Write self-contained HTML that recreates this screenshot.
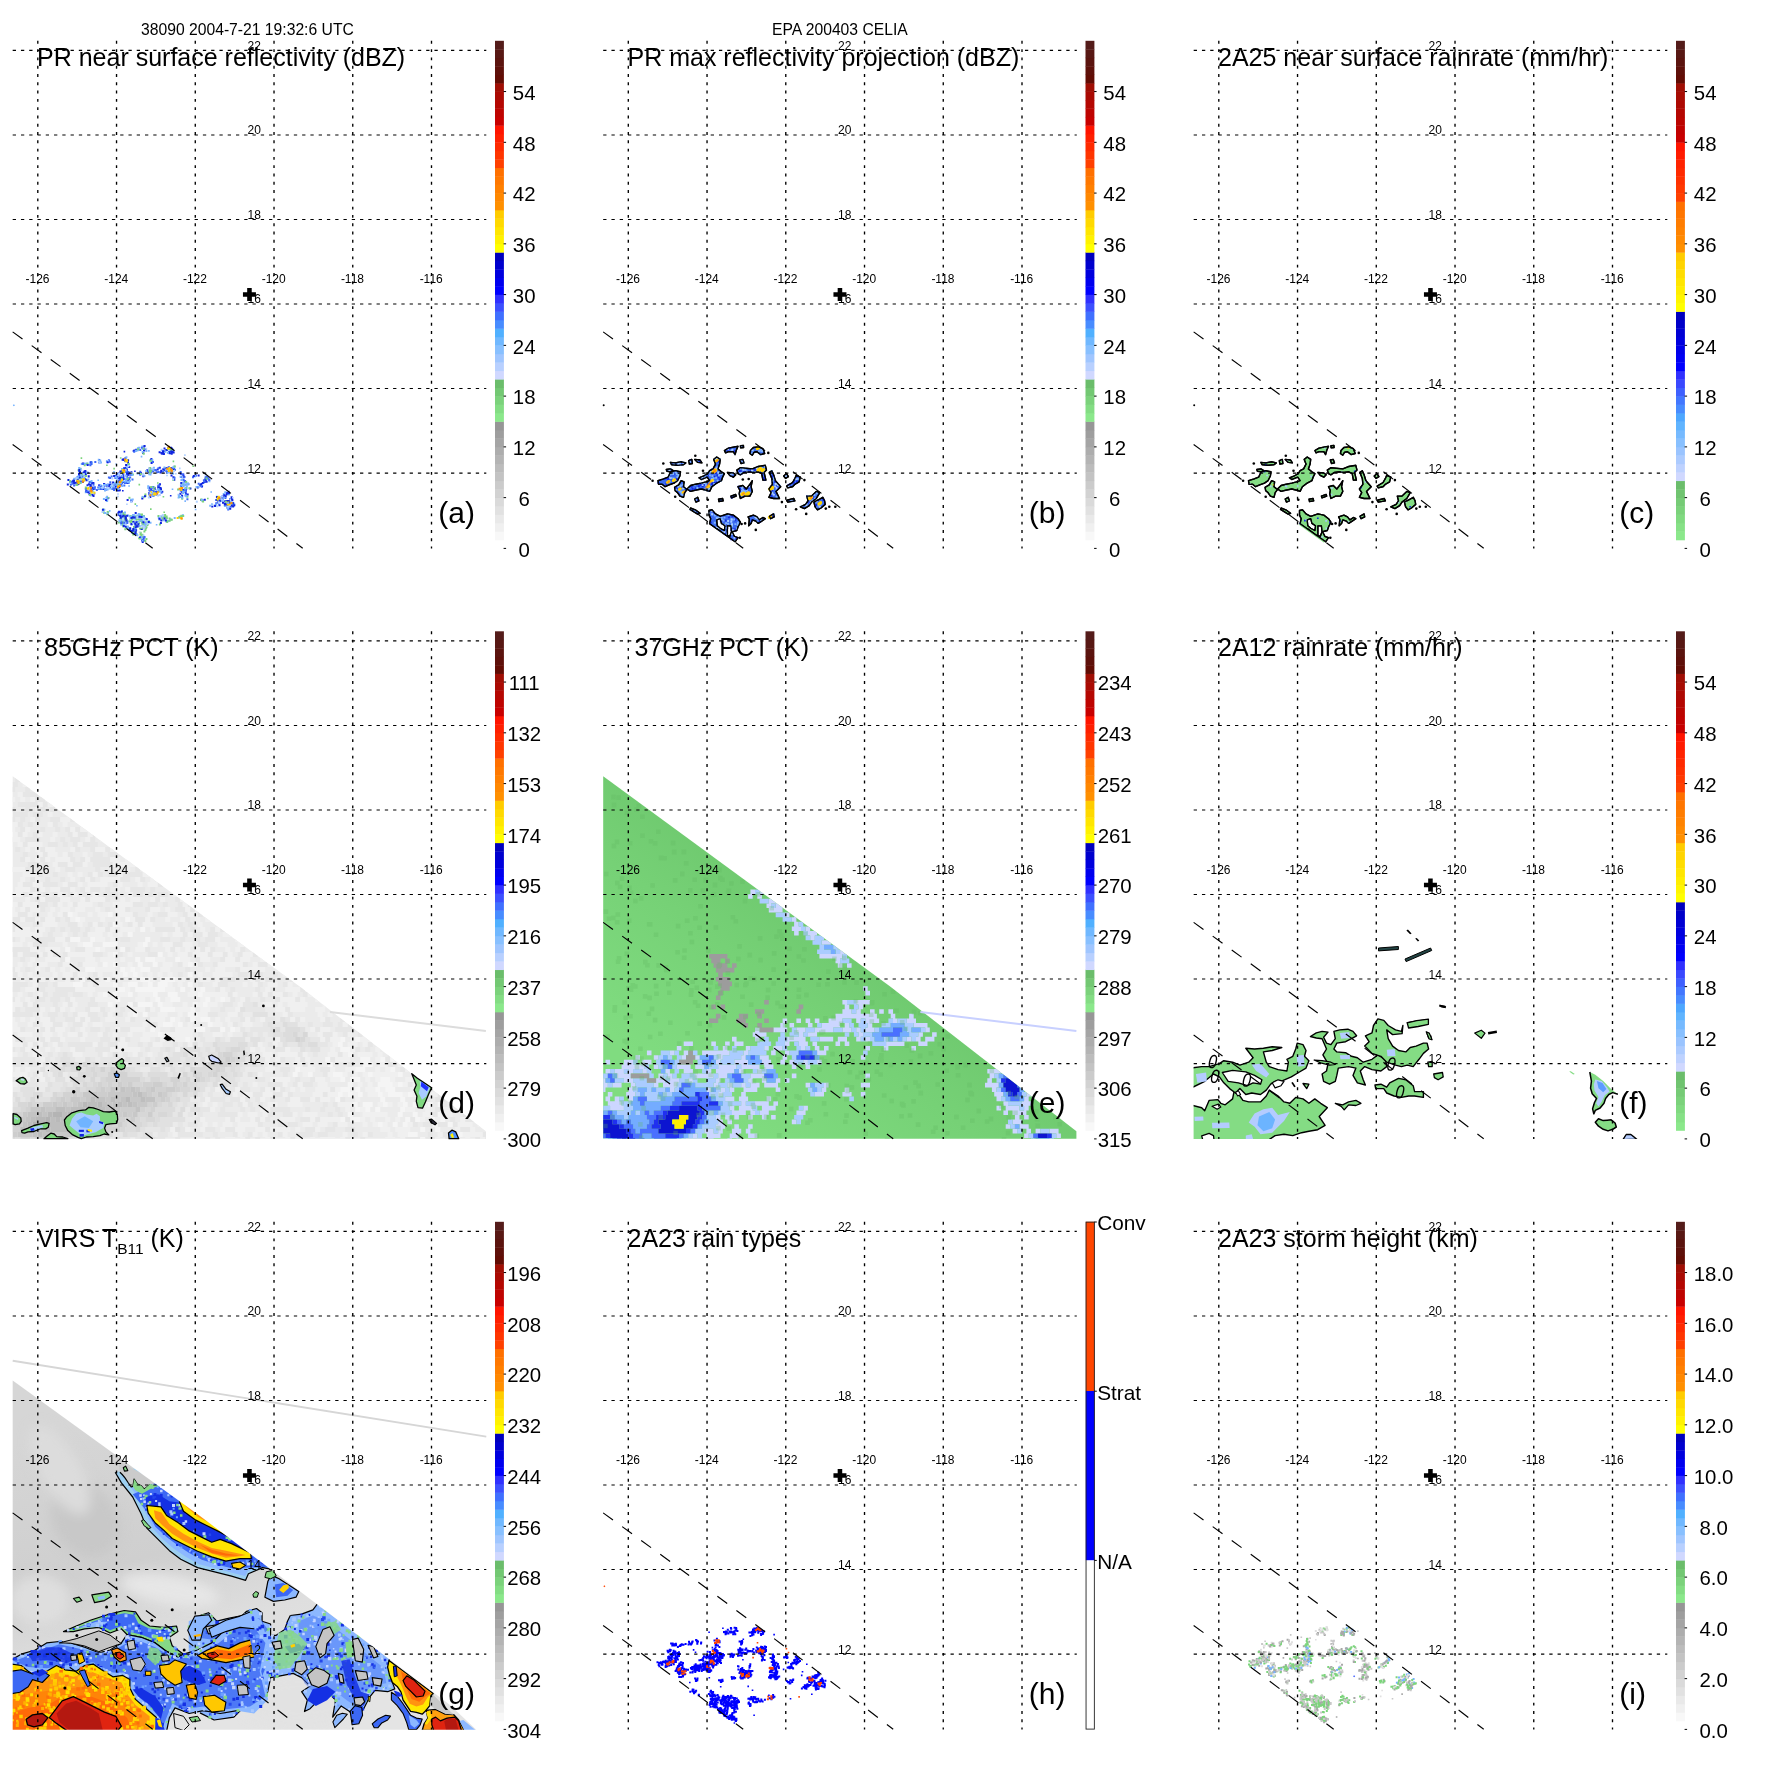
<!DOCTYPE html>
<html><head><meta charset="utf-8"><title>TRMM overpass 38090 - EPA 200403 CELIA</title>
<style>
html,body{margin:0;padding:0;background:#fff;}
svg{display:block;}
text{font-family:"Liberation Sans",Arial,Helvetica,sans-serif;fill:#000;}
.gl{font-size:12px;}
.cb{font-size:20.4px;}
.tt{font-size:25px;}
.pl{font-size:30px;}
.hd{font-size:15.7px;}
</style></head>
<body>
<svg width="1771" height="1771" viewBox="0 0 1771 1771">
<rect width="1771" height="1771" fill="#fff"/>
<defs><filter id="bl6" x="-50%" y="-50%" width="200%" height="200%"><feGaussianBlur stdDeviation="6"/></filter><filter id="bl3" x="-50%" y="-50%" width="200%" height="200%"><feGaussianBlur stdDeviation="3"/></filter><filter id="bl12" x="-50%" y="-50%" width="200%" height="200%"><feGaussianBlur stdDeviation="12"/></filter><clipPath id="clipd"><path d="M12.7 776.2L300 986.8L485.9 1131.3V1138.7H12.7Z"/></clipPath><clipPath id="clipe"><path d="M603.2 776.2L890.5 986.8L1076.4 1131.3V1138.7H603.2Z"/></clipPath></defs><defs><filter id="noop" filterUnits="userSpaceOnUse" x="0" y="0" width="1771" height="1771"><feOffset dx="0" dy="0"/></filter></defs><g filter="url(#noop)"><text x="141" y="34.6" class="hd">38090 2004-7-21 19:32:6 UTC</text>
<text x="772" y="34.6" class="hd">EPA 200403 CELIA</text>
<path d="M147.5 524.9h.01M135.3 529.0h.01M123.3 517.4h.01M140.1 519.4h.01M144.6 518.8h.01M144.4 531.5h.01M125.2 515.5h.01M136.4 519.7h.01M126.5 528.0h.01M124.2 520.7h.01M133.2 534.4h.01M138.3 522.3h.01M123.2 523.5h.01M137.1 518.5h.01M139.9 515.4h.01M132.5 532.1h.01M122.9 525.3h.01M143.4 540.4h.01M141.5 536.5h.01M144.3 520.9h.01M124.6 519.6h.01M145.3 541.0h.01M136.5 524.1h.01M125.0 516.6h.01M133.8 517.9h.01M145.3 522.4h.01M142.7 525.1h.01M130.4 516.1h.01M142.4 534.8h.01M141.5 516.9h.01M133.3 515.5h.01M148.2 523.5h.01M136.6 518.4h.01M131.7 516.4h.01M120.2 518.8h.01M135.5 529.9h.01M124.6 524.1h.01M129.3 528.4h.01M133.2 532.4h.01M121.6 520.0h.01M123.5 520.9h.01M139.0 514.8h.01M135.7 532.3h.01M136.4 516.4h.01M135.9 519.0h.01M140.1 528.4h.01M120.8 520.1h.01M143.9 515.9h.01M135.8 533.7h.01M123.3 513.3h.01M124.7 514.6h.01M143.9 521.9h.01M146.5 527.3h.01M141.4 520.0h.01M141.9 522.7h.01M123.4 526.6h.01M135.9 523.2h.01M127.0 527.9h.01M125.7 519.0h.01M139.2 538.3h.01M143.8 522.7h.01M139.3 514.8h.01M146.9 523.4h.01M126.7 519.8h.01M134.0 527.0h.01M121.8 518.3h.01M136.6 516.9h.01M134.3 515.9h.01M123.0 514.6h.01M137.0 526.5h.01M130.7 522.6h.01M135.0 533.3h.01M122.4 522.2h.01M125.8 517.3h.01M120.1 521.6h.01M140.5 538.4h.01M124.5 521.0h.01M124.8 516.2h.01M139.7 520.2h.01M140.1 538.4h.01M132.1 521.5h.01M121.0 522.4h.01M129.7 521.2h.01M132.6 519.1h.01M145.9 528.3h.01M119.7 513.7h.01M125.0 516.5h.01M130.7 519.0h.01M123.2 525.2h.01M122.7 524.2h.01M143.1 536.9h.01M122.8 521.2h.01M130.9 520.5h.01M131.4 530.7h.01M121.1 520.3h.01M137.5 518.5h.01M134.4 522.8h.01M140.1 514.6h.01M134.9 530.6h.01M131.2 521.2h.01M125.9 522.1h.01M145.4 530.1h.01M132.5 530.8h.01M124.4 525.4h.01M143.7 528.1h.01M141.7 515.9h.01M138.5 519.2h.01M141.2 521.1h.01M139.1 523.2h.01M125.3 529.2h.01M136.3 523.9h.01M138.0 524.7h.01M140.5 534.6h.01M146.4 538.9h.01M134.4 527.6h.01M125.2 522.4h.01M140.7 532.7h.01M118.9 522.5h.01M131.4 518.8h.01M134.8 526.7h.01M148.9 521.2h.01M133.6 532.9h.01M140.9 528.9h.01M143.6 523.6h.01M144.8 524.7h.01M133.7 532.5h.01M142.0 514.4h.01M123.8 521.0h.01M129.7 529.6h.01" stroke="#7cd47c" stroke-width="2.0" stroke-linecap="square" fill="none"/><path d="M145.3 526.4h.01M133.1 515.0h.01M121.0 512.1h.01M136.6 534.0h.01M146.5 524.0h.01M134.1 517.2h.01M139.0 517.2h.01M143.7 516.3h.01M121.2 524.5h.01M121.2 516.4h.01M135.4 522.8h.01M146.3 524.3h.01M134.4 515.2h.01M121.9 511.0h.01M134.9 522.4h.01M140.9 537.1h.01M145.0 523.7h.01M139.8 520.8h.01M142.3 525.5h.01M132.3 530.6h.01M137.6 521.7h.01M130.8 516.7h.01M134.8 528.3h.01M134.7 534.0h.01M139.7 526.1h.01M144.7 537.6h.01M121.2 515.1h.01M142.4 520.5h.01M147.3 521.8h.01M135.9 529.6h.01M121.6 517.5h.01M135.0 519.1h.01M132.2 532.9h.01M137.2 515.5h.01M145.3 518.4h.01M120.6 516.6h.01M123.9 524.5h.01M131.5 524.7h.01M133.2 523.0h.01M142.2 520.7h.01M140.0 515.4h.01M143.7 522.6h.01M135.5 526.4h.01M143.3 516.7h.01M128.4 529.1h.01M147.4 522.6h.01M129.7 516.6h.01M138.7 514.0h.01M128.2 515.6h.01M137.4 535.2h.01M134.9 522.4h.01M146.8 520.3h.01M144.6 537.0h.01M144.0 521.7h.01M121.1 520.5h.01M125.0 512.6h.01M121.4 520.8h.01M141.6 517.7h.01M121.9 516.4h.01M136.9 522.4h.01M120.9 522.0h.01M150.5 522.8h.01M124.2 521.4h.01M121.5 515.4h.01M121.5 513.9h.01M121.6 514.7h.01M139.8 517.8h.01" stroke="#78b4ff" stroke-width="2.0" stroke-linecap="square" fill="none"/><path d="M134.0 519.9h.01M137.5 522.9h.01M125.4 524.6h.01M144.5 527.4h.01M144.7 518.6h.01M144.0 528.4h.01M148.0 523.3h.01M119.4 520.0h.01M125.1 526.4h.01M147.4 523.8h.01M143.5 535.4h.01M133.5 523.4h.01M143.3 526.2h.01M141.8 538.8h.01M142.9 527.0h.01M137.4 518.0h.01M123.0 518.4h.01M148.7 522.5h.01M130.8 523.9h.01M125.4 524.5h.01M125.3 522.6h.01M129.7 530.7h.01M142.6 526.2h.01M126.0 524.0h.01M136.9 523.5h.01M123.1 519.8h.01M147.3 520.7h.01M130.1 519.2h.01M144.2 521.1h.01" stroke="#b0d0ff" stroke-width="2.0" stroke-linecap="square" fill="none"/><path d="M143.4 522.3h.01M121.4 522.7h.01M136.5 522.2h.01M135.7 513.1h.01M143.0 539.5h.01M137.7 526.4h.01M132.9 530.7h.01M135.5 533.4h.01M135.6 524.8h.01M143.5 538.2h.01M122.4 516.5h.01M136.9 526.2h.01M141.5 517.0h.01M141.8 529.1h.01M134.6 533.9h.01M123.6 515.8h.01M125.8 526.7h.01M127.1 515.8h.01M135.5 532.0h.01M135.7 527.2h.01M125.7 518.3h.01M132.8 517.4h.01M133.1 517.2h.01M135.8 530.6h.01M131.4 531.0h.01M121.7 511.7h.01M136.1 530.3h.01M148.8 522.1h.01M129.6 529.7h.01M146.7 519.1h.01M138.4 524.3h.01M134.7 517.6h.01M139.4 516.7h.01M133.4 522.0h.01M135.2 523.7h.01M131.5 517.9h.01" stroke="#1024e0" stroke-width="2.0" stroke-linecap="square" fill="none"/><path d="M162.8 515.5h.01M168.6 521.0h.01M166.7 518.2h.01M163.8 520.3h.01M166.5 521.7h.01M163.7 517.1h.01M160.3 517.2h.01M170.7 519.4h.01M174.7 517.9h.01M160.8 516.5h.01M159.5 519.4h.01M158.7 517.5h.01" stroke="#78b4ff" stroke-width="2.0" stroke-linecap="square" fill="none"/><path d="M166.6 516.6h.01M169.7 520.8h.01M161.0 517.9h.01M161.8 517.8h.01M162.5 519.0h.01M167.2 522.1h.01M159.9 524.4h.01M162.2 519.5h.01M167.3 521.2h.01M162.5 519.2h.01M165.0 517.2h.01M165.1 515.0h.01M158.5 516.0h.01M171.8 519.7h.01M166.7 518.3h.01M169.6 518.6h.01M164.4 516.6h.01" stroke="#7cd47c" stroke-width="2.0" stroke-linecap="square" fill="none"/><path d="M161.3 519.9h.01M163.1 515.4h.01M160.0 516.7h.01M160.5 518.2h.01" stroke="#b0d0ff" stroke-width="2.0" stroke-linecap="square" fill="none"/><path d="M161.3 520.5h.01M165.9 520.5h.01M159.5 518.8h.01M160.9 522.9h.01M164.5 518.6h.01" stroke="#1024e0" stroke-width="2.0" stroke-linecap="square" fill="none"/><path d="M179.9 516.8h.01M179.0 517.3h.01M183.0 515.2h.01" stroke="#78b4ff" stroke-width="2.0" stroke-linecap="square" fill="none"/><path d="M181.4 515.8h.01M181.1 517.1h.01M183.2 515.9h.01M179.1 517.6h.01M180.5 516.6h.01" stroke="#7cd47c" stroke-width="2.0" stroke-linecap="square" fill="none"/><path d="M143.4 497.2h.01M145.5 495.9h.01M145.4 494.5h.01" stroke="#7cd47c" stroke-width="2.0" stroke-linecap="square" fill="none"/><path d="M145.0 496.3h.01M142.3 498.5h.01" stroke="#1024e0" stroke-width="2.0" stroke-linecap="square" fill="none"/><path d="M142.5 496.9h.01" stroke="#78b4ff" stroke-width="2.0" stroke-linecap="square" fill="none"/><path d="M201.1 500.0h.01M202.6 500.6h.01M204.8 499.8h.01" stroke="#1024e0" stroke-width="2.0" stroke-linecap="square" fill="none"/><path d="M202.8 501.2h.01M203.1 501.5h.01M201.2 499.9h.01M201.5 499.8h.01M201.2 499.6h.01" stroke="#7cd47c" stroke-width="2.0" stroke-linecap="square" fill="none"/><path d="M196.8 501.7h.01" stroke="#b0d0ff" stroke-width="2.0" stroke-linecap="square" fill="none"/><path d="M202.0 499.8h.01" stroke="#78b4ff" stroke-width="2.0" stroke-linecap="square" fill="none"/><path d="M103.5 510.6h.01M107.7 511.9h.01M108.1 512.5h.01M104.0 512.8h.01M103.4 509.4h.01M107.2 514.3h.01" stroke="#7cd47c" stroke-width="2.0" stroke-linecap="square" fill="none"/><path d="M105.0 513.0h.01M103.1 510.3h.01M104.3 509.8h.01M107.5 513.4h.01" stroke="#78b4ff" stroke-width="2.0" stroke-linecap="square" fill="none"/><path d="M102.5 512.0h.01" stroke="#b0d0ff" stroke-width="2.0" stroke-linecap="square" fill="none"/><path d="M102.9 509.7h.01" stroke="#1024e0" stroke-width="2.0" stroke-linecap="square" fill="none"/><path d="M91.9 463.8h.01M89.8 462.8h.01" stroke="#b0d0ff" stroke-width="2.0" stroke-linecap="square" fill="none"/><path d="M86.0 463.8h.01M89.3 464.6h.01M84.3 463.4h.01M81.8 464.0h.01M87.1 463.6h.01M90.6 461.9h.01M91.5 462.1h.01" stroke="#78b4ff" stroke-width="2.0" stroke-linecap="square" fill="none"/><path d="M87.3 463.8h.01M84.7 465.2h.01" stroke="#7cd47c" stroke-width="2.0" stroke-linecap="square" fill="none"/><path d="M90.9 462.6h.01M87.6 465.1h.01M82.8 463.6h.01" stroke="#1024e0" stroke-width="2.0" stroke-linecap="square" fill="none"/><path d="M95.3 462.0h.01M91.4 463.9h.01M83.1 463.9h.01M91.4 462.7h.01M90.4 465.2h.01" stroke="#3c68f8" stroke-width="2.0" stroke-linecap="square" fill="none"/><path d="M99.4 462.5h.01M99.1 460.0h.01" stroke="#1024e0" stroke-width="2.0" stroke-linecap="square" fill="none"/><path d="M100.2 460.6h.01M101.0 462.5h.01" stroke="#78b4ff" stroke-width="2.0" stroke-linecap="square" fill="none"/><path d="M99.0 461.8h.01" stroke="#3c68f8" stroke-width="2.0" stroke-linecap="square" fill="none"/><path d="M98.9 461.3h.01M99.5 462.7h.01" stroke="#b0d0ff" stroke-width="2.0" stroke-linecap="square" fill="none"/><path d="M106.9 461.3h.01M107.7 462.1h.01M107.2 461.0h.01" stroke="#78b4ff" stroke-width="2.0" stroke-linecap="square" fill="none"/><path d="M109.2 461.4h.01M109.7 461.7h.01M108.9 460.3h.01" stroke="#3c68f8" stroke-width="2.0" stroke-linecap="square" fill="none"/><path d="M107.9 461.3h.01" stroke="#b0d0ff" stroke-width="2.0" stroke-linecap="square" fill="none"/><path d="M107.6 462.3h.01" stroke="#1024e0" stroke-width="2.0" stroke-linecap="square" fill="none"/><path d="M145.4 449.3h.01M144.1 446.4h.01M134.4 450.5h.01M144.6 445.9h.01M143.2 453.1h.01M133.7 451.1h.01M144.0 450.4h.01M136.2 449.8h.01" stroke="#1024e0" stroke-width="2.0" stroke-linecap="square" fill="none"/><path d="M143.3 449.1h.01M146.2 448.7h.01M137.9 448.6h.01" stroke="#b0d0ff" stroke-width="2.0" stroke-linecap="square" fill="none"/><path d="M139.1 447.7h.01M142.7 452.1h.01M136.3 451.1h.01M135.9 450.8h.01M138.4 449.5h.01M146.4 450.9h.01M142.3 446.4h.01M138.0 448.3h.01M137.8 450.2h.01" stroke="#78b4ff" stroke-width="2.0" stroke-linecap="square" fill="none"/><path d="M134.2 451.8h.01M143.6 449.0h.01M141.8 447.8h.01M140.3 450.0h.01M143.9 448.7h.01" stroke="#3c68f8" stroke-width="2.0" stroke-linecap="square" fill="none"/><path d="M138.1 449.3h.01M143.7 453.8h.01M143.6 448.8h.01" stroke="#7cd47c" stroke-width="2.0" stroke-linecap="square" fill="none"/><path d="M140.9 473.0h.01M143.3 476.3h.01" stroke="#1024e0" stroke-width="2.0" stroke-linecap="square" fill="none"/><path d="M137.6 473.4h.01M144.4 475.9h.01M143.2 474.3h.01M140.0 474.0h.01" stroke="#78b4ff" stroke-width="2.0" stroke-linecap="square" fill="none"/><path d="M140.3 471.8h.01M140.2 474.8h.01" stroke="#3c68f8" stroke-width="2.0" stroke-linecap="square" fill="none"/><path d="M142.8 474.5h.01M143.3 473.8h.01M137.9 473.4h.01" stroke="#b0d0ff" stroke-width="2.0" stroke-linecap="square" fill="none"/><path d="M140.8 474.0h.01" stroke="#7cd47c" stroke-width="2.0" stroke-linecap="square" fill="none"/><path d="M150.4 460.9h.01" stroke="#b0d0ff" stroke-width="2.0" stroke-linecap="square" fill="none"/><path d="M150.4 460.2h.01M151.5 461.0h.01" stroke="#7cd47c" stroke-width="2.0" stroke-linecap="square" fill="none"/><path d="M151.4 459.0h.01M151.6 463.1h.01" stroke="#1024e0" stroke-width="2.0" stroke-linecap="square" fill="none"/><path d="M153.0 462.0h.01" stroke="#3c68f8" stroke-width="2.0" stroke-linecap="square" fill="none"/><path d="M152.3 459.9h.01" stroke="#78b4ff" stroke-width="2.0" stroke-linecap="square" fill="none"/><path d="M180.9 485.2h.01M180.7 496.9h.01M183.7 483.1h.01M178.4 494.7h.01M182.9 477.9h.01M181.9 479.5h.01M181.9 474.4h.01M183.3 483.2h.01M182.5 484.3h.01M187.1 487.0h.01M187.0 488.7h.01M183.3 479.2h.01M180.2 490.3h.01" stroke="#b0d0ff" stroke-width="2.0" stroke-linecap="square" fill="none"/><path d="M183.9 490.0h.01M181.3 483.0h.01M185.5 492.3h.01M184.3 476.9h.01M183.6 476.2h.01M182.1 495.7h.01M181.8 489.8h.01M190.4 488.5h.01M180.9 490.4h.01M185.0 481.3h.01M180.8 473.8h.01M182.0 497.2h.01M187.7 494.6h.01M183.3 474.6h.01M182.2 492.0h.01M185.9 490.3h.01M186.2 494.4h.01M183.6 485.3h.01M186.0 493.7h.01M180.4 493.8h.01" stroke="#1024e0" stroke-width="2.0" stroke-linecap="square" fill="none"/><path d="M188.5 484.2h.01M183.6 480.5h.01M186.1 494.5h.01M182.8 474.5h.01M181.0 487.4h.01M185.2 489.3h.01M181.4 485.4h.01M182.8 483.4h.01M183.6 480.1h.01M184.1 477.3h.01M185.6 488.7h.01M181.7 489.9h.01M185.5 484.7h.01M185.8 490.7h.01M187.4 499.2h.01M180.6 472.0h.01M181.0 477.0h.01M185.3 481.6h.01" stroke="#3c68f8" stroke-width="2.0" stroke-linecap="square" fill="none"/><path d="M186.1 488.0h.01M182.2 498.8h.01M187.9 483.8h.01M183.1 484.1h.01M179.4 497.1h.01M178.1 489.6h.01M189.4 488.3h.01M186.2 482.1h.01M187.4 496.8h.01" stroke="#7cd47c" stroke-width="2.0" stroke-linecap="square" fill="none"/><path d="M183.3 486.2h.01M186.3 496.3h.01M184.4 491.5h.01M183.8 485.5h.01M183.0 493.0h.01M183.5 483.1h.01M182.7 491.6h.01M181.5 479.9h.01M184.6 485.0h.01M186.4 483.7h.01M186.6 486.2h.01M179.1 495.6h.01M187.4 484.5h.01M182.0 484.9h.01M185.3 495.4h.01M180.6 476.8h.01M182.3 497.8h.01M184.9 488.6h.01M181.3 497.0h.01M178.6 497.6h.01M187.9 483.4h.01" stroke="#78b4ff" stroke-width="2.0" stroke-linecap="square" fill="none"/><path d="M80.5 468.8h.01M78.6 470.3h.01" stroke="#7cd47c" stroke-width="2.0" stroke-linecap="square" fill="none"/><path d="M79.2 468.0h.01M80.7 469.3h.01" stroke="#78b4ff" stroke-width="2.0" stroke-linecap="square" fill="none"/><path d="M79.7 471.1h.01M79.0 471.2h.01" stroke="#3c68f8" stroke-width="2.0" stroke-linecap="square" fill="none"/><path d="M81.2 470.4h.01" stroke="#b0d0ff" stroke-width="2.0" stroke-linecap="square" fill="none"/><path d="M79.3 470.0h.01" stroke="#1024e0" stroke-width="2.0" stroke-linecap="square" fill="none"/><path d="M103.9 498.9h.01M107.1 496.7h.01M107.1 501.0h.01M106.4 497.7h.01M107.5 499.3h.01" stroke="#78b4ff" stroke-width="2.0" stroke-linecap="square" fill="none"/><path d="M108.4 498.0h.01" stroke="#3c68f8" stroke-width="2.0" stroke-linecap="square" fill="none"/><path d="M106.0 500.1h.01" stroke="#1024e0" stroke-width="2.0" stroke-linecap="square" fill="none"/><path d="M131.5 501.2h.01M131.2 500.5h.01M127.6 500.1h.01" stroke="#1024e0" stroke-width="2.0" stroke-linecap="square" fill="none"/><path d="M129.4 497.8h.01" stroke="#7cd47c" stroke-width="2.0" stroke-linecap="square" fill="none"/><path d="M131.2 501.9h.01" stroke="#b0d0ff" stroke-width="2.0" stroke-linecap="square" fill="none"/><path d="M132.7 499.4h.01M131.3 499.8h.01" stroke="#78b4ff" stroke-width="2.0" stroke-linecap="square" fill="none"/><path d="M77.5 484.6h.01M85.0 478.9h.01M70.8 484.8h.01M81.1 474.5h.01M81.1 479.7h.01M77.4 484.2h.01M82.3 480.2h.01M81.2 481.2h.01M76.5 484.7h.01M77.6 476.9h.01M79.2 476.5h.01M84.8 474.3h.01M79.1 474.4h.01M72.0 481.8h.01M83.7 474.1h.01M77.0 482.3h.01M73.4 482.5h.01M81.2 478.2h.01M72.4 483.7h.01M79.1 483.4h.01M74.1 485.4h.01M70.3 481.5h.01" stroke="#3c68f8" stroke-width="2.0" stroke-linecap="square" fill="none"/><path d="M86.7 480.3h.01M79.7 474.9h.01M87.7 472.8h.01M73.3 481.0h.01M88.7 476.4h.01M85.6 472.4h.01M73.9 481.5h.01M80.1 481.6h.01M74.1 479.7h.01M84.6 471.5h.01M82.0 478.9h.01M78.2 477.3h.01M83.6 474.6h.01M77.5 480.1h.01M81.1 475.9h.01M81.6 477.6h.01M85.4 471.0h.01M82.3 474.4h.01M85.8 474.1h.01M68.4 479.9h.01M80.4 482.6h.01M84.2 472.3h.01M84.4 472.2h.01M82.9 481.9h.01M85.6 479.6h.01M73.2 480.7h.01M77.1 481.9h.01M79.7 477.8h.01M78.1 484.1h.01M84.7 479.0h.01M81.0 480.7h.01M80.0 472.1h.01M83.4 472.7h.01M88.7 476.2h.01M73.7 481.2h.01M77.8 478.7h.01M84.2 479.0h.01M83.6 473.8h.01M74.2 483.3h.01M67.8 484.6h.01M80.0 482.3h.01M82.4 476.6h.01M79.0 474.1h.01M75.3 482.7h.01" stroke="#1024e0" stroke-width="2.0" stroke-linecap="square" fill="none"/><path d="M80.7 475.6h.01M84.3 480.4h.01M83.4 474.5h.01M81.2 475.0h.01M84.6 477.6h.01M74.3 478.8h.01M82.4 478.5h.01M77.9 478.1h.01M86.8 472.8h.01M83.3 474.9h.01M70.0 482.4h.01M88.3 479.5h.01M81.6 476.8h.01M76.1 478.5h.01M80.9 482.4h.01M78.2 476.5h.01" stroke="#78b4ff" stroke-width="2.0" stroke-linecap="square" fill="none"/><path d="M83.6 474.3h.01M77.7 481.7h.01M70.0 481.3h.01M80.2 482.9h.01M78.9 482.8h.01M80.6 479.2h.01M76.8 485.0h.01M85.9 476.1h.01M82.8 474.2h.01" stroke="#7cd47c" stroke-width="2.0" stroke-linecap="square" fill="none"/><path d="M83.8 474.2h.01M81.1 479.8h.01M76.4 478.3h.01" stroke="#b0d0ff" stroke-width="2.0" stroke-linecap="square" fill="none"/><path d="M90.8 482.2h.01M93.4 492.2h.01M90.8 491.0h.01M92.7 492.4h.01M91.7 482.5h.01M92.7 491.2h.01M92.8 488.8h.01M85.7 489.0h.01M91.5 481.1h.01M91.4 482.3h.01M90.6 484.4h.01M90.0 494.6h.01M85.8 492.2h.01M90.3 485.1h.01" stroke="#78b4ff" stroke-width="2.0" stroke-linecap="square" fill="none"/><path d="M86.3 488.4h.01M90.5 492.7h.01M89.5 494.2h.01M93.4 483.0h.01M92.2 494.9h.01M91.7 487.5h.01M94.2 493.6h.01M90.6 485.0h.01M86.9 491.4h.01M88.9 484.3h.01M93.7 489.1h.01M91.2 489.3h.01M91.2 490.1h.01M93.0 487.7h.01M90.4 486.9h.01M86.3 490.9h.01M93.5 496.0h.01M92.2 483.3h.01M87.5 485.2h.01M88.1 492.2h.01M90.8 486.2h.01" stroke="#1024e0" stroke-width="2.0" stroke-linecap="square" fill="none"/><path d="M93.5 484.7h.01M94.7 489.0h.01M90.6 489.9h.01M94.9 487.2h.01M89.6 481.9h.01M93.8 487.7h.01M90.0 490.7h.01M88.2 491.0h.01M86.4 491.4h.01M92.0 490.9h.01" stroke="#3c68f8" stroke-width="2.0" stroke-linecap="square" fill="none"/><path d="M92.2 493.0h.01M89.0 489.7h.01M88.0 489.2h.01M93.7 492.7h.01M91.6 491.8h.01M90.7 495.7h.01M91.2 492.8h.01M89.3 488.5h.01M93.3 492.9h.01" stroke="#b0d0ff" stroke-width="2.0" stroke-linecap="square" fill="none"/><path d="M85.8 487.4h.01M89.9 495.0h.01" stroke="#7cd47c" stroke-width="2.0" stroke-linecap="square" fill="none"/><path d="M113.9 484.5h.01M122.6 459.7h.01M123.4 468.9h.01M123.5 459.3h.01M103.7 486.6h.01M116.3 486.6h.01M128.1 460.2h.01M128.2 465.6h.01M115.8 475.9h.01M128.0 462.6h.01M110.4 484.4h.01M108.9 486.1h.01M123.8 460.1h.01M125.8 467.7h.01M125.0 460.8h.01M124.1 468.3h.01M119.4 486.5h.01M120.1 477.7h.01M122.0 477.5h.01M131.4 472.3h.01M118.5 481.3h.01M127.2 478.4h.01M120.3 479.4h.01M116.9 488.3h.01M128.6 472.9h.01M104.0 483.9h.01M126.7 479.6h.01M121.3 478.8h.01M121.2 483.3h.01M127.7 474.0h.01M120.8 477.4h.01M118.7 475.0h.01M127.1 477.5h.01M122.3 480.0h.01M129.1 479.7h.01M101.3 488.7h.01M103.6 489.0h.01M128.7 474.7h.01M113.1 482.6h.01M118.4 478.4h.01M125.1 468.4h.01M119.1 487.3h.01M115.5 486.5h.01M128.4 482.9h.01M122.7 479.5h.01M127.4 475.2h.01M121.0 482.4h.01M126.8 470.4h.01M100.7 488.7h.01M121.2 472.5h.01M128.7 478.4h.01M121.7 471.3h.01M126.9 469.6h.01M123.4 482.0h.01M123.2 474.2h.01M122.1 475.9h.01M123.8 481.9h.01M100.8 486.1h.01M109.5 484.8h.01M123.0 469.7h.01M120.4 471.5h.01M126.5 482.7h.01M113.7 484.0h.01M127.5 479.8h.01M126.9 472.6h.01M106.0 489.5h.01M123.7 479.0h.01M99.2 485.3h.01M129.2 467.0h.01M114.1 475.9h.01M119.8 485.6h.01M118.7 490.4h.01M106.2 489.4h.01M126.9 474.5h.01M120.4 481.2h.01M110.6 484.6h.01M122.3 482.2h.01M117.8 490.4h.01M107.8 484.7h.01M99.0 488.2h.01M123.3 475.6h.01M126.1 465.0h.01M131.5 473.5h.01M106.6 485.9h.01M113.4 487.8h.01M121.4 478.8h.01M119.8 490.3h.01M115.8 486.8h.01M123.4 477.2h.01M120.9 477.6h.01M118.7 473.6h.01M124.5 471.7h.01M104.5 484.6h.01M117.0 473.9h.01M116.1 483.5h.01M110.0 487.3h.01M121.2 485.1h.01M99.0 488.9h.01" stroke="#1024e0" stroke-width="2.0" stroke-linecap="square" fill="none"/><path d="M128.4 478.6h.01M123.2 469.7h.01M121.2 482.6h.01M121.8 478.9h.01M118.0 485.1h.01M132.9 474.4h.01M128.8 463.9h.01" stroke="#7cd47c" stroke-width="2.0" stroke-linecap="square" fill="none"/><path d="M128.5 472.0h.01M125.2 470.3h.01M96.9 489.9h.01M111.6 476.6h.01M117.4 476.9h.01M126.3 479.3h.01M122.9 472.6h.01M110.3 482.3h.01M110.1 478.0h.01M98.3 487.6h.01M119.3 475.5h.01M126.1 482.6h.01M116.1 477.4h.01M125.6 457.9h.01M120.3 480.0h.01M117.9 489.0h.01M116.8 476.8h.01M99.6 487.6h.01M112.3 489.0h.01M130.2 477.5h.01M124.3 485.6h.01M102.0 488.8h.01M101.6 489.1h.01M132.5 479.4h.01M114.8 488.5h.01M125.4 461.3h.01M116.1 475.8h.01M115.4 477.9h.01M123.1 469.7h.01M125.3 458.5h.01M117.2 489.3h.01M122.4 476.5h.01M105.9 485.0h.01M114.1 489.9h.01M131.2 475.0h.01M116.1 484.4h.01M124.9 482.9h.01M125.7 471.8h.01M126.6 475.8h.01M115.2 488.5h.01M130.5 472.9h.01M122.0 483.2h.01M118.7 482.4h.01M117.7 473.9h.01M119.1 474.2h.01M108.9 477.4h.01" stroke="#3c68f8" stroke-width="2.0" stroke-linecap="square" fill="none"/><path d="M105.0 490.6h.01M125.5 470.4h.01M99.6 487.7h.01M125.3 481.4h.01M126.9 467.3h.01M102.9 486.4h.01M129.0 482.4h.01M117.1 482.5h.01M122.2 485.9h.01M111.8 485.5h.01M132.3 475.0h.01M118.9 474.1h.01M118.5 489.0h.01M113.2 486.8h.01M116.6 478.3h.01M103.6 487.7h.01M114.0 486.6h.01M122.1 475.7h.01M116.6 483.8h.01M107.6 489.6h.01M123.1 481.2h.01M122.1 469.1h.01M115.3 482.8h.01M111.3 488.4h.01M120.8 483.5h.01M115.9 477.1h.01M113.8 484.0h.01M126.3 470.6h.01M126.6 477.9h.01M109.8 488.6h.01M121.2 472.9h.01M120.1 482.4h.01M121.9 480.0h.01M107.6 484.7h.01M100.6 485.3h.01M112.4 485.0h.01M127.9 481.9h.01M106.1 489.2h.01M105.2 484.9h.01M111.0 485.9h.01M126.4 457.3h.01M130.0 480.7h.01M126.2 475.8h.01M99.0 488.7h.01M104.0 485.1h.01M126.2 480.3h.01M117.0 487.5h.01M106.4 489.5h.01" stroke="#78b4ff" stroke-width="2.0" stroke-linecap="square" fill="none"/><path d="M117.1 480.1h.01M124.0 473.3h.01M119.4 473.8h.01M112.1 485.5h.01M118.6 474.9h.01M131.1 473.0h.01M106.8 487.6h.01M128.3 466.0h.01M108.6 487.8h.01M112.3 478.5h.01M103.2 486.4h.01M102.3 487.7h.01" stroke="#b0d0ff" stroke-width="2.0" stroke-linecap="square" fill="none"/><path d="M170.4 448.2h.01M173.2 449.8h.01M163.2 451.0h.01M170.0 449.8h.01M168.2 453.0h.01M161.6 449.7h.01" stroke="#b0d0ff" stroke-width="2.0" stroke-linecap="square" fill="none"/><path d="M171.4 448.2h.01M162.8 450.9h.01M173.1 451.4h.01M172.3 449.2h.01M163.1 450.9h.01M169.1 451.9h.01M167.1 450.1h.01" stroke="#3c68f8" stroke-width="2.0" stroke-linecap="square" fill="none"/><path d="M163.0 451.8h.01M171.1 451.0h.01M168.4 447.7h.01M171.9 451.9h.01M162.9 452.9h.01M170.3 453.3h.01M169.7 453.3h.01M161.5 453.3h.01M171.5 448.4h.01M170.6 448.5h.01M166.4 450.0h.01M164.1 451.6h.01M171.0 447.8h.01M163.9 454.1h.01M171.7 453.7h.01M169.4 452.4h.01M173.6 452.4h.01M159.6 452.2h.01M164.5 448.6h.01M162.2 453.7h.01M162.2 453.0h.01" stroke="#1024e0" stroke-width="2.0" stroke-linecap="square" fill="none"/><path d="M169.5 449.4h.01M165.4 451.8h.01M167.9 452.8h.01" stroke="#78b4ff" stroke-width="2.0" stroke-linecap="square" fill="none"/><path d="M169.7 448.8h.01M168.4 448.8h.01" stroke="#7cd47c" stroke-width="2.0" stroke-linecap="square" fill="none"/><path d="M161.2 470.8h.01M171.5 475.5h.01M172.8 468.8h.01M171.8 470.8h.01M161.2 471.1h.01M163.3 469.3h.01M170.6 468.1h.01M170.0 468.6h.01M150.9 470.8h.01M160.5 472.5h.01M149.7 468.5h.01M173.8 469.0h.01M150.9 469.4h.01M164.5 470.2h.01M168.8 467.5h.01M172.5 469.5h.01M146.9 471.0h.01M166.9 472.7h.01M152.8 471.1h.01M166.7 468.1h.01M150.6 471.8h.01M157.7 469.6h.01M147.3 470.3h.01M168.1 472.0h.01M159.8 467.7h.01M171.0 468.5h.01M170.0 468.1h.01M155.3 470.2h.01M173.5 477.2h.01M172.2 469.8h.01M149.6 471.7h.01M165.2 468.6h.01M174.3 479.7h.01M161.2 471.6h.01" stroke="#1024e0" stroke-width="2.0" stroke-linecap="square" fill="none"/><path d="M163.0 471.6h.01M153.8 470.0h.01M175.0 469.7h.01M158.4 468.3h.01M168.7 467.6h.01M173.3 468.1h.01M170.2 470.8h.01M156.0 470.2h.01M169.5 468.6h.01M170.4 469.6h.01M173.5 479.0h.01M158.6 471.9h.01M168.3 471.8h.01M157.2 472.2h.01M151.3 472.6h.01M169.7 468.7h.01M174.5 477.7h.01M148.8 472.2h.01M153.1 471.3h.01M166.3 471.1h.01" stroke="#3c68f8" stroke-width="2.0" stroke-linecap="square" fill="none"/><path d="M167.7 468.4h.01M149.4 468.9h.01M169.9 470.5h.01M172.7 471.2h.01M169.2 469.2h.01M150.5 474.6h.01M173.2 467.2h.01M164.4 467.5h.01M174.3 466.4h.01M146.2 470.9h.01M171.4 470.0h.01M149.3 474.3h.01M173.1 473.8h.01M165.7 469.7h.01M151.2 471.6h.01M167.4 473.1h.01M151.4 469.2h.01M153.9 467.7h.01M153.4 470.0h.01" stroke="#78b4ff" stroke-width="2.0" stroke-linecap="square" fill="none"/><path d="M174.8 466.4h.01M150.9 470.9h.01M173.1 479.7h.01M149.5 470.5h.01M150.0 472.5h.01M149.8 468.4h.01" stroke="#7cd47c" stroke-width="2.0" stroke-linecap="square" fill="none"/><path d="M152.2 468.4h.01M149.2 468.4h.01M169.4 472.4h.01M173.0 479.2h.01M174.0 471.1h.01" stroke="#b0d0ff" stroke-width="2.0" stroke-linecap="square" fill="none"/><path d="M150.5 494.7h.01M149.4 488.0h.01M158.5 491.4h.01M153.8 492.9h.01M158.6 488.7h.01M158.9 487.2h.01M162.3 491.8h.01M149.3 492.9h.01M154.6 487.9h.01M158.2 487.3h.01M161.0 489.3h.01M149.3 487.4h.01M156.5 494.6h.01M158.3 488.6h.01M159.3 489.9h.01M157.5 490.8h.01M154.7 489.0h.01M159.5 488.9h.01M151.7 487.8h.01M160.6 488.0h.01M160.0 484.2h.01M160.4 488.9h.01M150.3 496.9h.01M155.8 491.8h.01M157.1 491.3h.01M149.3 494.3h.01M156.3 492.7h.01M158.5 485.8h.01M151.1 489.8h.01" stroke="#1024e0" stroke-width="2.0" stroke-linecap="square" fill="none"/><path d="M159.4 485.4h.01M151.7 490.6h.01M154.1 494.7h.01M153.2 486.9h.01M149.3 490.3h.01M150.3 491.4h.01M153.3 490.9h.01M155.8 493.7h.01M159.1 489.6h.01M153.6 491.2h.01M155.7 492.3h.01M152.6 487.4h.01M152.6 494.5h.01M158.7 485.4h.01M161.5 492.7h.01M153.3 496.1h.01M151.4 490.5h.01M157.0 493.8h.01" stroke="#3c68f8" stroke-width="2.0" stroke-linecap="square" fill="none"/><path d="M155.7 494.3h.01M158.1 495.5h.01M151.8 492.0h.01M148.9 497.6h.01M157.2 490.1h.01M159.8 495.1h.01" stroke="#b0d0ff" stroke-width="2.0" stroke-linecap="square" fill="none"/><path d="M153.7 495.5h.01M148.2 486.3h.01M151.9 495.2h.01M148.3 487.9h.01M149.6 494.8h.01M160.7 490.9h.01M158.3 489.1h.01M153.6 493.0h.01M159.3 490.6h.01M151.9 487.5h.01" stroke="#78b4ff" stroke-width="2.0" stroke-linecap="square" fill="none"/><path d="M154.3 487.6h.01M151.2 487.1h.01" stroke="#7cd47c" stroke-width="2.0" stroke-linecap="square" fill="none"/><path d="M205.5 474.5h.01M207.7 478.3h.01M204.0 482.9h.01M205.2 476.9h.01M202.3 485.8h.01" stroke="#b0d0ff" stroke-width="2.0" stroke-linecap="square" fill="none"/><path d="M197.7 487.5h.01M206.6 481.7h.01M204.5 481.9h.01M202.8 482.9h.01M200.2 484.9h.01M205.1 479.5h.01M197.6 487.3h.01M205.8 479.9h.01M202.0 486.4h.01M206.7 476.7h.01M201.3 483.9h.01M209.2 479.6h.01M206.5 478.0h.01" stroke="#1024e0" stroke-width="2.0" stroke-linecap="square" fill="none"/><path d="M196.5 486.9h.01M207.9 478.1h.01M198.8 486.7h.01M209.4 481.2h.01M207.8 478.9h.01" stroke="#78b4ff" stroke-width="2.0" stroke-linecap="square" fill="none"/><path d="M205.7 478.2h.01M204.4 481.6h.01M207.8 478.1h.01M201.1 486.2h.01M209.2 480.0h.01M206.6 477.1h.01M203.9 480.3h.01M198.7 483.7h.01" stroke="#3c68f8" stroke-width="2.0" stroke-linecap="square" fill="none"/><path d="M206.6 478.5h.01" stroke="#7cd47c" stroke-width="2.0" stroke-linecap="square" fill="none"/><path d="M223.8 496.8h.01M227.0 493.2h.01M222.8 498.7h.01M227.1 494.0h.01M220.7 500.1h.01M216.1 500.0h.01M218.8 500.8h.01M225.4 498.0h.01M216.2 503.2h.01M217.9 501.6h.01" stroke="#3c68f8" stroke-width="2.0" stroke-linecap="square" fill="none"/><path d="M210.2 505.8h.01M216.1 504.5h.01M225.3 492.2h.01M220.2 497.7h.01M216.8 496.8h.01M225.1 496.9h.01M220.7 498.8h.01M218.2 500.8h.01M222.7 500.7h.01M223.7 497.7h.01M223.8 494.8h.01M227.7 494.3h.01M220.8 500.8h.01M228.7 494.5h.01M219.1 504.4h.01M223.7 493.9h.01" stroke="#78b4ff" stroke-width="2.0" stroke-linecap="square" fill="none"/><path d="M227.3 492.7h.01M214.9 505.7h.01M217.1 499.7h.01M228.7 491.7h.01M220.1 500.8h.01M222.5 496.5h.01M219.5 505.2h.01M221.5 497.5h.01M225.7 496.2h.01M218.1 502.6h.01M217.0 497.1h.01M215.2 506.0h.01M218.6 498.2h.01M212.3 506.5h.01M217.5 499.9h.01M229.0 493.3h.01M224.3 495.2h.01M226.6 494.3h.01" stroke="#1024e0" stroke-width="2.0" stroke-linecap="square" fill="none"/><path d="M222.3 496.6h.01M217.3 506.3h.01M221.8 499.6h.01M212.3 504.8h.01M218.6 502.2h.01M220.4 497.2h.01M219.6 503.0h.01" stroke="#b0d0ff" stroke-width="2.0" stroke-linecap="square" fill="none"/><path d="M233.2 502.9h.01M230.8 506.7h.01M230.8 502.7h.01M227.5 506.1h.01M227.4 507.7h.01M230.4 506.7h.01M228.2 509.5h.01M230.2 498.9h.01" stroke="#3c68f8" stroke-width="2.0" stroke-linecap="square" fill="none"/><path d="M229.8 508.1h.01M227.0 501.3h.01M228.5 507.9h.01M230.4 501.4h.01M225.3 501.5h.01M228.4 503.6h.01M227.9 508.6h.01M233.3 503.8h.01M224.9 506.0h.01M234.2 504.1h.01M233.7 506.0h.01" stroke="#78b4ff" stroke-width="2.0" stroke-linecap="square" fill="none"/><path d="M228.0 506.5h.01M227.2 501.2h.01M230.7 499.5h.01M227.5 501.2h.01" stroke="#b0d0ff" stroke-width="2.0" stroke-linecap="square" fill="none"/><path d="M234.3 505.3h.01M225.0 503.7h.01M229.6 503.2h.01M232.1 499.3h.01M233.1 506.6h.01M226.8 504.4h.01M231.8 505.4h.01M232.9 503.3h.01M223.0 502.7h.01M224.8 504.4h.01M228.7 503.1h.01M226.9 501.0h.01M225.3 501.2h.01M232.4 503.2h.01M232.4 500.2h.01M231.6 497.2h.01M230.2 508.7h.01M228.8 501.1h.01M227.4 504.3h.01" stroke="#1024e0" stroke-width="2.0" stroke-linecap="square" fill="none"/><path d="M226.0 501.7h.01M231.5 503.2h.01" stroke="#7cd47c" stroke-width="2.0" stroke-linecap="square" fill="none"/><path d="M195.5 476.1h.01M195.9 475.2h.01M193.0 477.2h.01" stroke="#3c68f8" stroke-width="2.0" stroke-linecap="square" fill="none"/><path d="M194.9 475.7h.01" stroke="#b0d0ff" stroke-width="2.0" stroke-linecap="square" fill="none"/><path d="M194.9 476.4h.01" stroke="#78b4ff" stroke-width="2.0" stroke-linecap="square" fill="none"/><path d="M198.6 475.4h.01M193.8 475.9h.01" stroke="#1024e0" stroke-width="2.0" stroke-linecap="square" fill="none"/><path d="M122.4 472.5h.01M122.8 470.1h.01M119.8 482.4h.01M119.5 486.1h.01M78.7 481.5h.01M77.4 480.8h.01M82.6 479.5h.01M88.4 487.9h.01M91.6 492.8h.01M94.4 492.8h.01M169.6 468.1h.01M171.4 470.2h.01M153.9 494.2h.01M150.9 492.2h.01M155.0 493.6h.01M181.0 488.1h.01M217.7 499.4h.01M218.8 496.8h.01M228.2 502.6h.01M169.5 448.1h.01M125.5 460.8h.01M126.9 460.3h.01M181.2 518.0h.01" stroke="#ffe000" stroke-width="2.0" stroke-linecap="square" fill="none"/><path d="M124.1 472.0h.01M122.0 480.0h.01M120.7 481.4h.01M118.0 486.5h.01M78.4 483.3h.01M84.0 479.3h.01M84.2 480.5h.01M87.8 488.7h.01M91.6 491.8h.01M168.8 470.9h.01M168.6 469.2h.01M171.7 470.3h.01M153.7 493.6h.01M158.1 492.3h.01M155.3 494.5h.01M181.2 490.1h.01M217.9 497.7h.01M229.5 504.4h.01M227.7 504.6h.01M168.1 448.6h.01M126.8 461.4h.01M181.6 518.5h.01M177.6 518.0h.01" stroke="#ffd000" stroke-width="2.0" stroke-linecap="square" fill="none"/><path d="M124.3 470.3h.01M119.8 481.9h.01M120.0 485.7h.01M118.1 487.3h.01M77.6 481.8h.01M82.9 481.7h.01M91.0 487.7h.01M90.6 490.2h.01M91.3 491.1h.01M167.2 468.7h.01M171.0 469.3h.01M171.7 470.9h.01M150.4 495.2h.01M157.1 493.5h.01M182.2 488.1h.01M179.6 488.8h.01M219.3 498.1h.01M231.4 503.0h.01M169.0 446.8h.01M168.8 447.1h.01M125.0 459.5h.01M181.6 518.6h.01" stroke="#ff9010" stroke-width="2.0" stroke-linecap="square" fill="none"/><path d="M127.5 521.4h.01M121.2 522.6h.01M143.5 539.9h.01M127.3 522.9h.01M124.3 522.8h.01M144.3 536.9h.01M135.3 530.3h.01" stroke="#3c68f8" stroke-width="2.0" stroke-linecap="square" fill="none"/><path d="M119.1 511.8h.01M119.6 514.6h.01M123.8 526.0h.01M120.2 515.7h.01M142.7 541.9h.01M125.8 518.4h.01M127.4 527.1h.01M118.4 512.8h.01M125.5 516.5h.01M131.5 524.0h.01M133.3 529.0h.01M130.2 528.2h.01M119.6 512.5h.01M142.2 540.4h.01M126.3 520.5h.01M120.8 517.7h.01M129.6 529.9h.01M118.7 514.8h.01" stroke="#1024e0" stroke-width="2.0" stroke-linecap="square" fill="none"/><path d="M142.3 538.3h.01M119.6 521.2h.01M127.7 526.5h.01M127.8 528.4h.01M119.6 514.0h.01" stroke="#78b4ff" stroke-width="2.0" stroke-linecap="square" fill="none"/><path d="M228.0 502.7h.01M142.6 540.6h.01M117.3 478.7h.01M109.7 510.9h.01M172.5 489.2h.01M211.2 492.0h.01M156.6 524.8h.01M152.6 493.2h.01M195.6 509.5h.01M148.9 450.9h.01M185.2 501.1h.01M116.6 484.7h.01M141.5 456.6h.01M211.9 504.0h.01M114.0 471.9h.01M98.6 459.5h.01M98.2 480.3h.01M136.9 505.7h.01M98.6 460.1h.01M129.1 486.0h.01M228.3 503.1h.01" stroke="#78b4ff" stroke-width="1.6" stroke-linecap="square" fill="none"/><path d="M134.9 471.3h.01M122.8 490.7h.01M139.9 537.2h.01M170.7 495.8h.01M124.4 451.6h.01" stroke="#1024e0" stroke-width="1.6" stroke-linecap="square" fill="none"/><path d="M114.1 468.6h.01M142.0 528.3h.01M135.3 504.1h.01M154.2 489.6h.01M81.4 458.1h.01M150.3 467.9h.01M127.6 479.1h.01M173.4 461.4h.01M193.2 466.3h.01M157.8 483.0h.01M150.8 509.1h.01M163.4 496.7h.01M108.3 497.8h.01M106.9 465.3h.01M120.7 458.0h.01M164.2 512.3h.01M86.1 487.8h.01M207.8 498.5h.01M171.0 449.7h.01M139.3 484.6h.01" stroke="#7cd47c" stroke-width="1.6" stroke-linecap="square" fill="none"/><path d="M232.8 497.7h.01M137.3 516.8h.01M175.8 473.7h.01M133.1 523.3h.01M167.0 475.5h.01M184.9 455.1h.01M118.0 496.5h.01M179.8 468.4h.01M150.2 492.9h.01M126.9 504.3h.01M139.6 532.2h.01M125.7 469.5h.01M118.0 494.0h.01M115.9 464.0h.01" stroke="#b0d0ff" stroke-width="1.6" stroke-linecap="square" fill="none"/><path d="M13.9 404.2l1 1l-1 1l-1 -1z" fill="#60a8ff"/><g transform="translate(0.00,0.00)">
<g stroke="#000" stroke-width="1.05" fill="none" stroke-dasharray="3.3 4.97"><line x1="12.68" y1="50.35" x2="486.3" y2="50.35"/><line x1="12.68" y1="134.90" x2="486.3" y2="134.90"/><line x1="12.68" y1="219.45" x2="486.3" y2="219.45"/><line x1="12.68" y1="304.00" x2="486.3" y2="304.00"/><line x1="12.68" y1="388.55" x2="486.3" y2="388.55"/><line x1="12.68" y1="473.10" x2="486.3" y2="473.10"/></g><g stroke="#000" stroke-width="1.35" fill="none" stroke-dasharray="2.9 5.39"><line x1="37.80" y1="40.87" x2="37.80" y2="548.4"/><line x1="116.54" y1="40.87" x2="116.54" y2="548.4"/><line x1="195.28" y1="40.87" x2="195.28" y2="548.4"/><line x1="274.02" y1="40.87" x2="274.02" y2="548.4"/><line x1="352.76" y1="40.87" x2="352.76" y2="548.4"/><line x1="431.50" y1="40.87" x2="431.50" y2="548.4"/></g><text x="37.50" y="283" class="gl" text-anchor="middle">-126</text><text x="116.24" y="283" class="gl" text-anchor="middle">-124</text><text x="194.98" y="283" class="gl" text-anchor="middle">-122</text><text x="273.72" y="283" class="gl" text-anchor="middle">-120</text><text x="352.46" y="283" class="gl" text-anchor="middle">-118</text><text x="431.20" y="283" class="gl" text-anchor="middle">-116</text><text x="254.2" y="49.80" class="gl" text-anchor="middle">22</text><text x="254.2" y="134.35" class="gl" text-anchor="middle">20</text><text x="254.2" y="218.90" class="gl" text-anchor="middle">18</text><text x="254.2" y="303.45" class="gl" text-anchor="middle">16</text><text x="254.2" y="388.00" class="gl" text-anchor="middle">14</text><text x="254.2" y="472.55" class="gl" text-anchor="middle">12</text><g stroke="#000" stroke-width="1.15" fill="none" stroke-dasharray="12.2 11.4"><path d="M12.65 331.9Q157.7 436.3 302.7 548.3"/><path d="M12.65 444.5Q82.7 495.3 152.7 548.3"/></g><path d="M242.95 294.5H255.95M249.45 288.05V300.95" stroke="#000" stroke-width="4.55" fill="none"/><text x="37" y="65.6" class="tt">PR near surface reflectivity (dBZ)</text><text x="438.3" y="522.8" class="pl">(a)</text><rect x="495.0" y="531.48" width="8.9" height="8.81" fill="#f8f8f8"/><rect x="495.0" y="523.02" width="8.9" height="8.81" fill="#f0f0f0"/><rect x="495.0" y="514.56" width="8.9" height="8.81" fill="#e9e9e9"/><rect x="495.0" y="506.10" width="8.9" height="8.81" fill="#e1e1e1"/><rect x="495.0" y="497.64" width="8.9" height="8.81" fill="#dadada"/><rect x="495.0" y="489.18" width="8.9" height="8.81" fill="#d2d2d2"/><rect x="495.0" y="480.72" width="8.9" height="8.81" fill="#cbcbcb"/><rect x="495.0" y="472.26" width="8.9" height="8.81" fill="#c3c3c3"/><rect x="495.0" y="463.80" width="8.9" height="8.81" fill="#bcbcbc"/><rect x="495.0" y="455.34" width="8.9" height="8.81" fill="#b4b4b4"/><rect x="495.0" y="446.88" width="8.9" height="8.81" fill="#adadad"/><rect x="495.0" y="438.42" width="8.9" height="8.81" fill="#a5a5a5"/><rect x="495.0" y="429.96" width="8.9" height="8.81" fill="#9e9e9e"/><rect x="495.0" y="421.50" width="8.9" height="8.81" fill="#969696"/><rect x="495.0" y="413.04" width="8.9" height="8.81" fill="#8be88b"/><rect x="495.0" y="404.58" width="8.9" height="8.81" fill="#83dd83"/><rect x="495.0" y="396.12" width="8.9" height="8.81" fill="#7bd27b"/><rect x="495.0" y="387.66" width="8.9" height="8.81" fill="#73c873"/><rect x="495.0" y="379.20" width="8.9" height="8.81" fill="#6bbd6b"/><rect x="495.0" y="370.74" width="8.9" height="8.81" fill="#d0d8ff"/><rect x="495.0" y="362.28" width="8.9" height="8.81" fill="#b8d0ff"/><rect x="495.0" y="353.82" width="8.9" height="8.81" fill="#a0c6ff"/><rect x="495.0" y="345.36" width="8.9" height="8.81" fill="#88c0ff"/><rect x="495.0" y="336.90" width="8.9" height="8.81" fill="#70b8ff"/><rect x="495.0" y="328.44" width="8.9" height="8.81" fill="#50b0ff"/><rect x="495.0" y="319.98" width="8.9" height="8.81" fill="#488cff"/><rect x="495.0" y="311.52" width="8.9" height="8.81" fill="#4070ff"/><rect x="495.0" y="303.06" width="8.9" height="8.81" fill="#3c50ff"/><rect x="495.0" y="294.60" width="8.9" height="8.81" fill="#3030ff"/><rect x="495.0" y="286.14" width="8.9" height="8.81" fill="#0000ff"/><rect x="495.0" y="277.68" width="8.9" height="8.81" fill="#0000ef"/><rect x="495.0" y="269.22" width="8.9" height="8.81" fill="#0000de"/><rect x="495.0" y="260.76" width="8.9" height="8.81" fill="#0000ce"/><rect x="495.0" y="252.30" width="8.9" height="8.81" fill="#0000be"/><rect x="495.0" y="243.84" width="8.9" height="8.81" fill="#ffff00"/><rect x="495.0" y="235.38" width="8.9" height="8.81" fill="#fff200"/><rect x="495.0" y="226.92" width="8.9" height="8.81" fill="#ffe600"/><rect x="495.0" y="218.46" width="8.9" height="8.81" fill="#ffd900"/><rect x="495.0" y="210.00" width="8.9" height="8.81" fill="#ffcc00"/><rect x="495.0" y="201.54" width="8.9" height="8.81" fill="#ff9000"/><rect x="495.0" y="193.08" width="8.9" height="8.81" fill="#ff8800"/><rect x="495.0" y="184.62" width="8.9" height="8.81" fill="#ff8000"/><rect x="495.0" y="176.16" width="8.9" height="8.81" fill="#ff7800"/><rect x="495.0" y="167.70" width="8.9" height="8.81" fill="#ff7000"/><rect x="495.0" y="159.24" width="8.9" height="8.81" fill="#ff4000"/><rect x="495.0" y="150.78" width="8.9" height="8.81" fill="#ff3500"/><rect x="495.0" y="142.32" width="8.9" height="8.81" fill="#ff2a00"/><rect x="495.0" y="133.86" width="8.9" height="8.81" fill="#ff1f00"/><rect x="495.0" y="125.40" width="8.9" height="8.81" fill="#ff1400"/><rect x="495.0" y="116.94" width="8.9" height="8.81" fill="#c80000"/><rect x="495.0" y="108.48" width="8.9" height="8.81" fill="#be0401"/><rect x="495.0" y="100.02" width="8.9" height="8.81" fill="#b40702"/><rect x="495.0" y="91.56" width="8.9" height="8.81" fill="#aa0a03"/><rect x="495.0" y="83.10" width="8.9" height="8.81" fill="#a00e04"/><rect x="495.0" y="74.64" width="8.9" height="8.81" fill="#620c04"/><rect x="495.0" y="66.18" width="8.9" height="8.81" fill="#5e100a"/><rect x="495.0" y="57.72" width="8.9" height="8.81" fill="#5b140f"/><rect x="495.0" y="49.26" width="8.9" height="8.81" fill="#581814"/><rect x="495.0" y="40.80" width="8.9" height="8.81" fill="#541c1a"/><line x1="503.59999999999997" y1="91.56" x2="506.09999999999997" y2="91.56" stroke="#000" stroke-width="1"/><text x="524.2" y="99.86" class="cb" text-anchor="middle">54</text><line x1="503.59999999999997" y1="142.32" x2="506.09999999999997" y2="142.32" stroke="#000" stroke-width="1"/><text x="524.2" y="150.62" class="cb" text-anchor="middle">48</text><line x1="503.59999999999997" y1="193.08" x2="506.09999999999997" y2="193.08" stroke="#000" stroke-width="1"/><text x="524.2" y="201.38" class="cb" text-anchor="middle">42</text><line x1="503.59999999999997" y1="243.84" x2="506.09999999999997" y2="243.84" stroke="#000" stroke-width="1"/><text x="524.2" y="252.14" class="cb" text-anchor="middle">36</text><line x1="503.59999999999997" y1="294.60" x2="506.09999999999997" y2="294.60" stroke="#000" stroke-width="1"/><text x="524.2" y="302.90" class="cb" text-anchor="middle">30</text><line x1="503.59999999999997" y1="345.36" x2="506.09999999999997" y2="345.36" stroke="#000" stroke-width="1"/><text x="524.2" y="353.66" class="cb" text-anchor="middle">24</text><line x1="503.59999999999997" y1="396.12" x2="506.09999999999997" y2="396.12" stroke="#000" stroke-width="1"/><text x="524.2" y="404.42" class="cb" text-anchor="middle">18</text><line x1="503.59999999999997" y1="446.88" x2="506.09999999999997" y2="446.88" stroke="#000" stroke-width="1"/><text x="524.2" y="455.18" class="cb" text-anchor="middle">12</text><line x1="503.59999999999997" y1="497.64" x2="506.09999999999997" y2="497.64" stroke="#000" stroke-width="1"/><text x="524.2" y="505.94" class="cb" text-anchor="middle">6</text><line x1="503.59999999999997" y1="548.40" x2="506.09999999999997" y2="548.40" stroke="#000" stroke-width="1"/><text x="524.2" y="556.70" class="cb" text-anchor="middle">0</text></g>
<path d="M658.0 480.7L663.3 479.0L668.1 477.2L670.4 472.4L675.2 470.7L680.5 471.8L679.9 476.0L677.5 480.7L674.0 483.1L669.2 484.9L665.1 486.7L662.1 484.3L658.6 484.3Z" fill="#3c6cf0" stroke="#000" stroke-width="1.4" stroke-linejoin="round"/><path d="M666.3 469.5L670.4 468.9L673.4 470.7L670.4 471.8L666.9 471.2Z" fill="#3c6cf0" stroke="#000" stroke-width="1.4" stroke-linejoin="round"/><path d="M674.6 487.3L678.7 484.9L681.1 480.7L684.1 481.9L683.5 486.7L687.0 489.6L684.7 492.6L683.5 497.3L679.9 496.1L677.5 492.6L675.2 490.8Z" fill="#3c6cf0" stroke="#000" stroke-width="1.4" stroke-linejoin="round"/><path d="M687.0 489.0L690.6 485.5L695.3 484.3L701.3 483.1L706.0 481.9L709.6 480.7L707.2 477.2L701.3 479.5L698.9 477.8L703.6 476.0L707.8 473.6L709.6 470.7L713.1 468.9L715.5 464.1L713.7 459.4L716.7 457.0L720.2 459.4L719.6 464.1L717.9 468.9L721.4 471.8L724.4 473.6L722.6 477.2L721.4 480.7L716.7 483.1L711.9 486.7L709.6 491.4L706.0 490.2L701.3 489.0L695.3 490.2L690.6 491.4Z" fill="#3c6cf0" stroke="#000" stroke-width="1.4" stroke-linejoin="round"/><path d="M670.4 462.4L675.2 462.9L681.1 461.8L685.8 462.9L683.5 464.7L677.5 465.3L671.6 464.7Z" fill="#3c6cf0" stroke="#000" stroke-width="1.4" stroke-linejoin="round"/><path d="M688.8 460.6L691.8 459.4L692.4 463.5L689.4 464.1Z" fill="#3c6cf0" stroke="#000" stroke-width="1.4" stroke-linejoin="round"/><path d="M694.7 459.4L700.1 460.0L701.9 462.9L697.7 462.4Z" fill="#3c6cf0" stroke="#000" stroke-width="1.4" stroke-linejoin="round"/><path d="M724.4 450.5L728.5 448.1L734.5 446.9L738.0 446.3L736.2 450.5L735.1 454.6L733.3 451.7L728.5 451.7L725.6 452.9Z" fill="#3c6cf0" stroke="#000" stroke-width="1.4" stroke-linejoin="round"/><path d="M740.4 445.8L743.4 445.4L743.6 447.5L740.6 447.8Z" fill="#3c6cf0" stroke="#000" stroke-width="1.4" stroke-linejoin="round"/><path d="M750.5 450.5L753.4 447.5L758.2 446.9L762.9 448.7L764.7 453.5L760.6 454.6L757.0 451.7L754.0 452.3L752.3 455.2L749.9 453.5Z" fill="#3c6cf0" stroke="#000" stroke-width="1.4" stroke-linejoin="round"/><path d="M736.8 470.1L740.4 467.7L746.3 468.3L752.3 468.9L758.2 466.5L765.3 465.3L766.5 470.1L764.1 472.4L765.9 480.1L762.9 480.1L761.7 473.6L758.2 471.8L753.4 472.4L748.7 471.8L744.0 472.4L740.4 474.8L738.0 473.6Z" fill="#3c6cf0" stroke="#000" stroke-width="1.4" stroke-linejoin="round"/><path d="M727.4 472.4L733.3 473.0L735.7 474.8L733.3 477.2L729.7 475.4Z" fill="#3c6cf0" stroke="#000" stroke-width="1.4" stroke-linejoin="round"/><path d="M739.8 460.0L742.8 459.4L744.0 462.9L741.0 463.5Z" fill="#3c6cf0" stroke="#000" stroke-width="1.4" stroke-linejoin="round"/><path d="M738.0 486.7L742.8 485.5L746.3 489.0L749.9 484.3L752.3 480.7L751.1 486.7L752.3 491.4L749.9 496.1L745.1 496.1L740.4 498.5L739.2 493.8L739.8 490.2Z" fill="#3c6cf0" stroke="#000" stroke-width="1.4" stroke-linejoin="round"/><path d="M769.4 472.4L771.8 470.7L773.6 474.8L775.4 480.7L780.7 486.7L776.0 491.4L779.5 498.5L773.6 498.5L768.9 497.3L771.2 492.6L768.9 489.0L772.4 484.3L771.8 478.4Z" fill="#3c6cf0" stroke="#000" stroke-width="1.4" stroke-linejoin="round"/><path d="M783.7 476.0L786.6 473.6L788.4 476.6L785.5 478.4Z" fill="#3c6cf0" stroke="#000" stroke-width="1.4" stroke-linejoin="round"/><path d="M786.6 486.1L792.6 482.5L794.9 478.4L796.1 475.4L800.3 477.2L799.1 481.9L794.9 484.3L792.6 486.7L787.8 487.8Z" fill="#3c6cf0" stroke="#000" stroke-width="1.4" stroke-linejoin="round"/><path d="M800.3 506.8L805.6 504.4L808.0 500.9L806.8 496.1L811.5 496.1L816.3 491.4L819.8 492.6L816.3 498.5L811.5 502.1L809.2 505.6L804.4 508.6Z" fill="#3c6cf0" stroke="#000" stroke-width="1.4" stroke-linejoin="round"/><path d="M813.9 502.1L818.7 499.7L822.8 497.3L824.6 500.9L825.2 504.4L821.0 508.0L817.5 509.8L815.1 506.8Z" fill="#3c6cf0" stroke="#000" stroke-width="1.4" stroke-linejoin="round"/><path d="M709.0 510.4L711.9 509.8L715.5 513.9L720.2 516.3L727.4 513.9L733.3 515.1L738.0 518.7L740.4 522.2L738.0 527.0L736.8 530.5L732.1 531.7L734.5 536.5L738.0 537.7L735.1 541.8L709.6 523.7L710.7 518.7L709.0 515.1Z" fill="#3c6cf0" stroke="#000" stroke-width="1.4" stroke-linejoin="round"/><path d="M748.1 516.9L753.4 515.1L757.0 516.9L759.4 519.9L762.9 517.5L765.3 518.7L761.7 521.1L758.2 523.4L755.8 521.1L752.3 519.9L751.1 523.4L748.7 525.8L749.3 519.3Z" fill="#3c6cf0" stroke="#000" stroke-width="1.4" stroke-linejoin="round"/><path d="M769.4 516.3L773.6 513.9L774.2 516.9L770.6 518.7Z" fill="#3c6cf0" stroke="#000" stroke-width="1.4" stroke-linejoin="round"/><path d="M694.7 499.1L697.7 497.3L698.9 500.9L695.9 502.1Z" fill="#3c6cf0" stroke="#000" stroke-width="1.4" stroke-linejoin="round"/><path d="M718.5 499.1L722.6 498.5L723.2 500.9L719.0 501.5Z" fill="#3c6cf0" stroke="#000" stroke-width="1.4" stroke-linejoin="round"/><path d="M730.9 496.1L735.7 494.4L736.2 496.1L731.5 497.9Z" fill="#3c6cf0" stroke="#000" stroke-width="1.4" stroke-linejoin="round"/><path d="M786.6 500.3L793.8 498.5L794.9 500.9L787.8 502.1Z" fill="#3c6cf0" stroke="#000" stroke-width="1.4" stroke-linejoin="round"/><path d="M690.6 508.0L695.3 509.8L700.1 513.3L697.7 514.2L693.6 511.6L690.0 509.4Z" fill="#3c6cf0" stroke="#000" stroke-width="1.4" stroke-linejoin="round"/><path d="M716.7 519.9L720.2 518.7L721.4 523.4L725.0 525.8L724.4 530.5L720.2 528.2L717.3 525.8Z" fill="#fff" stroke="#000" stroke-width="1.3" stroke-linejoin="round"/><path d="M727.4 525.8L730.9 525.8L731.5 531.7L729.7 536.5L727.4 535.3Z" fill="#fff" stroke="#000" stroke-width="1.3" stroke-linejoin="round"/><circle cx="796.1" cy="509.2" r="1.3" fill="#000"/><circle cx="806.2" cy="513.9" r="1.3" fill="#000"/><circle cx="825.8" cy="508.6" r="1.3" fill="#000"/><circle cx="829.3" cy="506.8" r="1.3" fill="#000"/><circle cx="835.3" cy="506.8" r="1.3" fill="#000"/><circle cx="741.6" cy="524.0" r="1.3" fill="#000"/><circle cx="745.1" cy="523.4" r="1.3" fill="#000"/><circle cx="739.8" cy="537.7" r="1.3" fill="#000"/><circle cx="663.3" cy="463.5" r="1.3" fill="#000"/><circle cx="695.3" cy="455.8" r="1.3" fill="#000"/><circle cx="652.6" cy="480.7" r="1.3" fill="#000"/><circle cx="675.2" cy="496.7" r="1.3" fill="#000"/><circle cx="707.8" cy="499.7" r="1.3" fill="#000"/><circle cx="768.3" cy="452.9" r="1.3" fill="#000"/><circle cx="755.8" cy="529.9" r="1.3" fill="#000"/><circle cx="804.4" cy="480.1" r="1.3" fill="#000"/><circle cx="781.9" cy="502.1" r="1.3" fill="#000"/><circle cx="703.0" cy="470.7" r="1.3" fill="#000"/><circle cx="742.8" cy="479.5" r="1.3" fill="#000"/><circle cx="748.7" cy="479.0" r="1.3" fill="#000"/><path d="M718.4 461.4h.01M812.5 498.0h.01M675.8 487.3h.01M706.6 484.3h.01M704.6 484.9h.01M797.0 481.4h.01M819.8 504.1h.01M774.1 487.1h.01M762.0 449.6h.01M680.4 487.0h.01M717.2 468.1h.01M666.4 483.7h.01M700.7 484.7h.01M754.5 469.1h.01M793.8 482.3h.01M718.6 477.2h.01M771.6 495.7h.01M658.5 483.0h.01M773.4 515.7h.01M690.3 460.5h.01M771.8 517.0h.01M772.9 494.4h.01M686.3 489.5h.01M698.3 500.2h.01M760.1 521.8h.01M733.9 451.2h.01M763.1 469.1h.01M672.7 479.4h.01M748.7 487.6h.01M755.0 469.7h.01M747.5 491.5h.01M669.0 478.2h.01M777.3 488.1h.01M672.7 478.4h.01M772.0 489.9h.01M731.4 530.1h.01M732.5 516.2h.01M694.9 489.4h.01M810.4 499.1h.01M711.9 483.3h.01M741.4 473.8h.01M724.9 533.1h.01M717.2 469.5h.01M823.1 498.8h.01M745.0 489.1h.01M698.8 486.2h.01M714.4 467.9h.01M664.5 478.9h.01M764.8 480.0h.01M772.9 477.1h.01M714.7 483.0h.01M715.8 468.8h.01M809.3 502.6h.01M775.2 481.7h.01M701.8 478.5h.01M771.6 495.8h.01M677.1 487.7h.01M729.7 448.4h.01M751.3 470.2h.01M702.7 486.2h.01M759.7 472.2h.01M742.9 460.9h.01M740.1 488.9h.01M792.3 501.1h.01M720.8 520.7h.01M722.4 516.2h.01M812.6 496.2h.01M740.0 471.1h.01M702.5 484.6h.01M690.7 460.0h.01M725.5 524.9h.01M777.1 485.6h.01M669.5 478.3h.01M735.2 520.2h.01M808.9 498.0h.01M749.4 494.3h.01M788.3 485.1h.01M776.6 488.1h.01M715.2 468.6h.01M690.2 490.4h.01M700.9 489.1h.01M731.6 497.2h.01M774.4 494.2h.01M762.1 474.1h.01M678.2 465.0h.01M680.7 464.8h.01M680.2 464.1h.01M715.9 473.0h.01M745.1 471.6h.01M681.0 491.8h.01M729.4 514.6h.01M728.9 517.3h.01M738.6 486.6h.01M675.7 471.5h.01M741.1 491.9h.01M763.9 478.3h.01M759.5 520.3h.01M757.9 449.4h.01M771.2 486.7h.01M735.7 537.9h.01M757.5 470.4h.01M795.8 478.5h.01M684.5 491.6h.01M710.7 522.5h.01M730.8 475.7h.01M816.2 505.0h.01M717.2 482.0h.01M748.3 494.6h.01M733.5 529.5h.01M713.4 512.7h.01M789.7 484.4h.01M740.9 471.4h.01M712.1 469.4h.01M667.7 479.0h.01M717.4 475.3h.01M677.2 479.9h.01M735.1 530.3h.01M777.4 484.2h.01M696.2 488.2h.01M823.5 499.9h.01M773.0 476.1h.01M748.7 471.6h.01M714.6 476.8h.01M709.0 490.7h.01M691.7 486.8h.01M701.2 489.0h.01M727.8 450.5h.01M752.0 520.4h.01M736.2 518.3h.01M731.4 539.2h.01M673.6 474.2h.01M793.6 482.8h.01M743.4 494.2h.01M679.6 463.8h.01M736.3 538.1h.01M719.6 479.4h.01M772.0 516.8h.01M726.4 533.7h.01M732.9 449.8h.01M725.5 520.5h.01M773.2 514.6h.01M732.1 497.6h.01M737.5 523.4h.01M733.0 473.2h.01M709.2 475.8h.01M700.0 461.1h.01M676.6 479.1h.01M752.1 470.9h.01M807.4 496.2h.01M770.9 490.8h.01M727.3 527.9h.01M744.3 472.0h.01M692.6 489.0h.01M735.4 529.4h.01M680.2 492.6h.01M761.6 449.0h.01M671.8 463.4h.01M712.1 483.9h.01M681.9 487.7h.01M680.0 464.2h.01" stroke="#1428e0" stroke-width="1.95" stroke-linecap="square" fill="none"/><path d="M818.5 505.8h.01M816.1 508.0h.01M735.4 524.1h.01M773.6 514.8h.01M684.7 487.9h.01M694.6 511.5h.01M760.6 454.5h.01M728.1 523.8h.01M719.8 459.1h.01M740.2 473.0h.01M732.1 473.7h.01M681.8 491.5h.01M718.9 475.5h.01M748.2 492.3h.01M731.9 524.1h.01M760.3 467.7h.01M710.2 482.3h.01M779.7 485.6h.01M708.5 472.5h.01M721.9 473.4h.01M723.6 520.4h.01M720.7 480.9h.01M680.3 491.8h.01M681.2 492.8h.01M732.1 533.9h.01M741.6 472.8h.01M680.4 464.9h.01M680.2 485.9h.01M755.2 517.1h.01M730.7 474.9h.01M675.8 489.6h.01M729.7 474.3h.01M734.2 519.4h.01M712.7 469.5h.01M737.8 522.8h.01M743.8 490.7h.01M726.8 535.2h.01M671.2 463.4h.01M680.3 488.4h.01M760.4 449.7h.01M772.4 480.9h.01M761.7 451.3h.01M682.5 492.3h.01M731.4 519.2h.01M673.9 464.3h.01M742.1 492.4h.01M806.6 504.2h.01M720.1 518.7h.01M756.7 521.6h.01M696.5 498.3h.01M810.1 503.6h.01M716.7 517.8h.01M771.8 471.0h.01M745.4 470.0h.01M719.5 530.6h.01M815.1 498.6h.01M690.3 461.5h.01M723.5 533.3h.01M732.0 526.0h.01M707.8 490.8h.01M705.2 475.2h.01M714.8 515.4h.01M678.1 486.8h.01M755.1 472.0h.01M679.1 489.8h.01M773.9 477.5h.01M715.1 468.6h.01M761.1 519.9h.01M679.7 473.2h.01M740.8 468.5h.01M745.3 468.5h.01M669.7 474.2h.01M710.8 472.2h.01M752.9 450.4h.01M724.4 517.6h.01M722.0 519.6h.01M711.9 479.0h.01M671.2 472.2h.01M721.9 517.4h.01M742.0 488.2h.01M681.8 494.3h.01M670.7 474.0h.01M732.0 530.1h.01M745.4 491.1h.01M676.8 480.9h.01M671.6 477.9h.01M764.2 469.7h.01M731.2 527.4h.01M706.1 483.4h.01M713.7 478.1h.01M722.1 523.9h.01M694.4 485.0h.01M716.8 467.5h.01M705.8 485.3h.01M797.8 478.7h.01M814.4 494.9h.01M673.4 471.6h.01M712.4 514.3h.01M714.8 522.7h.01M774.1 479.3h.01M678.5 475.3h.01M816.7 493.3h.01M709.9 475.5h.01M712.4 475.9h.01M726.0 527.8h.01M742.6 461.5h.01M719.6 474.4h.01M728.5 515.3h.01M807.5 497.4h.01M739.7 494.4h.01M758.7 451.2h.01M705.2 489.8h.01M701.4 479.3h.01M718.9 517.1h.01M734.8 541.1h.01M678.3 474.9h.01M761.9 468.0h.01M717.7 480.8h.01M743.3 493.2h.01M772.1 493.3h.01M742.0 491.0h.01M791.3 499.9h.01M717.4 519.1h.01M721.1 474.0h.01M714.2 484.0h.01M759.5 447.8h.01M690.7 509.7h.01M747.1 490.6h.01M778.0 484.4h.01M742.9 489.9h.01M746.0 494.4h.01M737.0 528.5h.01M701.5 483.1h.01M696.8 460.8h.01M749.9 493.4h.01M716.1 477.8h.01M731.6 450.2h.01M670.8 469.1h.01M760.1 450.5h.01M675.9 472.3h.01M683.9 463.8h.01M820.6 504.3h.01M758.4 519.6h.01M743.0 468.7h.01M677.5 477.0h.01M680.5 489.2h.01M734.9 453.7h.01M726.1 523.2h.01M776.6 496.8h.01M697.3 487.9h.01M679.3 462.7h.01M745.3 493.7h.01M680.0 463.2h.01M751.1 492.8h.01M707.5 489.5h.01M731.4 519.5h.01M743.1 469.3h.01M773.3 494.4h.01M762.7 450.9h.01M677.0 474.0h.01M737.8 524.8h.01M673.1 474.0h.01M669.6 481.6h.01M751.8 453.5h.01M681.3 485.4h.01M752.4 470.9h.01M808.9 496.5h.01M727.2 533.4h.01" stroke="#80b4ff" stroke-width="1.95" stroke-linecap="square" fill="none"/><path d="M796.5 479.1h.01M756.7 468.3h.01M757.6 470.4h.01M747.0 471.8h.01M757.3 468.4h.01M709.4 488.7h.01M776.6 488.4h.01M731.8 519.4h.01M716.8 469.3h.01M712.2 511.2h.01M775.6 483.9h.01M772.3 493.2h.01M788.5 486.1h.01M721.7 531.9h.01M683.4 495.4h.01M715.2 459.3h.01M760.3 466.8h.01M728.1 521.0h.01M777.8 485.0h.01M705.1 477.6h.01M772.7 489.1h.01M773.9 494.6h.01M678.4 463.9h.01M712.1 514.2h.01M751.9 450.1h.01M688.3 488.3h.01M702.6 485.1h.01M757.8 517.9h.01M731.3 521.7h.01M702.3 477.2h.01M716.4 457.8h.01M749.2 486.6h.01M670.2 478.1h.01M776.2 483.6h.01M795.0 478.6h.01M801.7 506.2h.01M812.6 500.4h.01M740.1 493.5h.01M764.9 466.5h.01M743.6 462.4h.01M713.2 480.9h.01M668.7 476.6h.01M740.8 446.5h.01M763.2 449.9h.01M736.9 529.1h.01M792.1 501.3h.01M743.4 469.7h.01M717.5 518.8h.01M740.7 460.3h.01M734.5 537.7h.01M775.1 486.5h.01M762.2 449.0h.01M732.6 449.8h.01M683.1 488.5h.01M715.6 468.6h.01M785.9 476.1h.01M733.4 530.1h.01M673.5 478.5h.01M816.6 501.4h.01M756.5 518.2h.01M669.3 470.5h.01M808.0 496.3h.01M709.2 513.0h.01M763.6 472.5h.01M810.9 502.2h.01M716.7 527.7h.01M718.3 472.4h.01M711.1 472.2h.01M732.6 473.3h.01M675.3 481.4h.01M756.5 517.7h.01M742.9 486.6h.01M755.9 517.2h.01M819.9 506.7h.01M731.8 534.0h.01M724.4 531.9h.01M806.4 505.4h.01M761.6 469.8h.01M732.0 524.5h.01M724.8 525.3h.01M715.9 469.6h.01M683.4 462.4h.01M776.6 487.8h.01M683.5 484.6h.01M752.0 470.1h.01M746.3 493.3h.01M718.7 528.2h.01M717.2 458.8h.01M704.1 483.0h.01M728.1 449.3h.01M695.5 500.1h.01M715.3 470.4h.01" stroke="#a8ccff" stroke-width="1.95" stroke-linecap="square" fill="none"/><ellipse cx="714.3" cy="471.2" rx="3.2" ry="2.0" fill="#ffd400" transform="rotate(-35 714.3 471.2)"/><ellipse cx="714.8" cy="471.2" rx="1.7" ry="1.1" fill="#ff8c10" transform="rotate(-35 714.8 471.2)"/><ellipse cx="711.9" cy="480.7" rx="2.3" ry="1.4" fill="#ffd400" transform="rotate(-35 711.9 480.7)"/><ellipse cx="708.4" cy="486.7" rx="2.3" ry="1.4" fill="#ffd400" transform="rotate(-35 708.4 486.7)"/><ellipse cx="668.1" cy="481.9" rx="2.4" ry="1.5" fill="#ffd400" transform="rotate(-35 668.1 481.9)"/><ellipse cx="668.6" cy="481.9" rx="1.3" ry="0.8" fill="#ff8c10" transform="rotate(-35 668.6 481.9)"/><ellipse cx="674.0" cy="480.1" rx="2.4" ry="1.5" fill="#ffd400" transform="rotate(-35 674.0 480.1)"/><ellipse cx="679.9" cy="489.0" rx="2.2" ry="1.4" fill="#ffd400" transform="rotate(-35 679.9 489.0)"/><ellipse cx="683.5" cy="492.0" rx="2.2" ry="1.3" fill="#ffd400" transform="rotate(-35 683.5 492.0)"/><ellipse cx="684.0" cy="492.0" rx="1.2" ry="0.7" fill="#ff8c10" transform="rotate(-35 684.0 492.0)"/><ellipse cx="759.4" cy="469.5" rx="3.2" ry="2.0" fill="#ffd400" transform="rotate(-35 759.4 469.5)"/><ellipse cx="762.9" cy="470.1" rx="2.6" ry="1.6" fill="#ffd400" transform="rotate(-35 762.9 470.1)"/><ellipse cx="742.8" cy="493.8" rx="2.9" ry="1.8" fill="#ffd400" transform="rotate(-35 742.8 493.8)"/><ellipse cx="743.3" cy="493.8" rx="1.6" ry="1.0" fill="#ff8c10" transform="rotate(-35 743.3 493.8)"/><ellipse cx="747.5" cy="493.8" rx="3.2" ry="2.0" fill="#ffd400" transform="rotate(-35 747.5 493.8)"/><ellipse cx="771.2" cy="488.4" rx="3.3" ry="2.0" fill="#ffd400" transform="rotate(-35 771.2 488.4)"/><ellipse cx="810.4" cy="497.9" rx="3.0" ry="1.9" fill="#ffd400" transform="rotate(-35 810.4 497.9)"/><ellipse cx="810.9" cy="497.9" rx="1.6" ry="1.1" fill="#ff8c10" transform="rotate(-35 810.9 497.9)"/><ellipse cx="819.8" cy="503.3" rx="2.7" ry="1.7" fill="#ffd400" transform="rotate(-35 819.8 503.3)"/><ellipse cx="758.2" cy="448.1" rx="2.7" ry="1.7" fill="#ffd400" transform="rotate(-35 758.2 448.1)"/><ellipse cx="716.7" cy="460.6" rx="2.3" ry="1.4" fill="#ffd400" transform="rotate(-35 716.7 460.6)"/><ellipse cx="717.2" cy="460.6" rx="1.3" ry="0.8" fill="#ff8c10" transform="rotate(-35 717.2 460.6)"/><ellipse cx="770.0" cy="516.9" rx="2.5" ry="1.6" fill="#ffd400" transform="rotate(-35 770.0 516.9)"/><path d="M711.9 480.7L709.6 484.3L706.6 487.8L704.2 489.6L706.0 486.7L709.6 481.9Z" fill="#ff9010"/><path d="M713.7 468.9L715.5 467.7L714.3 472.4L712.5 473.6Z" fill="#ff9010"/><path d="M658.0 480.7L663.3 479.0L668.1 477.2L670.4 472.4L675.2 470.7L680.5 471.8L679.9 476.0L677.5 480.7L674.0 483.1L669.2 484.9L665.1 486.7L662.1 484.3L658.6 484.3Z" fill="none" stroke="#000" stroke-width="1.3" stroke-linejoin="round"/><path d="M666.3 469.5L670.4 468.9L673.4 470.7L670.4 471.8L666.9 471.2Z" fill="none" stroke="#000" stroke-width="1.3" stroke-linejoin="round"/><path d="M674.6 487.3L678.7 484.9L681.1 480.7L684.1 481.9L683.5 486.7L687.0 489.6L684.7 492.6L683.5 497.3L679.9 496.1L677.5 492.6L675.2 490.8Z" fill="none" stroke="#000" stroke-width="1.3" stroke-linejoin="round"/><path d="M687.0 489.0L690.6 485.5L695.3 484.3L701.3 483.1L706.0 481.9L709.6 480.7L707.2 477.2L701.3 479.5L698.9 477.8L703.6 476.0L707.8 473.6L709.6 470.7L713.1 468.9L715.5 464.1L713.7 459.4L716.7 457.0L720.2 459.4L719.6 464.1L717.9 468.9L721.4 471.8L724.4 473.6L722.6 477.2L721.4 480.7L716.7 483.1L711.9 486.7L709.6 491.4L706.0 490.2L701.3 489.0L695.3 490.2L690.6 491.4Z" fill="none" stroke="#000" stroke-width="1.3" stroke-linejoin="round"/><path d="M670.4 462.4L675.2 462.9L681.1 461.8L685.8 462.9L683.5 464.7L677.5 465.3L671.6 464.7Z" fill="none" stroke="#000" stroke-width="1.3" stroke-linejoin="round"/><path d="M688.8 460.6L691.8 459.4L692.4 463.5L689.4 464.1Z" fill="none" stroke="#000" stroke-width="1.3" stroke-linejoin="round"/><path d="M694.7 459.4L700.1 460.0L701.9 462.9L697.7 462.4Z" fill="none" stroke="#000" stroke-width="1.3" stroke-linejoin="round"/><path d="M724.4 450.5L728.5 448.1L734.5 446.9L738.0 446.3L736.2 450.5L735.1 454.6L733.3 451.7L728.5 451.7L725.6 452.9Z" fill="none" stroke="#000" stroke-width="1.3" stroke-linejoin="round"/><path d="M740.4 445.8L743.4 445.4L743.6 447.5L740.6 447.8Z" fill="none" stroke="#000" stroke-width="1.3" stroke-linejoin="round"/><path d="M750.5 450.5L753.4 447.5L758.2 446.9L762.9 448.7L764.7 453.5L760.6 454.6L757.0 451.7L754.0 452.3L752.3 455.2L749.9 453.5Z" fill="none" stroke="#000" stroke-width="1.3" stroke-linejoin="round"/><path d="M736.8 470.1L740.4 467.7L746.3 468.3L752.3 468.9L758.2 466.5L765.3 465.3L766.5 470.1L764.1 472.4L765.9 480.1L762.9 480.1L761.7 473.6L758.2 471.8L753.4 472.4L748.7 471.8L744.0 472.4L740.4 474.8L738.0 473.6Z" fill="none" stroke="#000" stroke-width="1.3" stroke-linejoin="round"/><path d="M727.4 472.4L733.3 473.0L735.7 474.8L733.3 477.2L729.7 475.4Z" fill="none" stroke="#000" stroke-width="1.3" stroke-linejoin="round"/><path d="M739.8 460.0L742.8 459.4L744.0 462.9L741.0 463.5Z" fill="none" stroke="#000" stroke-width="1.3" stroke-linejoin="round"/><path d="M738.0 486.7L742.8 485.5L746.3 489.0L749.9 484.3L752.3 480.7L751.1 486.7L752.3 491.4L749.9 496.1L745.1 496.1L740.4 498.5L739.2 493.8L739.8 490.2Z" fill="none" stroke="#000" stroke-width="1.3" stroke-linejoin="round"/><path d="M769.4 472.4L771.8 470.7L773.6 474.8L775.4 480.7L780.7 486.7L776.0 491.4L779.5 498.5L773.6 498.5L768.9 497.3L771.2 492.6L768.9 489.0L772.4 484.3L771.8 478.4Z" fill="none" stroke="#000" stroke-width="1.3" stroke-linejoin="round"/><path d="M783.7 476.0L786.6 473.6L788.4 476.6L785.5 478.4Z" fill="none" stroke="#000" stroke-width="1.3" stroke-linejoin="round"/><path d="M786.6 486.1L792.6 482.5L794.9 478.4L796.1 475.4L800.3 477.2L799.1 481.9L794.9 484.3L792.6 486.7L787.8 487.8Z" fill="none" stroke="#000" stroke-width="1.3" stroke-linejoin="round"/><path d="M800.3 506.8L805.6 504.4L808.0 500.9L806.8 496.1L811.5 496.1L816.3 491.4L819.8 492.6L816.3 498.5L811.5 502.1L809.2 505.6L804.4 508.6Z" fill="none" stroke="#000" stroke-width="1.3" stroke-linejoin="round"/><path d="M813.9 502.1L818.7 499.7L822.8 497.3L824.6 500.9L825.2 504.4L821.0 508.0L817.5 509.8L815.1 506.8Z" fill="none" stroke="#000" stroke-width="1.3" stroke-linejoin="round"/><path d="M709.0 510.4L711.9 509.8L715.5 513.9L720.2 516.3L727.4 513.9L733.3 515.1L738.0 518.7L740.4 522.2L738.0 527.0L736.8 530.5L732.1 531.7L734.5 536.5L738.0 537.7L735.1 541.8L709.6 523.7L710.7 518.7L709.0 515.1Z" fill="none" stroke="#000" stroke-width="1.3" stroke-linejoin="round"/><path d="M716.7 519.9L720.2 518.7L721.4 523.4L725.0 525.8L724.4 530.5L720.2 528.2L717.3 525.8Z" fill="none" stroke="#000" stroke-width="1.3" stroke-linejoin="round"/><path d="M727.4 525.8L730.9 525.8L731.5 531.7L729.7 536.5L727.4 535.3Z" fill="none" stroke="#000" stroke-width="1.3" stroke-linejoin="round"/><path d="M748.1 516.9L753.4 515.1L757.0 516.9L759.4 519.9L762.9 517.5L765.3 518.7L761.7 521.1L758.2 523.4L755.8 521.1L752.3 519.9L751.1 523.4L748.7 525.8L749.3 519.3Z" fill="none" stroke="#000" stroke-width="1.3" stroke-linejoin="round"/><path d="M769.4 516.3L773.6 513.9L774.2 516.9L770.6 518.7Z" fill="none" stroke="#000" stroke-width="1.3" stroke-linejoin="round"/><path d="M694.7 499.1L697.7 497.3L698.9 500.9L695.9 502.1Z" fill="none" stroke="#000" stroke-width="1.3" stroke-linejoin="round"/><path d="M718.5 499.1L722.6 498.5L723.2 500.9L719.0 501.5Z" fill="none" stroke="#000" stroke-width="1.3" stroke-linejoin="round"/><path d="M730.9 496.1L735.7 494.4L736.2 496.1L731.5 497.9Z" fill="none" stroke="#000" stroke-width="1.3" stroke-linejoin="round"/><path d="M786.6 500.3L793.8 498.5L794.9 500.9L787.8 502.1Z" fill="none" stroke="#000" stroke-width="1.3" stroke-linejoin="round"/><path d="M690.6 508.0L695.3 509.8L700.1 513.3L697.7 514.2L693.6 511.6L690.0 509.4Z" fill="none" stroke="#000" stroke-width="1.3" stroke-linejoin="round"/><circle cx="603.7" cy="405.3" r="1.0" fill="#000"/><g transform="translate(590.50,0.00)">
<g stroke="#000" stroke-width="1.05" fill="none" stroke-dasharray="3.3 4.97"><line x1="12.68" y1="50.35" x2="486.3" y2="50.35"/><line x1="12.68" y1="134.90" x2="486.3" y2="134.90"/><line x1="12.68" y1="219.45" x2="486.3" y2="219.45"/><line x1="12.68" y1="304.00" x2="486.3" y2="304.00"/><line x1="12.68" y1="388.55" x2="486.3" y2="388.55"/><line x1="12.68" y1="473.10" x2="486.3" y2="473.10"/></g><g stroke="#000" stroke-width="1.35" fill="none" stroke-dasharray="2.9 5.39"><line x1="37.80" y1="40.87" x2="37.80" y2="548.4"/><line x1="116.54" y1="40.87" x2="116.54" y2="548.4"/><line x1="195.28" y1="40.87" x2="195.28" y2="548.4"/><line x1="274.02" y1="40.87" x2="274.02" y2="548.4"/><line x1="352.76" y1="40.87" x2="352.76" y2="548.4"/><line x1="431.50" y1="40.87" x2="431.50" y2="548.4"/></g><text x="37.50" y="283" class="gl" text-anchor="middle">-126</text><text x="116.24" y="283" class="gl" text-anchor="middle">-124</text><text x="194.98" y="283" class="gl" text-anchor="middle">-122</text><text x="273.72" y="283" class="gl" text-anchor="middle">-120</text><text x="352.46" y="283" class="gl" text-anchor="middle">-118</text><text x="431.20" y="283" class="gl" text-anchor="middle">-116</text><text x="254.2" y="49.80" class="gl" text-anchor="middle">22</text><text x="254.2" y="134.35" class="gl" text-anchor="middle">20</text><text x="254.2" y="218.90" class="gl" text-anchor="middle">18</text><text x="254.2" y="303.45" class="gl" text-anchor="middle">16</text><text x="254.2" y="388.00" class="gl" text-anchor="middle">14</text><text x="254.2" y="472.55" class="gl" text-anchor="middle">12</text><g stroke="#000" stroke-width="1.15" fill="none" stroke-dasharray="12.2 11.4"><path d="M12.65 331.9Q157.7 436.3 302.7 548.3"/><path d="M12.65 444.5Q82.7 495.3 152.7 548.3"/></g><path d="M242.95 294.5H255.95M249.45 288.05V300.95" stroke="#000" stroke-width="4.55" fill="none"/><text x="37" y="65.6" class="tt">PR max reflectivity projection (dBZ)</text><text x="438.3" y="522.8" class="pl">(b)</text><rect x="495.0" y="531.48" width="8.9" height="8.81" fill="#f8f8f8"/><rect x="495.0" y="523.02" width="8.9" height="8.81" fill="#f0f0f0"/><rect x="495.0" y="514.56" width="8.9" height="8.81" fill="#e9e9e9"/><rect x="495.0" y="506.10" width="8.9" height="8.81" fill="#e1e1e1"/><rect x="495.0" y="497.64" width="8.9" height="8.81" fill="#dadada"/><rect x="495.0" y="489.18" width="8.9" height="8.81" fill="#d2d2d2"/><rect x="495.0" y="480.72" width="8.9" height="8.81" fill="#cbcbcb"/><rect x="495.0" y="472.26" width="8.9" height="8.81" fill="#c3c3c3"/><rect x="495.0" y="463.80" width="8.9" height="8.81" fill="#bcbcbc"/><rect x="495.0" y="455.34" width="8.9" height="8.81" fill="#b4b4b4"/><rect x="495.0" y="446.88" width="8.9" height="8.81" fill="#adadad"/><rect x="495.0" y="438.42" width="8.9" height="8.81" fill="#a5a5a5"/><rect x="495.0" y="429.96" width="8.9" height="8.81" fill="#9e9e9e"/><rect x="495.0" y="421.50" width="8.9" height="8.81" fill="#969696"/><rect x="495.0" y="413.04" width="8.9" height="8.81" fill="#8be88b"/><rect x="495.0" y="404.58" width="8.9" height="8.81" fill="#83dd83"/><rect x="495.0" y="396.12" width="8.9" height="8.81" fill="#7bd27b"/><rect x="495.0" y="387.66" width="8.9" height="8.81" fill="#73c873"/><rect x="495.0" y="379.20" width="8.9" height="8.81" fill="#6bbd6b"/><rect x="495.0" y="370.74" width="8.9" height="8.81" fill="#d0d8ff"/><rect x="495.0" y="362.28" width="8.9" height="8.81" fill="#b8d0ff"/><rect x="495.0" y="353.82" width="8.9" height="8.81" fill="#a0c6ff"/><rect x="495.0" y="345.36" width="8.9" height="8.81" fill="#88c0ff"/><rect x="495.0" y="336.90" width="8.9" height="8.81" fill="#70b8ff"/><rect x="495.0" y="328.44" width="8.9" height="8.81" fill="#50b0ff"/><rect x="495.0" y="319.98" width="8.9" height="8.81" fill="#488cff"/><rect x="495.0" y="311.52" width="8.9" height="8.81" fill="#4070ff"/><rect x="495.0" y="303.06" width="8.9" height="8.81" fill="#3c50ff"/><rect x="495.0" y="294.60" width="8.9" height="8.81" fill="#3030ff"/><rect x="495.0" y="286.14" width="8.9" height="8.81" fill="#0000ff"/><rect x="495.0" y="277.68" width="8.9" height="8.81" fill="#0000ef"/><rect x="495.0" y="269.22" width="8.9" height="8.81" fill="#0000de"/><rect x="495.0" y="260.76" width="8.9" height="8.81" fill="#0000ce"/><rect x="495.0" y="252.30" width="8.9" height="8.81" fill="#0000be"/><rect x="495.0" y="243.84" width="8.9" height="8.81" fill="#ffff00"/><rect x="495.0" y="235.38" width="8.9" height="8.81" fill="#fff200"/><rect x="495.0" y="226.92" width="8.9" height="8.81" fill="#ffe600"/><rect x="495.0" y="218.46" width="8.9" height="8.81" fill="#ffd900"/><rect x="495.0" y="210.00" width="8.9" height="8.81" fill="#ffcc00"/><rect x="495.0" y="201.54" width="8.9" height="8.81" fill="#ff9000"/><rect x="495.0" y="193.08" width="8.9" height="8.81" fill="#ff8800"/><rect x="495.0" y="184.62" width="8.9" height="8.81" fill="#ff8000"/><rect x="495.0" y="176.16" width="8.9" height="8.81" fill="#ff7800"/><rect x="495.0" y="167.70" width="8.9" height="8.81" fill="#ff7000"/><rect x="495.0" y="159.24" width="8.9" height="8.81" fill="#ff4000"/><rect x="495.0" y="150.78" width="8.9" height="8.81" fill="#ff3500"/><rect x="495.0" y="142.32" width="8.9" height="8.81" fill="#ff2a00"/><rect x="495.0" y="133.86" width="8.9" height="8.81" fill="#ff1f00"/><rect x="495.0" y="125.40" width="8.9" height="8.81" fill="#ff1400"/><rect x="495.0" y="116.94" width="8.9" height="8.81" fill="#c80000"/><rect x="495.0" y="108.48" width="8.9" height="8.81" fill="#be0401"/><rect x="495.0" y="100.02" width="8.9" height="8.81" fill="#b40702"/><rect x="495.0" y="91.56" width="8.9" height="8.81" fill="#aa0a03"/><rect x="495.0" y="83.10" width="8.9" height="8.81" fill="#a00e04"/><rect x="495.0" y="74.64" width="8.9" height="8.81" fill="#620c04"/><rect x="495.0" y="66.18" width="8.9" height="8.81" fill="#5e100a"/><rect x="495.0" y="57.72" width="8.9" height="8.81" fill="#5b140f"/><rect x="495.0" y="49.26" width="8.9" height="8.81" fill="#581814"/><rect x="495.0" y="40.80" width="8.9" height="8.81" fill="#541c1a"/><line x1="503.59999999999997" y1="91.56" x2="506.09999999999997" y2="91.56" stroke="#000" stroke-width="1"/><text x="524.2" y="99.86" class="cb" text-anchor="middle">54</text><line x1="503.59999999999997" y1="142.32" x2="506.09999999999997" y2="142.32" stroke="#000" stroke-width="1"/><text x="524.2" y="150.62" class="cb" text-anchor="middle">48</text><line x1="503.59999999999997" y1="193.08" x2="506.09999999999997" y2="193.08" stroke="#000" stroke-width="1"/><text x="524.2" y="201.38" class="cb" text-anchor="middle">42</text><line x1="503.59999999999997" y1="243.84" x2="506.09999999999997" y2="243.84" stroke="#000" stroke-width="1"/><text x="524.2" y="252.14" class="cb" text-anchor="middle">36</text><line x1="503.59999999999997" y1="294.60" x2="506.09999999999997" y2="294.60" stroke="#000" stroke-width="1"/><text x="524.2" y="302.90" class="cb" text-anchor="middle">30</text><line x1="503.59999999999997" y1="345.36" x2="506.09999999999997" y2="345.36" stroke="#000" stroke-width="1"/><text x="524.2" y="353.66" class="cb" text-anchor="middle">24</text><line x1="503.59999999999997" y1="396.12" x2="506.09999999999997" y2="396.12" stroke="#000" stroke-width="1"/><text x="524.2" y="404.42" class="cb" text-anchor="middle">18</text><line x1="503.59999999999997" y1="446.88" x2="506.09999999999997" y2="446.88" stroke="#000" stroke-width="1"/><text x="524.2" y="455.18" class="cb" text-anchor="middle">12</text><line x1="503.59999999999997" y1="497.64" x2="506.09999999999997" y2="497.64" stroke="#000" stroke-width="1"/><text x="524.2" y="505.94" class="cb" text-anchor="middle">6</text><line x1="503.59999999999997" y1="548.40" x2="506.09999999999997" y2="548.40" stroke="#000" stroke-width="1"/><text x="524.2" y="556.70" class="cb" text-anchor="middle">0</text></g>
<path d="M1248.5 480.7L1253.8 479.0L1258.6 477.2L1260.9 472.4L1265.7 470.7L1271.0 471.8L1270.4 476.0L1268.0 480.7L1264.5 483.1L1259.7 484.9L1255.6 486.7L1252.6 484.3L1249.1 484.3Z" fill="#84dc84" stroke="#000" stroke-width="1.4" stroke-linejoin="round"/><path d="M1256.8 469.5L1260.9 468.9L1263.9 470.7L1260.9 471.8L1257.4 471.2Z" fill="#84dc84" stroke="#000" stroke-width="1.4" stroke-linejoin="round"/><path d="M1265.1 487.3L1269.2 484.9L1271.6 480.7L1274.6 481.9L1274.0 486.7L1277.5 489.6L1275.2 492.6L1274.0 497.3L1270.4 496.1L1268.0 492.6L1265.7 490.8Z" fill="#84dc84" stroke="#000" stroke-width="1.4" stroke-linejoin="round"/><path d="M1277.5 489.0L1281.1 485.5L1285.8 484.3L1291.8 483.1L1296.5 481.9L1300.1 480.7L1297.7 477.2L1291.8 479.5L1289.4 477.8L1294.1 476.0L1298.3 473.6L1300.1 470.7L1303.6 468.9L1306.0 464.1L1304.2 459.4L1307.2 457.0L1310.7 459.4L1310.1 464.1L1308.4 468.9L1311.9 471.8L1314.9 473.6L1313.1 477.2L1311.9 480.7L1307.2 483.1L1302.4 486.7L1300.1 491.4L1296.5 490.2L1291.8 489.0L1285.8 490.2L1281.1 491.4Z" fill="#84dc84" stroke="#000" stroke-width="1.4" stroke-linejoin="round"/><path d="M1260.9 462.4L1265.7 462.9L1271.6 461.8L1276.3 462.9L1274.0 464.7L1268.0 465.3L1262.1 464.7Z" fill="#84dc84" stroke="#000" stroke-width="1.4" stroke-linejoin="round"/><path d="M1279.3 460.6L1282.3 459.4L1282.9 463.5L1279.9 464.1Z" fill="#84dc84" stroke="#000" stroke-width="1.4" stroke-linejoin="round"/><path d="M1285.2 459.4L1290.6 460.0L1292.4 462.9L1288.2 462.4Z" fill="#84dc84" stroke="#000" stroke-width="1.4" stroke-linejoin="round"/><path d="M1314.9 450.5L1319.0 448.1L1325.0 446.9L1328.5 446.3L1326.7 450.5L1325.6 454.6L1323.8 451.7L1319.0 451.7L1316.1 452.9Z" fill="#84dc84" stroke="#000" stroke-width="1.4" stroke-linejoin="round"/><path d="M1330.9 445.8L1333.9 445.4L1334.1 447.5L1331.1 447.8Z" fill="#84dc84" stroke="#000" stroke-width="1.4" stroke-linejoin="round"/><path d="M1341.0 450.5L1343.9 447.5L1348.7 446.9L1353.4 448.7L1355.2 453.5L1351.1 454.6L1347.5 451.7L1344.5 452.3L1342.8 455.2L1340.4 453.5Z" fill="#84dc84" stroke="#000" stroke-width="1.4" stroke-linejoin="round"/><path d="M1327.3 470.1L1330.9 467.7L1336.8 468.3L1342.8 468.9L1348.7 466.5L1355.8 465.3L1357.0 470.1L1354.6 472.4L1356.4 480.1L1353.4 480.1L1352.2 473.6L1348.7 471.8L1343.9 472.4L1339.2 471.8L1334.5 472.4L1330.9 474.8L1328.5 473.6Z" fill="#84dc84" stroke="#000" stroke-width="1.4" stroke-linejoin="round"/><path d="M1317.9 472.4L1323.8 473.0L1326.2 474.8L1323.8 477.2L1320.2 475.4Z" fill="#84dc84" stroke="#000" stroke-width="1.4" stroke-linejoin="round"/><path d="M1330.3 460.0L1333.3 459.4L1334.5 462.9L1331.5 463.5Z" fill="#84dc84" stroke="#000" stroke-width="1.4" stroke-linejoin="round"/><path d="M1328.5 486.7L1333.3 485.5L1336.8 489.0L1340.4 484.3L1342.8 480.7L1341.6 486.7L1342.8 491.4L1340.4 496.1L1335.6 496.1L1330.9 498.5L1329.7 493.8L1330.3 490.2Z" fill="#84dc84" stroke="#000" stroke-width="1.4" stroke-linejoin="round"/><path d="M1359.9 472.4L1362.3 470.7L1364.1 474.8L1365.9 480.7L1371.2 486.7L1366.5 491.4L1370.0 498.5L1364.1 498.5L1359.4 497.3L1361.7 492.6L1359.4 489.0L1362.9 484.3L1362.3 478.4Z" fill="#84dc84" stroke="#000" stroke-width="1.4" stroke-linejoin="round"/><path d="M1374.2 476.0L1377.1 473.6L1378.9 476.6L1376.0 478.4Z" fill="#84dc84" stroke="#000" stroke-width="1.4" stroke-linejoin="round"/><path d="M1377.1 486.1L1383.1 482.5L1385.4 478.4L1386.6 475.4L1390.8 477.2L1389.6 481.9L1385.4 484.3L1383.1 486.7L1378.3 487.8Z" fill="#84dc84" stroke="#000" stroke-width="1.4" stroke-linejoin="round"/><path d="M1390.8 506.8L1396.1 504.4L1398.5 500.9L1397.3 496.1L1402.0 496.1L1406.8 491.4L1410.3 492.6L1406.8 498.5L1402.0 502.1L1399.7 505.6L1394.9 508.6Z" fill="#84dc84" stroke="#000" stroke-width="1.4" stroke-linejoin="round"/><path d="M1404.4 502.1L1409.2 499.7L1413.3 497.3L1415.1 500.9L1415.7 504.4L1411.5 508.0L1408.0 509.8L1405.6 506.8Z" fill="#84dc84" stroke="#000" stroke-width="1.4" stroke-linejoin="round"/><path d="M1299.5 510.4L1302.4 509.8L1306.0 513.9L1310.7 516.3L1317.9 513.9L1323.8 515.1L1328.5 518.7L1330.9 522.2L1328.5 527.0L1327.3 530.5L1322.6 531.7L1325.0 536.5L1328.5 537.7L1325.6 541.8L1300.1 523.7L1301.2 518.7L1299.5 515.1Z" fill="#84dc84" stroke="#000" stroke-width="1.4" stroke-linejoin="round"/><path d="M1338.6 516.9L1343.9 515.1L1347.5 516.9L1349.9 519.9L1353.4 517.5L1355.8 518.7L1352.2 521.1L1348.7 523.4L1346.3 521.1L1342.8 519.9L1341.6 523.4L1339.2 525.8L1339.8 519.3Z" fill="#84dc84" stroke="#000" stroke-width="1.4" stroke-linejoin="round"/><path d="M1359.9 516.3L1364.1 513.9L1364.7 516.9L1361.1 518.7Z" fill="#84dc84" stroke="#000" stroke-width="1.4" stroke-linejoin="round"/><path d="M1285.2 499.1L1288.2 497.3L1289.4 500.9L1286.4 502.1Z" fill="#84dc84" stroke="#000" stroke-width="1.4" stroke-linejoin="round"/><path d="M1309.0 499.1L1313.1 498.5L1313.7 500.9L1309.5 501.5Z" fill="#84dc84" stroke="#000" stroke-width="1.4" stroke-linejoin="round"/><path d="M1321.4 496.1L1326.2 494.4L1326.7 496.1L1322.0 497.9Z" fill="#84dc84" stroke="#000" stroke-width="1.4" stroke-linejoin="round"/><path d="M1377.1 500.3L1384.3 498.5L1385.4 500.9L1378.3 502.1Z" fill="#84dc84" stroke="#000" stroke-width="1.4" stroke-linejoin="round"/><path d="M1281.1 508.0L1285.8 509.8L1290.6 513.3L1288.2 514.2L1284.1 511.6L1280.5 509.4Z" fill="#84dc84" stroke="#000" stroke-width="1.4" stroke-linejoin="round"/><path d="M1307.2 519.9L1310.7 518.7L1311.9 523.4L1315.5 525.8L1314.9 530.5L1310.7 528.2L1307.8 525.8Z" fill="#fff" stroke="#000" stroke-width="1.3" stroke-linejoin="round"/><path d="M1317.9 525.8L1321.4 525.8L1322.0 531.7L1320.2 536.5L1317.9 535.3Z" fill="#fff" stroke="#000" stroke-width="1.3" stroke-linejoin="round"/><circle cx="1386.6" cy="509.2" r="1.3" fill="#000"/><circle cx="1396.7" cy="513.9" r="1.3" fill="#000"/><circle cx="1416.3" cy="508.6" r="1.3" fill="#000"/><circle cx="1419.8" cy="506.8" r="1.3" fill="#000"/><circle cx="1425.8" cy="506.8" r="1.3" fill="#000"/><circle cx="1332.1" cy="524.0" r="1.3" fill="#000"/><circle cx="1335.6" cy="523.4" r="1.3" fill="#000"/><circle cx="1330.3" cy="537.7" r="1.3" fill="#000"/><circle cx="1253.8" cy="463.5" r="1.3" fill="#000"/><circle cx="1285.8" cy="455.8" r="1.3" fill="#000"/><circle cx="1243.1" cy="480.7" r="1.3" fill="#000"/><circle cx="1265.7" cy="496.7" r="1.3" fill="#000"/><circle cx="1298.3" cy="499.7" r="1.3" fill="#000"/><circle cx="1358.8" cy="452.9" r="1.3" fill="#000"/><circle cx="1346.3" cy="529.9" r="1.3" fill="#000"/><circle cx="1394.9" cy="480.1" r="1.3" fill="#000"/><circle cx="1372.4" cy="502.1" r="1.3" fill="#000"/><circle cx="1293.5" cy="470.7" r="1.3" fill="#000"/><circle cx="1333.3" cy="479.5" r="1.3" fill="#000"/><circle cx="1339.2" cy="479.0" r="1.3" fill="#000"/><path d="M1398.5 502.4h.01M1331.6 494.6h.01M1282.0 460.2h.01M1365.4 481.8h.01M1305.9 519.9h.01M1262.0 472.6h.01M1270.8 486.4h.01M1322.3 537.0h.01M1324.7 448.0h.01M1286.5 486.7h.01M1311.1 476.4h.01M1288.6 500.7h.01M1405.9 501.7h.01M1348.3 522.1h.01M1326.1 520.8h.01M1352.2 448.7h.01M1260.5 473.3h.01M1267.1 475.5h.01M1250.0 484.0h.01M1360.4 517.1h.01M1341.8 472.0h.01M1332.0 488.1h.01M1297.7 486.0h.01M1285.6 486.1h.01M1287.4 460.3h.01M1326.4 528.4h.01M1274.2 484.9h.01" stroke="#a8ccff" stroke-width="1.65" stroke-linecap="square" fill="none"/><path d="M1304.9 520.6h.01M1265.7 464.5h.01M1354.7 471.4h.01M1329.8 522.4h.01M1300.2 523.5h.01M1340.0 520.8h.01M1317.8 518.2h.01M1263.5 470.7h.01M1410.2 506.7h.01M1361.0 487.6h.01M1264.6 471.6h.01" stroke="#1428e0" stroke-width="1.65" stroke-linecap="square" fill="none"/><path d="M1273.5 484.7h.01M1348.4 447.8h.01" stroke="#ffd400" stroke-width="1.65" stroke-linecap="square" fill="none"/><path d="M1300.1 523.7L1325.6 541.8L1323.8 542.4L1298.9 524.8Z" fill="#84dc84"/><path d="M1248.5 480.7L1253.8 479.0L1258.6 477.2L1260.9 472.4L1265.7 470.7L1271.0 471.8L1270.4 476.0L1268.0 480.7L1264.5 483.1L1259.7 484.9L1255.6 486.7L1252.6 484.3L1249.1 484.3Z" fill="none" stroke="#000" stroke-width="1.3" stroke-linejoin="round"/><path d="M1256.8 469.5L1260.9 468.9L1263.9 470.7L1260.9 471.8L1257.4 471.2Z" fill="none" stroke="#000" stroke-width="1.3" stroke-linejoin="round"/><path d="M1265.1 487.3L1269.2 484.9L1271.6 480.7L1274.6 481.9L1274.0 486.7L1277.5 489.6L1275.2 492.6L1274.0 497.3L1270.4 496.1L1268.0 492.6L1265.7 490.8Z" fill="none" stroke="#000" stroke-width="1.3" stroke-linejoin="round"/><path d="M1277.5 489.0L1281.1 485.5L1285.8 484.3L1291.8 483.1L1296.5 481.9L1300.1 480.7L1297.7 477.2L1291.8 479.5L1289.4 477.8L1294.1 476.0L1298.3 473.6L1300.1 470.7L1303.6 468.9L1306.0 464.1L1304.2 459.4L1307.2 457.0L1310.7 459.4L1310.1 464.1L1308.4 468.9L1311.9 471.8L1314.9 473.6L1313.1 477.2L1311.9 480.7L1307.2 483.1L1302.4 486.7L1300.1 491.4L1296.5 490.2L1291.8 489.0L1285.8 490.2L1281.1 491.4Z" fill="none" stroke="#000" stroke-width="1.3" stroke-linejoin="round"/><path d="M1260.9 462.4L1265.7 462.9L1271.6 461.8L1276.3 462.9L1274.0 464.7L1268.0 465.3L1262.1 464.7Z" fill="none" stroke="#000" stroke-width="1.3" stroke-linejoin="round"/><path d="M1279.3 460.6L1282.3 459.4L1282.9 463.5L1279.9 464.1Z" fill="none" stroke="#000" stroke-width="1.3" stroke-linejoin="round"/><path d="M1285.2 459.4L1290.6 460.0L1292.4 462.9L1288.2 462.4Z" fill="none" stroke="#000" stroke-width="1.3" stroke-linejoin="round"/><path d="M1314.9 450.5L1319.0 448.1L1325.0 446.9L1328.5 446.3L1326.7 450.5L1325.6 454.6L1323.8 451.7L1319.0 451.7L1316.1 452.9Z" fill="none" stroke="#000" stroke-width="1.3" stroke-linejoin="round"/><path d="M1330.9 445.8L1333.9 445.4L1334.1 447.5L1331.1 447.8Z" fill="none" stroke="#000" stroke-width="1.3" stroke-linejoin="round"/><path d="M1341.0 450.5L1343.9 447.5L1348.7 446.9L1353.4 448.7L1355.2 453.5L1351.1 454.6L1347.5 451.7L1344.5 452.3L1342.8 455.2L1340.4 453.5Z" fill="none" stroke="#000" stroke-width="1.3" stroke-linejoin="round"/><path d="M1327.3 470.1L1330.9 467.7L1336.8 468.3L1342.8 468.9L1348.7 466.5L1355.8 465.3L1357.0 470.1L1354.6 472.4L1356.4 480.1L1353.4 480.1L1352.2 473.6L1348.7 471.8L1343.9 472.4L1339.2 471.8L1334.5 472.4L1330.9 474.8L1328.5 473.6Z" fill="none" stroke="#000" stroke-width="1.3" stroke-linejoin="round"/><path d="M1317.9 472.4L1323.8 473.0L1326.2 474.8L1323.8 477.2L1320.2 475.4Z" fill="none" stroke="#000" stroke-width="1.3" stroke-linejoin="round"/><path d="M1330.3 460.0L1333.3 459.4L1334.5 462.9L1331.5 463.5Z" fill="none" stroke="#000" stroke-width="1.3" stroke-linejoin="round"/><path d="M1328.5 486.7L1333.3 485.5L1336.8 489.0L1340.4 484.3L1342.8 480.7L1341.6 486.7L1342.8 491.4L1340.4 496.1L1335.6 496.1L1330.9 498.5L1329.7 493.8L1330.3 490.2Z" fill="none" stroke="#000" stroke-width="1.3" stroke-linejoin="round"/><path d="M1359.9 472.4L1362.3 470.7L1364.1 474.8L1365.9 480.7L1371.2 486.7L1366.5 491.4L1370.0 498.5L1364.1 498.5L1359.4 497.3L1361.7 492.6L1359.4 489.0L1362.9 484.3L1362.3 478.4Z" fill="none" stroke="#000" stroke-width="1.3" stroke-linejoin="round"/><path d="M1374.2 476.0L1377.1 473.6L1378.9 476.6L1376.0 478.4Z" fill="none" stroke="#000" stroke-width="1.3" stroke-linejoin="round"/><path d="M1377.1 486.1L1383.1 482.5L1385.4 478.4L1386.6 475.4L1390.8 477.2L1389.6 481.9L1385.4 484.3L1383.1 486.7L1378.3 487.8Z" fill="none" stroke="#000" stroke-width="1.3" stroke-linejoin="round"/><path d="M1390.8 506.8L1396.1 504.4L1398.5 500.9L1397.3 496.1L1402.0 496.1L1406.8 491.4L1410.3 492.6L1406.8 498.5L1402.0 502.1L1399.7 505.6L1394.9 508.6Z" fill="none" stroke="#000" stroke-width="1.3" stroke-linejoin="round"/><path d="M1404.4 502.1L1409.2 499.7L1413.3 497.3L1415.1 500.9L1415.7 504.4L1411.5 508.0L1408.0 509.8L1405.6 506.8Z" fill="none" stroke="#000" stroke-width="1.3" stroke-linejoin="round"/><path d="M1299.5 510.4L1302.4 509.8L1306.0 513.9L1310.7 516.3L1317.9 513.9L1323.8 515.1L1328.5 518.7L1330.9 522.2L1328.5 527.0L1327.3 530.5L1322.6 531.7L1325.0 536.5L1328.5 537.7L1325.6 541.8L1300.1 523.7L1301.2 518.7L1299.5 515.1Z" fill="none" stroke="#000" stroke-width="1.3" stroke-linejoin="round"/><path d="M1307.2 519.9L1310.7 518.7L1311.9 523.4L1315.5 525.8L1314.9 530.5L1310.7 528.2L1307.8 525.8Z" fill="none" stroke="#000" stroke-width="1.3" stroke-linejoin="round"/><path d="M1317.9 525.8L1321.4 525.8L1322.0 531.7L1320.2 536.5L1317.9 535.3Z" fill="none" stroke="#000" stroke-width="1.3" stroke-linejoin="round"/><path d="M1338.6 516.9L1343.9 515.1L1347.5 516.9L1349.9 519.9L1353.4 517.5L1355.8 518.7L1352.2 521.1L1348.7 523.4L1346.3 521.1L1342.8 519.9L1341.6 523.4L1339.2 525.8L1339.8 519.3Z" fill="none" stroke="#000" stroke-width="1.3" stroke-linejoin="round"/><path d="M1359.9 516.3L1364.1 513.9L1364.7 516.9L1361.1 518.7Z" fill="none" stroke="#000" stroke-width="1.3" stroke-linejoin="round"/><path d="M1285.2 499.1L1288.2 497.3L1289.4 500.9L1286.4 502.1Z" fill="none" stroke="#000" stroke-width="1.3" stroke-linejoin="round"/><path d="M1309.0 499.1L1313.1 498.5L1313.7 500.9L1309.5 501.5Z" fill="none" stroke="#000" stroke-width="1.3" stroke-linejoin="round"/><path d="M1321.4 496.1L1326.2 494.4L1326.7 496.1L1322.0 497.9Z" fill="none" stroke="#000" stroke-width="1.3" stroke-linejoin="round"/><path d="M1377.1 500.3L1384.3 498.5L1385.4 500.9L1378.3 502.1Z" fill="none" stroke="#000" stroke-width="1.3" stroke-linejoin="round"/><path d="M1281.1 508.0L1285.8 509.8L1290.6 513.3L1288.2 514.2L1284.1 511.6L1280.5 509.4Z" fill="none" stroke="#000" stroke-width="1.3" stroke-linejoin="round"/><circle cx="1194.2" cy="405.3" r="1.0" fill="#000"/><g transform="translate(1181.00,0.00)">
<g stroke="#000" stroke-width="1.05" fill="none" stroke-dasharray="3.3 4.97"><line x1="12.68" y1="50.35" x2="486.3" y2="50.35"/><line x1="12.68" y1="134.90" x2="486.3" y2="134.90"/><line x1="12.68" y1="219.45" x2="486.3" y2="219.45"/><line x1="12.68" y1="304.00" x2="486.3" y2="304.00"/><line x1="12.68" y1="388.55" x2="486.3" y2="388.55"/><line x1="12.68" y1="473.10" x2="486.3" y2="473.10"/></g><g stroke="#000" stroke-width="1.35" fill="none" stroke-dasharray="2.9 5.39"><line x1="37.80" y1="40.87" x2="37.80" y2="548.4"/><line x1="116.54" y1="40.87" x2="116.54" y2="548.4"/><line x1="195.28" y1="40.87" x2="195.28" y2="548.4"/><line x1="274.02" y1="40.87" x2="274.02" y2="548.4"/><line x1="352.76" y1="40.87" x2="352.76" y2="548.4"/><line x1="431.50" y1="40.87" x2="431.50" y2="548.4"/></g><text x="37.50" y="283" class="gl" text-anchor="middle">-126</text><text x="116.24" y="283" class="gl" text-anchor="middle">-124</text><text x="194.98" y="283" class="gl" text-anchor="middle">-122</text><text x="273.72" y="283" class="gl" text-anchor="middle">-120</text><text x="352.46" y="283" class="gl" text-anchor="middle">-118</text><text x="431.20" y="283" class="gl" text-anchor="middle">-116</text><text x="254.2" y="49.80" class="gl" text-anchor="middle">22</text><text x="254.2" y="134.35" class="gl" text-anchor="middle">20</text><text x="254.2" y="218.90" class="gl" text-anchor="middle">18</text><text x="254.2" y="303.45" class="gl" text-anchor="middle">16</text><text x="254.2" y="388.00" class="gl" text-anchor="middle">14</text><text x="254.2" y="472.55" class="gl" text-anchor="middle">12</text><g stroke="#000" stroke-width="1.15" fill="none" stroke-dasharray="12.2 11.4"><path d="M12.65 331.9Q157.7 436.3 302.7 548.3"/><path d="M12.65 444.5Q82.7 495.3 152.7 548.3"/></g><path d="M242.95 294.5H255.95M249.45 288.05V300.95" stroke="#000" stroke-width="4.55" fill="none"/><text x="37" y="65.6" class="tt">2A25 near surface rainrate (mm/hr)</text><text x="438.3" y="522.8" class="pl">(c)</text><rect x="495.0" y="531.48" width="8.9" height="8.81" fill="#8be88b"/><rect x="495.0" y="523.02" width="8.9" height="8.81" fill="#86e186"/><rect x="495.0" y="514.56" width="8.9" height="8.81" fill="#80da80"/><rect x="495.0" y="506.10" width="8.9" height="8.81" fill="#7bd27b"/><rect x="495.0" y="497.64" width="8.9" height="8.81" fill="#76cb76"/><rect x="495.0" y="489.18" width="8.9" height="8.81" fill="#70c470"/><rect x="495.0" y="480.72" width="8.9" height="8.81" fill="#6bbd6b"/><rect x="495.0" y="472.26" width="8.9" height="8.81" fill="#d0d8ff"/><rect x="495.0" y="463.80" width="8.9" height="8.81" fill="#bed2ff"/><rect x="495.0" y="455.34" width="8.9" height="8.81" fill="#accbff"/><rect x="495.0" y="446.88" width="8.9" height="8.81" fill="#9ac4ff"/><rect x="495.0" y="438.42" width="8.9" height="8.81" fill="#88c0ff"/><rect x="495.0" y="429.96" width="8.9" height="8.81" fill="#76baff"/><rect x="495.0" y="421.50" width="8.9" height="8.81" fill="#60b4ff"/><rect x="495.0" y="413.04" width="8.9" height="8.81" fill="#4ea7ff"/><rect x="495.0" y="404.58" width="8.9" height="8.81" fill="#488cff"/><rect x="495.0" y="396.12" width="8.9" height="8.81" fill="#4277ff"/><rect x="495.0" y="387.66" width="8.9" height="8.81" fill="#3e60ff"/><rect x="495.0" y="379.20" width="8.9" height="8.81" fill="#3948ff"/><rect x="495.0" y="370.74" width="8.9" height="8.81" fill="#3030ff"/><rect x="495.0" y="362.28" width="8.9" height="8.81" fill="#0000ff"/><rect x="495.0" y="353.82" width="8.9" height="8.81" fill="#0000f4"/><rect x="495.0" y="345.36" width="8.9" height="8.81" fill="#0000e9"/><rect x="495.0" y="336.90" width="8.9" height="8.81" fill="#0000de"/><rect x="495.0" y="328.44" width="8.9" height="8.81" fill="#0000d4"/><rect x="495.0" y="319.98" width="8.9" height="8.81" fill="#0000c9"/><rect x="495.0" y="311.52" width="8.9" height="8.81" fill="#0000be"/><rect x="495.0" y="303.06" width="8.9" height="8.81" fill="#ffff00"/><rect x="495.0" y="294.60" width="8.9" height="8.81" fill="#fff600"/><rect x="495.0" y="286.14" width="8.9" height="8.81" fill="#ffee00"/><rect x="495.0" y="277.68" width="8.9" height="8.81" fill="#ffe600"/><rect x="495.0" y="269.22" width="8.9" height="8.81" fill="#ffdd00"/><rect x="495.0" y="260.76" width="8.9" height="8.81" fill="#ffd400"/><rect x="495.0" y="252.30" width="8.9" height="8.81" fill="#ffcc00"/><rect x="495.0" y="243.84" width="8.9" height="8.81" fill="#ff9000"/><rect x="495.0" y="235.38" width="8.9" height="8.81" fill="#ff8a00"/><rect x="495.0" y="226.92" width="8.9" height="8.81" fill="#ff8300"/><rect x="495.0" y="218.46" width="8.9" height="8.81" fill="#ff7d00"/><rect x="495.0" y="210.00" width="8.9" height="8.81" fill="#ff7600"/><rect x="495.0" y="201.54" width="8.9" height="8.81" fill="#ff7000"/><rect x="495.0" y="193.08" width="8.9" height="8.81" fill="#ff4000"/><rect x="495.0" y="184.62" width="8.9" height="8.81" fill="#ff3900"/><rect x="495.0" y="176.16" width="8.9" height="8.81" fill="#ff3100"/><rect x="495.0" y="167.70" width="8.9" height="8.81" fill="#ff2a00"/><rect x="495.0" y="159.24" width="8.9" height="8.81" fill="#ff2300"/><rect x="495.0" y="150.78" width="8.9" height="8.81" fill="#ff1b00"/><rect x="495.0" y="142.32" width="8.9" height="8.81" fill="#ff1400"/><rect x="495.0" y="133.86" width="8.9" height="8.81" fill="#c80000"/><rect x="495.0" y="125.40" width="8.9" height="8.81" fill="#c10201"/><rect x="495.0" y="116.94" width="8.9" height="8.81" fill="#bb0501"/><rect x="495.0" y="108.48" width="8.9" height="8.81" fill="#b40702"/><rect x="495.0" y="100.02" width="8.9" height="8.81" fill="#ad0903"/><rect x="495.0" y="91.56" width="8.9" height="8.81" fill="#a70c03"/><rect x="495.0" y="83.10" width="8.9" height="8.81" fill="#a00e04"/><rect x="495.0" y="74.64" width="8.9" height="8.81" fill="#620c04"/><rect x="495.0" y="66.18" width="8.9" height="8.81" fill="#5e100a"/><rect x="495.0" y="57.72" width="8.9" height="8.81" fill="#5b140f"/><rect x="495.0" y="49.26" width="8.9" height="8.81" fill="#581814"/><rect x="495.0" y="40.80" width="8.9" height="8.81" fill="#541c1a"/><line x1="503.59999999999997" y1="91.56" x2="506.09999999999997" y2="91.56" stroke="#000" stroke-width="1"/><text x="524.2" y="99.86" class="cb" text-anchor="middle">54</text><line x1="503.59999999999997" y1="142.32" x2="506.09999999999997" y2="142.32" stroke="#000" stroke-width="1"/><text x="524.2" y="150.62" class="cb" text-anchor="middle">48</text><line x1="503.59999999999997" y1="193.08" x2="506.09999999999997" y2="193.08" stroke="#000" stroke-width="1"/><text x="524.2" y="201.38" class="cb" text-anchor="middle">42</text><line x1="503.59999999999997" y1="243.84" x2="506.09999999999997" y2="243.84" stroke="#000" stroke-width="1"/><text x="524.2" y="252.14" class="cb" text-anchor="middle">36</text><line x1="503.59999999999997" y1="294.60" x2="506.09999999999997" y2="294.60" stroke="#000" stroke-width="1"/><text x="524.2" y="302.90" class="cb" text-anchor="middle">30</text><line x1="503.59999999999997" y1="345.36" x2="506.09999999999997" y2="345.36" stroke="#000" stroke-width="1"/><text x="524.2" y="353.66" class="cb" text-anchor="middle">24</text><line x1="503.59999999999997" y1="396.12" x2="506.09999999999997" y2="396.12" stroke="#000" stroke-width="1"/><text x="524.2" y="404.42" class="cb" text-anchor="middle">18</text><line x1="503.59999999999997" y1="446.88" x2="506.09999999999997" y2="446.88" stroke="#000" stroke-width="1"/><text x="524.2" y="455.18" class="cb" text-anchor="middle">12</text><line x1="503.59999999999997" y1="497.64" x2="506.09999999999997" y2="497.64" stroke="#000" stroke-width="1"/><text x="524.2" y="505.94" class="cb" text-anchor="middle">6</text><line x1="503.59999999999997" y1="548.40" x2="506.09999999999997" y2="548.40" stroke="#000" stroke-width="1"/><text x="524.2" y="556.70" class="cb" text-anchor="middle">0</text></g>
<g clip-path="url(#clipd)"><rect x="12" y="770" width="476" height="370" fill="#ebebeb"/><path d="M15.2 777.0h5.0v5.0h-5.0zM12.7 782.0h5.0v5.0h-5.0zM10.2 787.0h5.0v5.0h-5.0zM25.2 787.0h5.0v5.0h-5.0zM22.7 792.0h5.0v5.0h-5.0zM27.7 792.0h5.0v5.0h-5.0zM32.7 792.0h5.0v5.0h-5.0zM35.2 797.0h5.0v5.0h-5.0zM40.2 797.0h5.0v5.0h-5.0zM17.7 802.0h5.0v5.0h-5.0zM22.7 802.0h5.0v5.0h-5.0zM27.7 802.0h5.0v5.0h-5.0zM32.7 802.0h5.0v5.0h-5.0zM42.7 802.0h5.0v5.0h-5.0zM10.2 807.0h5.0v5.0h-5.0zM25.2 807.0h5.0v5.0h-5.0zM40.2 807.0h5.0v5.0h-5.0zM50.2 807.0h5.0v5.0h-5.0zM12.7 812.0h5.0v5.0h-5.0zM17.7 812.0h5.0v5.0h-5.0zM22.7 812.0h5.0v5.0h-5.0zM32.7 812.0h5.0v5.0h-5.0zM37.7 812.0h5.0v5.0h-5.0zM10.2 817.0h5.0v5.0h-5.0zM20.2 817.0h5.0v5.0h-5.0zM35.2 817.0h5.0v5.0h-5.0zM50.2 817.0h5.0v5.0h-5.0zM55.2 817.0h5.0v5.0h-5.0zM70.2 817.0h5.0v5.0h-5.0zM17.7 822.0h5.0v5.0h-5.0zM27.7 822.0h5.0v5.0h-5.0zM52.7 822.0h5.0v5.0h-5.0zM20.2 827.0h5.0v5.0h-5.0zM40.2 827.0h5.0v5.0h-5.0zM55.2 827.0h5.0v5.0h-5.0zM65.2 827.0h5.0v5.0h-5.0zM75.2 827.0h5.0v5.0h-5.0zM17.7 832.0h5.0v5.0h-5.0zM32.7 832.0h5.0v5.0h-5.0zM67.7 832.0h5.0v5.0h-5.0zM77.7 832.0h5.0v5.0h-5.0zM82.7 832.0h5.0v5.0h-5.0zM92.7 832.0h5.0v5.0h-5.0zM25.2 837.0h5.0v5.0h-5.0zM30.2 837.0h5.0v5.0h-5.0zM35.2 837.0h5.0v5.0h-5.0zM60.2 837.0h5.0v5.0h-5.0zM70.2 837.0h5.0v5.0h-5.0zM75.2 837.0h5.0v5.0h-5.0zM90.2 837.0h5.0v5.0h-5.0zM22.7 842.0h5.0v5.0h-5.0zM47.7 842.0h5.0v5.0h-5.0zM52.7 842.0h5.0v5.0h-5.0zM62.7 842.0h5.0v5.0h-5.0zM72.7 842.0h5.0v5.0h-5.0zM82.7 842.0h5.0v5.0h-5.0zM87.7 842.0h5.0v5.0h-5.0zM92.7 842.0h5.0v5.0h-5.0zM15.2 847.0h5.0v5.0h-5.0zM40.2 847.0h5.0v5.0h-5.0zM75.2 847.0h5.0v5.0h-5.0zM90.2 847.0h5.0v5.0h-5.0zM105.2 847.0h5.0v5.0h-5.0zM22.7 852.0h5.0v5.0h-5.0zM42.7 852.0h5.0v5.0h-5.0zM67.7 852.0h5.0v5.0h-5.0zM92.7 852.0h5.0v5.0h-5.0zM97.7 852.0h5.0v5.0h-5.0zM107.7 852.0h5.0v5.0h-5.0zM112.7 852.0h5.0v5.0h-5.0zM20.2 857.0h5.0v5.0h-5.0zM40.2 857.0h5.0v5.0h-5.0zM70.2 857.0h5.0v5.0h-5.0zM80.2 857.0h5.0v5.0h-5.0zM90.2 857.0h5.0v5.0h-5.0zM95.2 857.0h5.0v5.0h-5.0zM100.2 857.0h5.0v5.0h-5.0zM105.2 857.0h5.0v5.0h-5.0zM27.7 862.0h5.0v5.0h-5.0zM32.7 862.0h5.0v5.0h-5.0zM42.7 862.0h5.0v5.0h-5.0zM57.7 862.0h5.0v5.0h-5.0zM62.7 862.0h5.0v5.0h-5.0zM72.7 862.0h5.0v5.0h-5.0zM77.7 862.0h5.0v5.0h-5.0zM92.7 862.0h5.0v5.0h-5.0zM97.7 862.0h5.0v5.0h-5.0zM102.7 862.0h5.0v5.0h-5.0zM107.7 862.0h5.0v5.0h-5.0zM25.2 867.0h5.0v5.0h-5.0zM35.2 867.0h5.0v5.0h-5.0zM65.2 867.0h5.0v5.0h-5.0zM70.2 867.0h5.0v5.0h-5.0zM95.2 867.0h5.0v5.0h-5.0zM110.2 867.0h5.0v5.0h-5.0zM120.2 867.0h5.0v5.0h-5.0zM135.2 867.0h5.0v5.0h-5.0zM37.7 872.0h5.0v5.0h-5.0zM52.7 872.0h5.0v5.0h-5.0zM87.7 872.0h5.0v5.0h-5.0zM97.7 872.0h5.0v5.0h-5.0zM107.7 872.0h5.0v5.0h-5.0zM112.7 872.0h5.0v5.0h-5.0zM122.7 872.0h5.0v5.0h-5.0zM127.7 872.0h5.0v5.0h-5.0zM132.7 872.0h5.0v5.0h-5.0zM137.7 872.0h5.0v5.0h-5.0zM30.2 877.0h5.0v5.0h-5.0zM45.2 877.0h5.0v5.0h-5.0zM60.2 877.0h5.0v5.0h-5.0zM80.2 877.0h5.0v5.0h-5.0zM90.2 877.0h5.0v5.0h-5.0zM120.2 877.0h5.0v5.0h-5.0zM125.2 877.0h5.0v5.0h-5.0zM140.2 877.0h5.0v5.0h-5.0zM22.7 882.0h5.0v5.0h-5.0zM27.7 882.0h5.0v5.0h-5.0zM42.7 882.0h5.0v5.0h-5.0zM47.7 882.0h5.0v5.0h-5.0zM52.7 882.0h5.0v5.0h-5.0zM67.7 882.0h5.0v5.0h-5.0zM72.7 882.0h5.0v5.0h-5.0zM112.7 882.0h5.0v5.0h-5.0zM157.7 882.0h5.0v5.0h-5.0zM30.2 887.0h5.0v5.0h-5.0zM60.2 887.0h5.0v5.0h-5.0zM65.2 887.0h5.0v5.0h-5.0zM80.2 887.0h5.0v5.0h-5.0zM90.2 887.0h5.0v5.0h-5.0zM95.2 887.0h5.0v5.0h-5.0zM105.2 887.0h5.0v5.0h-5.0zM130.2 887.0h5.0v5.0h-5.0zM135.2 887.0h5.0v5.0h-5.0zM140.2 887.0h5.0v5.0h-5.0zM150.2 887.0h5.0v5.0h-5.0zM22.7 892.0h5.0v5.0h-5.0zM42.7 892.0h5.0v5.0h-5.0zM52.7 892.0h5.0v5.0h-5.0zM67.7 892.0h5.0v5.0h-5.0zM82.7 892.0h5.0v5.0h-5.0zM102.7 892.0h5.0v5.0h-5.0zM107.7 892.0h5.0v5.0h-5.0zM112.7 892.0h5.0v5.0h-5.0zM132.7 892.0h5.0v5.0h-5.0zM137.7 892.0h5.0v5.0h-5.0zM147.7 892.0h5.0v5.0h-5.0zM157.7 892.0h5.0v5.0h-5.0zM162.7 892.0h5.0v5.0h-5.0zM35.2 897.0h5.0v5.0h-5.0zM45.2 897.0h5.0v5.0h-5.0zM50.2 897.0h5.0v5.0h-5.0zM55.2 897.0h5.0v5.0h-5.0zM85.2 897.0h5.0v5.0h-5.0zM105.2 897.0h5.0v5.0h-5.0zM155.2 897.0h5.0v5.0h-5.0zM175.2 897.0h5.0v5.0h-5.0zM17.7 902.0h5.0v5.0h-5.0zM37.7 902.0h5.0v5.0h-5.0zM42.7 902.0h5.0v5.0h-5.0zM52.7 902.0h5.0v5.0h-5.0zM72.7 902.0h5.0v5.0h-5.0zM97.7 902.0h5.0v5.0h-5.0zM132.7 902.0h5.0v5.0h-5.0zM137.7 902.0h5.0v5.0h-5.0zM147.7 902.0h5.0v5.0h-5.0zM152.7 902.0h5.0v5.0h-5.0zM162.7 902.0h5.0v5.0h-5.0zM177.7 902.0h5.0v5.0h-5.0zM187.7 902.0h5.0v5.0h-5.0zM25.2 907.0h5.0v5.0h-5.0zM40.2 907.0h5.0v5.0h-5.0zM105.2 907.0h5.0v5.0h-5.0zM125.2 907.0h5.0v5.0h-5.0zM145.2 907.0h5.0v5.0h-5.0zM175.2 907.0h5.0v5.0h-5.0zM180.2 907.0h5.0v5.0h-5.0zM190.2 907.0h5.0v5.0h-5.0zM17.7 912.0h5.0v5.0h-5.0zM22.7 912.0h5.0v5.0h-5.0zM62.7 912.0h5.0v5.0h-5.0zM132.7 912.0h5.0v5.0h-5.0zM157.7 912.0h5.0v5.0h-5.0zM162.7 912.0h5.0v5.0h-5.0zM182.7 912.0h5.0v5.0h-5.0zM197.7 912.0h5.0v5.0h-5.0zM10.2 917.0h5.0v5.0h-5.0zM15.2 917.0h5.0v5.0h-5.0zM25.2 917.0h5.0v5.0h-5.0zM30.2 917.0h5.0v5.0h-5.0zM40.2 917.0h5.0v5.0h-5.0zM55.2 917.0h5.0v5.0h-5.0zM65.2 917.0h5.0v5.0h-5.0zM135.2 917.0h5.0v5.0h-5.0zM140.2 917.0h5.0v5.0h-5.0zM150.2 917.0h5.0v5.0h-5.0zM185.2 917.0h5.0v5.0h-5.0zM7.7 922.0h5.0v5.0h-5.0zM12.7 922.0h5.0v5.0h-5.0zM32.7 922.0h5.0v5.0h-5.0zM67.7 922.0h5.0v5.0h-5.0zM72.7 922.0h5.0v5.0h-5.0zM87.7 922.0h5.0v5.0h-5.0zM97.7 922.0h5.0v5.0h-5.0zM107.7 922.0h5.0v5.0h-5.0zM127.7 922.0h5.0v5.0h-5.0zM137.7 922.0h5.0v5.0h-5.0zM177.7 922.0h5.0v5.0h-5.0zM187.7 922.0h5.0v5.0h-5.0zM10.2 927.0h5.0v5.0h-5.0zM50.2 927.0h5.0v5.0h-5.0zM60.2 927.0h5.0v5.0h-5.0zM70.2 927.0h5.0v5.0h-5.0zM75.2 927.0h5.0v5.0h-5.0zM85.2 927.0h5.0v5.0h-5.0zM105.2 927.0h5.0v5.0h-5.0zM155.2 927.0h5.0v5.0h-5.0zM160.2 927.0h5.0v5.0h-5.0zM165.2 927.0h5.0v5.0h-5.0zM170.2 927.0h5.0v5.0h-5.0zM180.2 927.0h5.0v5.0h-5.0zM190.2 927.0h5.0v5.0h-5.0zM210.2 927.0h5.0v5.0h-5.0zM220.2 927.0h5.0v5.0h-5.0zM7.7 932.0h5.0v5.0h-5.0zM47.7 932.0h5.0v5.0h-5.0zM72.7 932.0h5.0v5.0h-5.0zM82.7 932.0h5.0v5.0h-5.0zM182.7 932.0h5.0v5.0h-5.0zM192.7 932.0h5.0v5.0h-5.0zM197.7 932.0h5.0v5.0h-5.0zM207.7 932.0h5.0v5.0h-5.0zM212.7 932.0h5.0v5.0h-5.0zM10.2 937.0h5.0v5.0h-5.0zM35.2 937.0h5.0v5.0h-5.0zM40.2 937.0h5.0v5.0h-5.0zM45.2 937.0h5.0v5.0h-5.0zM50.2 937.0h5.0v5.0h-5.0zM65.2 937.0h5.0v5.0h-5.0zM120.2 937.0h5.0v5.0h-5.0zM125.2 937.0h5.0v5.0h-5.0zM160.2 937.0h5.0v5.0h-5.0zM165.2 937.0h5.0v5.0h-5.0zM180.2 937.0h5.0v5.0h-5.0zM195.2 937.0h5.0v5.0h-5.0zM205.2 937.0h5.0v5.0h-5.0zM210.2 937.0h5.0v5.0h-5.0zM32.7 942.0h5.0v5.0h-5.0zM37.7 942.0h5.0v5.0h-5.0zM42.7 942.0h5.0v5.0h-5.0zM172.7 942.0h5.0v5.0h-5.0zM177.7 942.0h5.0v5.0h-5.0zM197.7 942.0h5.0v5.0h-5.0zM202.7 942.0h5.0v5.0h-5.0zM10.2 947.0h5.0v5.0h-5.0zM15.2 947.0h5.0v5.0h-5.0zM20.2 947.0h5.0v5.0h-5.0zM25.2 947.0h5.0v5.0h-5.0zM75.2 947.0h5.0v5.0h-5.0zM80.2 947.0h5.0v5.0h-5.0zM125.2 947.0h5.0v5.0h-5.0zM145.2 947.0h5.0v5.0h-5.0zM170.2 947.0h5.0v5.0h-5.0zM200.2 947.0h5.0v5.0h-5.0zM210.2 947.0h5.0v5.0h-5.0zM240.2 947.0h5.0v5.0h-5.0zM12.7 952.0h5.0v5.0h-5.0zM22.7 952.0h5.0v5.0h-5.0zM27.7 952.0h5.0v5.0h-5.0zM32.7 952.0h5.0v5.0h-5.0zM42.7 952.0h5.0v5.0h-5.0zM52.7 952.0h5.0v5.0h-5.0zM62.7 952.0h5.0v5.0h-5.0zM92.7 952.0h5.0v5.0h-5.0zM97.7 952.0h5.0v5.0h-5.0zM117.7 952.0h5.0v5.0h-5.0zM147.7 952.0h5.0v5.0h-5.0zM152.7 952.0h5.0v5.0h-5.0zM187.7 952.0h5.0v5.0h-5.0zM207.7 952.0h5.0v5.0h-5.0zM222.7 952.0h5.0v5.0h-5.0zM237.7 952.0h5.0v5.0h-5.0zM252.7 952.0h5.0v5.0h-5.0zM20.2 957.0h5.0v5.0h-5.0zM60.2 957.0h5.0v5.0h-5.0zM195.2 957.0h5.0v5.0h-5.0zM220.2 957.0h5.0v5.0h-5.0zM235.2 957.0h5.0v5.0h-5.0zM57.7 962.0h5.0v5.0h-5.0zM77.7 962.0h5.0v5.0h-5.0zM177.7 962.0h5.0v5.0h-5.0zM197.7 962.0h5.0v5.0h-5.0zM212.7 962.0h5.0v5.0h-5.0zM242.7 962.0h5.0v5.0h-5.0zM257.7 962.0h5.0v5.0h-5.0zM262.7 962.0h5.0v5.0h-5.0zM10.2 967.0h5.0v5.0h-5.0zM25.2 967.0h5.0v5.0h-5.0zM45.2 967.0h5.0v5.0h-5.0zM185.2 967.0h5.0v5.0h-5.0zM235.2 967.0h5.0v5.0h-5.0zM12.7 972.0h5.0v5.0h-5.0zM72.7 972.0h5.0v5.0h-5.0zM92.7 972.0h5.0v5.0h-5.0zM177.7 972.0h5.0v5.0h-5.0zM237.7 972.0h5.0v5.0h-5.0zM242.7 972.0h5.0v5.0h-5.0zM252.7 972.0h5.0v5.0h-5.0zM257.7 972.0h5.0v5.0h-5.0zM272.7 972.0h5.0v5.0h-5.0zM70.2 977.0h5.0v5.0h-5.0zM85.2 977.0h5.0v5.0h-5.0zM220.2 977.0h5.0v5.0h-5.0zM225.2 977.0h5.0v5.0h-5.0zM230.2 977.0h5.0v5.0h-5.0zM255.2 977.0h5.0v5.0h-5.0zM265.2 977.0h5.0v5.0h-5.0zM270.2 977.0h5.0v5.0h-5.0zM290.2 977.0h5.0v5.0h-5.0zM12.7 982.0h5.0v5.0h-5.0zM17.7 982.0h5.0v5.0h-5.0zM22.7 982.0h5.0v5.0h-5.0zM37.7 982.0h5.0v5.0h-5.0zM42.7 982.0h5.0v5.0h-5.0zM52.7 982.0h5.0v5.0h-5.0zM92.7 982.0h5.0v5.0h-5.0zM197.7 982.0h5.0v5.0h-5.0zM217.7 982.0h5.0v5.0h-5.0zM222.7 982.0h5.0v5.0h-5.0zM257.7 982.0h5.0v5.0h-5.0zM282.7 982.0h5.0v5.0h-5.0zM10.2 987.0h5.0v5.0h-5.0zM15.2 987.0h5.0v5.0h-5.0zM40.2 987.0h5.0v5.0h-5.0zM55.2 987.0h5.0v5.0h-5.0zM60.2 987.0h5.0v5.0h-5.0zM65.2 987.0h5.0v5.0h-5.0zM70.2 987.0h5.0v5.0h-5.0zM215.2 987.0h5.0v5.0h-5.0zM230.2 987.0h5.0v5.0h-5.0zM255.2 987.0h5.0v5.0h-5.0zM300.2 987.0h5.0v5.0h-5.0zM27.7 992.0h5.0v5.0h-5.0zM42.7 992.0h5.0v5.0h-5.0zM52.7 992.0h5.0v5.0h-5.0zM57.7 992.0h5.0v5.0h-5.0zM62.7 992.0h5.0v5.0h-5.0zM72.7 992.0h5.0v5.0h-5.0zM77.7 992.0h5.0v5.0h-5.0zM227.7 992.0h5.0v5.0h-5.0zM257.7 992.0h5.0v5.0h-5.0zM267.7 992.0h5.0v5.0h-5.0zM282.7 992.0h5.0v5.0h-5.0zM302.7 992.0h5.0v5.0h-5.0zM10.2 997.0h5.0v5.0h-5.0zM35.2 997.0h5.0v5.0h-5.0zM40.2 997.0h5.0v5.0h-5.0zM50.2 997.0h5.0v5.0h-5.0zM55.2 997.0h5.0v5.0h-5.0zM65.2 997.0h5.0v5.0h-5.0zM90.2 997.0h5.0v5.0h-5.0zM230.2 997.0h5.0v5.0h-5.0zM245.2 997.0h5.0v5.0h-5.0zM260.2 997.0h5.0v5.0h-5.0zM275.2 997.0h5.0v5.0h-5.0zM295.2 997.0h5.0v5.0h-5.0zM22.7 1002.0h5.0v5.0h-5.0zM32.7 1002.0h5.0v5.0h-5.0zM52.7 1002.0h5.0v5.0h-5.0zM67.7 1002.0h5.0v5.0h-5.0zM87.7 1002.0h5.0v5.0h-5.0zM92.7 1002.0h5.0v5.0h-5.0zM132.7 1002.0h5.0v5.0h-5.0zM222.7 1002.0h5.0v5.0h-5.0zM227.7 1002.0h5.0v5.0h-5.0zM242.7 1002.0h5.0v5.0h-5.0zM247.7 1002.0h5.0v5.0h-5.0zM15.2 1007.0h5.0v5.0h-5.0zM25.2 1007.0h5.0v5.0h-5.0zM30.2 1007.0h5.0v5.0h-5.0zM35.2 1007.0h5.0v5.0h-5.0zM55.2 1007.0h5.0v5.0h-5.0zM85.2 1007.0h5.0v5.0h-5.0zM100.2 1007.0h5.0v5.0h-5.0zM120.2 1007.0h5.0v5.0h-5.0zM145.2 1007.0h5.0v5.0h-5.0zM220.2 1007.0h5.0v5.0h-5.0zM245.2 1007.0h5.0v5.0h-5.0zM250.2 1007.0h5.0v5.0h-5.0zM255.2 1007.0h5.0v5.0h-5.0zM260.2 1007.0h5.0v5.0h-5.0zM285.2 1007.0h5.0v5.0h-5.0zM7.7 1012.0h5.0v5.0h-5.0zM12.7 1012.0h5.0v5.0h-5.0zM17.7 1012.0h5.0v5.0h-5.0zM22.7 1012.0h5.0v5.0h-5.0zM27.7 1012.0h5.0v5.0h-5.0zM47.7 1012.0h5.0v5.0h-5.0zM52.7 1012.0h5.0v5.0h-5.0zM62.7 1012.0h5.0v5.0h-5.0zM72.7 1012.0h5.0v5.0h-5.0zM87.7 1012.0h5.0v5.0h-5.0zM92.7 1012.0h5.0v5.0h-5.0zM102.7 1012.0h5.0v5.0h-5.0zM117.7 1012.0h5.0v5.0h-5.0zM207.7 1012.0h5.0v5.0h-5.0zM212.7 1012.0h5.0v5.0h-5.0zM237.7 1012.0h5.0v5.0h-5.0zM287.7 1012.0h5.0v5.0h-5.0zM50.2 1017.0h5.0v5.0h-5.0zM65.2 1017.0h5.0v5.0h-5.0zM70.2 1017.0h5.0v5.0h-5.0zM80.2 1017.0h5.0v5.0h-5.0zM90.2 1017.0h5.0v5.0h-5.0zM95.2 1017.0h5.0v5.0h-5.0zM130.2 1017.0h5.0v5.0h-5.0zM145.2 1017.0h5.0v5.0h-5.0zM185.2 1017.0h5.0v5.0h-5.0zM240.2 1017.0h5.0v5.0h-5.0zM250.2 1017.0h5.0v5.0h-5.0zM265.2 1017.0h5.0v5.0h-5.0zM270.2 1017.0h5.0v5.0h-5.0zM285.2 1017.0h5.0v5.0h-5.0zM295.2 1017.0h5.0v5.0h-5.0zM325.2 1017.0h5.0v5.0h-5.0zM340.2 1017.0h5.0v5.0h-5.0zM7.7 1022.0h5.0v5.0h-5.0zM32.7 1022.0h5.0v5.0h-5.0zM52.7 1022.0h5.0v5.0h-5.0zM57.7 1022.0h5.0v5.0h-5.0zM72.7 1022.0h5.0v5.0h-5.0zM77.7 1022.0h5.0v5.0h-5.0zM152.7 1022.0h5.0v5.0h-5.0zM232.7 1022.0h5.0v5.0h-5.0zM262.7 1022.0h5.0v5.0h-5.0zM272.7 1022.0h5.0v5.0h-5.0zM277.7 1022.0h5.0v5.0h-5.0zM307.7 1022.0h5.0v5.0h-5.0zM322.7 1022.0h5.0v5.0h-5.0zM327.7 1022.0h5.0v5.0h-5.0zM337.7 1022.0h5.0v5.0h-5.0zM347.7 1022.0h5.0v5.0h-5.0zM20.2 1027.0h5.0v5.0h-5.0zM40.2 1027.0h5.0v5.0h-5.0zM50.2 1027.0h5.0v5.0h-5.0zM70.2 1027.0h5.0v5.0h-5.0zM90.2 1027.0h5.0v5.0h-5.0zM95.2 1027.0h5.0v5.0h-5.0zM105.2 1027.0h5.0v5.0h-5.0zM120.2 1027.0h5.0v5.0h-5.0zM125.2 1027.0h5.0v5.0h-5.0zM170.2 1027.0h5.0v5.0h-5.0zM210.2 1027.0h5.0v5.0h-5.0zM215.2 1027.0h5.0v5.0h-5.0zM240.2 1027.0h5.0v5.0h-5.0zM250.2 1027.0h5.0v5.0h-5.0zM255.2 1027.0h5.0v5.0h-5.0zM260.2 1027.0h5.0v5.0h-5.0zM265.2 1027.0h5.0v5.0h-5.0zM280.2 1027.0h5.0v5.0h-5.0zM315.2 1027.0h5.0v5.0h-5.0zM335.2 1027.0h5.0v5.0h-5.0zM340.2 1027.0h5.0v5.0h-5.0zM345.2 1027.0h5.0v5.0h-5.0zM350.2 1027.0h5.0v5.0h-5.0zM77.7 1032.0h5.0v5.0h-5.0zM102.7 1032.0h5.0v5.0h-5.0zM197.7 1032.0h5.0v5.0h-5.0zM247.7 1032.0h5.0v5.0h-5.0zM257.7 1032.0h5.0v5.0h-5.0zM267.7 1032.0h5.0v5.0h-5.0zM322.7 1032.0h5.0v5.0h-5.0zM327.7 1032.0h5.0v5.0h-5.0zM342.7 1032.0h5.0v5.0h-5.0zM357.7 1032.0h5.0v5.0h-5.0zM15.2 1037.0h5.0v5.0h-5.0zM20.2 1037.0h5.0v5.0h-5.0zM40.2 1037.0h5.0v5.0h-5.0zM50.2 1037.0h5.0v5.0h-5.0zM55.2 1037.0h5.0v5.0h-5.0zM100.2 1037.0h5.0v5.0h-5.0zM105.2 1037.0h5.0v5.0h-5.0zM115.2 1037.0h5.0v5.0h-5.0zM125.2 1037.0h5.0v5.0h-5.0zM155.2 1037.0h5.0v5.0h-5.0zM165.2 1037.0h5.0v5.0h-5.0zM200.2 1037.0h5.0v5.0h-5.0zM220.2 1037.0h5.0v5.0h-5.0zM260.2 1037.0h5.0v5.0h-5.0zM310.2 1037.0h5.0v5.0h-5.0zM315.2 1037.0h5.0v5.0h-5.0zM325.2 1037.0h5.0v5.0h-5.0zM22.7 1042.0h5.0v5.0h-5.0zM32.7 1042.0h5.0v5.0h-5.0zM42.7 1042.0h5.0v5.0h-5.0zM57.7 1042.0h5.0v5.0h-5.0zM67.7 1042.0h5.0v5.0h-5.0zM72.7 1042.0h5.0v5.0h-5.0zM77.7 1042.0h5.0v5.0h-5.0zM82.7 1042.0h5.0v5.0h-5.0zM87.7 1042.0h5.0v5.0h-5.0zM97.7 1042.0h5.0v5.0h-5.0zM107.7 1042.0h5.0v5.0h-5.0zM112.7 1042.0h5.0v5.0h-5.0zM137.7 1042.0h5.0v5.0h-5.0zM147.7 1042.0h5.0v5.0h-5.0zM172.7 1042.0h5.0v5.0h-5.0zM182.7 1042.0h5.0v5.0h-5.0zM202.7 1042.0h5.0v5.0h-5.0zM207.7 1042.0h5.0v5.0h-5.0zM247.7 1042.0h5.0v5.0h-5.0zM267.7 1042.0h5.0v5.0h-5.0zM287.7 1042.0h5.0v5.0h-5.0zM292.7 1042.0h5.0v5.0h-5.0zM317.7 1042.0h5.0v5.0h-5.0zM322.7 1042.0h5.0v5.0h-5.0zM367.7 1042.0h5.0v5.0h-5.0zM10.2 1047.0h5.0v5.0h-5.0zM20.2 1047.0h5.0v5.0h-5.0zM75.2 1047.0h5.0v5.0h-5.0zM80.2 1047.0h5.0v5.0h-5.0zM95.2 1047.0h5.0v5.0h-5.0zM100.2 1047.0h5.0v5.0h-5.0zM105.2 1047.0h5.0v5.0h-5.0zM145.2 1047.0h5.0v5.0h-5.0zM160.2 1047.0h5.0v5.0h-5.0zM170.2 1047.0h5.0v5.0h-5.0zM200.2 1047.0h5.0v5.0h-5.0zM210.2 1047.0h5.0v5.0h-5.0zM245.2 1047.0h5.0v5.0h-5.0zM275.2 1047.0h5.0v5.0h-5.0zM280.2 1047.0h5.0v5.0h-5.0zM305.2 1047.0h5.0v5.0h-5.0zM355.2 1047.0h5.0v5.0h-5.0zM365.2 1047.0h5.0v5.0h-5.0zM22.7 1052.0h5.0v5.0h-5.0zM47.7 1052.0h5.0v5.0h-5.0zM57.7 1052.0h5.0v5.0h-5.0zM67.7 1052.0h5.0v5.0h-5.0zM97.7 1052.0h5.0v5.0h-5.0zM122.7 1052.0h5.0v5.0h-5.0zM137.7 1052.0h5.0v5.0h-5.0zM157.7 1052.0h5.0v5.0h-5.0zM167.7 1052.0h5.0v5.0h-5.0zM187.7 1052.0h5.0v5.0h-5.0zM202.7 1052.0h5.0v5.0h-5.0zM247.7 1052.0h5.0v5.0h-5.0zM297.7 1052.0h5.0v5.0h-5.0zM312.7 1052.0h5.0v5.0h-5.0zM337.7 1052.0h5.0v5.0h-5.0zM387.7 1052.0h5.0v5.0h-5.0zM10.2 1057.0h5.0v5.0h-5.0zM15.2 1057.0h5.0v5.0h-5.0zM20.2 1057.0h5.0v5.0h-5.0zM25.2 1057.0h5.0v5.0h-5.0zM30.2 1057.0h5.0v5.0h-5.0zM45.2 1057.0h5.0v5.0h-5.0zM55.2 1057.0h5.0v5.0h-5.0zM70.2 1057.0h5.0v5.0h-5.0zM90.2 1057.0h5.0v5.0h-5.0zM100.2 1057.0h5.0v5.0h-5.0zM105.2 1057.0h5.0v5.0h-5.0zM110.2 1057.0h5.0v5.0h-5.0zM115.2 1057.0h5.0v5.0h-5.0zM130.2 1057.0h5.0v5.0h-5.0zM135.2 1057.0h5.0v5.0h-5.0zM155.2 1057.0h5.0v5.0h-5.0zM160.2 1057.0h5.0v5.0h-5.0zM180.2 1057.0h5.0v5.0h-5.0zM195.2 1057.0h5.0v5.0h-5.0zM210.2 1057.0h5.0v5.0h-5.0zM245.2 1057.0h5.0v5.0h-5.0zM250.2 1057.0h5.0v5.0h-5.0zM255.2 1057.0h5.0v5.0h-5.0zM260.2 1057.0h5.0v5.0h-5.0zM280.2 1057.0h5.0v5.0h-5.0zM300.2 1057.0h5.0v5.0h-5.0zM330.2 1057.0h5.0v5.0h-5.0zM385.2 1057.0h5.0v5.0h-5.0zM12.7 1062.0h5.0v5.0h-5.0zM17.7 1062.0h5.0v5.0h-5.0zM27.7 1062.0h5.0v5.0h-5.0zM32.7 1062.0h5.0v5.0h-5.0zM42.7 1062.0h5.0v5.0h-5.0zM52.7 1062.0h5.0v5.0h-5.0zM57.7 1062.0h5.0v5.0h-5.0zM97.7 1062.0h5.0v5.0h-5.0zM102.7 1062.0h5.0v5.0h-5.0zM112.7 1062.0h5.0v5.0h-5.0zM127.7 1062.0h5.0v5.0h-5.0zM132.7 1062.0h5.0v5.0h-5.0zM137.7 1062.0h5.0v5.0h-5.0zM142.7 1062.0h5.0v5.0h-5.0zM147.7 1062.0h5.0v5.0h-5.0zM157.7 1062.0h5.0v5.0h-5.0zM172.7 1062.0h5.0v5.0h-5.0zM197.7 1062.0h5.0v5.0h-5.0zM242.7 1062.0h5.0v5.0h-5.0zM247.7 1062.0h5.0v5.0h-5.0zM257.7 1062.0h5.0v5.0h-5.0zM272.7 1062.0h5.0v5.0h-5.0zM302.7 1062.0h5.0v5.0h-5.0zM347.7 1062.0h5.0v5.0h-5.0zM387.7 1062.0h5.0v5.0h-5.0zM135.2 1067.0h5.0v5.0h-5.0zM160.2 1067.0h5.0v5.0h-5.0zM175.2 1067.0h5.0v5.0h-5.0zM185.2 1067.0h5.0v5.0h-5.0zM240.2 1067.0h5.0v5.0h-5.0zM280.2 1067.0h5.0v5.0h-5.0zM285.2 1067.0h5.0v5.0h-5.0zM320.2 1067.0h5.0v5.0h-5.0zM325.2 1067.0h5.0v5.0h-5.0zM400.2 1067.0h5.0v5.0h-5.0zM7.7 1072.0h5.0v5.0h-5.0zM32.7 1072.0h5.0v5.0h-5.0zM42.7 1072.0h5.0v5.0h-5.0zM67.7 1072.0h5.0v5.0h-5.0zM72.7 1072.0h5.0v5.0h-5.0zM142.7 1072.0h5.0v5.0h-5.0zM167.7 1072.0h5.0v5.0h-5.0zM177.7 1072.0h5.0v5.0h-5.0zM252.7 1072.0h5.0v5.0h-5.0zM282.7 1072.0h5.0v5.0h-5.0zM322.7 1072.0h5.0v5.0h-5.0zM10.2 1077.0h5.0v5.0h-5.0zM20.2 1077.0h5.0v5.0h-5.0zM30.2 1077.0h5.0v5.0h-5.0zM45.2 1077.0h5.0v5.0h-5.0zM220.2 1077.0h5.0v5.0h-5.0zM235.2 1077.0h5.0v5.0h-5.0zM255.2 1077.0h5.0v5.0h-5.0zM260.2 1077.0h5.0v5.0h-5.0zM295.2 1077.0h5.0v5.0h-5.0zM310.2 1077.0h5.0v5.0h-5.0zM22.7 1082.0h5.0v5.0h-5.0zM27.7 1082.0h5.0v5.0h-5.0zM32.7 1082.0h5.0v5.0h-5.0zM52.7 1082.0h5.0v5.0h-5.0zM57.7 1082.0h5.0v5.0h-5.0zM67.7 1082.0h5.0v5.0h-5.0zM207.7 1082.0h5.0v5.0h-5.0zM227.7 1082.0h5.0v5.0h-5.0zM242.7 1082.0h5.0v5.0h-5.0zM267.7 1082.0h5.0v5.0h-5.0zM272.7 1082.0h5.0v5.0h-5.0zM277.7 1082.0h5.0v5.0h-5.0zM292.7 1082.0h5.0v5.0h-5.0zM302.7 1082.0h5.0v5.0h-5.0zM307.7 1082.0h5.0v5.0h-5.0zM407.7 1082.0h5.0v5.0h-5.0zM417.7 1082.0h5.0v5.0h-5.0zM422.7 1082.0h5.0v5.0h-5.0zM50.2 1087.0h5.0v5.0h-5.0zM55.2 1087.0h5.0v5.0h-5.0zM210.2 1087.0h5.0v5.0h-5.0zM230.2 1087.0h5.0v5.0h-5.0zM240.2 1087.0h5.0v5.0h-5.0zM245.2 1087.0h5.0v5.0h-5.0zM260.2 1087.0h5.0v5.0h-5.0zM280.2 1087.0h5.0v5.0h-5.0zM330.2 1087.0h5.0v5.0h-5.0zM17.7 1092.0h5.0v5.0h-5.0zM42.7 1092.0h5.0v5.0h-5.0zM47.7 1092.0h5.0v5.0h-5.0zM197.7 1092.0h5.0v5.0h-5.0zM207.7 1092.0h5.0v5.0h-5.0zM222.7 1092.0h5.0v5.0h-5.0zM227.7 1092.0h5.0v5.0h-5.0zM252.7 1092.0h5.0v5.0h-5.0zM257.7 1092.0h5.0v5.0h-5.0zM272.7 1092.0h5.0v5.0h-5.0zM277.7 1092.0h5.0v5.0h-5.0zM287.7 1092.0h5.0v5.0h-5.0zM322.7 1092.0h5.0v5.0h-5.0zM417.7 1092.0h5.0v5.0h-5.0zM437.7 1092.0h5.0v5.0h-5.0zM10.2 1097.0h5.0v5.0h-5.0zM20.2 1097.0h5.0v5.0h-5.0zM200.2 1097.0h5.0v5.0h-5.0zM210.2 1097.0h5.0v5.0h-5.0zM215.2 1097.0h5.0v5.0h-5.0zM220.2 1097.0h5.0v5.0h-5.0zM230.2 1097.0h5.0v5.0h-5.0zM235.2 1097.0h5.0v5.0h-5.0zM245.2 1097.0h5.0v5.0h-5.0zM255.2 1097.0h5.0v5.0h-5.0zM270.2 1097.0h5.0v5.0h-5.0zM285.2 1097.0h5.0v5.0h-5.0zM300.2 1097.0h5.0v5.0h-5.0zM305.2 1097.0h5.0v5.0h-5.0zM315.2 1097.0h5.0v5.0h-5.0zM340.2 1097.0h5.0v5.0h-5.0zM415.2 1097.0h5.0v5.0h-5.0zM425.2 1097.0h5.0v5.0h-5.0zM435.2 1097.0h5.0v5.0h-5.0zM440.2 1097.0h5.0v5.0h-5.0zM7.7 1102.0h5.0v5.0h-5.0zM177.7 1102.0h5.0v5.0h-5.0zM187.7 1102.0h5.0v5.0h-5.0zM192.7 1102.0h5.0v5.0h-5.0zM222.7 1102.0h5.0v5.0h-5.0zM227.7 1102.0h5.0v5.0h-5.0zM237.7 1102.0h5.0v5.0h-5.0zM247.7 1102.0h5.0v5.0h-5.0zM257.7 1102.0h5.0v5.0h-5.0zM322.7 1102.0h5.0v5.0h-5.0zM332.7 1102.0h5.0v5.0h-5.0zM175.2 1107.0h5.0v5.0h-5.0zM200.2 1107.0h5.0v5.0h-5.0zM205.2 1107.0h5.0v5.0h-5.0zM220.2 1107.0h5.0v5.0h-5.0zM240.2 1107.0h5.0v5.0h-5.0zM250.2 1107.0h5.0v5.0h-5.0zM270.2 1107.0h5.0v5.0h-5.0zM275.2 1107.0h5.0v5.0h-5.0zM280.2 1107.0h5.0v5.0h-5.0zM285.2 1107.0h5.0v5.0h-5.0zM305.2 1107.0h5.0v5.0h-5.0zM320.2 1107.0h5.0v5.0h-5.0zM335.2 1107.0h5.0v5.0h-5.0zM435.2 1107.0h5.0v5.0h-5.0zM172.7 1112.0h5.0v5.0h-5.0zM187.7 1112.0h5.0v5.0h-5.0zM197.7 1112.0h5.0v5.0h-5.0zM217.7 1112.0h5.0v5.0h-5.0zM222.7 1112.0h5.0v5.0h-5.0zM227.7 1112.0h5.0v5.0h-5.0zM232.7 1112.0h5.0v5.0h-5.0zM267.7 1112.0h5.0v5.0h-5.0zM282.7 1112.0h5.0v5.0h-5.0zM287.7 1112.0h5.0v5.0h-5.0zM327.7 1112.0h5.0v5.0h-5.0zM337.7 1112.0h5.0v5.0h-5.0zM432.7 1112.0h5.0v5.0h-5.0zM462.7 1112.0h5.0v5.0h-5.0zM195.2 1117.0h5.0v5.0h-5.0zM230.2 1117.0h5.0v5.0h-5.0zM255.2 1117.0h5.0v5.0h-5.0zM265.2 1117.0h5.0v5.0h-5.0zM300.2 1117.0h5.0v5.0h-5.0zM305.2 1117.0h5.0v5.0h-5.0zM315.2 1117.0h5.0v5.0h-5.0zM345.2 1117.0h5.0v5.0h-5.0zM410.2 1117.0h5.0v5.0h-5.0zM450.2 1117.0h5.0v5.0h-5.0zM465.2 1117.0h5.0v5.0h-5.0zM470.2 1117.0h5.0v5.0h-5.0zM177.7 1122.0h5.0v5.0h-5.0zM187.7 1122.0h5.0v5.0h-5.0zM192.7 1122.0h5.0v5.0h-5.0zM257.7 1122.0h5.0v5.0h-5.0zM277.7 1122.0h5.0v5.0h-5.0zM287.7 1122.0h5.0v5.0h-5.0zM292.7 1122.0h5.0v5.0h-5.0zM332.7 1122.0h5.0v5.0h-5.0zM412.7 1122.0h5.0v5.0h-5.0zM422.7 1122.0h5.0v5.0h-5.0zM427.7 1122.0h5.0v5.0h-5.0zM437.7 1122.0h5.0v5.0h-5.0zM442.7 1122.0h5.0v5.0h-5.0zM452.7 1122.0h5.0v5.0h-5.0zM145.2 1127.0h5.0v5.0h-5.0zM150.2 1127.0h5.0v5.0h-5.0zM155.2 1127.0h5.0v5.0h-5.0zM165.2 1127.0h5.0v5.0h-5.0zM180.2 1127.0h5.0v5.0h-5.0zM205.2 1127.0h5.0v5.0h-5.0zM210.2 1127.0h5.0v5.0h-5.0zM225.2 1127.0h5.0v5.0h-5.0zM230.2 1127.0h5.0v5.0h-5.0zM265.2 1127.0h5.0v5.0h-5.0zM305.2 1127.0h5.0v5.0h-5.0zM310.2 1127.0h5.0v5.0h-5.0zM325.2 1127.0h5.0v5.0h-5.0zM330.2 1127.0h5.0v5.0h-5.0zM345.2 1127.0h5.0v5.0h-5.0zM350.2 1127.0h5.0v5.0h-5.0zM460.2 1127.0h5.0v5.0h-5.0zM465.2 1127.0h5.0v5.0h-5.0zM112.7 1132.0h5.0v5.0h-5.0zM117.7 1132.0h5.0v5.0h-5.0zM137.7 1132.0h5.0v5.0h-5.0zM157.7 1132.0h5.0v5.0h-5.0zM162.7 1132.0h5.0v5.0h-5.0zM177.7 1132.0h5.0v5.0h-5.0zM182.7 1132.0h5.0v5.0h-5.0zM187.7 1132.0h5.0v5.0h-5.0zM192.7 1132.0h5.0v5.0h-5.0zM197.7 1132.0h5.0v5.0h-5.0zM212.7 1132.0h5.0v5.0h-5.0zM232.7 1132.0h5.0v5.0h-5.0zM247.7 1132.0h5.0v5.0h-5.0zM277.7 1132.0h5.0v5.0h-5.0zM297.7 1132.0h5.0v5.0h-5.0zM302.7 1132.0h5.0v5.0h-5.0zM307.7 1132.0h5.0v5.0h-5.0zM317.7 1132.0h5.0v5.0h-5.0zM322.7 1132.0h5.0v5.0h-5.0zM352.7 1132.0h5.0v5.0h-5.0zM367.7 1132.0h5.0v5.0h-5.0zM427.7 1132.0h5.0v5.0h-5.0zM442.7 1132.0h5.0v5.0h-5.0zM482.7 1132.0h5.0v5.0h-5.0zM95.2 1137.0h5.0v5.0h-5.0zM100.2 1137.0h5.0v5.0h-5.0zM110.2 1137.0h5.0v5.0h-5.0zM120.2 1137.0h5.0v5.0h-5.0zM125.2 1137.0h5.0v5.0h-5.0zM135.2 1137.0h5.0v5.0h-5.0zM155.2 1137.0h5.0v5.0h-5.0zM160.2 1137.0h5.0v5.0h-5.0zM175.2 1137.0h5.0v5.0h-5.0zM205.2 1137.0h5.0v5.0h-5.0zM215.2 1137.0h5.0v5.0h-5.0zM245.2 1137.0h5.0v5.0h-5.0zM255.2 1137.0h5.0v5.0h-5.0zM270.2 1137.0h5.0v5.0h-5.0zM290.2 1137.0h5.0v5.0h-5.0zM345.2 1137.0h5.0v5.0h-5.0zM360.2 1137.0h5.0v5.0h-5.0zM405.2 1137.0h5.0v5.0h-5.0zM410.2 1137.0h5.0v5.0h-5.0zM415.2 1137.0h5.0v5.0h-5.0zM425.2 1137.0h5.0v5.0h-5.0zM430.2 1137.0h5.0v5.0h-5.0zM445.2 1137.0h5.0v5.0h-5.0zM475.2 1137.0h5.0v5.0h-5.0zM485.2 1137.0h5.0v5.0h-5.0z" fill="#e6e6e6"/><path d="M7.7 782.0h5.0v5.0h-5.0zM22.7 782.0h5.0v5.0h-5.0zM7.7 792.0h5.0v5.0h-5.0zM17.7 792.0h5.0v5.0h-5.0zM10.2 797.0h5.0v5.0h-5.0zM20.2 797.0h5.0v5.0h-5.0zM30.2 797.0h5.0v5.0h-5.0zM7.7 802.0h5.0v5.0h-5.0zM37.7 802.0h5.0v5.0h-5.0zM47.7 802.0h5.0v5.0h-5.0zM52.7 802.0h5.0v5.0h-5.0zM35.2 807.0h5.0v5.0h-5.0zM7.7 812.0h5.0v5.0h-5.0zM47.7 812.0h5.0v5.0h-5.0zM30.2 817.0h5.0v5.0h-5.0zM60.2 817.0h5.0v5.0h-5.0zM65.2 817.0h5.0v5.0h-5.0zM7.7 822.0h5.0v5.0h-5.0zM12.7 822.0h5.0v5.0h-5.0zM47.7 822.0h5.0v5.0h-5.0zM62.7 822.0h5.0v5.0h-5.0zM10.2 827.0h5.0v5.0h-5.0zM25.2 827.0h5.0v5.0h-5.0zM70.2 827.0h5.0v5.0h-5.0zM80.2 827.0h5.0v5.0h-5.0zM85.2 827.0h5.0v5.0h-5.0zM12.7 832.0h5.0v5.0h-5.0zM22.7 832.0h5.0v5.0h-5.0zM37.7 832.0h5.0v5.0h-5.0zM52.7 832.0h5.0v5.0h-5.0zM72.7 832.0h5.0v5.0h-5.0zM87.7 832.0h5.0v5.0h-5.0zM10.2 837.0h5.0v5.0h-5.0zM15.2 837.0h5.0v5.0h-5.0zM50.2 837.0h5.0v5.0h-5.0zM85.2 837.0h5.0v5.0h-5.0zM100.2 837.0h5.0v5.0h-5.0zM7.7 842.0h5.0v5.0h-5.0zM17.7 842.0h5.0v5.0h-5.0zM27.7 842.0h5.0v5.0h-5.0zM32.7 842.0h5.0v5.0h-5.0zM37.7 842.0h5.0v5.0h-5.0zM77.7 842.0h5.0v5.0h-5.0zM25.2 847.0h5.0v5.0h-5.0zM35.2 847.0h5.0v5.0h-5.0zM45.2 847.0h5.0v5.0h-5.0zM50.2 847.0h5.0v5.0h-5.0zM70.2 847.0h5.0v5.0h-5.0zM95.2 847.0h5.0v5.0h-5.0zM100.2 847.0h5.0v5.0h-5.0zM110.2 847.0h5.0v5.0h-5.0zM37.7 852.0h5.0v5.0h-5.0zM47.7 852.0h5.0v5.0h-5.0zM52.7 852.0h5.0v5.0h-5.0zM62.7 852.0h5.0v5.0h-5.0zM82.7 852.0h5.0v5.0h-5.0zM25.2 857.0h5.0v5.0h-5.0zM35.2 857.0h5.0v5.0h-5.0zM45.2 857.0h5.0v5.0h-5.0zM55.2 857.0h5.0v5.0h-5.0zM60.2 857.0h5.0v5.0h-5.0zM65.2 857.0h5.0v5.0h-5.0zM85.2 857.0h5.0v5.0h-5.0zM110.2 857.0h5.0v5.0h-5.0zM115.2 857.0h5.0v5.0h-5.0zM125.2 857.0h5.0v5.0h-5.0zM52.7 862.0h5.0v5.0h-5.0zM67.7 862.0h5.0v5.0h-5.0zM82.7 862.0h5.0v5.0h-5.0zM112.7 862.0h5.0v5.0h-5.0zM117.7 862.0h5.0v5.0h-5.0zM122.7 862.0h5.0v5.0h-5.0zM127.7 862.0h5.0v5.0h-5.0zM132.7 862.0h5.0v5.0h-5.0zM10.2 867.0h5.0v5.0h-5.0zM15.2 867.0h5.0v5.0h-5.0zM20.2 867.0h5.0v5.0h-5.0zM55.2 867.0h5.0v5.0h-5.0zM125.2 867.0h5.0v5.0h-5.0zM22.7 872.0h5.0v5.0h-5.0zM27.7 872.0h5.0v5.0h-5.0zM32.7 872.0h5.0v5.0h-5.0zM67.7 872.0h5.0v5.0h-5.0zM77.7 872.0h5.0v5.0h-5.0zM92.7 872.0h5.0v5.0h-5.0zM117.7 872.0h5.0v5.0h-5.0zM142.7 872.0h5.0v5.0h-5.0zM147.7 872.0h5.0v5.0h-5.0zM20.2 877.0h5.0v5.0h-5.0zM35.2 877.0h5.0v5.0h-5.0zM70.2 877.0h5.0v5.0h-5.0zM85.2 877.0h5.0v5.0h-5.0zM100.2 877.0h5.0v5.0h-5.0zM105.2 877.0h5.0v5.0h-5.0zM110.2 877.0h5.0v5.0h-5.0zM115.2 877.0h5.0v5.0h-5.0zM135.2 877.0h5.0v5.0h-5.0zM150.2 877.0h5.0v5.0h-5.0zM17.7 882.0h5.0v5.0h-5.0zM32.7 882.0h5.0v5.0h-5.0zM37.7 882.0h5.0v5.0h-5.0zM62.7 882.0h5.0v5.0h-5.0zM77.7 882.0h5.0v5.0h-5.0zM87.7 882.0h5.0v5.0h-5.0zM92.7 882.0h5.0v5.0h-5.0zM97.7 882.0h5.0v5.0h-5.0zM102.7 882.0h5.0v5.0h-5.0zM117.7 882.0h5.0v5.0h-5.0zM137.7 882.0h5.0v5.0h-5.0zM147.7 882.0h5.0v5.0h-5.0zM152.7 882.0h5.0v5.0h-5.0zM15.2 887.0h5.0v5.0h-5.0zM20.2 887.0h5.0v5.0h-5.0zM25.2 887.0h5.0v5.0h-5.0zM40.2 887.0h5.0v5.0h-5.0zM50.2 887.0h5.0v5.0h-5.0zM55.2 887.0h5.0v5.0h-5.0zM70.2 887.0h5.0v5.0h-5.0zM85.2 887.0h5.0v5.0h-5.0zM115.2 887.0h5.0v5.0h-5.0zM125.2 887.0h5.0v5.0h-5.0zM7.7 892.0h5.0v5.0h-5.0zM12.7 892.0h5.0v5.0h-5.0zM17.7 892.0h5.0v5.0h-5.0zM32.7 892.0h5.0v5.0h-5.0zM57.7 892.0h5.0v5.0h-5.0zM72.7 892.0h5.0v5.0h-5.0zM92.7 892.0h5.0v5.0h-5.0zM127.7 892.0h5.0v5.0h-5.0zM172.7 892.0h5.0v5.0h-5.0zM25.2 897.0h5.0v5.0h-5.0zM40.2 897.0h5.0v5.0h-5.0zM60.2 897.0h5.0v5.0h-5.0zM65.2 897.0h5.0v5.0h-5.0zM80.2 897.0h5.0v5.0h-5.0zM90.2 897.0h5.0v5.0h-5.0zM95.2 897.0h5.0v5.0h-5.0zM100.2 897.0h5.0v5.0h-5.0zM120.2 897.0h5.0v5.0h-5.0zM130.2 897.0h5.0v5.0h-5.0zM135.2 897.0h5.0v5.0h-5.0zM150.2 897.0h5.0v5.0h-5.0zM160.2 897.0h5.0v5.0h-5.0zM180.2 897.0h5.0v5.0h-5.0zM12.7 902.0h5.0v5.0h-5.0zM22.7 902.0h5.0v5.0h-5.0zM27.7 902.0h5.0v5.0h-5.0zM32.7 902.0h5.0v5.0h-5.0zM57.7 902.0h5.0v5.0h-5.0zM67.7 902.0h5.0v5.0h-5.0zM77.7 902.0h5.0v5.0h-5.0zM82.7 902.0h5.0v5.0h-5.0zM87.7 902.0h5.0v5.0h-5.0zM112.7 902.0h5.0v5.0h-5.0zM117.7 902.0h5.0v5.0h-5.0zM122.7 902.0h5.0v5.0h-5.0zM127.7 902.0h5.0v5.0h-5.0zM182.7 902.0h5.0v5.0h-5.0zM10.2 907.0h5.0v5.0h-5.0zM20.2 907.0h5.0v5.0h-5.0zM30.2 907.0h5.0v5.0h-5.0zM35.2 907.0h5.0v5.0h-5.0zM50.2 907.0h5.0v5.0h-5.0zM60.2 907.0h5.0v5.0h-5.0zM65.2 907.0h5.0v5.0h-5.0zM75.2 907.0h5.0v5.0h-5.0zM80.2 907.0h5.0v5.0h-5.0zM95.2 907.0h5.0v5.0h-5.0zM115.2 907.0h5.0v5.0h-5.0zM120.2 907.0h5.0v5.0h-5.0zM150.2 907.0h5.0v5.0h-5.0zM155.2 907.0h5.0v5.0h-5.0zM165.2 907.0h5.0v5.0h-5.0zM185.2 907.0h5.0v5.0h-5.0zM195.2 907.0h5.0v5.0h-5.0zM7.7 912.0h5.0v5.0h-5.0zM12.7 912.0h5.0v5.0h-5.0zM27.7 912.0h5.0v5.0h-5.0zM47.7 912.0h5.0v5.0h-5.0zM57.7 912.0h5.0v5.0h-5.0zM72.7 912.0h5.0v5.0h-5.0zM87.7 912.0h5.0v5.0h-5.0zM97.7 912.0h5.0v5.0h-5.0zM102.7 912.0h5.0v5.0h-5.0zM117.7 912.0h5.0v5.0h-5.0zM122.7 912.0h5.0v5.0h-5.0zM127.7 912.0h5.0v5.0h-5.0zM147.7 912.0h5.0v5.0h-5.0zM167.7 912.0h5.0v5.0h-5.0zM172.7 912.0h5.0v5.0h-5.0zM187.7 912.0h5.0v5.0h-5.0zM192.7 912.0h5.0v5.0h-5.0zM20.2 917.0h5.0v5.0h-5.0zM35.2 917.0h5.0v5.0h-5.0zM45.2 917.0h5.0v5.0h-5.0zM50.2 917.0h5.0v5.0h-5.0zM70.2 917.0h5.0v5.0h-5.0zM80.2 917.0h5.0v5.0h-5.0zM100.2 917.0h5.0v5.0h-5.0zM115.2 917.0h5.0v5.0h-5.0zM130.2 917.0h5.0v5.0h-5.0zM145.2 917.0h5.0v5.0h-5.0zM165.2 917.0h5.0v5.0h-5.0zM180.2 917.0h5.0v5.0h-5.0zM195.2 917.0h5.0v5.0h-5.0zM205.2 917.0h5.0v5.0h-5.0zM42.7 922.0h5.0v5.0h-5.0zM47.7 922.0h5.0v5.0h-5.0zM52.7 922.0h5.0v5.0h-5.0zM77.7 922.0h5.0v5.0h-5.0zM92.7 922.0h5.0v5.0h-5.0zM117.7 922.0h5.0v5.0h-5.0zM132.7 922.0h5.0v5.0h-5.0zM142.7 922.0h5.0v5.0h-5.0zM147.7 922.0h5.0v5.0h-5.0zM172.7 922.0h5.0v5.0h-5.0zM197.7 922.0h5.0v5.0h-5.0zM15.2 927.0h5.0v5.0h-5.0zM20.2 927.0h5.0v5.0h-5.0zM25.2 927.0h5.0v5.0h-5.0zM35.2 927.0h5.0v5.0h-5.0zM40.2 927.0h5.0v5.0h-5.0zM95.2 927.0h5.0v5.0h-5.0zM100.2 927.0h5.0v5.0h-5.0zM110.2 927.0h5.0v5.0h-5.0zM120.2 927.0h5.0v5.0h-5.0zM125.2 927.0h5.0v5.0h-5.0zM130.2 927.0h5.0v5.0h-5.0zM150.2 927.0h5.0v5.0h-5.0zM175.2 927.0h5.0v5.0h-5.0zM200.2 927.0h5.0v5.0h-5.0zM215.2 927.0h5.0v5.0h-5.0zM12.7 932.0h5.0v5.0h-5.0zM17.7 932.0h5.0v5.0h-5.0zM22.7 932.0h5.0v5.0h-5.0zM27.7 932.0h5.0v5.0h-5.0zM32.7 932.0h5.0v5.0h-5.0zM37.7 932.0h5.0v5.0h-5.0zM62.7 932.0h5.0v5.0h-5.0zM87.7 932.0h5.0v5.0h-5.0zM92.7 932.0h5.0v5.0h-5.0zM97.7 932.0h5.0v5.0h-5.0zM107.7 932.0h5.0v5.0h-5.0zM117.7 932.0h5.0v5.0h-5.0zM162.7 932.0h5.0v5.0h-5.0zM172.7 932.0h5.0v5.0h-5.0zM177.7 932.0h5.0v5.0h-5.0zM187.7 932.0h5.0v5.0h-5.0zM202.7 932.0h5.0v5.0h-5.0zM222.7 932.0h5.0v5.0h-5.0zM227.7 932.0h5.0v5.0h-5.0zM20.2 937.0h5.0v5.0h-5.0zM55.2 937.0h5.0v5.0h-5.0zM60.2 937.0h5.0v5.0h-5.0zM95.2 937.0h5.0v5.0h-5.0zM100.2 937.0h5.0v5.0h-5.0zM110.2 937.0h5.0v5.0h-5.0zM215.2 937.0h5.0v5.0h-5.0zM235.2 937.0h5.0v5.0h-5.0zM12.7 942.0h5.0v5.0h-5.0zM17.7 942.0h5.0v5.0h-5.0zM27.7 942.0h5.0v5.0h-5.0zM62.7 942.0h5.0v5.0h-5.0zM77.7 942.0h5.0v5.0h-5.0zM137.7 942.0h5.0v5.0h-5.0zM152.7 942.0h5.0v5.0h-5.0zM162.7 942.0h5.0v5.0h-5.0zM167.7 942.0h5.0v5.0h-5.0zM182.7 942.0h5.0v5.0h-5.0zM187.7 942.0h5.0v5.0h-5.0zM217.7 942.0h5.0v5.0h-5.0zM222.7 942.0h5.0v5.0h-5.0zM237.7 942.0h5.0v5.0h-5.0zM242.7 942.0h5.0v5.0h-5.0zM30.2 947.0h5.0v5.0h-5.0zM35.2 947.0h5.0v5.0h-5.0zM45.2 947.0h5.0v5.0h-5.0zM50.2 947.0h5.0v5.0h-5.0zM55.2 947.0h5.0v5.0h-5.0zM85.2 947.0h5.0v5.0h-5.0zM90.2 947.0h5.0v5.0h-5.0zM100.2 947.0h5.0v5.0h-5.0zM135.2 947.0h5.0v5.0h-5.0zM140.2 947.0h5.0v5.0h-5.0zM165.2 947.0h5.0v5.0h-5.0zM175.2 947.0h5.0v5.0h-5.0zM185.2 947.0h5.0v5.0h-5.0zM195.2 947.0h5.0v5.0h-5.0zM205.2 947.0h5.0v5.0h-5.0zM225.2 947.0h5.0v5.0h-5.0zM235.2 947.0h5.0v5.0h-5.0zM17.7 952.0h5.0v5.0h-5.0zM37.7 952.0h5.0v5.0h-5.0zM47.7 952.0h5.0v5.0h-5.0zM67.7 952.0h5.0v5.0h-5.0zM72.7 952.0h5.0v5.0h-5.0zM77.7 952.0h5.0v5.0h-5.0zM82.7 952.0h5.0v5.0h-5.0zM87.7 952.0h5.0v5.0h-5.0zM107.7 952.0h5.0v5.0h-5.0zM127.7 952.0h5.0v5.0h-5.0zM167.7 952.0h5.0v5.0h-5.0zM177.7 952.0h5.0v5.0h-5.0zM182.7 952.0h5.0v5.0h-5.0zM192.7 952.0h5.0v5.0h-5.0zM197.7 952.0h5.0v5.0h-5.0zM202.7 952.0h5.0v5.0h-5.0zM212.7 952.0h5.0v5.0h-5.0zM217.7 952.0h5.0v5.0h-5.0zM227.7 952.0h5.0v5.0h-5.0zM242.7 952.0h5.0v5.0h-5.0zM247.7 952.0h5.0v5.0h-5.0zM30.2 957.0h5.0v5.0h-5.0zM45.2 957.0h5.0v5.0h-5.0zM50.2 957.0h5.0v5.0h-5.0zM55.2 957.0h5.0v5.0h-5.0zM85.2 957.0h5.0v5.0h-5.0zM90.2 957.0h5.0v5.0h-5.0zM100.2 957.0h5.0v5.0h-5.0zM105.2 957.0h5.0v5.0h-5.0zM110.2 957.0h5.0v5.0h-5.0zM120.2 957.0h5.0v5.0h-5.0zM155.2 957.0h5.0v5.0h-5.0zM160.2 957.0h5.0v5.0h-5.0zM180.2 957.0h5.0v5.0h-5.0zM185.2 957.0h5.0v5.0h-5.0zM200.2 957.0h5.0v5.0h-5.0zM205.2 957.0h5.0v5.0h-5.0zM225.2 957.0h5.0v5.0h-5.0zM230.2 957.0h5.0v5.0h-5.0zM240.2 957.0h5.0v5.0h-5.0zM245.2 957.0h5.0v5.0h-5.0zM260.2 957.0h5.0v5.0h-5.0zM7.7 962.0h5.0v5.0h-5.0zM17.7 962.0h5.0v5.0h-5.0zM27.7 962.0h5.0v5.0h-5.0zM37.7 962.0h5.0v5.0h-5.0zM42.7 962.0h5.0v5.0h-5.0zM62.7 962.0h5.0v5.0h-5.0zM67.7 962.0h5.0v5.0h-5.0zM82.7 962.0h5.0v5.0h-5.0zM87.7 962.0h5.0v5.0h-5.0zM92.7 962.0h5.0v5.0h-5.0zM107.7 962.0h5.0v5.0h-5.0zM127.7 962.0h5.0v5.0h-5.0zM162.7 962.0h5.0v5.0h-5.0zM167.7 962.0h5.0v5.0h-5.0zM182.7 962.0h5.0v5.0h-5.0zM192.7 962.0h5.0v5.0h-5.0zM217.7 962.0h5.0v5.0h-5.0zM222.7 962.0h5.0v5.0h-5.0zM227.7 962.0h5.0v5.0h-5.0zM232.7 962.0h5.0v5.0h-5.0zM237.7 962.0h5.0v5.0h-5.0zM252.7 962.0h5.0v5.0h-5.0zM267.7 962.0h5.0v5.0h-5.0zM15.2 967.0h5.0v5.0h-5.0zM35.2 967.0h5.0v5.0h-5.0zM50.2 967.0h5.0v5.0h-5.0zM60.2 967.0h5.0v5.0h-5.0zM70.2 967.0h5.0v5.0h-5.0zM95.2 967.0h5.0v5.0h-5.0zM100.2 967.0h5.0v5.0h-5.0zM105.2 967.0h5.0v5.0h-5.0zM110.2 967.0h5.0v5.0h-5.0zM125.2 967.0h5.0v5.0h-5.0zM135.2 967.0h5.0v5.0h-5.0zM160.2 967.0h5.0v5.0h-5.0zM165.2 967.0h5.0v5.0h-5.0zM205.2 967.0h5.0v5.0h-5.0zM215.2 967.0h5.0v5.0h-5.0zM220.2 967.0h5.0v5.0h-5.0zM240.2 967.0h5.0v5.0h-5.0zM245.2 967.0h5.0v5.0h-5.0zM250.2 967.0h5.0v5.0h-5.0zM255.2 967.0h5.0v5.0h-5.0zM260.2 967.0h5.0v5.0h-5.0zM275.2 967.0h5.0v5.0h-5.0zM17.7 972.0h5.0v5.0h-5.0zM27.7 972.0h5.0v5.0h-5.0zM52.7 972.0h5.0v5.0h-5.0zM62.7 972.0h5.0v5.0h-5.0zM67.7 972.0h5.0v5.0h-5.0zM77.7 972.0h5.0v5.0h-5.0zM82.7 972.0h5.0v5.0h-5.0zM97.7 972.0h5.0v5.0h-5.0zM112.7 972.0h5.0v5.0h-5.0zM117.7 972.0h5.0v5.0h-5.0zM127.7 972.0h5.0v5.0h-5.0zM137.7 972.0h5.0v5.0h-5.0zM147.7 972.0h5.0v5.0h-5.0zM157.7 972.0h5.0v5.0h-5.0zM167.7 972.0h5.0v5.0h-5.0zM197.7 972.0h5.0v5.0h-5.0zM212.7 972.0h5.0v5.0h-5.0zM217.7 972.0h5.0v5.0h-5.0zM222.7 972.0h5.0v5.0h-5.0zM227.7 972.0h5.0v5.0h-5.0zM282.7 972.0h5.0v5.0h-5.0zM20.2 977.0h5.0v5.0h-5.0zM30.2 977.0h5.0v5.0h-5.0zM35.2 977.0h5.0v5.0h-5.0zM40.2 977.0h5.0v5.0h-5.0zM50.2 977.0h5.0v5.0h-5.0zM65.2 977.0h5.0v5.0h-5.0zM100.2 977.0h5.0v5.0h-5.0zM115.2 977.0h5.0v5.0h-5.0zM130.2 977.0h5.0v5.0h-5.0zM135.2 977.0h5.0v5.0h-5.0zM150.2 977.0h5.0v5.0h-5.0zM175.2 977.0h5.0v5.0h-5.0zM180.2 977.0h5.0v5.0h-5.0zM190.2 977.0h5.0v5.0h-5.0zM200.2 977.0h5.0v5.0h-5.0zM205.2 977.0h5.0v5.0h-5.0zM215.2 977.0h5.0v5.0h-5.0zM250.2 977.0h5.0v5.0h-5.0zM260.2 977.0h5.0v5.0h-5.0zM32.7 982.0h5.0v5.0h-5.0zM57.7 982.0h5.0v5.0h-5.0zM62.7 982.0h5.0v5.0h-5.0zM67.7 982.0h5.0v5.0h-5.0zM87.7 982.0h5.0v5.0h-5.0zM97.7 982.0h5.0v5.0h-5.0zM102.7 982.0h5.0v5.0h-5.0zM107.7 982.0h5.0v5.0h-5.0zM122.7 982.0h5.0v5.0h-5.0zM142.7 982.0h5.0v5.0h-5.0zM167.7 982.0h5.0v5.0h-5.0zM177.7 982.0h5.0v5.0h-5.0zM212.7 982.0h5.0v5.0h-5.0zM242.7 982.0h5.0v5.0h-5.0zM252.7 982.0h5.0v5.0h-5.0zM267.7 982.0h5.0v5.0h-5.0zM272.7 982.0h5.0v5.0h-5.0zM287.7 982.0h5.0v5.0h-5.0zM25.2 987.0h5.0v5.0h-5.0zM30.2 987.0h5.0v5.0h-5.0zM75.2 987.0h5.0v5.0h-5.0zM80.2 987.0h5.0v5.0h-5.0zM85.2 987.0h5.0v5.0h-5.0zM90.2 987.0h5.0v5.0h-5.0zM125.2 987.0h5.0v5.0h-5.0zM165.2 987.0h5.0v5.0h-5.0zM170.2 987.0h5.0v5.0h-5.0zM190.2 987.0h5.0v5.0h-5.0zM195.2 987.0h5.0v5.0h-5.0zM220.2 987.0h5.0v5.0h-5.0zM265.2 987.0h5.0v5.0h-5.0zM285.2 987.0h5.0v5.0h-5.0zM290.2 987.0h5.0v5.0h-5.0zM295.2 987.0h5.0v5.0h-5.0zM7.7 992.0h5.0v5.0h-5.0zM17.7 992.0h5.0v5.0h-5.0zM37.7 992.0h5.0v5.0h-5.0zM87.7 992.0h5.0v5.0h-5.0zM97.7 992.0h5.0v5.0h-5.0zM117.7 992.0h5.0v5.0h-5.0zM122.7 992.0h5.0v5.0h-5.0zM137.7 992.0h5.0v5.0h-5.0zM142.7 992.0h5.0v5.0h-5.0zM147.7 992.0h5.0v5.0h-5.0zM187.7 992.0h5.0v5.0h-5.0zM192.7 992.0h5.0v5.0h-5.0zM202.7 992.0h5.0v5.0h-5.0zM207.7 992.0h5.0v5.0h-5.0zM212.7 992.0h5.0v5.0h-5.0zM217.7 992.0h5.0v5.0h-5.0zM222.7 992.0h5.0v5.0h-5.0zM232.7 992.0h5.0v5.0h-5.0zM252.7 992.0h5.0v5.0h-5.0zM262.7 992.0h5.0v5.0h-5.0zM272.7 992.0h5.0v5.0h-5.0zM277.7 992.0h5.0v5.0h-5.0zM292.7 992.0h5.0v5.0h-5.0zM307.7 992.0h5.0v5.0h-5.0zM15.2 997.0h5.0v5.0h-5.0zM25.2 997.0h5.0v5.0h-5.0zM70.2 997.0h5.0v5.0h-5.0zM95.2 997.0h5.0v5.0h-5.0zM100.2 997.0h5.0v5.0h-5.0zM105.2 997.0h5.0v5.0h-5.0zM110.2 997.0h5.0v5.0h-5.0zM135.2 997.0h5.0v5.0h-5.0zM140.2 997.0h5.0v5.0h-5.0zM150.2 997.0h5.0v5.0h-5.0zM165.2 997.0h5.0v5.0h-5.0zM200.2 997.0h5.0v5.0h-5.0zM215.2 997.0h5.0v5.0h-5.0zM225.2 997.0h5.0v5.0h-5.0zM240.2 997.0h5.0v5.0h-5.0zM280.2 997.0h5.0v5.0h-5.0zM285.2 997.0h5.0v5.0h-5.0zM290.2 997.0h5.0v5.0h-5.0zM300.2 997.0h5.0v5.0h-5.0zM315.2 997.0h5.0v5.0h-5.0zM12.7 1002.0h5.0v5.0h-5.0zM17.7 1002.0h5.0v5.0h-5.0zM27.7 1002.0h5.0v5.0h-5.0zM62.7 1002.0h5.0v5.0h-5.0zM72.7 1002.0h5.0v5.0h-5.0zM112.7 1002.0h5.0v5.0h-5.0zM162.7 1002.0h5.0v5.0h-5.0zM167.7 1002.0h5.0v5.0h-5.0zM182.7 1002.0h5.0v5.0h-5.0zM197.7 1002.0h5.0v5.0h-5.0zM207.7 1002.0h5.0v5.0h-5.0zM212.7 1002.0h5.0v5.0h-5.0zM237.7 1002.0h5.0v5.0h-5.0zM262.7 1002.0h5.0v5.0h-5.0zM267.7 1002.0h5.0v5.0h-5.0zM277.7 1002.0h5.0v5.0h-5.0zM287.7 1002.0h5.0v5.0h-5.0zM292.7 1002.0h5.0v5.0h-5.0zM297.7 1002.0h5.0v5.0h-5.0zM302.7 1002.0h5.0v5.0h-5.0zM322.7 1002.0h5.0v5.0h-5.0zM10.2 1007.0h5.0v5.0h-5.0zM40.2 1007.0h5.0v5.0h-5.0zM50.2 1007.0h5.0v5.0h-5.0zM60.2 1007.0h5.0v5.0h-5.0zM70.2 1007.0h5.0v5.0h-5.0zM90.2 1007.0h5.0v5.0h-5.0zM95.2 1007.0h5.0v5.0h-5.0zM110.2 1007.0h5.0v5.0h-5.0zM130.2 1007.0h5.0v5.0h-5.0zM135.2 1007.0h5.0v5.0h-5.0zM140.2 1007.0h5.0v5.0h-5.0zM150.2 1007.0h5.0v5.0h-5.0zM175.2 1007.0h5.0v5.0h-5.0zM180.2 1007.0h5.0v5.0h-5.0zM185.2 1007.0h5.0v5.0h-5.0zM200.2 1007.0h5.0v5.0h-5.0zM205.2 1007.0h5.0v5.0h-5.0zM235.2 1007.0h5.0v5.0h-5.0zM275.2 1007.0h5.0v5.0h-5.0zM280.2 1007.0h5.0v5.0h-5.0zM290.2 1007.0h5.0v5.0h-5.0zM295.2 1007.0h5.0v5.0h-5.0zM300.2 1007.0h5.0v5.0h-5.0zM315.2 1007.0h5.0v5.0h-5.0zM320.2 1007.0h5.0v5.0h-5.0zM37.7 1012.0h5.0v5.0h-5.0zM77.7 1012.0h5.0v5.0h-5.0zM82.7 1012.0h5.0v5.0h-5.0zM107.7 1012.0h5.0v5.0h-5.0zM127.7 1012.0h5.0v5.0h-5.0zM157.7 1012.0h5.0v5.0h-5.0zM162.7 1012.0h5.0v5.0h-5.0zM177.7 1012.0h5.0v5.0h-5.0zM197.7 1012.0h5.0v5.0h-5.0zM202.7 1012.0h5.0v5.0h-5.0zM227.7 1012.0h5.0v5.0h-5.0zM232.7 1012.0h5.0v5.0h-5.0zM282.7 1012.0h5.0v5.0h-5.0zM317.7 1012.0h5.0v5.0h-5.0zM327.7 1012.0h5.0v5.0h-5.0zM10.2 1017.0h5.0v5.0h-5.0zM20.2 1017.0h5.0v5.0h-5.0zM30.2 1017.0h5.0v5.0h-5.0zM40.2 1017.0h5.0v5.0h-5.0zM45.2 1017.0h5.0v5.0h-5.0zM75.2 1017.0h5.0v5.0h-5.0zM85.2 1017.0h5.0v5.0h-5.0zM105.2 1017.0h5.0v5.0h-5.0zM110.2 1017.0h5.0v5.0h-5.0zM125.2 1017.0h5.0v5.0h-5.0zM150.2 1017.0h5.0v5.0h-5.0zM155.2 1017.0h5.0v5.0h-5.0zM160.2 1017.0h5.0v5.0h-5.0zM175.2 1017.0h5.0v5.0h-5.0zM195.2 1017.0h5.0v5.0h-5.0zM215.2 1017.0h5.0v5.0h-5.0zM225.2 1017.0h5.0v5.0h-5.0zM245.2 1017.0h5.0v5.0h-5.0zM260.2 1017.0h5.0v5.0h-5.0zM290.2 1017.0h5.0v5.0h-5.0zM300.2 1017.0h5.0v5.0h-5.0zM320.2 1017.0h5.0v5.0h-5.0zM12.7 1022.0h5.0v5.0h-5.0zM27.7 1022.0h5.0v5.0h-5.0zM42.7 1022.0h5.0v5.0h-5.0zM47.7 1022.0h5.0v5.0h-5.0zM62.7 1022.0h5.0v5.0h-5.0zM82.7 1022.0h5.0v5.0h-5.0zM92.7 1022.0h5.0v5.0h-5.0zM97.7 1022.0h5.0v5.0h-5.0zM142.7 1022.0h5.0v5.0h-5.0zM157.7 1022.0h5.0v5.0h-5.0zM172.7 1022.0h5.0v5.0h-5.0zM187.7 1022.0h5.0v5.0h-5.0zM212.7 1022.0h5.0v5.0h-5.0zM217.7 1022.0h5.0v5.0h-5.0zM227.7 1022.0h5.0v5.0h-5.0zM242.7 1022.0h5.0v5.0h-5.0zM247.7 1022.0h5.0v5.0h-5.0zM342.7 1022.0h5.0v5.0h-5.0zM10.2 1027.0h5.0v5.0h-5.0zM15.2 1027.0h5.0v5.0h-5.0zM35.2 1027.0h5.0v5.0h-5.0zM45.2 1027.0h5.0v5.0h-5.0zM55.2 1027.0h5.0v5.0h-5.0zM60.2 1027.0h5.0v5.0h-5.0zM80.2 1027.0h5.0v5.0h-5.0zM115.2 1027.0h5.0v5.0h-5.0zM130.2 1027.0h5.0v5.0h-5.0zM135.2 1027.0h5.0v5.0h-5.0zM140.2 1027.0h5.0v5.0h-5.0zM155.2 1027.0h5.0v5.0h-5.0zM175.2 1027.0h5.0v5.0h-5.0zM180.2 1027.0h5.0v5.0h-5.0zM185.2 1027.0h5.0v5.0h-5.0zM190.2 1027.0h5.0v5.0h-5.0zM235.2 1027.0h5.0v5.0h-5.0zM310.2 1027.0h5.0v5.0h-5.0zM320.2 1027.0h5.0v5.0h-5.0zM325.2 1027.0h5.0v5.0h-5.0zM7.7 1032.0h5.0v5.0h-5.0zM17.7 1032.0h5.0v5.0h-5.0zM22.7 1032.0h5.0v5.0h-5.0zM27.7 1032.0h5.0v5.0h-5.0zM42.7 1032.0h5.0v5.0h-5.0zM47.7 1032.0h5.0v5.0h-5.0zM57.7 1032.0h5.0v5.0h-5.0zM67.7 1032.0h5.0v5.0h-5.0zM72.7 1032.0h5.0v5.0h-5.0zM82.7 1032.0h5.0v5.0h-5.0zM97.7 1032.0h5.0v5.0h-5.0zM112.7 1032.0h5.0v5.0h-5.0zM127.7 1032.0h5.0v5.0h-5.0zM142.7 1032.0h5.0v5.0h-5.0zM147.7 1032.0h5.0v5.0h-5.0zM152.7 1032.0h5.0v5.0h-5.0zM162.7 1032.0h5.0v5.0h-5.0zM167.7 1032.0h5.0v5.0h-5.0zM172.7 1032.0h5.0v5.0h-5.0zM177.7 1032.0h5.0v5.0h-5.0zM182.7 1032.0h5.0v5.0h-5.0zM187.7 1032.0h5.0v5.0h-5.0zM212.7 1032.0h5.0v5.0h-5.0zM217.7 1032.0h5.0v5.0h-5.0zM227.7 1032.0h5.0v5.0h-5.0zM317.7 1032.0h5.0v5.0h-5.0zM332.7 1032.0h5.0v5.0h-5.0zM347.7 1032.0h5.0v5.0h-5.0zM362.7 1032.0h5.0v5.0h-5.0zM10.2 1037.0h5.0v5.0h-5.0zM35.2 1037.0h5.0v5.0h-5.0zM45.2 1037.0h5.0v5.0h-5.0zM60.2 1037.0h5.0v5.0h-5.0zM80.2 1037.0h5.0v5.0h-5.0zM120.2 1037.0h5.0v5.0h-5.0zM140.2 1037.0h5.0v5.0h-5.0zM145.2 1037.0h5.0v5.0h-5.0zM160.2 1037.0h5.0v5.0h-5.0zM175.2 1037.0h5.0v5.0h-5.0zM180.2 1037.0h5.0v5.0h-5.0zM190.2 1037.0h5.0v5.0h-5.0zM275.2 1037.0h5.0v5.0h-5.0zM320.2 1037.0h5.0v5.0h-5.0zM330.2 1037.0h5.0v5.0h-5.0zM335.2 1037.0h5.0v5.0h-5.0zM350.2 1037.0h5.0v5.0h-5.0zM360.2 1037.0h5.0v5.0h-5.0zM365.2 1037.0h5.0v5.0h-5.0zM12.7 1042.0h5.0v5.0h-5.0zM17.7 1042.0h5.0v5.0h-5.0zM27.7 1042.0h5.0v5.0h-5.0zM37.7 1042.0h5.0v5.0h-5.0zM52.7 1042.0h5.0v5.0h-5.0zM92.7 1042.0h5.0v5.0h-5.0zM117.7 1042.0h5.0v5.0h-5.0zM122.7 1042.0h5.0v5.0h-5.0zM152.7 1042.0h5.0v5.0h-5.0zM157.7 1042.0h5.0v5.0h-5.0zM187.7 1042.0h5.0v5.0h-5.0zM257.7 1042.0h5.0v5.0h-5.0zM272.7 1042.0h5.0v5.0h-5.0zM332.7 1042.0h5.0v5.0h-5.0zM347.7 1042.0h5.0v5.0h-5.0zM352.7 1042.0h5.0v5.0h-5.0zM362.7 1042.0h5.0v5.0h-5.0zM25.2 1047.0h5.0v5.0h-5.0zM35.2 1047.0h5.0v5.0h-5.0zM45.2 1047.0h5.0v5.0h-5.0zM55.2 1047.0h5.0v5.0h-5.0zM70.2 1047.0h5.0v5.0h-5.0zM110.2 1047.0h5.0v5.0h-5.0zM115.2 1047.0h5.0v5.0h-5.0zM120.2 1047.0h5.0v5.0h-5.0zM125.2 1047.0h5.0v5.0h-5.0zM130.2 1047.0h5.0v5.0h-5.0zM135.2 1047.0h5.0v5.0h-5.0zM175.2 1047.0h5.0v5.0h-5.0zM250.2 1047.0h5.0v5.0h-5.0zM260.2 1047.0h5.0v5.0h-5.0zM285.2 1047.0h5.0v5.0h-5.0zM330.2 1047.0h5.0v5.0h-5.0zM350.2 1047.0h5.0v5.0h-5.0zM375.2 1047.0h5.0v5.0h-5.0zM7.7 1052.0h5.0v5.0h-5.0zM12.7 1052.0h5.0v5.0h-5.0zM32.7 1052.0h5.0v5.0h-5.0zM37.7 1052.0h5.0v5.0h-5.0zM72.7 1052.0h5.0v5.0h-5.0zM77.7 1052.0h5.0v5.0h-5.0zM102.7 1052.0h5.0v5.0h-5.0zM132.7 1052.0h5.0v5.0h-5.0zM147.7 1052.0h5.0v5.0h-5.0zM262.7 1052.0h5.0v5.0h-5.0zM267.7 1052.0h5.0v5.0h-5.0zM277.7 1052.0h5.0v5.0h-5.0zM282.7 1052.0h5.0v5.0h-5.0zM287.7 1052.0h5.0v5.0h-5.0zM292.7 1052.0h5.0v5.0h-5.0zM302.7 1052.0h5.0v5.0h-5.0zM327.7 1052.0h5.0v5.0h-5.0zM332.7 1052.0h5.0v5.0h-5.0zM342.7 1052.0h5.0v5.0h-5.0zM357.7 1052.0h5.0v5.0h-5.0zM362.7 1052.0h5.0v5.0h-5.0zM367.7 1052.0h5.0v5.0h-5.0zM377.7 1052.0h5.0v5.0h-5.0zM40.2 1057.0h5.0v5.0h-5.0zM265.2 1057.0h5.0v5.0h-5.0zM275.2 1057.0h5.0v5.0h-5.0zM295.2 1057.0h5.0v5.0h-5.0zM305.2 1057.0h5.0v5.0h-5.0zM335.2 1057.0h5.0v5.0h-5.0zM340.2 1057.0h5.0v5.0h-5.0zM345.2 1057.0h5.0v5.0h-5.0zM375.2 1057.0h5.0v5.0h-5.0zM37.7 1062.0h5.0v5.0h-5.0zM267.7 1062.0h5.0v5.0h-5.0zM292.7 1062.0h5.0v5.0h-5.0zM297.7 1062.0h5.0v5.0h-5.0zM307.7 1062.0h5.0v5.0h-5.0zM377.7 1062.0h5.0v5.0h-5.0zM382.7 1062.0h5.0v5.0h-5.0zM397.7 1062.0h5.0v5.0h-5.0zM15.2 1067.0h5.0v5.0h-5.0zM25.2 1067.0h5.0v5.0h-5.0zM265.2 1067.0h5.0v5.0h-5.0zM270.2 1067.0h5.0v5.0h-5.0zM300.2 1067.0h5.0v5.0h-5.0zM305.2 1067.0h5.0v5.0h-5.0zM310.2 1067.0h5.0v5.0h-5.0zM330.2 1067.0h5.0v5.0h-5.0zM345.2 1067.0h5.0v5.0h-5.0zM350.2 1067.0h5.0v5.0h-5.0zM375.2 1067.0h5.0v5.0h-5.0zM385.2 1067.0h5.0v5.0h-5.0zM405.2 1067.0h5.0v5.0h-5.0zM12.7 1072.0h5.0v5.0h-5.0zM17.7 1072.0h5.0v5.0h-5.0zM22.7 1072.0h5.0v5.0h-5.0zM37.7 1072.0h5.0v5.0h-5.0zM257.7 1072.0h5.0v5.0h-5.0zM302.7 1072.0h5.0v5.0h-5.0zM327.7 1072.0h5.0v5.0h-5.0zM342.7 1072.0h5.0v5.0h-5.0zM352.7 1072.0h5.0v5.0h-5.0zM362.7 1072.0h5.0v5.0h-5.0zM372.7 1072.0h5.0v5.0h-5.0zM377.7 1072.0h5.0v5.0h-5.0zM382.7 1072.0h5.0v5.0h-5.0zM387.7 1072.0h5.0v5.0h-5.0zM392.7 1072.0h5.0v5.0h-5.0zM412.7 1072.0h5.0v5.0h-5.0zM25.2 1077.0h5.0v5.0h-5.0zM40.2 1077.0h5.0v5.0h-5.0zM270.2 1077.0h5.0v5.0h-5.0zM275.2 1077.0h5.0v5.0h-5.0zM280.2 1077.0h5.0v5.0h-5.0zM285.2 1077.0h5.0v5.0h-5.0zM315.2 1077.0h5.0v5.0h-5.0zM320.2 1077.0h5.0v5.0h-5.0zM330.2 1077.0h5.0v5.0h-5.0zM335.2 1077.0h5.0v5.0h-5.0zM365.2 1077.0h5.0v5.0h-5.0zM375.2 1077.0h5.0v5.0h-5.0zM390.2 1077.0h5.0v5.0h-5.0zM405.2 1077.0h5.0v5.0h-5.0zM410.2 1077.0h5.0v5.0h-5.0zM415.2 1077.0h5.0v5.0h-5.0zM420.2 1077.0h5.0v5.0h-5.0zM12.7 1082.0h5.0v5.0h-5.0zM252.7 1082.0h5.0v5.0h-5.0zM282.7 1082.0h5.0v5.0h-5.0zM297.7 1082.0h5.0v5.0h-5.0zM317.7 1082.0h5.0v5.0h-5.0zM322.7 1082.0h5.0v5.0h-5.0zM357.7 1082.0h5.0v5.0h-5.0zM367.7 1082.0h5.0v5.0h-5.0zM392.7 1082.0h5.0v5.0h-5.0zM402.7 1082.0h5.0v5.0h-5.0zM412.7 1082.0h5.0v5.0h-5.0zM215.2 1087.0h5.0v5.0h-5.0zM235.2 1087.0h5.0v5.0h-5.0zM265.2 1087.0h5.0v5.0h-5.0zM275.2 1087.0h5.0v5.0h-5.0zM290.2 1087.0h5.0v5.0h-5.0zM300.2 1087.0h5.0v5.0h-5.0zM315.2 1087.0h5.0v5.0h-5.0zM320.2 1087.0h5.0v5.0h-5.0zM325.2 1087.0h5.0v5.0h-5.0zM335.2 1087.0h5.0v5.0h-5.0zM350.2 1087.0h5.0v5.0h-5.0zM365.2 1087.0h5.0v5.0h-5.0zM370.2 1087.0h5.0v5.0h-5.0zM380.2 1087.0h5.0v5.0h-5.0zM410.2 1087.0h5.0v5.0h-5.0zM232.7 1092.0h5.0v5.0h-5.0zM242.7 1092.0h5.0v5.0h-5.0zM247.7 1092.0h5.0v5.0h-5.0zM262.7 1092.0h5.0v5.0h-5.0zM267.7 1092.0h5.0v5.0h-5.0zM282.7 1092.0h5.0v5.0h-5.0zM312.7 1092.0h5.0v5.0h-5.0zM317.7 1092.0h5.0v5.0h-5.0zM327.7 1092.0h5.0v5.0h-5.0zM332.7 1092.0h5.0v5.0h-5.0zM342.7 1092.0h5.0v5.0h-5.0zM352.7 1092.0h5.0v5.0h-5.0zM367.7 1092.0h5.0v5.0h-5.0zM372.7 1092.0h5.0v5.0h-5.0zM382.7 1092.0h5.0v5.0h-5.0zM402.7 1092.0h5.0v5.0h-5.0zM412.7 1092.0h5.0v5.0h-5.0zM422.7 1092.0h5.0v5.0h-5.0zM427.7 1092.0h5.0v5.0h-5.0zM432.7 1092.0h5.0v5.0h-5.0zM205.2 1097.0h5.0v5.0h-5.0zM240.2 1097.0h5.0v5.0h-5.0zM260.2 1097.0h5.0v5.0h-5.0zM290.2 1097.0h5.0v5.0h-5.0zM295.2 1097.0h5.0v5.0h-5.0zM310.2 1097.0h5.0v5.0h-5.0zM320.2 1097.0h5.0v5.0h-5.0zM325.2 1097.0h5.0v5.0h-5.0zM355.2 1097.0h5.0v5.0h-5.0zM202.7 1102.0h5.0v5.0h-5.0zM212.7 1102.0h5.0v5.0h-5.0zM242.7 1102.0h5.0v5.0h-5.0zM267.7 1102.0h5.0v5.0h-5.0zM272.7 1102.0h5.0v5.0h-5.0zM287.7 1102.0h5.0v5.0h-5.0zM292.7 1102.0h5.0v5.0h-5.0zM297.7 1102.0h5.0v5.0h-5.0zM337.7 1102.0h5.0v5.0h-5.0zM342.7 1102.0h5.0v5.0h-5.0zM347.7 1102.0h5.0v5.0h-5.0zM377.7 1102.0h5.0v5.0h-5.0zM387.7 1102.0h5.0v5.0h-5.0zM397.7 1102.0h5.0v5.0h-5.0zM422.7 1102.0h5.0v5.0h-5.0zM447.7 1102.0h5.0v5.0h-5.0zM210.2 1107.0h5.0v5.0h-5.0zM260.2 1107.0h5.0v5.0h-5.0zM265.2 1107.0h5.0v5.0h-5.0zM345.2 1107.0h5.0v5.0h-5.0zM360.2 1107.0h5.0v5.0h-5.0zM405.2 1107.0h5.0v5.0h-5.0zM410.2 1107.0h5.0v5.0h-5.0zM425.2 1107.0h5.0v5.0h-5.0zM440.2 1107.0h5.0v5.0h-5.0zM445.2 1107.0h5.0v5.0h-5.0zM237.7 1112.0h5.0v5.0h-5.0zM247.7 1112.0h5.0v5.0h-5.0zM252.7 1112.0h5.0v5.0h-5.0zM262.7 1112.0h5.0v5.0h-5.0zM292.7 1112.0h5.0v5.0h-5.0zM302.7 1112.0h5.0v5.0h-5.0zM307.7 1112.0h5.0v5.0h-5.0zM312.7 1112.0h5.0v5.0h-5.0zM362.7 1112.0h5.0v5.0h-5.0zM367.7 1112.0h5.0v5.0h-5.0zM372.7 1112.0h5.0v5.0h-5.0zM377.7 1112.0h5.0v5.0h-5.0zM382.7 1112.0h5.0v5.0h-5.0zM422.7 1112.0h5.0v5.0h-5.0zM427.7 1112.0h5.0v5.0h-5.0zM442.7 1112.0h5.0v5.0h-5.0zM447.7 1112.0h5.0v5.0h-5.0zM200.2 1117.0h5.0v5.0h-5.0zM225.2 1117.0h5.0v5.0h-5.0zM235.2 1117.0h5.0v5.0h-5.0zM250.2 1117.0h5.0v5.0h-5.0zM260.2 1117.0h5.0v5.0h-5.0zM280.2 1117.0h5.0v5.0h-5.0zM285.2 1117.0h5.0v5.0h-5.0zM290.2 1117.0h5.0v5.0h-5.0zM310.2 1117.0h5.0v5.0h-5.0zM320.2 1117.0h5.0v5.0h-5.0zM325.2 1117.0h5.0v5.0h-5.0zM330.2 1117.0h5.0v5.0h-5.0zM335.2 1117.0h5.0v5.0h-5.0zM360.2 1117.0h5.0v5.0h-5.0zM370.2 1117.0h5.0v5.0h-5.0zM385.2 1117.0h5.0v5.0h-5.0zM395.2 1117.0h5.0v5.0h-5.0zM420.2 1117.0h5.0v5.0h-5.0zM435.2 1117.0h5.0v5.0h-5.0zM460.2 1117.0h5.0v5.0h-5.0zM202.7 1122.0h5.0v5.0h-5.0zM212.7 1122.0h5.0v5.0h-5.0zM222.7 1122.0h5.0v5.0h-5.0zM227.7 1122.0h5.0v5.0h-5.0zM237.7 1122.0h5.0v5.0h-5.0zM242.7 1122.0h5.0v5.0h-5.0zM247.7 1122.0h5.0v5.0h-5.0zM252.7 1122.0h5.0v5.0h-5.0zM302.7 1122.0h5.0v5.0h-5.0zM307.7 1122.0h5.0v5.0h-5.0zM317.7 1122.0h5.0v5.0h-5.0zM322.7 1122.0h5.0v5.0h-5.0zM337.7 1122.0h5.0v5.0h-5.0zM342.7 1122.0h5.0v5.0h-5.0zM362.7 1122.0h5.0v5.0h-5.0zM372.7 1122.0h5.0v5.0h-5.0zM382.7 1122.0h5.0v5.0h-5.0zM407.7 1122.0h5.0v5.0h-5.0zM457.7 1122.0h5.0v5.0h-5.0zM462.7 1122.0h5.0v5.0h-5.0zM467.7 1122.0h5.0v5.0h-5.0zM477.7 1122.0h5.0v5.0h-5.0zM170.2 1127.0h5.0v5.0h-5.0zM185.2 1127.0h5.0v5.0h-5.0zM200.2 1127.0h5.0v5.0h-5.0zM220.2 1127.0h5.0v5.0h-5.0zM235.2 1127.0h5.0v5.0h-5.0zM240.2 1127.0h5.0v5.0h-5.0zM255.2 1127.0h5.0v5.0h-5.0zM260.2 1127.0h5.0v5.0h-5.0zM270.2 1127.0h5.0v5.0h-5.0zM275.2 1127.0h5.0v5.0h-5.0zM280.2 1127.0h5.0v5.0h-5.0zM285.2 1127.0h5.0v5.0h-5.0zM295.2 1127.0h5.0v5.0h-5.0zM315.2 1127.0h5.0v5.0h-5.0zM380.2 1127.0h5.0v5.0h-5.0zM385.2 1127.0h5.0v5.0h-5.0zM395.2 1127.0h5.0v5.0h-5.0zM400.2 1127.0h5.0v5.0h-5.0zM405.2 1127.0h5.0v5.0h-5.0zM455.2 1127.0h5.0v5.0h-5.0zM470.2 1127.0h5.0v5.0h-5.0zM172.7 1132.0h5.0v5.0h-5.0zM237.7 1132.0h5.0v5.0h-5.0zM252.7 1132.0h5.0v5.0h-5.0zM262.7 1132.0h5.0v5.0h-5.0zM282.7 1132.0h5.0v5.0h-5.0zM342.7 1132.0h5.0v5.0h-5.0zM362.7 1132.0h5.0v5.0h-5.0zM387.7 1132.0h5.0v5.0h-5.0zM397.7 1132.0h5.0v5.0h-5.0zM402.7 1132.0h5.0v5.0h-5.0zM437.7 1132.0h5.0v5.0h-5.0zM447.7 1132.0h5.0v5.0h-5.0zM462.7 1132.0h5.0v5.0h-5.0zM467.7 1132.0h5.0v5.0h-5.0zM472.7 1132.0h5.0v5.0h-5.0zM477.7 1132.0h5.0v5.0h-5.0zM225.2 1137.0h5.0v5.0h-5.0zM230.2 1137.0h5.0v5.0h-5.0zM240.2 1137.0h5.0v5.0h-5.0zM265.2 1137.0h5.0v5.0h-5.0zM285.2 1137.0h5.0v5.0h-5.0zM295.2 1137.0h5.0v5.0h-5.0zM310.2 1137.0h5.0v5.0h-5.0zM320.2 1137.0h5.0v5.0h-5.0zM325.2 1137.0h5.0v5.0h-5.0zM330.2 1137.0h5.0v5.0h-5.0zM340.2 1137.0h5.0v5.0h-5.0zM385.2 1137.0h5.0v5.0h-5.0zM390.2 1137.0h5.0v5.0h-5.0zM400.2 1137.0h5.0v5.0h-5.0zM435.2 1137.0h5.0v5.0h-5.0zM455.2 1137.0h5.0v5.0h-5.0zM465.2 1137.0h5.0v5.0h-5.0zM480.2 1137.0h5.0v5.0h-5.0z" fill="#f0f0f0"/><path d="M67.7 912.0h5.0v5.0h-5.0zM107.7 912.0h5.0v5.0h-5.0zM75.2 917.0h5.0v5.0h-5.0zM125.2 917.0h5.0v5.0h-5.0zM112.7 922.0h5.0v5.0h-5.0zM140.2 927.0h5.0v5.0h-5.0zM127.7 932.0h5.0v5.0h-5.0zM70.2 937.0h5.0v5.0h-5.0zM75.2 937.0h5.0v5.0h-5.0zM90.2 937.0h5.0v5.0h-5.0zM145.2 937.0h5.0v5.0h-5.0zM82.7 942.0h5.0v5.0h-5.0zM87.7 942.0h5.0v5.0h-5.0zM102.7 942.0h5.0v5.0h-5.0zM107.7 942.0h5.0v5.0h-5.0zM112.7 942.0h5.0v5.0h-5.0zM142.7 942.0h5.0v5.0h-5.0zM65.2 947.0h5.0v5.0h-5.0zM95.2 947.0h5.0v5.0h-5.0zM120.2 947.0h5.0v5.0h-5.0zM112.7 952.0h5.0v5.0h-5.0zM157.7 952.0h5.0v5.0h-5.0zM65.2 957.0h5.0v5.0h-5.0zM135.2 957.0h5.0v5.0h-5.0zM145.2 957.0h5.0v5.0h-5.0zM150.2 957.0h5.0v5.0h-5.0zM175.2 957.0h5.0v5.0h-5.0zM102.7 962.0h5.0v5.0h-5.0zM112.7 962.0h5.0v5.0h-5.0zM137.7 962.0h5.0v5.0h-5.0zM152.7 962.0h5.0v5.0h-5.0zM187.7 962.0h5.0v5.0h-5.0zM85.2 967.0h5.0v5.0h-5.0zM90.2 967.0h5.0v5.0h-5.0zM120.2 967.0h5.0v5.0h-5.0zM130.2 967.0h5.0v5.0h-5.0zM140.2 967.0h5.0v5.0h-5.0zM145.2 967.0h5.0v5.0h-5.0zM122.7 972.0h5.0v5.0h-5.0zM132.7 972.0h5.0v5.0h-5.0zM187.7 972.0h5.0v5.0h-5.0zM80.2 977.0h5.0v5.0h-5.0zM105.2 977.0h5.0v5.0h-5.0zM140.2 977.0h5.0v5.0h-5.0zM145.2 977.0h5.0v5.0h-5.0zM160.2 977.0h5.0v5.0h-5.0zM165.2 977.0h5.0v5.0h-5.0zM170.2 977.0h5.0v5.0h-5.0zM72.7 982.0h5.0v5.0h-5.0zM77.7 982.0h5.0v5.0h-5.0zM112.7 982.0h5.0v5.0h-5.0zM127.7 982.0h5.0v5.0h-5.0zM132.7 982.0h5.0v5.0h-5.0zM147.7 982.0h5.0v5.0h-5.0zM157.7 982.0h5.0v5.0h-5.0zM162.7 982.0h5.0v5.0h-5.0zM187.7 982.0h5.0v5.0h-5.0zM115.2 987.0h5.0v5.0h-5.0zM120.2 987.0h5.0v5.0h-5.0zM135.2 987.0h5.0v5.0h-5.0zM140.2 987.0h5.0v5.0h-5.0zM145.2 987.0h5.0v5.0h-5.0zM150.2 987.0h5.0v5.0h-5.0zM155.2 987.0h5.0v5.0h-5.0zM160.2 987.0h5.0v5.0h-5.0zM180.2 987.0h5.0v5.0h-5.0zM200.2 987.0h5.0v5.0h-5.0zM102.7 992.0h5.0v5.0h-5.0zM112.7 992.0h5.0v5.0h-5.0zM127.7 992.0h5.0v5.0h-5.0zM152.7 992.0h5.0v5.0h-5.0zM167.7 992.0h5.0v5.0h-5.0zM172.7 992.0h5.0v5.0h-5.0zM197.7 992.0h5.0v5.0h-5.0zM115.2 997.0h5.0v5.0h-5.0zM155.2 997.0h5.0v5.0h-5.0zM170.2 997.0h5.0v5.0h-5.0zM175.2 997.0h5.0v5.0h-5.0zM205.2 997.0h5.0v5.0h-5.0zM220.2 997.0h5.0v5.0h-5.0zM107.7 1002.0h5.0v5.0h-5.0zM127.7 1002.0h5.0v5.0h-5.0zM137.7 1002.0h5.0v5.0h-5.0zM142.7 1002.0h5.0v5.0h-5.0zM147.7 1002.0h5.0v5.0h-5.0zM157.7 1002.0h5.0v5.0h-5.0zM192.7 1002.0h5.0v5.0h-5.0zM202.7 1002.0h5.0v5.0h-5.0zM160.2 1007.0h5.0v5.0h-5.0zM165.2 1007.0h5.0v5.0h-5.0zM170.2 1007.0h5.0v5.0h-5.0zM190.2 1007.0h5.0v5.0h-5.0zM132.7 1012.0h5.0v5.0h-5.0zM142.7 1012.0h5.0v5.0h-5.0zM187.7 1012.0h5.0v5.0h-5.0zM192.7 1012.0h5.0v5.0h-5.0zM170.2 1017.0h5.0v5.0h-5.0zM190.2 1017.0h5.0v5.0h-5.0zM200.2 1017.0h5.0v5.0h-5.0zM205.2 1017.0h5.0v5.0h-5.0zM162.7 1022.0h5.0v5.0h-5.0zM167.7 1022.0h5.0v5.0h-5.0zM177.7 1022.0h5.0v5.0h-5.0zM207.7 1022.0h5.0v5.0h-5.0zM150.2 1027.0h5.0v5.0h-5.0zM195.2 1027.0h5.0v5.0h-5.0zM200.2 1027.0h5.0v5.0h-5.0zM220.2 1027.0h5.0v5.0h-5.0zM230.2 1027.0h5.0v5.0h-5.0zM157.7 1032.0h5.0v5.0h-5.0zM185.2 1037.0h5.0v5.0h-5.0zM340.2 1037.0h5.0v5.0h-5.0zM355.2 1037.0h5.0v5.0h-5.0zM337.7 1042.0h5.0v5.0h-5.0zM340.2 1047.0h5.0v5.0h-5.0zM345.2 1047.0h5.0v5.0h-5.0zM347.7 1052.0h5.0v5.0h-5.0zM325.2 1057.0h5.0v5.0h-5.0zM360.2 1057.0h5.0v5.0h-5.0zM365.2 1057.0h5.0v5.0h-5.0zM380.2 1057.0h5.0v5.0h-5.0zM390.2 1057.0h5.0v5.0h-5.0zM327.7 1062.0h5.0v5.0h-5.0zM362.7 1062.0h5.0v5.0h-5.0zM367.7 1062.0h5.0v5.0h-5.0zM295.2 1067.0h5.0v5.0h-5.0zM355.2 1067.0h5.0v5.0h-5.0zM360.2 1067.0h5.0v5.0h-5.0zM390.2 1067.0h5.0v5.0h-5.0zM292.7 1072.0h5.0v5.0h-5.0zM307.7 1072.0h5.0v5.0h-5.0zM332.7 1072.0h5.0v5.0h-5.0zM337.7 1072.0h5.0v5.0h-5.0zM367.7 1072.0h5.0v5.0h-5.0zM397.7 1072.0h5.0v5.0h-5.0zM340.2 1077.0h5.0v5.0h-5.0zM350.2 1077.0h5.0v5.0h-5.0zM355.2 1077.0h5.0v5.0h-5.0zM380.2 1077.0h5.0v5.0h-5.0zM385.2 1077.0h5.0v5.0h-5.0zM347.7 1082.0h5.0v5.0h-5.0zM377.7 1082.0h5.0v5.0h-5.0zM382.7 1082.0h5.0v5.0h-5.0zM387.7 1082.0h5.0v5.0h-5.0zM397.7 1082.0h5.0v5.0h-5.0zM340.2 1087.0h5.0v5.0h-5.0zM345.2 1087.0h5.0v5.0h-5.0zM355.2 1087.0h5.0v5.0h-5.0zM375.2 1087.0h5.0v5.0h-5.0zM385.2 1087.0h5.0v5.0h-5.0zM390.2 1087.0h5.0v5.0h-5.0zM337.7 1092.0h5.0v5.0h-5.0zM347.7 1092.0h5.0v5.0h-5.0zM357.7 1092.0h5.0v5.0h-5.0zM377.7 1092.0h5.0v5.0h-5.0zM387.7 1092.0h5.0v5.0h-5.0zM392.7 1092.0h5.0v5.0h-5.0zM397.7 1092.0h5.0v5.0h-5.0zM407.7 1092.0h5.0v5.0h-5.0zM335.2 1097.0h5.0v5.0h-5.0zM380.2 1097.0h5.0v5.0h-5.0zM400.2 1097.0h5.0v5.0h-5.0zM352.7 1102.0h5.0v5.0h-5.0zM362.7 1102.0h5.0v5.0h-5.0zM367.7 1102.0h5.0v5.0h-5.0zM382.7 1102.0h5.0v5.0h-5.0zM402.7 1102.0h5.0v5.0h-5.0zM412.7 1102.0h5.0v5.0h-5.0zM427.7 1102.0h5.0v5.0h-5.0zM437.7 1102.0h5.0v5.0h-5.0zM355.2 1107.0h5.0v5.0h-5.0zM365.2 1107.0h5.0v5.0h-5.0zM375.2 1107.0h5.0v5.0h-5.0zM400.2 1107.0h5.0v5.0h-5.0zM347.7 1112.0h5.0v5.0h-5.0zM397.7 1112.0h5.0v5.0h-5.0zM412.7 1112.0h5.0v5.0h-5.0zM437.7 1112.0h5.0v5.0h-5.0zM340.2 1117.0h5.0v5.0h-5.0zM350.2 1117.0h5.0v5.0h-5.0zM355.2 1117.0h5.0v5.0h-5.0zM405.2 1117.0h5.0v5.0h-5.0zM415.2 1117.0h5.0v5.0h-5.0zM430.2 1117.0h5.0v5.0h-5.0zM440.2 1117.0h5.0v5.0h-5.0zM377.7 1122.0h5.0v5.0h-5.0zM392.7 1122.0h5.0v5.0h-5.0zM402.7 1122.0h5.0v5.0h-5.0zM432.7 1122.0h5.0v5.0h-5.0zM447.7 1122.0h5.0v5.0h-5.0zM420.2 1127.0h5.0v5.0h-5.0zM435.2 1127.0h5.0v5.0h-5.0zM407.7 1132.0h5.0v5.0h-5.0zM412.7 1132.0h5.0v5.0h-5.0zM457.7 1132.0h5.0v5.0h-5.0zM420.2 1137.0h5.0v5.0h-5.0z" fill="#f5f5f5"/><path d="M252.7 1002.0h5.0v5.0h-5.0zM240.2 1007.0h5.0v5.0h-5.0zM252.7 1012.0h5.0v5.0h-5.0zM257.7 1012.0h5.0v5.0h-5.0zM262.7 1012.0h5.0v5.0h-5.0zM280.2 1017.0h5.0v5.0h-5.0zM267.7 1022.0h5.0v5.0h-5.0zM287.7 1022.0h5.0v5.0h-5.0zM292.7 1022.0h5.0v5.0h-5.0zM270.2 1027.0h5.0v5.0h-5.0zM300.2 1027.0h5.0v5.0h-5.0zM242.7 1032.0h5.0v5.0h-5.0zM272.7 1032.0h5.0v5.0h-5.0zM277.7 1032.0h5.0v5.0h-5.0zM297.7 1032.0h5.0v5.0h-5.0zM215.2 1037.0h5.0v5.0h-5.0zM230.2 1037.0h5.0v5.0h-5.0zM235.2 1037.0h5.0v5.0h-5.0zM240.2 1037.0h5.0v5.0h-5.0zM250.2 1037.0h5.0v5.0h-5.0zM255.2 1037.0h5.0v5.0h-5.0zM280.2 1037.0h5.0v5.0h-5.0zM305.2 1037.0h5.0v5.0h-5.0zM192.7 1042.0h5.0v5.0h-5.0zM217.7 1042.0h5.0v5.0h-5.0zM222.7 1042.0h5.0v5.0h-5.0zM227.7 1042.0h5.0v5.0h-5.0zM232.7 1042.0h5.0v5.0h-5.0zM252.7 1042.0h5.0v5.0h-5.0zM282.7 1042.0h5.0v5.0h-5.0zM302.7 1042.0h5.0v5.0h-5.0zM165.2 1047.0h5.0v5.0h-5.0zM180.2 1047.0h5.0v5.0h-5.0zM185.2 1047.0h5.0v5.0h-5.0zM190.2 1047.0h5.0v5.0h-5.0zM195.2 1047.0h5.0v5.0h-5.0zM205.2 1047.0h5.0v5.0h-5.0zM220.2 1047.0h5.0v5.0h-5.0zM300.2 1047.0h5.0v5.0h-5.0zM310.2 1047.0h5.0v5.0h-5.0zM315.2 1047.0h5.0v5.0h-5.0zM62.7 1052.0h5.0v5.0h-5.0zM112.7 1052.0h5.0v5.0h-5.0zM172.7 1052.0h5.0v5.0h-5.0zM177.7 1052.0h5.0v5.0h-5.0zM197.7 1052.0h5.0v5.0h-5.0zM207.7 1052.0h5.0v5.0h-5.0zM212.7 1052.0h5.0v5.0h-5.0zM237.7 1052.0h5.0v5.0h-5.0zM60.2 1057.0h5.0v5.0h-5.0zM65.2 1057.0h5.0v5.0h-5.0zM85.2 1057.0h5.0v5.0h-5.0zM125.2 1057.0h5.0v5.0h-5.0zM145.2 1057.0h5.0v5.0h-5.0zM165.2 1057.0h5.0v5.0h-5.0zM170.2 1057.0h5.0v5.0h-5.0zM175.2 1057.0h5.0v5.0h-5.0zM185.2 1057.0h5.0v5.0h-5.0zM190.2 1057.0h5.0v5.0h-5.0zM200.2 1057.0h5.0v5.0h-5.0zM77.7 1062.0h5.0v5.0h-5.0zM87.7 1062.0h5.0v5.0h-5.0zM107.7 1062.0h5.0v5.0h-5.0zM117.7 1062.0h5.0v5.0h-5.0zM162.7 1062.0h5.0v5.0h-5.0zM182.7 1062.0h5.0v5.0h-5.0zM187.7 1062.0h5.0v5.0h-5.0zM237.7 1062.0h5.0v5.0h-5.0zM252.7 1062.0h5.0v5.0h-5.0zM40.2 1067.0h5.0v5.0h-5.0zM50.2 1067.0h5.0v5.0h-5.0zM55.2 1067.0h5.0v5.0h-5.0zM65.2 1067.0h5.0v5.0h-5.0zM80.2 1067.0h5.0v5.0h-5.0zM130.2 1067.0h5.0v5.0h-5.0zM150.2 1067.0h5.0v5.0h-5.0zM155.2 1067.0h5.0v5.0h-5.0zM170.2 1067.0h5.0v5.0h-5.0zM180.2 1067.0h5.0v5.0h-5.0zM225.2 1067.0h5.0v5.0h-5.0zM235.2 1067.0h5.0v5.0h-5.0zM52.7 1072.0h5.0v5.0h-5.0zM172.7 1072.0h5.0v5.0h-5.0zM187.7 1072.0h5.0v5.0h-5.0zM227.7 1072.0h5.0v5.0h-5.0zM237.7 1072.0h5.0v5.0h-5.0zM247.7 1072.0h5.0v5.0h-5.0zM55.2 1077.0h5.0v5.0h-5.0zM60.2 1077.0h5.0v5.0h-5.0zM85.2 1077.0h5.0v5.0h-5.0zM95.2 1077.0h5.0v5.0h-5.0zM145.2 1077.0h5.0v5.0h-5.0zM190.2 1077.0h5.0v5.0h-5.0zM210.2 1077.0h5.0v5.0h-5.0zM225.2 1077.0h5.0v5.0h-5.0zM230.2 1077.0h5.0v5.0h-5.0zM47.7 1082.0h5.0v5.0h-5.0zM62.7 1082.0h5.0v5.0h-5.0zM77.7 1082.0h5.0v5.0h-5.0zM197.7 1082.0h5.0v5.0h-5.0zM202.7 1082.0h5.0v5.0h-5.0zM222.7 1082.0h5.0v5.0h-5.0zM232.7 1082.0h5.0v5.0h-5.0zM20.2 1087.0h5.0v5.0h-5.0zM25.2 1087.0h5.0v5.0h-5.0zM30.2 1087.0h5.0v5.0h-5.0zM45.2 1087.0h5.0v5.0h-5.0zM60.2 1087.0h5.0v5.0h-5.0zM200.2 1087.0h5.0v5.0h-5.0zM12.7 1092.0h5.0v5.0h-5.0zM22.7 1092.0h5.0v5.0h-5.0zM27.7 1092.0h5.0v5.0h-5.0zM177.7 1092.0h5.0v5.0h-5.0zM187.7 1092.0h5.0v5.0h-5.0zM25.2 1097.0h5.0v5.0h-5.0zM35.2 1097.0h5.0v5.0h-5.0zM40.2 1097.0h5.0v5.0h-5.0zM45.2 1097.0h5.0v5.0h-5.0zM180.2 1097.0h5.0v5.0h-5.0zM185.2 1097.0h5.0v5.0h-5.0zM12.7 1102.0h5.0v5.0h-5.0zM172.7 1102.0h5.0v5.0h-5.0zM182.7 1102.0h5.0v5.0h-5.0zM190.2 1107.0h5.0v5.0h-5.0zM195.2 1107.0h5.0v5.0h-5.0zM160.2 1117.0h5.0v5.0h-5.0zM165.2 1117.0h5.0v5.0h-5.0zM170.2 1117.0h5.0v5.0h-5.0zM175.2 1117.0h5.0v5.0h-5.0zM180.2 1117.0h5.0v5.0h-5.0zM147.7 1122.0h5.0v5.0h-5.0zM157.7 1122.0h5.0v5.0h-5.0zM162.7 1122.0h5.0v5.0h-5.0zM167.7 1122.0h5.0v5.0h-5.0zM140.2 1127.0h5.0v5.0h-5.0zM160.2 1127.0h5.0v5.0h-5.0zM175.2 1127.0h5.0v5.0h-5.0zM127.7 1132.0h5.0v5.0h-5.0zM132.7 1132.0h5.0v5.0h-5.0zM142.7 1132.0h5.0v5.0h-5.0zM147.7 1132.0h5.0v5.0h-5.0zM90.2 1137.0h5.0v5.0h-5.0zM115.2 1137.0h5.0v5.0h-5.0zM140.2 1137.0h5.0v5.0h-5.0zM145.2 1137.0h5.0v5.0h-5.0zM150.2 1137.0h5.0v5.0h-5.0z" fill="#e1e1e1"/><path d="M282.7 1022.0h5.0v5.0h-5.0zM275.2 1027.0h5.0v5.0h-5.0zM285.2 1027.0h5.0v5.0h-5.0zM290.2 1027.0h5.0v5.0h-5.0zM295.2 1027.0h5.0v5.0h-5.0zM282.7 1032.0h5.0v5.0h-5.0zM287.7 1032.0h5.0v5.0h-5.0zM285.2 1037.0h5.0v5.0h-5.0zM290.2 1037.0h5.0v5.0h-5.0zM212.7 1042.0h5.0v5.0h-5.0zM237.7 1042.0h5.0v5.0h-5.0zM242.7 1042.0h5.0v5.0h-5.0zM297.7 1042.0h5.0v5.0h-5.0zM307.7 1042.0h5.0v5.0h-5.0zM312.7 1042.0h5.0v5.0h-5.0zM215.2 1047.0h5.0v5.0h-5.0zM225.2 1047.0h5.0v5.0h-5.0zM240.2 1047.0h5.0v5.0h-5.0zM182.7 1052.0h5.0v5.0h-5.0zM232.7 1052.0h5.0v5.0h-5.0zM242.7 1052.0h5.0v5.0h-5.0zM240.2 1057.0h5.0v5.0h-5.0zM67.7 1062.0h5.0v5.0h-5.0zM72.7 1062.0h5.0v5.0h-5.0zM92.7 1062.0h5.0v5.0h-5.0zM167.7 1062.0h5.0v5.0h-5.0zM202.7 1062.0h5.0v5.0h-5.0zM232.7 1062.0h5.0v5.0h-5.0zM60.2 1067.0h5.0v5.0h-5.0zM70.2 1067.0h5.0v5.0h-5.0zM75.2 1067.0h5.0v5.0h-5.0zM85.2 1067.0h5.0v5.0h-5.0zM95.2 1067.0h5.0v5.0h-5.0zM105.2 1067.0h5.0v5.0h-5.0zM115.2 1067.0h5.0v5.0h-5.0zM125.2 1067.0h5.0v5.0h-5.0zM195.2 1067.0h5.0v5.0h-5.0zM200.2 1067.0h5.0v5.0h-5.0zM205.2 1067.0h5.0v5.0h-5.0zM230.2 1067.0h5.0v5.0h-5.0zM57.7 1072.0h5.0v5.0h-5.0zM77.7 1072.0h5.0v5.0h-5.0zM82.7 1072.0h5.0v5.0h-5.0zM87.7 1072.0h5.0v5.0h-5.0zM97.7 1072.0h5.0v5.0h-5.0zM102.7 1072.0h5.0v5.0h-5.0zM127.7 1072.0h5.0v5.0h-5.0zM132.7 1072.0h5.0v5.0h-5.0zM137.7 1072.0h5.0v5.0h-5.0zM147.7 1072.0h5.0v5.0h-5.0zM152.7 1072.0h5.0v5.0h-5.0zM157.7 1072.0h5.0v5.0h-5.0zM162.7 1072.0h5.0v5.0h-5.0zM202.7 1072.0h5.0v5.0h-5.0zM217.7 1072.0h5.0v5.0h-5.0zM222.7 1072.0h5.0v5.0h-5.0zM232.7 1072.0h5.0v5.0h-5.0zM70.2 1077.0h5.0v5.0h-5.0zM75.2 1077.0h5.0v5.0h-5.0zM80.2 1077.0h5.0v5.0h-5.0zM140.2 1077.0h5.0v5.0h-5.0zM160.2 1077.0h5.0v5.0h-5.0zM165.2 1077.0h5.0v5.0h-5.0zM180.2 1077.0h5.0v5.0h-5.0zM205.2 1077.0h5.0v5.0h-5.0zM215.2 1077.0h5.0v5.0h-5.0zM72.7 1082.0h5.0v5.0h-5.0zM87.7 1082.0h5.0v5.0h-5.0zM167.7 1082.0h5.0v5.0h-5.0zM187.7 1082.0h5.0v5.0h-5.0zM192.7 1082.0h5.0v5.0h-5.0zM212.7 1082.0h5.0v5.0h-5.0zM65.2 1087.0h5.0v5.0h-5.0zM70.2 1087.0h5.0v5.0h-5.0zM80.2 1087.0h5.0v5.0h-5.0zM190.2 1087.0h5.0v5.0h-5.0zM195.2 1087.0h5.0v5.0h-5.0zM32.7 1092.0h5.0v5.0h-5.0zM37.7 1092.0h5.0v5.0h-5.0zM57.7 1092.0h5.0v5.0h-5.0zM172.7 1092.0h5.0v5.0h-5.0zM192.7 1092.0h5.0v5.0h-5.0zM15.2 1097.0h5.0v5.0h-5.0zM170.2 1097.0h5.0v5.0h-5.0zM162.7 1102.0h5.0v5.0h-5.0zM10.2 1107.0h5.0v5.0h-5.0zM15.2 1107.0h5.0v5.0h-5.0zM155.2 1107.0h5.0v5.0h-5.0zM160.2 1107.0h5.0v5.0h-5.0zM165.2 1107.0h5.0v5.0h-5.0zM170.2 1107.0h5.0v5.0h-5.0zM180.2 1107.0h5.0v5.0h-5.0zM7.7 1112.0h5.0v5.0h-5.0zM152.7 1112.0h5.0v5.0h-5.0zM167.7 1112.0h5.0v5.0h-5.0zM177.7 1112.0h5.0v5.0h-5.0zM140.2 1117.0h5.0v5.0h-5.0zM155.2 1117.0h5.0v5.0h-5.0zM127.7 1122.0h5.0v5.0h-5.0zM142.7 1122.0h5.0v5.0h-5.0zM152.7 1122.0h5.0v5.0h-5.0zM125.2 1127.0h5.0v5.0h-5.0zM130.2 1127.0h5.0v5.0h-5.0zM7.7 1132.0h5.0v5.0h-5.0zM77.7 1132.0h5.0v5.0h-5.0zM102.7 1132.0h5.0v5.0h-5.0zM107.7 1132.0h5.0v5.0h-5.0zM122.7 1132.0h5.0v5.0h-5.0zM15.2 1137.0h5.0v5.0h-5.0zM65.2 1137.0h5.0v5.0h-5.0zM70.2 1137.0h5.0v5.0h-5.0zM75.2 1137.0h5.0v5.0h-5.0zM80.2 1137.0h5.0v5.0h-5.0zM85.2 1137.0h5.0v5.0h-5.0zM105.2 1137.0h5.0v5.0h-5.0z" fill="#dcdcdc"/><path d="M292.7 1032.0h5.0v5.0h-5.0zM302.7 1032.0h5.0v5.0h-5.0zM300.2 1037.0h5.0v5.0h-5.0zM230.2 1047.0h5.0v5.0h-5.0zM235.2 1047.0h5.0v5.0h-5.0zM217.7 1052.0h5.0v5.0h-5.0zM215.2 1057.0h5.0v5.0h-5.0zM220.2 1057.0h5.0v5.0h-5.0zM235.2 1057.0h5.0v5.0h-5.0zM62.7 1062.0h5.0v5.0h-5.0zM82.7 1062.0h5.0v5.0h-5.0zM227.7 1062.0h5.0v5.0h-5.0zM90.2 1067.0h5.0v5.0h-5.0zM120.2 1067.0h5.0v5.0h-5.0zM190.2 1067.0h5.0v5.0h-5.0zM210.2 1067.0h5.0v5.0h-5.0zM220.2 1067.0h5.0v5.0h-5.0zM92.7 1072.0h5.0v5.0h-5.0zM182.7 1072.0h5.0v5.0h-5.0zM197.7 1072.0h5.0v5.0h-5.0zM207.7 1072.0h5.0v5.0h-5.0zM90.2 1077.0h5.0v5.0h-5.0zM100.2 1077.0h5.0v5.0h-5.0zM115.2 1077.0h5.0v5.0h-5.0zM150.2 1077.0h5.0v5.0h-5.0zM155.2 1077.0h5.0v5.0h-5.0zM185.2 1077.0h5.0v5.0h-5.0zM200.2 1077.0h5.0v5.0h-5.0zM82.7 1082.0h5.0v5.0h-5.0zM92.7 1082.0h5.0v5.0h-5.0zM102.7 1082.0h5.0v5.0h-5.0zM112.7 1082.0h5.0v5.0h-5.0zM132.7 1082.0h5.0v5.0h-5.0zM137.7 1082.0h5.0v5.0h-5.0zM162.7 1082.0h5.0v5.0h-5.0zM177.7 1082.0h5.0v5.0h-5.0zM85.2 1087.0h5.0v5.0h-5.0zM90.2 1087.0h5.0v5.0h-5.0zM180.2 1087.0h5.0v5.0h-5.0zM185.2 1087.0h5.0v5.0h-5.0zM52.7 1092.0h5.0v5.0h-5.0zM167.7 1092.0h5.0v5.0h-5.0zM182.7 1092.0h5.0v5.0h-5.0zM30.2 1097.0h5.0v5.0h-5.0zM50.2 1097.0h5.0v5.0h-5.0zM175.2 1097.0h5.0v5.0h-5.0zM17.7 1102.0h5.0v5.0h-5.0zM22.7 1102.0h5.0v5.0h-5.0zM32.7 1102.0h5.0v5.0h-5.0zM37.7 1102.0h5.0v5.0h-5.0zM157.7 1102.0h5.0v5.0h-5.0zM167.7 1102.0h5.0v5.0h-5.0zM20.2 1107.0h5.0v5.0h-5.0zM145.2 1107.0h5.0v5.0h-5.0zM137.7 1112.0h5.0v5.0h-5.0zM142.7 1112.0h5.0v5.0h-5.0zM157.7 1112.0h5.0v5.0h-5.0zM162.7 1112.0h5.0v5.0h-5.0zM125.2 1117.0h5.0v5.0h-5.0zM135.2 1117.0h5.0v5.0h-5.0zM145.2 1117.0h5.0v5.0h-5.0zM150.2 1117.0h5.0v5.0h-5.0zM112.7 1122.0h5.0v5.0h-5.0zM122.7 1122.0h5.0v5.0h-5.0zM132.7 1122.0h5.0v5.0h-5.0zM137.7 1122.0h5.0v5.0h-5.0zM95.2 1127.0h5.0v5.0h-5.0zM100.2 1127.0h5.0v5.0h-5.0zM120.2 1127.0h5.0v5.0h-5.0zM135.2 1127.0h5.0v5.0h-5.0zM82.7 1132.0h5.0v5.0h-5.0zM97.7 1132.0h5.0v5.0h-5.0zM10.2 1137.0h5.0v5.0h-5.0zM30.2 1137.0h5.0v5.0h-5.0zM45.2 1137.0h5.0v5.0h-5.0zM55.2 1137.0h5.0v5.0h-5.0z" fill="#d7d7d7"/><path d="M295.2 1037.0h5.0v5.0h-5.0zM222.7 1052.0h5.0v5.0h-5.0zM227.7 1052.0h5.0v5.0h-5.0zM230.2 1057.0h5.0v5.0h-5.0zM207.7 1062.0h5.0v5.0h-5.0zM212.7 1062.0h5.0v5.0h-5.0zM217.7 1062.0h5.0v5.0h-5.0zM222.7 1062.0h5.0v5.0h-5.0zM100.2 1067.0h5.0v5.0h-5.0zM110.2 1067.0h5.0v5.0h-5.0zM215.2 1067.0h5.0v5.0h-5.0zM107.7 1072.0h5.0v5.0h-5.0zM117.7 1072.0h5.0v5.0h-5.0zM122.7 1072.0h5.0v5.0h-5.0zM192.7 1072.0h5.0v5.0h-5.0zM212.7 1072.0h5.0v5.0h-5.0zM105.2 1077.0h5.0v5.0h-5.0zM110.2 1077.0h5.0v5.0h-5.0zM120.2 1077.0h5.0v5.0h-5.0zM125.2 1077.0h5.0v5.0h-5.0zM130.2 1077.0h5.0v5.0h-5.0zM135.2 1077.0h5.0v5.0h-5.0zM170.2 1077.0h5.0v5.0h-5.0zM175.2 1077.0h5.0v5.0h-5.0zM195.2 1077.0h5.0v5.0h-5.0zM97.7 1082.0h5.0v5.0h-5.0zM107.7 1082.0h5.0v5.0h-5.0zM122.7 1082.0h5.0v5.0h-5.0zM142.7 1082.0h5.0v5.0h-5.0zM147.7 1082.0h5.0v5.0h-5.0zM172.7 1082.0h5.0v5.0h-5.0zM182.7 1082.0h5.0v5.0h-5.0zM75.2 1087.0h5.0v5.0h-5.0zM95.2 1087.0h5.0v5.0h-5.0zM105.2 1087.0h5.0v5.0h-5.0zM115.2 1087.0h5.0v5.0h-5.0zM140.2 1087.0h5.0v5.0h-5.0zM155.2 1087.0h5.0v5.0h-5.0zM160.2 1087.0h5.0v5.0h-5.0zM175.2 1087.0h5.0v5.0h-5.0zM62.7 1092.0h5.0v5.0h-5.0zM67.7 1092.0h5.0v5.0h-5.0zM77.7 1092.0h5.0v5.0h-5.0zM152.7 1092.0h5.0v5.0h-5.0zM55.2 1097.0h5.0v5.0h-5.0zM65.2 1097.0h5.0v5.0h-5.0zM155.2 1097.0h5.0v5.0h-5.0zM165.2 1097.0h5.0v5.0h-5.0zM27.7 1102.0h5.0v5.0h-5.0zM147.7 1102.0h5.0v5.0h-5.0zM25.2 1107.0h5.0v5.0h-5.0zM140.2 1107.0h5.0v5.0h-5.0zM150.2 1107.0h5.0v5.0h-5.0zM17.7 1112.0h5.0v5.0h-5.0zM10.2 1117.0h5.0v5.0h-5.0zM15.2 1117.0h5.0v5.0h-5.0zM110.2 1117.0h5.0v5.0h-5.0zM115.2 1117.0h5.0v5.0h-5.0zM120.2 1117.0h5.0v5.0h-5.0zM102.7 1122.0h5.0v5.0h-5.0zM107.7 1122.0h5.0v5.0h-5.0zM10.2 1127.0h5.0v5.0h-5.0zM15.2 1127.0h5.0v5.0h-5.0zM75.2 1127.0h5.0v5.0h-5.0zM90.2 1127.0h5.0v5.0h-5.0zM105.2 1127.0h5.0v5.0h-5.0zM110.2 1127.0h5.0v5.0h-5.0zM115.2 1127.0h5.0v5.0h-5.0zM72.7 1132.0h5.0v5.0h-5.0zM87.7 1132.0h5.0v5.0h-5.0zM92.7 1132.0h5.0v5.0h-5.0zM20.2 1137.0h5.0v5.0h-5.0zM25.2 1137.0h5.0v5.0h-5.0zM60.2 1137.0h5.0v5.0h-5.0z" fill="#d2d2d2"/><path d="M225.2 1057.0h5.0v5.0h-5.0zM112.7 1072.0h5.0v5.0h-5.0zM117.7 1082.0h5.0v5.0h-5.0zM127.7 1082.0h5.0v5.0h-5.0zM152.7 1082.0h5.0v5.0h-5.0zM157.7 1082.0h5.0v5.0h-5.0zM100.2 1087.0h5.0v5.0h-5.0zM145.2 1087.0h5.0v5.0h-5.0zM165.2 1087.0h5.0v5.0h-5.0zM170.2 1087.0h5.0v5.0h-5.0zM72.7 1092.0h5.0v5.0h-5.0zM97.7 1092.0h5.0v5.0h-5.0zM102.7 1092.0h5.0v5.0h-5.0zM147.7 1092.0h5.0v5.0h-5.0zM162.7 1092.0h5.0v5.0h-5.0zM60.2 1097.0h5.0v5.0h-5.0zM80.2 1097.0h5.0v5.0h-5.0zM160.2 1097.0h5.0v5.0h-5.0zM42.7 1102.0h5.0v5.0h-5.0zM47.7 1102.0h5.0v5.0h-5.0zM57.7 1102.0h5.0v5.0h-5.0zM67.7 1102.0h5.0v5.0h-5.0zM152.7 1102.0h5.0v5.0h-5.0zM120.2 1107.0h5.0v5.0h-5.0zM125.2 1107.0h5.0v5.0h-5.0zM130.2 1107.0h5.0v5.0h-5.0zM12.7 1112.0h5.0v5.0h-5.0zM117.7 1112.0h5.0v5.0h-5.0zM127.7 1112.0h5.0v5.0h-5.0zM147.7 1112.0h5.0v5.0h-5.0zM105.2 1117.0h5.0v5.0h-5.0zM130.2 1117.0h5.0v5.0h-5.0zM7.7 1122.0h5.0v5.0h-5.0zM12.7 1122.0h5.0v5.0h-5.0zM17.7 1122.0h5.0v5.0h-5.0zM117.7 1122.0h5.0v5.0h-5.0zM70.2 1127.0h5.0v5.0h-5.0zM80.2 1127.0h5.0v5.0h-5.0zM12.7 1132.0h5.0v5.0h-5.0zM35.2 1137.0h5.0v5.0h-5.0zM40.2 1137.0h5.0v5.0h-5.0zM50.2 1137.0h5.0v5.0h-5.0z" fill="#cdcdcd"/><path d="M110.2 1087.0h5.0v5.0h-5.0zM125.2 1087.0h5.0v5.0h-5.0zM135.2 1087.0h5.0v5.0h-5.0zM150.2 1087.0h5.0v5.0h-5.0zM82.7 1092.0h5.0v5.0h-5.0zM87.7 1092.0h5.0v5.0h-5.0zM92.7 1092.0h5.0v5.0h-5.0zM107.7 1092.0h5.0v5.0h-5.0zM112.7 1092.0h5.0v5.0h-5.0zM117.7 1092.0h5.0v5.0h-5.0zM122.7 1092.0h5.0v5.0h-5.0zM127.7 1092.0h5.0v5.0h-5.0zM142.7 1092.0h5.0v5.0h-5.0zM157.7 1092.0h5.0v5.0h-5.0zM70.2 1097.0h5.0v5.0h-5.0zM75.2 1097.0h5.0v5.0h-5.0zM85.2 1097.0h5.0v5.0h-5.0zM105.2 1097.0h5.0v5.0h-5.0zM115.2 1097.0h5.0v5.0h-5.0zM130.2 1097.0h5.0v5.0h-5.0zM135.2 1097.0h5.0v5.0h-5.0zM52.7 1102.0h5.0v5.0h-5.0zM62.7 1102.0h5.0v5.0h-5.0zM72.7 1102.0h5.0v5.0h-5.0zM107.7 1102.0h5.0v5.0h-5.0zM137.7 1102.0h5.0v5.0h-5.0zM142.7 1102.0h5.0v5.0h-5.0zM30.2 1107.0h5.0v5.0h-5.0zM35.2 1107.0h5.0v5.0h-5.0zM45.2 1107.0h5.0v5.0h-5.0zM50.2 1107.0h5.0v5.0h-5.0zM115.2 1107.0h5.0v5.0h-5.0zM22.7 1112.0h5.0v5.0h-5.0zM102.7 1112.0h5.0v5.0h-5.0zM122.7 1112.0h5.0v5.0h-5.0zM132.7 1112.0h5.0v5.0h-5.0zM20.2 1117.0h5.0v5.0h-5.0zM72.7 1122.0h5.0v5.0h-5.0zM82.7 1122.0h5.0v5.0h-5.0zM92.7 1122.0h5.0v5.0h-5.0zM97.7 1122.0h5.0v5.0h-5.0zM25.2 1127.0h5.0v5.0h-5.0zM85.2 1127.0h5.0v5.0h-5.0zM17.7 1132.0h5.0v5.0h-5.0zM22.7 1132.0h5.0v5.0h-5.0zM27.7 1132.0h5.0v5.0h-5.0zM52.7 1132.0h5.0v5.0h-5.0zM57.7 1132.0h5.0v5.0h-5.0zM62.7 1132.0h5.0v5.0h-5.0zM67.7 1132.0h5.0v5.0h-5.0z" fill="#c8c8c8"/><path d="M120.2 1087.0h5.0v5.0h-5.0zM130.2 1087.0h5.0v5.0h-5.0zM132.7 1092.0h5.0v5.0h-5.0zM95.2 1097.0h5.0v5.0h-5.0zM100.2 1097.0h5.0v5.0h-5.0zM120.2 1097.0h5.0v5.0h-5.0zM145.2 1097.0h5.0v5.0h-5.0zM150.2 1097.0h5.0v5.0h-5.0zM77.7 1102.0h5.0v5.0h-5.0zM102.7 1102.0h5.0v5.0h-5.0zM112.7 1102.0h5.0v5.0h-5.0zM122.7 1102.0h5.0v5.0h-5.0zM132.7 1102.0h5.0v5.0h-5.0zM40.2 1107.0h5.0v5.0h-5.0zM65.2 1107.0h5.0v5.0h-5.0zM105.2 1107.0h5.0v5.0h-5.0zM135.2 1107.0h5.0v5.0h-5.0zM27.7 1112.0h5.0v5.0h-5.0zM32.7 1112.0h5.0v5.0h-5.0zM42.7 1112.0h5.0v5.0h-5.0zM97.7 1112.0h5.0v5.0h-5.0zM107.7 1112.0h5.0v5.0h-5.0zM112.7 1112.0h5.0v5.0h-5.0zM25.2 1117.0h5.0v5.0h-5.0zM80.2 1117.0h5.0v5.0h-5.0zM95.2 1117.0h5.0v5.0h-5.0zM100.2 1117.0h5.0v5.0h-5.0zM22.7 1122.0h5.0v5.0h-5.0zM87.7 1122.0h5.0v5.0h-5.0zM30.2 1127.0h5.0v5.0h-5.0zM40.2 1127.0h5.0v5.0h-5.0zM32.7 1132.0h5.0v5.0h-5.0zM42.7 1132.0h5.0v5.0h-5.0zM47.7 1132.0h5.0v5.0h-5.0z" fill="#c3c3c3"/><path d="M137.7 1092.0h5.0v5.0h-5.0zM90.2 1097.0h5.0v5.0h-5.0zM110.2 1097.0h5.0v5.0h-5.0zM140.2 1097.0h5.0v5.0h-5.0zM87.7 1102.0h5.0v5.0h-5.0zM92.7 1102.0h5.0v5.0h-5.0zM117.7 1102.0h5.0v5.0h-5.0zM127.7 1102.0h5.0v5.0h-5.0zM55.2 1107.0h5.0v5.0h-5.0zM60.2 1107.0h5.0v5.0h-5.0zM70.2 1107.0h5.0v5.0h-5.0zM75.2 1107.0h5.0v5.0h-5.0zM80.2 1107.0h5.0v5.0h-5.0zM95.2 1107.0h5.0v5.0h-5.0zM100.2 1107.0h5.0v5.0h-5.0zM110.2 1107.0h5.0v5.0h-5.0zM37.7 1112.0h5.0v5.0h-5.0zM62.7 1112.0h5.0v5.0h-5.0zM82.7 1112.0h5.0v5.0h-5.0zM30.2 1117.0h5.0v5.0h-5.0zM50.2 1117.0h5.0v5.0h-5.0zM60.2 1117.0h5.0v5.0h-5.0zM75.2 1117.0h5.0v5.0h-5.0zM90.2 1117.0h5.0v5.0h-5.0zM27.7 1122.0h5.0v5.0h-5.0zM42.7 1122.0h5.0v5.0h-5.0zM47.7 1122.0h5.0v5.0h-5.0zM52.7 1122.0h5.0v5.0h-5.0zM57.7 1122.0h5.0v5.0h-5.0zM62.7 1122.0h5.0v5.0h-5.0zM67.7 1122.0h5.0v5.0h-5.0zM77.7 1122.0h5.0v5.0h-5.0zM20.2 1127.0h5.0v5.0h-5.0zM35.2 1127.0h5.0v5.0h-5.0zM50.2 1127.0h5.0v5.0h-5.0zM55.2 1127.0h5.0v5.0h-5.0zM60.2 1127.0h5.0v5.0h-5.0zM65.2 1127.0h5.0v5.0h-5.0zM37.7 1132.0h5.0v5.0h-5.0z" fill="#bebebe"/><path d="M125.2 1097.0h5.0v5.0h-5.0zM82.7 1102.0h5.0v5.0h-5.0zM97.7 1102.0h5.0v5.0h-5.0zM85.2 1107.0h5.0v5.0h-5.0zM47.7 1112.0h5.0v5.0h-5.0zM67.7 1112.0h5.0v5.0h-5.0zM72.7 1112.0h5.0v5.0h-5.0zM77.7 1112.0h5.0v5.0h-5.0zM87.7 1112.0h5.0v5.0h-5.0zM92.7 1112.0h5.0v5.0h-5.0zM35.2 1117.0h5.0v5.0h-5.0zM40.2 1117.0h5.0v5.0h-5.0zM55.2 1117.0h5.0v5.0h-5.0zM65.2 1117.0h5.0v5.0h-5.0zM85.2 1117.0h5.0v5.0h-5.0zM37.7 1122.0h5.0v5.0h-5.0zM45.2 1127.0h5.0v5.0h-5.0z" fill="#b9b9b9"/><path d="M90.2 1107.0h5.0v5.0h-5.0zM52.7 1112.0h5.0v5.0h-5.0zM57.7 1112.0h5.0v5.0h-5.0zM45.2 1117.0h5.0v5.0h-5.0zM70.2 1117.0h5.0v5.0h-5.0zM32.7 1122.0h5.0v5.0h-5.0z" fill="#b4b4b4"/></g><path d="M64.4 1120.0L66.9 1116.7L72.0 1112.8L78.8 1110.7L85.5 1109.9L88.9 1107.3L93.2 1107.8L98.2 1109.5L103.3 1111.6L109.3 1112.0L115.2 1111.1L117.3 1114.5L117.7 1119.6L116.5 1123.4L110.1 1123.9L105.9 1124.7L104.6 1128.1L105.9 1131.9L108.8 1134.9L104.2 1134.0L99.9 1135.7L93.2 1136.6L86.4 1137.0L81.3 1138.7L77.9 1137.4L72.8 1134.9L67.8 1130.6L65.2 1125.5Z" fill="#7fd87f" stroke="#000" stroke-width="1.3" stroke-linejoin="round"/><path d="M72.0 1118.8L76.2 1113.7L81.3 1112.4L86.4 1114.5L93.2 1115.4L96.6 1113.7L99.9 1116.2L99.9 1120.5L104.2 1123.0L103.3 1128.1L99.9 1129.8L95.7 1132.3L88.9 1134.0L83.0 1135.7L78.8 1133.2L73.7 1128.9L69.5 1125.5Z" fill="#a8ccff"/><path d="M76.2 1121.3L84.7 1116.2L93.2 1121.3L88.9 1128.1L80.5 1127.2Z" fill="#70b4ff"/><path d="M78.8 1129.8L83.9 1129.8L83.9 1131.9L78.8 1131.9Z" fill="#1020e0"/><path d="M79.6 1134.0L83.9 1134.0L83.9 1136.6L79.6 1136.6Z" fill="#1020e0"/><path d="M86.4 1129.8L89.8 1129.8L89.8 1132.3L86.4 1132.3Z" fill="#1020e0"/><path d="M99.1 1120.9L103.3 1122.2L102.9 1124.3L99.1 1123.0Z" fill="#1020e0"/><path d="M87.7 1128.9L91.9 1129.8L91.9 1131.9L87.7 1131.1Z" fill="#ffee00"/><path d="M13.1 1113.7L16.9 1114.5L20.8 1117.9L21.2 1121.3L19.5 1123.9L15.2 1124.7L13.1 1123.9Z" fill="#7fd87f" stroke="#000" stroke-width="1.3" stroke-linejoin="round"/><path d="M14.4 1116.7L18.2 1118.3L18.2 1120.0L14.4 1118.3Z" fill="#a8ccff"/><path d="M21.6 1130.6L28.0 1128.1L33.9 1125.5L40.7 1123.9L46.6 1122.6L49.1 1123.4L48.3 1127.2L45.7 1128.9L39.8 1128.9L33.9 1131.5L28.0 1131.9L24.6 1133.2L22.0 1132.7Z" fill="#7fd87f" stroke="#000" stroke-width="1.3" stroke-linejoin="round"/><path d="M29.6 1128.5L34.7 1126.8L42.3 1125.1L43.2 1127.2L35.6 1129.8L30.5 1131.1Z" fill="#a8ccff"/><path d="M30.1 1128.5L33.9 1128.1L34.7 1130.6L30.9 1131.1Z" fill="#1020e0"/><path d="M44.0 1138.7L47.4 1135.7L50.8 1133.2L54.2 1134.0L56.7 1136.6L62.7 1137.0L67.8 1138.7Z" fill="#7fd87f" stroke="#000" stroke-width="1.3" stroke-linejoin="round"/><path d="M116.0 1062.9L119.4 1060.3L122.0 1058.6L123.7 1060.3L123.2 1062.9L125.4 1065.4L124.5 1068.4L121.1 1069.6L117.7 1068.0L116.0 1065.4Z" fill="#7fd87f" stroke="#000" stroke-width="1.3" stroke-linejoin="round"/><path d="M114.3 1073.9L116.9 1073.0L119.4 1074.7L118.6 1077.3L115.6 1077.3Z" fill="#5090ff" stroke="#000" stroke-width="1.2" stroke-linejoin="round"/><path d="M76.7 1067.1L78.8 1066.3L80.9 1068.0L79.6 1069.8L77.1 1069.6Z" fill="#7fd87f" stroke="#000" stroke-width="1.3" stroke-linejoin="round"/><path d="M16.1 1080.7L19.9 1078.1L22.9 1077.3L25.4 1079.0L27.1 1082.3L24.6 1084.0L20.3 1083.6L18.2 1081.9Z" fill="#7fd87f" stroke="#000" stroke-width="1.3" stroke-linejoin="round"/><path d="M20.8 1078.5L23.7 1079.0L24.1 1080.7L21.2 1080.2Z" fill="#c8d4ff"/><circle cx="84.3" cy="1076.3" r="1.4" fill="#000"/><circle cx="73.7" cy="1091.8" r="1.7" fill="#000"/><circle cx="122.8" cy="1050.0" r="1.3" fill="#000"/><circle cx="112.2" cy="1131.9" r="1.0" fill="#000"/><circle cx="48.4" cy="1070.5" r="0.7" fill="#000"/><path d="M208.7 1056.2L211.7 1055.0L218.5 1058.8L221.1 1062.2L218.5 1063.0L211.7 1061.3L209.7 1059.6Z" fill="#c8d4ff" stroke="#000" stroke-width="1.2" stroke-linejoin="round"/><path d="M220.2 1084.7L222.2 1084.2L226.1 1089.3L230.4 1091.8L229.5 1094.3L226.1 1093.5L222.2 1088.4Z" fill="#a8ccff" stroke="#000" stroke-width="1.2" stroke-linejoin="round"/><path d="M163.5 1038.4L166.9 1035.1L171.1 1037.6L171.9 1040.1L167.7 1041.0Z" fill="#000"/><path d="M164.8 1058.3L166.9 1057.4L168.9 1061.0L166.9 1061.8Z" fill="#9ab" stroke="#000" stroke-width="1.2" stroke-linejoin="round"/><path d="M177.4 1077.9L179.6 1072.8L180.9 1073.5L178.9 1078.9Z" fill="#000"/><path d="M243.1 1051.1L244.4 1050.3L245.1 1054.5L243.6 1055.4Z" fill="#000"/><circle cx="263.4" cy="1005.9" r="1.4" fill="#000"/><circle cx="201.2" cy="1025.1" r="1.0" fill="#000"/><circle cx="238.8" cy="1057.9" r="1.0" fill="#000"/><circle cx="256.3" cy="1077.9" r="1.0" fill="#000"/><circle cx="122.8" cy="1049.8" r="1.4" fill="#000"/><path d="M411.8 1073.7L417.4 1078.2L424.2 1082.8L431.6 1087.8L428.7 1094.1L425.4 1102.0L422.5 1108.2L418.0 1107.6L416.3 1101.4L416.9 1096.3L414.1 1090.1L416.3 1085.0L414.1 1079.4Z" fill="#7fd87f" stroke="#000" stroke-width="1.3" stroke-linejoin="round"/><path d="M419.7 1081.1L429.9 1087.8L426.5 1096.3L422.0 1099.7L418.6 1092.9L420.3 1087.3Z" fill="#a8ccff"/><path d="M421.4 1081.6L428.7 1087.3L427.0 1091.2L420.8 1086.2Z" fill="#2030ff"/><path d="M429.3 1119.5L431.6 1119.1L436.6 1123.4L435.0 1124.8L431.0 1122.5Z" fill="#334" stroke="#000" stroke-width="1.2" stroke-linejoin="round"/><path d="M448.5 1133.0L451.9 1130.2L455.8 1131.9L458.7 1138.7L449.1 1138.7Z" fill="#5090ff" stroke="#000" stroke-width="1.3" stroke-linejoin="round"/><path d="M450.2 1134.7L452.5 1133.0L454.2 1137.5L451.9 1138.1Z" fill="#ffee00"/><line x1="329.9" y1="1012" x2="485.9" y2="1031.1" stroke="#dcdcdc" stroke-width="2"/><g transform="translate(0.00,590.50)">
<g stroke="#000" stroke-width="1.05" fill="none" stroke-dasharray="3.3 4.97"><line x1="12.68" y1="50.35" x2="486.3" y2="50.35"/><line x1="12.68" y1="134.90" x2="486.3" y2="134.90"/><line x1="12.68" y1="219.45" x2="486.3" y2="219.45"/><line x1="12.68" y1="304.00" x2="486.3" y2="304.00"/><line x1="12.68" y1="388.55" x2="486.3" y2="388.55"/><line x1="12.68" y1="473.10" x2="486.3" y2="473.10"/></g><g stroke="#000" stroke-width="1.35" fill="none" stroke-dasharray="2.9 5.39"><line x1="37.80" y1="40.87" x2="37.80" y2="548.4"/><line x1="116.54" y1="40.87" x2="116.54" y2="548.4"/><line x1="195.28" y1="40.87" x2="195.28" y2="548.4"/><line x1="274.02" y1="40.87" x2="274.02" y2="548.4"/><line x1="352.76" y1="40.87" x2="352.76" y2="548.4"/><line x1="431.50" y1="40.87" x2="431.50" y2="548.4"/></g><text x="37.50" y="283" class="gl" text-anchor="middle">-126</text><text x="116.24" y="283" class="gl" text-anchor="middle">-124</text><text x="194.98" y="283" class="gl" text-anchor="middle">-122</text><text x="273.72" y="283" class="gl" text-anchor="middle">-120</text><text x="352.46" y="283" class="gl" text-anchor="middle">-118</text><text x="431.20" y="283" class="gl" text-anchor="middle">-116</text><text x="254.2" y="49.80" class="gl" text-anchor="middle">22</text><text x="254.2" y="134.35" class="gl" text-anchor="middle">20</text><text x="254.2" y="218.90" class="gl" text-anchor="middle">18</text><text x="254.2" y="303.45" class="gl" text-anchor="middle">16</text><text x="254.2" y="388.00" class="gl" text-anchor="middle">14</text><text x="254.2" y="472.55" class="gl" text-anchor="middle">12</text><g stroke="#000" stroke-width="1.15" fill="none" stroke-dasharray="12.2 11.4"><path d="M12.65 331.9Q157.7 436.3 302.7 548.3"/><path d="M12.65 444.5Q82.7 495.3 152.7 548.3"/></g><path d="M242.95 294.5H255.95M249.45 288.05V300.95" stroke="#000" stroke-width="4.55" fill="none"/><text x="44" y="65.6" class="tt">85GHz PCT (K)</text><text x="438.3" y="522.8" class="pl">(d)</text><rect x="495.0" y="531.48" width="8.9" height="8.81" fill="#f8f8f8"/><rect x="495.0" y="523.02" width="8.9" height="8.81" fill="#f0f0f0"/><rect x="495.0" y="514.56" width="8.9" height="8.81" fill="#e9e9e9"/><rect x="495.0" y="506.10" width="8.9" height="8.81" fill="#e1e1e1"/><rect x="495.0" y="497.64" width="8.9" height="8.81" fill="#dadada"/><rect x="495.0" y="489.18" width="8.9" height="8.81" fill="#d2d2d2"/><rect x="495.0" y="480.72" width="8.9" height="8.81" fill="#cbcbcb"/><rect x="495.0" y="472.26" width="8.9" height="8.81" fill="#c3c3c3"/><rect x="495.0" y="463.80" width="8.9" height="8.81" fill="#bcbcbc"/><rect x="495.0" y="455.34" width="8.9" height="8.81" fill="#b4b4b4"/><rect x="495.0" y="446.88" width="8.9" height="8.81" fill="#adadad"/><rect x="495.0" y="438.42" width="8.9" height="8.81" fill="#a5a5a5"/><rect x="495.0" y="429.96" width="8.9" height="8.81" fill="#9e9e9e"/><rect x="495.0" y="421.50" width="8.9" height="8.81" fill="#969696"/><rect x="495.0" y="413.04" width="8.9" height="8.81" fill="#8be88b"/><rect x="495.0" y="404.58" width="8.9" height="8.81" fill="#83dd83"/><rect x="495.0" y="396.12" width="8.9" height="8.81" fill="#7bd27b"/><rect x="495.0" y="387.66" width="8.9" height="8.81" fill="#73c873"/><rect x="495.0" y="379.20" width="8.9" height="8.81" fill="#6bbd6b"/><rect x="495.0" y="370.74" width="8.9" height="8.81" fill="#d0d8ff"/><rect x="495.0" y="362.28" width="8.9" height="8.81" fill="#b8d0ff"/><rect x="495.0" y="353.82" width="8.9" height="8.81" fill="#a0c6ff"/><rect x="495.0" y="345.36" width="8.9" height="8.81" fill="#88c0ff"/><rect x="495.0" y="336.90" width="8.9" height="8.81" fill="#70b8ff"/><rect x="495.0" y="328.44" width="8.9" height="8.81" fill="#50b0ff"/><rect x="495.0" y="319.98" width="8.9" height="8.81" fill="#488cff"/><rect x="495.0" y="311.52" width="8.9" height="8.81" fill="#4070ff"/><rect x="495.0" y="303.06" width="8.9" height="8.81" fill="#3c50ff"/><rect x="495.0" y="294.60" width="8.9" height="8.81" fill="#3030ff"/><rect x="495.0" y="286.14" width="8.9" height="8.81" fill="#0000ff"/><rect x="495.0" y="277.68" width="8.9" height="8.81" fill="#0000ef"/><rect x="495.0" y="269.22" width="8.9" height="8.81" fill="#0000de"/><rect x="495.0" y="260.76" width="8.9" height="8.81" fill="#0000ce"/><rect x="495.0" y="252.30" width="8.9" height="8.81" fill="#0000be"/><rect x="495.0" y="243.84" width="8.9" height="8.81" fill="#ffff00"/><rect x="495.0" y="235.38" width="8.9" height="8.81" fill="#fff200"/><rect x="495.0" y="226.92" width="8.9" height="8.81" fill="#ffe600"/><rect x="495.0" y="218.46" width="8.9" height="8.81" fill="#ffd900"/><rect x="495.0" y="210.00" width="8.9" height="8.81" fill="#ffcc00"/><rect x="495.0" y="201.54" width="8.9" height="8.81" fill="#ff9000"/><rect x="495.0" y="193.08" width="8.9" height="8.81" fill="#ff8800"/><rect x="495.0" y="184.62" width="8.9" height="8.81" fill="#ff8000"/><rect x="495.0" y="176.16" width="8.9" height="8.81" fill="#ff7800"/><rect x="495.0" y="167.70" width="8.9" height="8.81" fill="#ff7000"/><rect x="495.0" y="159.24" width="8.9" height="8.81" fill="#ff4000"/><rect x="495.0" y="150.78" width="8.9" height="8.81" fill="#ff3500"/><rect x="495.0" y="142.32" width="8.9" height="8.81" fill="#ff2a00"/><rect x="495.0" y="133.86" width="8.9" height="8.81" fill="#ff1f00"/><rect x="495.0" y="125.40" width="8.9" height="8.81" fill="#ff1400"/><rect x="495.0" y="116.94" width="8.9" height="8.81" fill="#c80000"/><rect x="495.0" y="108.48" width="8.9" height="8.81" fill="#be0401"/><rect x="495.0" y="100.02" width="8.9" height="8.81" fill="#b40702"/><rect x="495.0" y="91.56" width="8.9" height="8.81" fill="#aa0a03"/><rect x="495.0" y="83.10" width="8.9" height="8.81" fill="#a00e04"/><rect x="495.0" y="74.64" width="8.9" height="8.81" fill="#620c04"/><rect x="495.0" y="66.18" width="8.9" height="8.81" fill="#5e100a"/><rect x="495.0" y="57.72" width="8.9" height="8.81" fill="#5b140f"/><rect x="495.0" y="49.26" width="8.9" height="8.81" fill="#581814"/><rect x="495.0" y="40.80" width="8.9" height="8.81" fill="#541c1a"/><line x1="503.59999999999997" y1="91.56" x2="506.09999999999997" y2="91.56" stroke="#000" stroke-width="1"/><text x="524.2" y="99.86" class="cb" text-anchor="middle">111</text><line x1="503.59999999999997" y1="142.32" x2="506.09999999999997" y2="142.32" stroke="#000" stroke-width="1"/><text x="524.2" y="150.62" class="cb" text-anchor="middle">132</text><line x1="503.59999999999997" y1="193.08" x2="506.09999999999997" y2="193.08" stroke="#000" stroke-width="1"/><text x="524.2" y="201.38" class="cb" text-anchor="middle">153</text><line x1="503.59999999999997" y1="243.84" x2="506.09999999999997" y2="243.84" stroke="#000" stroke-width="1"/><text x="524.2" y="252.14" class="cb" text-anchor="middle">174</text><line x1="503.59999999999997" y1="294.60" x2="506.09999999999997" y2="294.60" stroke="#000" stroke-width="1"/><text x="524.2" y="302.90" class="cb" text-anchor="middle">195</text><line x1="503.59999999999997" y1="345.36" x2="506.09999999999997" y2="345.36" stroke="#000" stroke-width="1"/><text x="524.2" y="353.66" class="cb" text-anchor="middle">216</text><line x1="503.59999999999997" y1="396.12" x2="506.09999999999997" y2="396.12" stroke="#000" stroke-width="1"/><text x="524.2" y="404.42" class="cb" text-anchor="middle">237</text><line x1="503.59999999999997" y1="446.88" x2="506.09999999999997" y2="446.88" stroke="#000" stroke-width="1"/><text x="524.2" y="455.18" class="cb" text-anchor="middle">258</text><line x1="503.59999999999997" y1="497.64" x2="506.09999999999997" y2="497.64" stroke="#000" stroke-width="1"/><text x="524.2" y="505.94" class="cb" text-anchor="middle">279</text><line x1="503.59999999999997" y1="548.40" x2="506.09999999999997" y2="548.40" stroke="#000" stroke-width="1"/><text x="524.2" y="556.70" class="cb" text-anchor="middle">300</text></g>
<defs><linearGradient id="ge" gradientUnits="userSpaceOnUse" x1="700" y1="1100" x2="850" y2="900"><stop offset="0" stop-color="#80dc80"/><stop offset="0.55" stop-color="#76d176"/><stop offset="1" stop-color="#6cc66c"/></linearGradient></defs><g clip-path="url(#clipe)"><rect x="602" y="770" width="476" height="370" fill="url(#ge)"/><path d="M750.4 889.6h4.6v4.6h-4.6zM759.6 889.6h4.6v4.6h-4.6zM748.1 894.2h4.6v4.6h-4.6zM757.3 894.2h4.6v4.6h-4.6zM768.8 898.8h4.6v4.6h-4.6zM773.4 898.8h4.6v4.6h-4.6zM766.5 903.4h4.6v4.6h-4.6zM775.7 903.4h4.6v4.6h-4.6zM780.3 903.4h4.6v4.6h-4.6zM768.8 908.0h4.6v4.6h-4.6zM773.4 908.0h4.6v4.6h-4.6zM778.0 908.0h4.6v4.6h-4.6zM784.9 912.6h4.6v4.6h-4.6zM794.1 912.6h4.6v4.6h-4.6zM791.8 917.2h4.6v4.6h-4.6zM794.1 921.8h4.6v4.6h-4.6zM791.8 926.4h4.6v4.6h-4.6zM796.4 926.4h4.6v4.6h-4.6zM805.6 926.4h4.6v4.6h-4.6zM794.1 931.0h4.6v4.6h-4.6zM807.9 931.0h4.6v4.6h-4.6zM812.5 931.0h4.6v4.6h-4.6zM810.2 935.6h4.6v4.6h-4.6zM821.7 940.2h4.6v4.6h-4.6zM826.3 940.2h4.6v4.6h-4.6zM837.8 944.8h4.6v4.6h-4.6zM840.1 949.4h4.6v4.6h-4.6zM819.4 954.0h4.6v4.6h-4.6zM824.0 954.0h4.6v4.6h-4.6zM828.6 954.0h4.6v4.6h-4.6zM833.2 954.0h4.6v4.6h-4.6zM837.8 954.0h4.6v4.6h-4.6zM835.5 958.6h4.6v4.6h-4.6zM837.8 963.2h4.6v4.6h-4.6zM847.0 963.2h4.6v4.6h-4.6zM863.1 986.2h4.6v4.6h-4.6zM865.4 990.8h4.6v4.6h-4.6zM842.4 1000.0h4.6v4.6h-4.6zM856.2 1000.0h4.6v4.6h-4.6zM860.8 1000.0h4.6v4.6h-4.6zM865.4 1000.0h4.6v4.6h-4.6zM844.7 1004.6h4.6v4.6h-4.6zM858.5 1004.6h4.6v4.6h-4.6zM842.4 1009.2h4.6v4.6h-4.6zM847.0 1009.2h4.6v4.6h-4.6zM856.2 1009.2h4.6v4.6h-4.6zM870.0 1009.2h4.6v4.6h-4.6zM879.2 1009.2h4.6v4.6h-4.6zM888.4 1009.2h4.6v4.6h-4.6zM835.5 1013.8h4.6v4.6h-4.6zM840.1 1013.8h4.6v4.6h-4.6zM844.7 1013.8h4.6v4.6h-4.6zM849.3 1013.8h4.6v4.6h-4.6zM853.9 1013.8h4.6v4.6h-4.6zM858.5 1013.8h4.6v4.6h-4.6zM863.1 1013.8h4.6v4.6h-4.6zM867.7 1013.8h4.6v4.6h-4.6zM872.3 1013.8h4.6v4.6h-4.6zM890.7 1013.8h4.6v4.6h-4.6zM909.1 1013.8h4.6v4.6h-4.6zM782.6 1018.4h4.6v4.6h-4.6zM796.4 1018.4h4.6v4.6h-4.6zM805.6 1018.4h4.6v4.6h-4.6zM814.8 1018.4h4.6v4.6h-4.6zM828.6 1018.4h4.6v4.6h-4.6zM833.2 1018.4h4.6v4.6h-4.6zM837.8 1018.4h4.6v4.6h-4.6zM856.2 1018.4h4.6v4.6h-4.6zM865.4 1018.4h4.6v4.6h-4.6zM870.0 1018.4h4.6v4.6h-4.6zM874.6 1018.4h4.6v4.6h-4.6zM893.0 1018.4h4.6v4.6h-4.6zM906.8 1018.4h4.6v4.6h-4.6zM911.4 1018.4h4.6v4.6h-4.6zM780.3 1023.0h4.6v4.6h-4.6zM789.5 1023.0h4.6v4.6h-4.6zM807.9 1023.0h4.6v4.6h-4.6zM821.7 1023.0h4.6v4.6h-4.6zM826.3 1023.0h4.6v4.6h-4.6zM830.9 1023.0h4.6v4.6h-4.6zM835.5 1023.0h4.6v4.6h-4.6zM844.7 1023.0h4.6v4.6h-4.6zM867.7 1023.0h4.6v4.6h-4.6zM913.7 1023.0h4.6v4.6h-4.6zM918.3 1023.0h4.6v4.6h-4.6zM922.9 1023.0h4.6v4.6h-4.6zM755.0 1027.6h4.6v4.6h-4.6zM773.4 1027.6h4.6v4.6h-4.6zM778.0 1027.6h4.6v4.6h-4.6zM782.6 1027.6h4.6v4.6h-4.6zM796.4 1027.6h4.6v4.6h-4.6zM801.0 1027.6h4.6v4.6h-4.6zM814.8 1027.6h4.6v4.6h-4.6zM819.4 1027.6h4.6v4.6h-4.6zM824.0 1027.6h4.6v4.6h-4.6zM828.6 1027.6h4.6v4.6h-4.6zM842.4 1027.6h4.6v4.6h-4.6zM847.0 1027.6h4.6v4.6h-4.6zM856.2 1027.6h4.6v4.6h-4.6zM865.4 1027.6h4.6v4.6h-4.6zM870.0 1027.6h4.6v4.6h-4.6zM925.2 1027.6h4.6v4.6h-4.6zM752.7 1032.2h4.6v4.6h-4.6zM757.3 1032.2h4.6v4.6h-4.6zM761.9 1032.2h4.6v4.6h-4.6zM798.7 1032.2h4.6v4.6h-4.6zM807.9 1032.2h4.6v4.6h-4.6zM812.5 1032.2h4.6v4.6h-4.6zM858.5 1032.2h4.6v4.6h-4.6zM918.3 1032.2h4.6v4.6h-4.6zM932.1 1032.2h4.6v4.6h-4.6zM732.0 1036.8h4.6v4.6h-4.6zM755.0 1036.8h4.6v4.6h-4.6zM787.2 1036.8h4.6v4.6h-4.6zM791.8 1036.8h4.6v4.6h-4.6zM796.4 1036.8h4.6v4.6h-4.6zM801.0 1036.8h4.6v4.6h-4.6zM819.4 1036.8h4.6v4.6h-4.6zM824.0 1036.8h4.6v4.6h-4.6zM828.6 1036.8h4.6v4.6h-4.6zM837.8 1036.8h4.6v4.6h-4.6zM842.4 1036.8h4.6v4.6h-4.6zM856.2 1036.8h4.6v4.6h-4.6zM865.4 1036.8h4.6v4.6h-4.6zM906.8 1036.8h4.6v4.6h-4.6zM916.0 1036.8h4.6v4.6h-4.6zM925.2 1036.8h4.6v4.6h-4.6zM929.8 1036.8h4.6v4.6h-4.6zM683.7 1041.4h4.6v4.6h-4.6zM688.3 1041.4h4.6v4.6h-4.6zM711.3 1041.4h4.6v4.6h-4.6zM725.1 1041.4h4.6v4.6h-4.6zM734.3 1041.4h4.6v4.6h-4.6zM738.9 1041.4h4.6v4.6h-4.6zM784.9 1041.4h4.6v4.6h-4.6zM798.7 1041.4h4.6v4.6h-4.6zM803.3 1041.4h4.6v4.6h-4.6zM812.5 1041.4h4.6v4.6h-4.6zM835.5 1041.4h4.6v4.6h-4.6zM844.7 1041.4h4.6v4.6h-4.6zM886.1 1041.4h4.6v4.6h-4.6zM890.7 1041.4h4.6v4.6h-4.6zM895.3 1041.4h4.6v4.6h-4.6zM899.9 1041.4h4.6v4.6h-4.6zM918.3 1041.4h4.6v4.6h-4.6zM922.9 1041.4h4.6v4.6h-4.6zM676.8 1046.0h4.6v4.6h-4.6zM722.8 1046.0h4.6v4.6h-4.6zM745.8 1046.0h4.6v4.6h-4.6zM764.2 1046.0h4.6v4.6h-4.6zM773.4 1046.0h4.6v4.6h-4.6zM778.0 1046.0h4.6v4.6h-4.6zM801.0 1046.0h4.6v4.6h-4.6zM814.8 1046.0h4.6v4.6h-4.6zM824.0 1046.0h4.6v4.6h-4.6zM865.4 1046.0h4.6v4.6h-4.6zM883.8 1046.0h4.6v4.6h-4.6zM911.4 1046.0h4.6v4.6h-4.6zM646.9 1050.6h4.6v4.6h-4.6zM669.9 1050.6h4.6v4.6h-4.6zM683.7 1050.6h4.6v4.6h-4.6zM702.1 1050.6h4.6v4.6h-4.6zM706.7 1050.6h4.6v4.6h-4.6zM711.3 1050.6h4.6v4.6h-4.6zM715.9 1050.6h4.6v4.6h-4.6zM720.5 1050.6h4.6v4.6h-4.6zM725.1 1050.6h4.6v4.6h-4.6zM743.5 1050.6h4.6v4.6h-4.6zM771.1 1050.6h4.6v4.6h-4.6zM784.9 1050.6h4.6v4.6h-4.6zM817.1 1050.6h4.6v4.6h-4.6zM821.7 1050.6h4.6v4.6h-4.6zM635.4 1055.2h4.6v4.6h-4.6zM653.8 1055.2h4.6v4.6h-4.6zM681.4 1055.2h4.6v4.6h-4.6zM695.2 1055.2h4.6v4.6h-4.6zM718.2 1055.2h4.6v4.6h-4.6zM741.2 1055.2h4.6v4.6h-4.6zM759.6 1055.2h4.6v4.6h-4.6zM764.2 1055.2h4.6v4.6h-4.6zM782.6 1055.2h4.6v4.6h-4.6zM860.8 1055.2h4.6v4.6h-4.6zM605.5 1059.8h4.6v4.6h-4.6zM623.9 1059.8h4.6v4.6h-4.6zM628.5 1059.8h4.6v4.6h-4.6zM642.3 1059.8h4.6v4.6h-4.6zM646.9 1059.8h4.6v4.6h-4.6zM715.9 1059.8h4.6v4.6h-4.6zM734.3 1059.8h4.6v4.6h-4.6zM738.9 1059.8h4.6v4.6h-4.6zM743.5 1059.8h4.6v4.6h-4.6zM761.9 1059.8h4.6v4.6h-4.6zM766.5 1059.8h4.6v4.6h-4.6zM780.3 1059.8h4.6v4.6h-4.6zM789.5 1059.8h4.6v4.6h-4.6zM803.3 1059.8h4.6v4.6h-4.6zM817.1 1059.8h4.6v4.6h-4.6zM621.6 1064.4h4.6v4.6h-4.6zM626.2 1064.4h4.6v4.6h-4.6zM630.8 1064.4h4.6v4.6h-4.6zM635.4 1064.4h4.6v4.6h-4.6zM640.0 1064.4h4.6v4.6h-4.6zM653.8 1064.4h4.6v4.6h-4.6zM676.8 1064.4h4.6v4.6h-4.6zM681.4 1064.4h4.6v4.6h-4.6zM686.0 1064.4h4.6v4.6h-4.6zM695.2 1064.4h4.6v4.6h-4.6zM699.8 1064.4h4.6v4.6h-4.6zM718.2 1064.4h4.6v4.6h-4.6zM722.8 1064.4h4.6v4.6h-4.6zM727.4 1064.4h4.6v4.6h-4.6zM732.0 1064.4h4.6v4.6h-4.6zM741.2 1064.4h4.6v4.6h-4.6zM745.8 1064.4h4.6v4.6h-4.6zM750.4 1064.4h4.6v4.6h-4.6zM755.0 1064.4h4.6v4.6h-4.6zM764.2 1064.4h4.6v4.6h-4.6zM768.8 1064.4h4.6v4.6h-4.6zM791.8 1064.4h4.6v4.6h-4.6zM805.6 1064.4h4.6v4.6h-4.6zM605.5 1069.0h4.6v4.6h-4.6zM614.7 1069.0h4.6v4.6h-4.6zM619.3 1069.0h4.6v4.6h-4.6zM628.5 1069.0h4.6v4.6h-4.6zM642.3 1069.0h4.6v4.6h-4.6zM665.3 1069.0h4.6v4.6h-4.6zM683.7 1069.0h4.6v4.6h-4.6zM688.3 1069.0h4.6v4.6h-4.6zM706.7 1069.0h4.6v4.6h-4.6zM715.9 1069.0h4.6v4.6h-4.6zM720.5 1069.0h4.6v4.6h-4.6zM725.1 1069.0h4.6v4.6h-4.6zM729.7 1069.0h4.6v4.6h-4.6zM738.9 1069.0h4.6v4.6h-4.6zM757.3 1069.0h4.6v4.6h-4.6zM987.3 1069.0h4.6v4.6h-4.6zM991.9 1069.0h4.6v4.6h-4.6zM996.5 1069.0h4.6v4.6h-4.6zM617.0 1073.6h4.6v4.6h-4.6zM621.6 1073.6h4.6v4.6h-4.6zM626.2 1073.6h4.6v4.6h-4.6zM658.4 1073.6h4.6v4.6h-4.6zM667.6 1073.6h4.6v4.6h-4.6zM695.2 1073.6h4.6v4.6h-4.6zM699.8 1073.6h4.6v4.6h-4.6zM704.4 1073.6h4.6v4.6h-4.6zM709.0 1073.6h4.6v4.6h-4.6zM718.2 1073.6h4.6v4.6h-4.6zM722.8 1073.6h4.6v4.6h-4.6zM750.4 1073.6h4.6v4.6h-4.6zM755.0 1073.6h4.6v4.6h-4.6zM759.6 1073.6h4.6v4.6h-4.6zM791.8 1073.6h4.6v4.6h-4.6zM865.4 1073.6h4.6v4.6h-4.6zM989.6 1073.6h4.6v4.6h-4.6zM600.9 1078.2h4.6v4.6h-4.6zM623.9 1078.2h4.6v4.6h-4.6zM628.5 1078.2h4.6v4.6h-4.6zM656.1 1078.2h4.6v4.6h-4.6zM660.7 1078.2h4.6v4.6h-4.6zM669.9 1078.2h4.6v4.6h-4.6zM674.5 1078.2h4.6v4.6h-4.6zM688.3 1078.2h4.6v4.6h-4.6zM715.9 1078.2h4.6v4.6h-4.6zM748.1 1078.2h4.6v4.6h-4.6zM761.9 1078.2h4.6v4.6h-4.6zM775.7 1078.2h4.6v4.6h-4.6zM784.9 1078.2h4.6v4.6h-4.6zM987.3 1078.2h4.6v4.6h-4.6zM598.6 1082.8h4.6v4.6h-4.6zM603.2 1082.8h4.6v4.6h-4.6zM612.4 1082.8h4.6v4.6h-4.6zM617.0 1082.8h4.6v4.6h-4.6zM630.8 1082.8h4.6v4.6h-4.6zM653.8 1082.8h4.6v4.6h-4.6zM663.0 1082.8h4.6v4.6h-4.6zM667.6 1082.8h4.6v4.6h-4.6zM672.2 1082.8h4.6v4.6h-4.6zM713.6 1082.8h4.6v4.6h-4.6zM727.4 1082.8h4.6v4.6h-4.6zM741.2 1082.8h4.6v4.6h-4.6zM750.4 1082.8h4.6v4.6h-4.6zM755.0 1082.8h4.6v4.6h-4.6zM764.2 1082.8h4.6v4.6h-4.6zM768.8 1082.8h4.6v4.6h-4.6zM773.4 1082.8h4.6v4.6h-4.6zM805.6 1082.8h4.6v4.6h-4.6zM824.0 1082.8h4.6v4.6h-4.6zM860.8 1082.8h4.6v4.6h-4.6zM865.4 1082.8h4.6v4.6h-4.6zM985.0 1082.8h4.6v4.6h-4.6zM989.6 1082.8h4.6v4.6h-4.6zM994.2 1082.8h4.6v4.6h-4.6zM600.9 1087.4h4.6v4.6h-4.6zM628.5 1087.4h4.6v4.6h-4.6zM669.9 1087.4h4.6v4.6h-4.6zM706.7 1087.4h4.6v4.6h-4.6zM720.5 1087.4h4.6v4.6h-4.6zM729.7 1087.4h4.6v4.6h-4.6zM743.5 1087.4h4.6v4.6h-4.6zM748.1 1087.4h4.6v4.6h-4.6zM752.7 1087.4h4.6v4.6h-4.6zM775.7 1087.4h4.6v4.6h-4.6zM821.7 1087.4h4.6v4.6h-4.6zM844.7 1087.4h4.6v4.6h-4.6zM991.9 1087.4h4.6v4.6h-4.6zM607.8 1092.0h4.6v4.6h-4.6zM626.2 1092.0h4.6v4.6h-4.6zM630.8 1092.0h4.6v4.6h-4.6zM718.2 1092.0h4.6v4.6h-4.6zM741.2 1092.0h4.6v4.6h-4.6zM814.8 1092.0h4.6v4.6h-4.6zM819.4 1092.0h4.6v4.6h-4.6zM842.4 1092.0h4.6v4.6h-4.6zM847.0 1092.0h4.6v4.6h-4.6zM860.8 1092.0h4.6v4.6h-4.6zM994.2 1092.0h4.6v4.6h-4.6zM998.8 1092.0h4.6v4.6h-4.6zM1026.4 1092.0h4.6v4.6h-4.6zM605.5 1096.6h4.6v4.6h-4.6zM614.7 1096.6h4.6v4.6h-4.6zM628.5 1096.6h4.6v4.6h-4.6zM725.1 1096.6h4.6v4.6h-4.6zM729.7 1096.6h4.6v4.6h-4.6zM738.9 1096.6h4.6v4.6h-4.6zM743.5 1096.6h4.6v4.6h-4.6zM766.5 1096.6h4.6v4.6h-4.6zM996.5 1096.6h4.6v4.6h-4.6zM1024.1 1096.6h4.6v4.6h-4.6zM607.8 1101.2h4.6v4.6h-4.6zM612.4 1101.2h4.6v4.6h-4.6zM617.0 1101.2h4.6v4.6h-4.6zM741.2 1101.2h4.6v4.6h-4.6zM755.0 1101.2h4.6v4.6h-4.6zM759.6 1101.2h4.6v4.6h-4.6zM764.2 1101.2h4.6v4.6h-4.6zM773.4 1101.2h4.6v4.6h-4.6zM1003.4 1101.2h4.6v4.6h-4.6zM1021.8 1101.2h4.6v4.6h-4.6zM1026.4 1101.2h4.6v4.6h-4.6zM610.1 1105.8h4.6v4.6h-4.6zM614.7 1105.8h4.6v4.6h-4.6zM619.3 1105.8h4.6v4.6h-4.6zM729.7 1105.8h4.6v4.6h-4.6zM738.9 1105.8h4.6v4.6h-4.6zM743.5 1105.8h4.6v4.6h-4.6zM748.1 1105.8h4.6v4.6h-4.6zM761.9 1105.8h4.6v4.6h-4.6zM766.5 1105.8h4.6v4.6h-4.6zM771.1 1105.8h4.6v4.6h-4.6zM803.3 1105.8h4.6v4.6h-4.6zM996.5 1105.8h4.6v4.6h-4.6zM1005.7 1105.8h4.6v4.6h-4.6zM1010.3 1105.8h4.6v4.6h-4.6zM1014.9 1105.8h4.6v4.6h-4.6zM1024.1 1105.8h4.6v4.6h-4.6zM732.0 1110.4h4.6v4.6h-4.6zM736.6 1110.4h4.6v4.6h-4.6zM741.2 1110.4h4.6v4.6h-4.6zM750.4 1110.4h4.6v4.6h-4.6zM759.6 1110.4h4.6v4.6h-4.6zM764.2 1110.4h4.6v4.6h-4.6zM796.4 1110.4h4.6v4.6h-4.6zM801.0 1110.4h4.6v4.6h-4.6zM1003.4 1110.4h4.6v4.6h-4.6zM1012.6 1110.4h4.6v4.6h-4.6zM1017.2 1110.4h4.6v4.6h-4.6zM1021.8 1110.4h4.6v4.6h-4.6zM715.9 1115.0h4.6v4.6h-4.6zM725.1 1115.0h4.6v4.6h-4.6zM734.3 1115.0h4.6v4.6h-4.6zM748.1 1115.0h4.6v4.6h-4.6zM761.9 1115.0h4.6v4.6h-4.6zM771.1 1115.0h4.6v4.6h-4.6zM1014.9 1115.0h4.6v4.6h-4.6zM1024.1 1115.0h4.6v4.6h-4.6zM718.2 1119.6h4.6v4.6h-4.6zM727.4 1119.6h4.6v4.6h-4.6zM791.8 1119.6h4.6v4.6h-4.6zM1012.6 1119.6h4.6v4.6h-4.6zM1017.2 1119.6h4.6v4.6h-4.6zM715.9 1124.2h4.6v4.6h-4.6zM720.5 1124.2h4.6v4.6h-4.6zM734.3 1124.2h4.6v4.6h-4.6zM748.1 1124.2h4.6v4.6h-4.6zM1005.7 1124.2h4.6v4.6h-4.6zM1019.5 1124.2h4.6v4.6h-4.6zM1024.1 1124.2h4.6v4.6h-4.6zM704.4 1128.8h4.6v4.6h-4.6zM709.0 1128.8h4.6v4.6h-4.6zM718.2 1128.8h4.6v4.6h-4.6zM732.0 1128.8h4.6v4.6h-4.6zM736.6 1128.8h4.6v4.6h-4.6zM745.8 1128.8h4.6v4.6h-4.6zM1012.6 1128.8h4.6v4.6h-4.6zM1026.4 1128.8h4.6v4.6h-4.6zM1035.6 1128.8h4.6v4.6h-4.6zM1049.4 1128.8h4.6v4.6h-4.6zM1054.0 1128.8h4.6v4.6h-4.6zM692.9 1133.4h4.6v4.6h-4.6zM706.7 1133.4h4.6v4.6h-4.6zM711.3 1133.4h4.6v4.6h-4.6zM715.9 1133.4h4.6v4.6h-4.6zM729.7 1133.4h4.6v4.6h-4.6zM734.3 1133.4h4.6v4.6h-4.6zM748.1 1133.4h4.6v4.6h-4.6zM752.7 1133.4h4.6v4.6h-4.6zM1024.1 1133.4h4.6v4.6h-4.6zM1056.3 1133.4h4.6v4.6h-4.6zM686.0 1138.0h4.6v4.6h-4.6zM690.6 1138.0h4.6v4.6h-4.6zM695.2 1138.0h4.6v4.6h-4.6zM699.8 1138.0h4.6v4.6h-4.6zM704.4 1138.0h4.6v4.6h-4.6zM709.0 1138.0h4.6v4.6h-4.6zM727.4 1138.0h4.6v4.6h-4.6zM736.6 1138.0h4.6v4.6h-4.6z" fill="#ccd6ff"/><path d="M755.0 889.6h4.6v4.6h-4.6zM759.6 898.8h4.6v4.6h-4.6zM764.2 898.8h4.6v4.6h-4.6zM771.1 903.4h4.6v4.6h-4.6zM775.7 912.6h4.6v4.6h-4.6zM780.3 912.6h4.6v4.6h-4.6zM782.6 917.2h4.6v4.6h-4.6zM787.2 917.2h4.6v4.6h-4.6zM798.7 921.8h4.6v4.6h-4.6zM801.0 926.4h4.6v4.6h-4.6zM803.3 931.0h4.6v4.6h-4.6zM805.6 935.6h4.6v4.6h-4.6zM814.8 935.6h4.6v4.6h-4.6zM819.4 935.6h4.6v4.6h-4.6zM812.5 940.2h4.6v4.6h-4.6zM817.1 940.2h4.6v4.6h-4.6zM819.4 944.8h4.6v4.6h-4.6zM833.2 944.8h4.6v4.6h-4.6zM817.1 949.4h4.6v4.6h-4.6zM821.7 949.4h4.6v4.6h-4.6zM826.3 949.4h4.6v4.6h-4.6zM835.5 949.4h4.6v4.6h-4.6zM842.4 954.0h4.6v4.6h-4.6zM840.1 958.6h4.6v4.6h-4.6zM844.7 958.6h4.6v4.6h-4.6zM847.0 1000.0h4.6v4.6h-4.6zM851.6 1000.0h4.6v4.6h-4.6zM853.9 1004.6h4.6v4.6h-4.6zM851.6 1009.2h4.6v4.6h-4.6zM842.4 1018.4h4.6v4.6h-4.6zM847.0 1018.4h4.6v4.6h-4.6zM860.8 1018.4h4.6v4.6h-4.6zM888.4 1018.4h4.6v4.6h-4.6zM897.6 1018.4h4.6v4.6h-4.6zM902.2 1018.4h4.6v4.6h-4.6zM817.1 1023.0h4.6v4.6h-4.6zM849.3 1023.0h4.6v4.6h-4.6zM858.5 1023.0h4.6v4.6h-4.6zM863.1 1023.0h4.6v4.6h-4.6zM881.5 1023.0h4.6v4.6h-4.6zM886.1 1023.0h4.6v4.6h-4.6zM904.5 1023.0h4.6v4.6h-4.6zM909.1 1023.0h4.6v4.6h-4.6zM791.8 1027.6h4.6v4.6h-4.6zM805.6 1027.6h4.6v4.6h-4.6zM810.2 1027.6h4.6v4.6h-4.6zM833.2 1027.6h4.6v4.6h-4.6zM837.8 1027.6h4.6v4.6h-4.6zM851.6 1027.6h4.6v4.6h-4.6zM860.8 1027.6h4.6v4.6h-4.6zM874.6 1027.6h4.6v4.6h-4.6zM906.8 1027.6h4.6v4.6h-4.6zM920.6 1027.6h4.6v4.6h-4.6zM780.3 1032.2h4.6v4.6h-4.6zM789.5 1032.2h4.6v4.6h-4.6zM794.1 1032.2h4.6v4.6h-4.6zM803.3 1032.2h4.6v4.6h-4.6zM844.7 1032.2h4.6v4.6h-4.6zM853.9 1032.2h4.6v4.6h-4.6zM863.1 1032.2h4.6v4.6h-4.6zM867.7 1032.2h4.6v4.6h-4.6zM909.1 1032.2h4.6v4.6h-4.6zM913.7 1032.2h4.6v4.6h-4.6zM764.2 1036.8h4.6v4.6h-4.6zM778.0 1036.8h4.6v4.6h-4.6zM782.6 1036.8h4.6v4.6h-4.6zM810.2 1036.8h4.6v4.6h-4.6zM814.8 1036.8h4.6v4.6h-4.6zM860.8 1036.8h4.6v4.6h-4.6zM870.0 1036.8h4.6v4.6h-4.6zM883.8 1036.8h4.6v4.6h-4.6zM893.0 1036.8h4.6v4.6h-4.6zM902.2 1036.8h4.6v4.6h-4.6zM911.4 1036.8h4.6v4.6h-4.6zM757.3 1041.4h4.6v4.6h-4.6zM761.9 1041.4h4.6v4.6h-4.6zM766.5 1041.4h4.6v4.6h-4.6zM775.7 1041.4h4.6v4.6h-4.6zM780.3 1041.4h4.6v4.6h-4.6zM794.1 1041.4h4.6v4.6h-4.6zM872.3 1041.4h4.6v4.6h-4.6zM876.9 1041.4h4.6v4.6h-4.6zM881.5 1041.4h4.6v4.6h-4.6zM713.6 1046.0h4.6v4.6h-4.6zM732.0 1046.0h4.6v4.6h-4.6zM750.4 1046.0h4.6v4.6h-4.6zM755.0 1046.0h4.6v4.6h-4.6zM759.6 1046.0h4.6v4.6h-4.6zM782.6 1046.0h4.6v4.6h-4.6zM796.4 1046.0h4.6v4.6h-4.6zM805.6 1046.0h4.6v4.6h-4.6zM660.7 1050.6h4.6v4.6h-4.6zM665.3 1050.6h4.6v4.6h-4.6zM674.5 1050.6h4.6v4.6h-4.6zM692.9 1050.6h4.6v4.6h-4.6zM729.7 1050.6h4.6v4.6h-4.6zM734.3 1050.6h4.6v4.6h-4.6zM738.9 1050.6h4.6v4.6h-4.6zM748.1 1050.6h4.6v4.6h-4.6zM752.7 1050.6h4.6v4.6h-4.6zM757.3 1050.6h4.6v4.6h-4.6zM761.9 1050.6h4.6v4.6h-4.6zM789.5 1050.6h4.6v4.6h-4.6zM794.1 1050.6h4.6v4.6h-4.6zM863.1 1050.6h4.6v4.6h-4.6zM658.4 1055.2h4.6v4.6h-4.6zM667.6 1055.2h4.6v4.6h-4.6zM676.8 1055.2h4.6v4.6h-4.6zM713.6 1055.2h4.6v4.6h-4.6zM722.8 1055.2h4.6v4.6h-4.6zM727.4 1055.2h4.6v4.6h-4.6zM732.0 1055.2h4.6v4.6h-4.6zM736.6 1055.2h4.6v4.6h-4.6zM791.8 1055.2h4.6v4.6h-4.6zM633.1 1059.8h4.6v4.6h-4.6zM656.1 1059.8h4.6v4.6h-4.6zM674.5 1059.8h4.6v4.6h-4.6zM697.5 1059.8h4.6v4.6h-4.6zM720.5 1059.8h4.6v4.6h-4.6zM725.1 1059.8h4.6v4.6h-4.6zM729.7 1059.8h4.6v4.6h-4.6zM794.1 1059.8h4.6v4.6h-4.6zM798.7 1059.8h4.6v4.6h-4.6zM807.9 1059.8h4.6v4.6h-4.6zM812.5 1059.8h4.6v4.6h-4.6zM644.6 1064.4h4.6v4.6h-4.6zM658.4 1064.4h4.6v4.6h-4.6zM672.2 1064.4h4.6v4.6h-4.6zM709.0 1064.4h4.6v4.6h-4.6zM713.6 1064.4h4.6v4.6h-4.6zM736.6 1064.4h4.6v4.6h-4.6zM610.1 1069.0h4.6v4.6h-4.6zM623.9 1069.0h4.6v4.6h-4.6zM633.1 1069.0h4.6v4.6h-4.6zM637.7 1069.0h4.6v4.6h-4.6zM646.9 1069.0h4.6v4.6h-4.6zM674.5 1069.0h4.6v4.6h-4.6zM702.1 1069.0h4.6v4.6h-4.6zM752.7 1069.0h4.6v4.6h-4.6zM761.9 1069.0h4.6v4.6h-4.6zM598.6 1073.6h4.6v4.6h-4.6zM603.2 1073.6h4.6v4.6h-4.6zM649.2 1073.6h4.6v4.6h-4.6zM663.0 1073.6h4.6v4.6h-4.6zM672.2 1073.6h4.6v4.6h-4.6zM681.4 1073.6h4.6v4.6h-4.6zM686.0 1073.6h4.6v4.6h-4.6zM690.6 1073.6h4.6v4.6h-4.6zM713.6 1073.6h4.6v4.6h-4.6zM741.2 1073.6h4.6v4.6h-4.6zM745.8 1073.6h4.6v4.6h-4.6zM994.2 1073.6h4.6v4.6h-4.6zM614.7 1078.2h4.6v4.6h-4.6zM619.3 1078.2h4.6v4.6h-4.6zM633.1 1078.2h4.6v4.6h-4.6zM637.7 1078.2h4.6v4.6h-4.6zM642.3 1078.2h4.6v4.6h-4.6zM665.3 1078.2h4.6v4.6h-4.6zM679.1 1078.2h4.6v4.6h-4.6zM683.7 1078.2h4.6v4.6h-4.6zM692.9 1078.2h4.6v4.6h-4.6zM706.7 1078.2h4.6v4.6h-4.6zM711.3 1078.2h4.6v4.6h-4.6zM725.1 1078.2h4.6v4.6h-4.6zM743.5 1078.2h4.6v4.6h-4.6zM996.5 1078.2h4.6v4.6h-4.6zM607.8 1082.8h4.6v4.6h-4.6zM635.4 1082.8h4.6v4.6h-4.6zM640.0 1082.8h4.6v4.6h-4.6zM644.6 1082.8h4.6v4.6h-4.6zM649.2 1082.8h4.6v4.6h-4.6zM676.8 1082.8h4.6v4.6h-4.6zM695.2 1082.8h4.6v4.6h-4.6zM699.8 1082.8h4.6v4.6h-4.6zM704.4 1082.8h4.6v4.6h-4.6zM709.0 1082.8h4.6v4.6h-4.6zM718.2 1082.8h4.6v4.6h-4.6zM722.8 1082.8h4.6v4.6h-4.6zM732.0 1082.8h4.6v4.6h-4.6zM736.6 1082.8h4.6v4.6h-4.6zM745.8 1082.8h4.6v4.6h-4.6zM814.8 1082.8h4.6v4.6h-4.6zM819.4 1082.8h4.6v4.6h-4.6zM633.1 1087.4h4.6v4.6h-4.6zM646.9 1087.4h4.6v4.6h-4.6zM656.1 1087.4h4.6v4.6h-4.6zM660.7 1087.4h4.6v4.6h-4.6zM674.5 1087.4h4.6v4.6h-4.6zM715.9 1087.4h4.6v4.6h-4.6zM725.1 1087.4h4.6v4.6h-4.6zM807.9 1087.4h4.6v4.6h-4.6zM817.1 1087.4h4.6v4.6h-4.6zM996.5 1087.4h4.6v4.6h-4.6zM635.4 1092.0h4.6v4.6h-4.6zM644.6 1092.0h4.6v4.6h-4.6zM649.2 1092.0h4.6v4.6h-4.6zM653.8 1092.0h4.6v4.6h-4.6zM663.0 1092.0h4.6v4.6h-4.6zM667.6 1092.0h4.6v4.6h-4.6zM709.0 1092.0h4.6v4.6h-4.6zM713.6 1092.0h4.6v4.6h-4.6zM722.8 1092.0h4.6v4.6h-4.6zM727.4 1092.0h4.6v4.6h-4.6zM810.2 1092.0h4.6v4.6h-4.6zM1021.8 1092.0h4.6v4.6h-4.6zM619.3 1096.6h4.6v4.6h-4.6zM646.9 1096.6h4.6v4.6h-4.6zM651.5 1096.6h4.6v4.6h-4.6zM656.1 1096.6h4.6v4.6h-4.6zM715.9 1096.6h4.6v4.6h-4.6zM720.5 1096.6h4.6v4.6h-4.6zM849.3 1096.6h4.6v4.6h-4.6zM1001.1 1096.6h4.6v4.6h-4.6zM621.6 1101.2h4.6v4.6h-4.6zM626.2 1101.2h4.6v4.6h-4.6zM722.8 1101.2h4.6v4.6h-4.6zM727.4 1101.2h4.6v4.6h-4.6zM732.0 1101.2h4.6v4.6h-4.6zM736.6 1101.2h4.6v4.6h-4.6zM745.8 1101.2h4.6v4.6h-4.6zM750.4 1101.2h4.6v4.6h-4.6zM1008.0 1101.2h4.6v4.6h-4.6zM1012.6 1101.2h4.6v4.6h-4.6zM1017.2 1101.2h4.6v4.6h-4.6zM600.9 1105.8h4.6v4.6h-4.6zM605.5 1105.8h4.6v4.6h-4.6zM623.9 1105.8h4.6v4.6h-4.6zM628.5 1105.8h4.6v4.6h-4.6zM720.5 1105.8h4.6v4.6h-4.6zM725.1 1105.8h4.6v4.6h-4.6zM752.7 1105.8h4.6v4.6h-4.6zM798.7 1105.8h4.6v4.6h-4.6zM1019.5 1105.8h4.6v4.6h-4.6zM617.0 1110.4h4.6v4.6h-4.6zM621.6 1110.4h4.6v4.6h-4.6zM626.2 1110.4h4.6v4.6h-4.6zM635.4 1110.4h4.6v4.6h-4.6zM709.0 1110.4h4.6v4.6h-4.6zM718.2 1110.4h4.6v4.6h-4.6zM722.8 1110.4h4.6v4.6h-4.6zM727.4 1110.4h4.6v4.6h-4.6zM755.0 1110.4h4.6v4.6h-4.6zM623.9 1115.0h4.6v4.6h-4.6zM706.7 1115.0h4.6v4.6h-4.6zM711.3 1115.0h4.6v4.6h-4.6zM794.1 1115.0h4.6v4.6h-4.6zM798.7 1115.0h4.6v4.6h-4.6zM709.0 1119.6h4.6v4.6h-4.6zM713.6 1119.6h4.6v4.6h-4.6zM796.4 1119.6h4.6v4.6h-4.6zM1008.0 1119.6h4.6v4.6h-4.6zM702.1 1124.2h4.6v4.6h-4.6zM706.7 1124.2h4.6v4.6h-4.6zM711.3 1124.2h4.6v4.6h-4.6zM1010.3 1124.2h4.6v4.6h-4.6zM695.2 1128.8h4.6v4.6h-4.6zM699.8 1128.8h4.6v4.6h-4.6zM713.6 1128.8h4.6v4.6h-4.6zM1017.2 1128.8h4.6v4.6h-4.6zM1040.2 1128.8h4.6v4.6h-4.6zM1044.8 1128.8h4.6v4.6h-4.6zM688.3 1133.4h4.6v4.6h-4.6zM697.5 1133.4h4.6v4.6h-4.6zM1028.7 1133.4h4.6v4.6h-4.6zM1051.7 1133.4h4.6v4.6h-4.6zM598.6 1138.0h4.6v4.6h-4.6zM603.2 1138.0h4.6v4.6h-4.6zM681.4 1138.0h4.6v4.6h-4.6zM1031.0 1138.0h4.6v4.6h-4.6zM1049.4 1138.0h4.6v4.6h-4.6z" fill="#aaccff"/><path d="M824.0 944.8h4.6v4.6h-4.6zM828.6 944.8h4.6v4.6h-4.6zM830.9 949.4h4.6v4.6h-4.6zM890.7 1023.0h4.6v4.6h-4.6zM895.3 1023.0h4.6v4.6h-4.6zM899.9 1023.0h4.6v4.6h-4.6zM879.2 1027.6h4.6v4.6h-4.6zM883.8 1027.6h4.6v4.6h-4.6zM888.4 1027.6h4.6v4.6h-4.6zM902.2 1027.6h4.6v4.6h-4.6zM911.4 1027.6h4.6v4.6h-4.6zM916.0 1027.6h4.6v4.6h-4.6zM872.3 1032.2h4.6v4.6h-4.6zM876.9 1032.2h4.6v4.6h-4.6zM899.9 1032.2h4.6v4.6h-4.6zM904.5 1032.2h4.6v4.6h-4.6zM874.6 1036.8h4.6v4.6h-4.6zM879.2 1036.8h4.6v4.6h-4.6zM888.4 1036.8h4.6v4.6h-4.6zM897.6 1036.8h4.6v4.6h-4.6zM812.5 1050.6h4.6v4.6h-4.6zM663.0 1055.2h4.6v4.6h-4.6zM699.8 1055.2h4.6v4.6h-4.6zM704.4 1055.2h4.6v4.6h-4.6zM745.8 1055.2h4.6v4.6h-4.6zM755.0 1055.2h4.6v4.6h-4.6zM814.8 1055.2h4.6v4.6h-4.6zM669.9 1059.8h4.6v4.6h-4.6zM711.3 1059.8h4.6v4.6h-4.6zM748.1 1059.8h4.6v4.6h-4.6zM752.7 1059.8h4.6v4.6h-4.6zM757.3 1059.8h4.6v4.6h-4.6zM663.0 1064.4h4.6v4.6h-4.6zM704.4 1064.4h4.6v4.6h-4.6zM660.7 1069.0h4.6v4.6h-4.6zM734.3 1069.0h4.6v4.6h-4.6zM766.5 1069.0h4.6v4.6h-4.6zM771.1 1069.0h4.6v4.6h-4.6zM612.4 1073.6h4.6v4.6h-4.6zM727.4 1073.6h4.6v4.6h-4.6zM773.4 1073.6h4.6v4.6h-4.6zM998.8 1073.6h4.6v4.6h-4.6zM605.5 1078.2h4.6v4.6h-4.6zM729.7 1078.2h4.6v4.6h-4.6zM766.5 1078.2h4.6v4.6h-4.6zM771.1 1078.2h4.6v4.6h-4.6zM690.6 1082.8h4.6v4.6h-4.6zM810.2 1082.8h4.6v4.6h-4.6zM998.8 1082.8h4.6v4.6h-4.6zM637.7 1087.4h4.6v4.6h-4.6zM642.3 1087.4h4.6v4.6h-4.6zM651.5 1087.4h4.6v4.6h-4.6zM665.3 1087.4h4.6v4.6h-4.6zM683.7 1087.4h4.6v4.6h-4.6zM688.3 1087.4h4.6v4.6h-4.6zM692.9 1087.4h4.6v4.6h-4.6zM697.5 1087.4h4.6v4.6h-4.6zM702.1 1087.4h4.6v4.6h-4.6zM711.3 1087.4h4.6v4.6h-4.6zM812.5 1087.4h4.6v4.6h-4.6zM1019.5 1087.4h4.6v4.6h-4.6zM640.0 1092.0h4.6v4.6h-4.6zM658.4 1092.0h4.6v4.6h-4.6zM672.2 1092.0h4.6v4.6h-4.6zM676.8 1092.0h4.6v4.6h-4.6zM681.4 1092.0h4.6v4.6h-4.6zM686.0 1092.0h4.6v4.6h-4.6zM690.6 1092.0h4.6v4.6h-4.6zM1003.4 1092.0h4.6v4.6h-4.6zM633.1 1096.6h4.6v4.6h-4.6zM660.7 1096.6h4.6v4.6h-4.6zM665.3 1096.6h4.6v4.6h-4.6zM669.9 1096.6h4.6v4.6h-4.6zM711.3 1096.6h4.6v4.6h-4.6zM1005.7 1096.6h4.6v4.6h-4.6zM1019.5 1096.6h4.6v4.6h-4.6zM630.8 1101.2h4.6v4.6h-4.6zM635.4 1101.2h4.6v4.6h-4.6zM644.6 1101.2h4.6v4.6h-4.6zM649.2 1101.2h4.6v4.6h-4.6zM653.8 1101.2h4.6v4.6h-4.6zM658.4 1101.2h4.6v4.6h-4.6zM663.0 1101.2h4.6v4.6h-4.6zM667.6 1101.2h4.6v4.6h-4.6zM718.2 1101.2h4.6v4.6h-4.6zM633.1 1105.8h4.6v4.6h-4.6zM637.7 1105.8h4.6v4.6h-4.6zM642.3 1105.8h4.6v4.6h-4.6zM646.9 1105.8h4.6v4.6h-4.6zM651.5 1105.8h4.6v4.6h-4.6zM656.1 1105.8h4.6v4.6h-4.6zM603.2 1110.4h4.6v4.6h-4.6zM612.4 1110.4h4.6v4.6h-4.6zM630.8 1110.4h4.6v4.6h-4.6zM640.0 1110.4h4.6v4.6h-4.6zM649.2 1110.4h4.6v4.6h-4.6zM704.4 1110.4h4.6v4.6h-4.6zM713.6 1110.4h4.6v4.6h-4.6zM614.7 1115.0h4.6v4.6h-4.6zM619.3 1115.0h4.6v4.6h-4.6zM628.5 1115.0h4.6v4.6h-4.6zM633.1 1115.0h4.6v4.6h-4.6zM637.7 1115.0h4.6v4.6h-4.6zM642.3 1115.0h4.6v4.6h-4.6zM621.6 1119.6h4.6v4.6h-4.6zM630.8 1119.6h4.6v4.6h-4.6zM635.4 1119.6h4.6v4.6h-4.6zM640.0 1119.6h4.6v4.6h-4.6zM644.6 1119.6h4.6v4.6h-4.6zM704.4 1119.6h4.6v4.6h-4.6zM633.1 1124.2h4.6v4.6h-4.6zM637.7 1124.2h4.6v4.6h-4.6zM642.3 1124.2h4.6v4.6h-4.6zM697.5 1124.2h4.6v4.6h-4.6zM1014.9 1124.2h4.6v4.6h-4.6zM635.4 1128.8h4.6v4.6h-4.6zM642.3 1133.4h4.6v4.6h-4.6zM646.9 1133.4h4.6v4.6h-4.6zM683.7 1133.4h4.6v4.6h-4.6zM607.8 1138.0h4.6v4.6h-4.6zM644.6 1138.0h4.6v4.6h-4.6zM649.2 1138.0h4.6v4.6h-4.6zM676.8 1138.0h4.6v4.6h-4.6zM1035.6 1138.0h4.6v4.6h-4.6zM1040.2 1138.0h4.6v4.6h-4.6zM1044.8 1138.0h4.6v4.6h-4.6z" fill="#74acff"/><path d="M709.0 954.0h4.6v4.6h-4.6zM713.6 954.0h4.6v4.6h-4.6zM718.2 954.0h4.6v4.6h-4.6zM722.8 954.0h4.6v4.6h-4.6zM711.3 958.6h4.6v4.6h-4.6zM715.9 958.6h4.6v4.6h-4.6zM725.1 958.6h4.6v4.6h-4.6zM713.6 963.2h4.6v4.6h-4.6zM718.2 963.2h4.6v4.6h-4.6zM722.8 963.2h4.6v4.6h-4.6zM732.0 963.2h4.6v4.6h-4.6zM715.9 967.8h4.6v4.6h-4.6zM720.5 967.8h4.6v4.6h-4.6zM725.1 967.8h4.6v4.6h-4.6zM729.7 967.8h4.6v4.6h-4.6zM718.2 972.4h4.6v4.6h-4.6zM715.9 977.0h4.6v4.6h-4.6zM720.5 977.0h4.6v4.6h-4.6zM725.1 977.0h4.6v4.6h-4.6zM718.2 981.6h4.6v4.6h-4.6zM722.8 981.6h4.6v4.6h-4.6zM727.4 981.6h4.6v4.6h-4.6zM720.5 986.2h4.6v4.6h-4.6zM725.1 986.2h4.6v4.6h-4.6zM718.2 990.8h4.6v4.6h-4.6zM715.9 995.4h4.6v4.6h-4.6zM764.2 1000.0h4.6v4.6h-4.6zM711.3 1004.6h4.6v4.6h-4.6zM720.5 1004.6h4.6v4.6h-4.6zM798.7 1004.6h4.6v4.6h-4.6zM755.0 1009.2h4.6v4.6h-4.6zM759.6 1009.2h4.6v4.6h-4.6zM796.4 1009.2h4.6v4.6h-4.6zM715.9 1013.8h4.6v4.6h-4.6zM738.9 1013.8h4.6v4.6h-4.6zM743.5 1013.8h4.6v4.6h-4.6zM757.3 1013.8h4.6v4.6h-4.6zM709.0 1018.4h4.6v4.6h-4.6zM713.6 1018.4h4.6v4.6h-4.6zM736.6 1018.4h4.6v4.6h-4.6zM741.2 1018.4h4.6v4.6h-4.6zM764.2 1018.4h4.6v4.6h-4.6zM743.5 1023.0h4.6v4.6h-4.6zM757.3 1023.0h4.6v4.6h-4.6zM759.6 1027.6h4.6v4.6h-4.6zM764.2 1027.6h4.6v4.6h-4.6zM768.8 1027.6h4.6v4.6h-4.6zM688.3 1050.6h4.6v4.6h-4.6zM686.0 1055.2h4.6v4.6h-4.6zM690.6 1055.2h4.6v4.6h-4.6zM679.1 1059.8h4.6v4.6h-4.6zM683.7 1059.8h4.6v4.6h-4.6zM688.3 1059.8h4.6v4.6h-4.6zM630.8 1073.6h4.6v4.6h-4.6zM635.4 1073.6h4.6v4.6h-4.6zM640.0 1073.6h4.6v4.6h-4.6zM644.6 1073.6h4.6v4.6h-4.6zM646.9 1078.2h4.6v4.6h-4.6zM651.5 1078.2h4.6v4.6h-4.6z" fill="#9c9c9c"/><path d="M893.0 1027.6h4.6v4.6h-4.6zM897.6 1027.6h4.6v4.6h-4.6zM881.5 1032.2h4.6v4.6h-4.6zM886.1 1032.2h4.6v4.6h-4.6zM890.7 1032.2h4.6v4.6h-4.6zM895.3 1032.2h4.6v4.6h-4.6zM798.7 1050.6h4.6v4.6h-4.6zM803.3 1050.6h4.6v4.6h-4.6zM807.9 1050.6h4.6v4.6h-4.6zM709.0 1055.2h4.6v4.6h-4.6zM750.4 1055.2h4.6v4.6h-4.6zM796.4 1055.2h4.6v4.6h-4.6zM660.7 1059.8h4.6v4.6h-4.6zM665.3 1059.8h4.6v4.6h-4.6zM702.1 1059.8h4.6v4.6h-4.6zM706.7 1059.8h4.6v4.6h-4.6zM667.6 1064.4h4.6v4.6h-4.6zM607.8 1073.6h4.6v4.6h-4.6zM732.0 1073.6h4.6v4.6h-4.6zM736.6 1073.6h4.6v4.6h-4.6zM764.2 1073.6h4.6v4.6h-4.6zM768.8 1073.6h4.6v4.6h-4.6zM1003.4 1073.6h4.6v4.6h-4.6zM610.1 1078.2h4.6v4.6h-4.6zM734.3 1078.2h4.6v4.6h-4.6zM738.9 1078.2h4.6v4.6h-4.6zM681.4 1082.8h4.6v4.6h-4.6zM686.0 1082.8h4.6v4.6h-4.6zM1017.2 1082.8h4.6v4.6h-4.6zM679.1 1087.4h4.6v4.6h-4.6zM1001.1 1087.4h4.6v4.6h-4.6zM699.8 1092.0h4.6v4.6h-4.6zM704.4 1092.0h4.6v4.6h-4.6zM1017.2 1092.0h4.6v4.6h-4.6zM637.7 1096.6h4.6v4.6h-4.6zM642.3 1096.6h4.6v4.6h-4.6zM674.5 1096.6h4.6v4.6h-4.6zM679.1 1096.6h4.6v4.6h-4.6zM683.7 1096.6h4.6v4.6h-4.6zM688.3 1096.6h4.6v4.6h-4.6zM692.9 1096.6h4.6v4.6h-4.6zM702.1 1096.6h4.6v4.6h-4.6zM706.7 1096.6h4.6v4.6h-4.6zM1010.3 1096.6h4.6v4.6h-4.6zM1014.9 1096.6h4.6v4.6h-4.6zM640.0 1101.2h4.6v4.6h-4.6zM672.2 1101.2h4.6v4.6h-4.6zM676.8 1101.2h4.6v4.6h-4.6zM699.8 1101.2h4.6v4.6h-4.6zM704.4 1101.2h4.6v4.6h-4.6zM660.7 1105.8h4.6v4.6h-4.6zM665.3 1105.8h4.6v4.6h-4.6zM702.1 1105.8h4.6v4.6h-4.6zM706.7 1105.8h4.6v4.6h-4.6zM711.3 1105.8h4.6v4.6h-4.6zM715.9 1105.8h4.6v4.6h-4.6zM598.6 1110.4h4.6v4.6h-4.6zM607.8 1110.4h4.6v4.6h-4.6zM644.6 1110.4h4.6v4.6h-4.6zM653.8 1110.4h4.6v4.6h-4.6zM658.4 1110.4h4.6v4.6h-4.6zM610.1 1115.0h4.6v4.6h-4.6zM646.9 1115.0h4.6v4.6h-4.6zM651.5 1115.0h4.6v4.6h-4.6zM702.1 1115.0h4.6v4.6h-4.6zM617.0 1119.6h4.6v4.6h-4.6zM626.2 1119.6h4.6v4.6h-4.6zM649.2 1119.6h4.6v4.6h-4.6zM699.8 1119.6h4.6v4.6h-4.6zM623.9 1124.2h4.6v4.6h-4.6zM628.5 1124.2h4.6v4.6h-4.6zM646.9 1124.2h4.6v4.6h-4.6zM630.8 1128.8h4.6v4.6h-4.6zM640.0 1128.8h4.6v4.6h-4.6zM644.6 1128.8h4.6v4.6h-4.6zM649.2 1128.8h4.6v4.6h-4.6zM653.8 1128.8h4.6v4.6h-4.6zM690.6 1128.8h4.6v4.6h-4.6zM600.9 1133.4h4.6v4.6h-4.6zM633.1 1133.4h4.6v4.6h-4.6zM637.7 1133.4h4.6v4.6h-4.6zM651.5 1133.4h4.6v4.6h-4.6zM656.1 1133.4h4.6v4.6h-4.6zM660.7 1133.4h4.6v4.6h-4.6zM679.1 1133.4h4.6v4.6h-4.6zM1033.3 1133.4h4.6v4.6h-4.6zM612.4 1138.0h4.6v4.6h-4.6zM635.4 1138.0h4.6v4.6h-4.6zM640.0 1138.0h4.6v4.6h-4.6zM653.8 1138.0h4.6v4.6h-4.6zM658.4 1138.0h4.6v4.6h-4.6zM663.0 1138.0h4.6v4.6h-4.6zM667.6 1138.0h4.6v4.6h-4.6zM672.2 1138.0h4.6v4.6h-4.6z" fill="#4a70ff"/><path d="M801.0 1055.2h4.6v4.6h-4.6zM805.6 1055.2h4.6v4.6h-4.6zM810.2 1055.2h4.6v4.6h-4.6zM1001.1 1078.2h4.6v4.6h-4.6zM695.2 1092.0h4.6v4.6h-4.6zM1008.0 1092.0h4.6v4.6h-4.6zM697.5 1096.6h4.6v4.6h-4.6zM681.4 1101.2h4.6v4.6h-4.6zM686.0 1101.2h4.6v4.6h-4.6zM690.6 1101.2h4.6v4.6h-4.6zM695.2 1101.2h4.6v4.6h-4.6zM709.0 1101.2h4.6v4.6h-4.6zM713.6 1101.2h4.6v4.6h-4.6zM669.9 1105.8h4.6v4.6h-4.6zM674.5 1105.8h4.6v4.6h-4.6zM697.5 1105.8h4.6v4.6h-4.6zM663.0 1110.4h4.6v4.6h-4.6zM699.8 1110.4h4.6v4.6h-4.6zM600.9 1115.0h4.6v4.6h-4.6zM605.5 1115.0h4.6v4.6h-4.6zM656.1 1115.0h4.6v4.6h-4.6zM660.7 1115.0h4.6v4.6h-4.6zM697.5 1115.0h4.6v4.6h-4.6zM612.4 1119.6h4.6v4.6h-4.6zM653.8 1119.6h4.6v4.6h-4.6zM695.2 1119.6h4.6v4.6h-4.6zM619.3 1124.2h4.6v4.6h-4.6zM651.5 1124.2h4.6v4.6h-4.6zM656.1 1124.2h4.6v4.6h-4.6zM692.9 1124.2h4.6v4.6h-4.6zM598.6 1128.8h4.6v4.6h-4.6zM626.2 1128.8h4.6v4.6h-4.6zM686.0 1128.8h4.6v4.6h-4.6zM605.5 1133.4h4.6v4.6h-4.6zM628.5 1133.4h4.6v4.6h-4.6zM665.3 1133.4h4.6v4.6h-4.6zM669.9 1133.4h4.6v4.6h-4.6zM674.5 1133.4h4.6v4.6h-4.6zM1047.1 1133.4h4.6v4.6h-4.6zM617.0 1138.0h4.6v4.6h-4.6zM626.2 1138.0h4.6v4.6h-4.6zM630.8 1138.0h4.6v4.6h-4.6z" fill="#2030f0"/><path d="M1005.7 1078.2h4.6v4.6h-4.6zM1010.3 1078.2h4.6v4.6h-4.6zM1003.4 1082.8h4.6v4.6h-4.6zM1008.0 1082.8h4.6v4.6h-4.6zM1012.6 1082.8h4.6v4.6h-4.6zM1005.7 1087.4h4.6v4.6h-4.6zM1010.3 1087.4h4.6v4.6h-4.6zM1014.9 1087.4h4.6v4.6h-4.6zM1012.6 1092.0h4.6v4.6h-4.6zM679.1 1105.8h4.6v4.6h-4.6zM683.7 1105.8h4.6v4.6h-4.6zM688.3 1105.8h4.6v4.6h-4.6zM692.9 1105.8h4.6v4.6h-4.6zM667.6 1110.4h4.6v4.6h-4.6zM672.2 1110.4h4.6v4.6h-4.6zM676.8 1110.4h4.6v4.6h-4.6zM681.4 1110.4h4.6v4.6h-4.6zM686.0 1110.4h4.6v4.6h-4.6zM690.6 1110.4h4.6v4.6h-4.6zM695.2 1110.4h4.6v4.6h-4.6zM665.3 1115.0h4.6v4.6h-4.6zM669.9 1115.0h4.6v4.6h-4.6zM674.5 1115.0h4.6v4.6h-4.6zM688.3 1115.0h4.6v4.6h-4.6zM692.9 1115.0h4.6v4.6h-4.6zM598.6 1119.6h4.6v4.6h-4.6zM603.2 1119.6h4.6v4.6h-4.6zM607.8 1119.6h4.6v4.6h-4.6zM658.4 1119.6h4.6v4.6h-4.6zM663.0 1119.6h4.6v4.6h-4.6zM667.6 1119.6h4.6v4.6h-4.6zM686.0 1119.6h4.6v4.6h-4.6zM690.6 1119.6h4.6v4.6h-4.6zM600.9 1124.2h4.6v4.6h-4.6zM605.5 1124.2h4.6v4.6h-4.6zM610.1 1124.2h4.6v4.6h-4.6zM614.7 1124.2h4.6v4.6h-4.6zM660.7 1124.2h4.6v4.6h-4.6zM665.3 1124.2h4.6v4.6h-4.6zM669.9 1124.2h4.6v4.6h-4.6zM683.7 1124.2h4.6v4.6h-4.6zM688.3 1124.2h4.6v4.6h-4.6zM603.2 1128.8h4.6v4.6h-4.6zM607.8 1128.8h4.6v4.6h-4.6zM612.4 1128.8h4.6v4.6h-4.6zM617.0 1128.8h4.6v4.6h-4.6zM621.6 1128.8h4.6v4.6h-4.6zM658.4 1128.8h4.6v4.6h-4.6zM663.0 1128.8h4.6v4.6h-4.6zM667.6 1128.8h4.6v4.6h-4.6zM672.2 1128.8h4.6v4.6h-4.6zM676.8 1128.8h4.6v4.6h-4.6zM681.4 1128.8h4.6v4.6h-4.6zM610.1 1133.4h4.6v4.6h-4.6zM614.7 1133.4h4.6v4.6h-4.6zM619.3 1133.4h4.6v4.6h-4.6zM623.9 1133.4h4.6v4.6h-4.6zM1037.9 1133.4h4.6v4.6h-4.6zM1042.5 1133.4h4.6v4.6h-4.6zM621.6 1138.0h4.6v4.6h-4.6z" fill="#0c14d0"/><path d="M679.1 1115.0h4.6v4.6h-4.6zM683.7 1115.0h4.6v4.6h-4.6zM672.2 1119.6h4.6v4.6h-4.6zM676.8 1119.6h4.6v4.6h-4.6zM681.4 1119.6h4.6v4.6h-4.6zM674.5 1124.2h4.6v4.6h-4.6zM679.1 1124.2h4.6v4.6h-4.6z" fill="#ffee00"/><path d="M805.1 1054.2h4.6v4.6h-4.6zM697.4 1021.3h4.6v4.6h-4.6zM1001.7 1137.3h4.6v4.6h-4.6zM853.6 998.9h4.6v4.6h-4.6zM665.7 1076.2h4.6v4.6h-4.6zM647.8 1034.7h4.6v4.6h-4.6zM741.2 1069.4h4.6v4.6h-4.6zM614.7 839.6h4.6v4.6h-4.6zM754.5 1133.7h4.6v4.6h-4.6zM663.7 965.3h4.6v4.6h-4.6zM628.7 987.3h4.6v4.6h-4.6zM710.7 1094.1h4.6v4.6h-4.6zM928.6 1051.0h4.6v4.6h-4.6zM765.8 987.7h4.6v4.6h-4.6zM782.8 1022.9h4.6v4.6h-4.6zM819.0 1030.5h4.6v4.6h-4.6zM613.6 1073.3h4.6v4.6h-4.6zM844.5 1083.7h4.6v4.6h-4.6zM765.9 1096.9h4.6v4.6h-4.6zM908.6 1059.2h4.6v4.6h-4.6zM808.0 1118.0h4.6v4.6h-4.6zM911.3 1099.1h4.6v4.6h-4.6zM756.1 892.1h4.6v4.6h-4.6zM969.5 1091.9h4.6v4.6h-4.6zM694.5 985.5h4.6v4.6h-4.6zM830.2 1051.8h4.6v4.6h-4.6zM610.1 1114.3h4.6v4.6h-4.6zM736.0 956.7h4.6v4.6h-4.6zM615.5 912.2h4.6v4.6h-4.6zM843.0 1119.5h4.6v4.6h-4.6zM1013.2 1110.4h4.6v4.6h-4.6zM838.7 963.4h4.6v4.6h-4.6zM718.0 875.7h4.6v4.6h-4.6zM822.6 1059.0h4.6v4.6h-4.6zM775.6 1091.8h4.6v4.6h-4.6zM687.4 1080.9h4.6v4.6h-4.6zM743.1 1014.6h4.6v4.6h-4.6zM743.0 982.7h4.6v4.6h-4.6zM643.0 959.8h4.6v4.6h-4.6zM878.3 1072.2h4.6v4.6h-4.6zM670.8 840.7h4.6v4.6h-4.6zM1006.4 1115.2h4.6v4.6h-4.6zM967.2 1082.8h4.6v4.6h-4.6zM854.2 980.3h4.6v4.6h-4.6zM869.8 1000.1h4.6v4.6h-4.6zM626.1 986.0h4.6v4.6h-4.6zM647.3 995.6h4.6v4.6h-4.6zM717.2 983.4h4.6v4.6h-4.6zM658.8 855.6h4.6v4.6h-4.6zM689.7 1072.8h4.6v4.6h-4.6zM675.3 949.9h4.6v4.6h-4.6zM728.6 1082.9h4.6v4.6h-4.6zM668.0 1020.4h4.6v4.6h-4.6zM825.2 981.9h4.6v4.6h-4.6zM842.2 980.2h4.6v4.6h-4.6zM945.1 1130.9h4.6v4.6h-4.6zM634.7 1065.0h4.6v4.6h-4.6zM776.9 1133.1h4.6v4.6h-4.6zM882.3 992.0h4.6v4.6h-4.6zM858.5 1070.5h4.6v4.6h-4.6zM640.2 833.5h4.6v4.6h-4.6zM689.0 1046.1h4.6v4.6h-4.6zM688.7 992.4h4.6v4.6h-4.6zM675.8 923.8h4.6v4.6h-4.6zM638.9 896.1h4.6v4.6h-4.6zM652.8 1017.8h4.6v4.6h-4.6zM688.0 888.1h4.6v4.6h-4.6zM724.8 1045.1h4.6v4.6h-4.6zM742.7 898.8h4.6v4.6h-4.6zM706.0 948.5h4.6v4.6h-4.6zM698.2 903.9h4.6v4.6h-4.6zM774.2 934.3h4.6v4.6h-4.6zM782.1 1004.4h4.6v4.6h-4.6zM650.3 883.2h4.6v4.6h-4.6zM771.9 951.1h4.6v4.6h-4.6zM796.5 994.5h4.6v4.6h-4.6zM611.7 802.8h4.6v4.6h-4.6zM626.9 918.4h4.6v4.6h-4.6zM708.3 980.2h4.6v4.6h-4.6zM692.6 1075.3h4.6v4.6h-4.6zM772.9 1096.9h4.6v4.6h-4.6zM632.0 1085.9h4.6v4.6h-4.6zM657.2 1094.6h4.6v4.6h-4.6zM733.5 918.9h4.6v4.6h-4.6zM888.7 1062.6h4.6v4.6h-4.6zM878.1 1056.7h4.6v4.6h-4.6zM693.4 1069.6h4.6v4.6h-4.6zM717.7 990.9h4.6v4.6h-4.6zM839.4 970.2h4.6v4.6h-4.6zM726.4 1126.3h4.6v4.6h-4.6zM901.1 1103.1h4.6v4.6h-4.6zM711.7 892.2h4.6v4.6h-4.6zM879.3 1058.2h4.6v4.6h-4.6zM813.7 1055.1h4.6v4.6h-4.6zM788.8 1106.7h4.6v4.6h-4.6zM681.9 955.5h4.6v4.6h-4.6zM801.2 958.2h4.6v4.6h-4.6zM692.8 999.9h4.6v4.6h-4.6zM728.7 1116.1h4.6v4.6h-4.6zM734.4 982.7h4.6v4.6h-4.6zM915.8 1122.3h4.6v4.6h-4.6zM623.4 1015.5h4.6v4.6h-4.6zM817.2 1067.2h4.6v4.6h-4.6zM903.4 1085.2h4.6v4.6h-4.6zM778.5 1004.1h4.6v4.6h-4.6zM673.3 1130.7h4.6v4.6h-4.6zM907.7 1113.2h4.6v4.6h-4.6zM708.3 1072.6h4.6v4.6h-4.6zM826.0 969.3h4.6v4.6h-4.6zM612.3 1008.2h4.6v4.6h-4.6zM615.8 959.5h4.6v4.6h-4.6zM746.8 1114.6h4.6v4.6h-4.6zM685.2 1031.0h4.6v4.6h-4.6zM725.6 971.0h4.6v4.6h-4.6zM821.8 1101.1h4.6v4.6h-4.6zM684.7 1078.9h4.6v4.6h-4.6zM955.3 1064.8h4.6v4.6h-4.6zM765.3 995.3h4.6v4.6h-4.6zM672.9 878.1h4.6v4.6h-4.6zM660.8 1096.3h4.6v4.6h-4.6zM911.8 1009.8h4.6v4.6h-4.6zM639.6 1076.0h4.6v4.6h-4.6zM639.2 1056.3h4.6v4.6h-4.6zM707.5 1062.3h4.6v4.6h-4.6zM844.0 1097.0h4.6v4.6h-4.6zM930.9 1129.5h4.6v4.6h-4.6zM690.3 979.4h4.6v4.6h-4.6zM640.1 814.4h4.6v4.6h-4.6zM748.4 976.1h4.6v4.6h-4.6zM719.3 990.3h4.6v4.6h-4.6zM820.8 1029.5h4.6v4.6h-4.6zM776.1 1056.9h4.6v4.6h-4.6zM603.9 871.7h4.6v4.6h-4.6zM622.3 1000.2h4.6v4.6h-4.6zM868.9 1012.4h4.6v4.6h-4.6zM633.3 1058.7h4.6v4.6h-4.6zM838.9 1021.5h4.6v4.6h-4.6zM769.4 905.9h4.6v4.6h-4.6zM756.2 1011.7h4.6v4.6h-4.6zM842.9 970.9h4.6v4.6h-4.6zM779.0 932.7h4.6v4.6h-4.6zM653.7 932.4h4.6v4.6h-4.6zM763.9 1114.4h4.6v4.6h-4.6zM1033.9 1109.1h4.6v4.6h-4.6zM676.9 1041.3h4.6v4.6h-4.6zM754.7 1026.5h4.6v4.6h-4.6zM984.9 1119.2h4.6v4.6h-4.6zM867.7 1041.1h4.6v4.6h-4.6zM1053.0 1115.2h4.6v4.6h-4.6zM757.8 936.1h4.6v4.6h-4.6zM641.3 1106.1h4.6v4.6h-4.6zM603.1 1123.7h4.6v4.6h-4.6zM748.9 1002.3h4.6v4.6h-4.6zM762.3 1076.1h4.6v4.6h-4.6zM968.3 1090.7h4.6v4.6h-4.6zM803.0 931.5h4.6v4.6h-4.6zM775.2 1000.7h4.6v4.6h-4.6zM638.9 1135.5h4.6v4.6h-4.6zM689.1 988.1h4.6v4.6h-4.6zM713.6 925.2h4.6v4.6h-4.6zM624.7 810.5h4.6v4.6h-4.6zM628.8 890.4h4.6v4.6h-4.6zM709.7 1087.3h4.6v4.6h-4.6zM709.0 1005.0h4.6v4.6h-4.6zM708.9 1110.8h4.6v4.6h-4.6zM706.9 987.6h4.6v4.6h-4.6zM707.6 1022.9h4.6v4.6h-4.6zM646.9 922.0h4.6v4.6h-4.6zM793.9 1030.1h4.6v4.6h-4.6zM700.6 888.2h4.6v4.6h-4.6zM847.5 1085.5h4.6v4.6h-4.6zM849.6 1085.1h4.6v4.6h-4.6zM666.0 981.6h4.6v4.6h-4.6zM751.7 1078.9h4.6v4.6h-4.6zM842.6 967.2h4.6v4.6h-4.6zM844.2 1113.3h4.6v4.6h-4.6zM654.2 991.4h4.6v4.6h-4.6zM610.9 915.7h4.6v4.6h-4.6zM823.0 1016.0h4.6v4.6h-4.6zM1034.0 1137.6h4.6v4.6h-4.6zM771.4 981.2h4.6v4.6h-4.6zM954.1 1114.7h4.6v4.6h-4.6zM1014.5 1094.7h4.6v4.6h-4.6zM692.4 877.5h4.6v4.6h-4.6zM965.2 1097.6h4.6v4.6h-4.6zM633.5 1055.8h4.6v4.6h-4.6zM711.0 866.4h4.6v4.6h-4.6zM715.8 1085.2h4.6v4.6h-4.6zM955.8 1072.9h4.6v4.6h-4.6zM727.8 1101.6h4.6v4.6h-4.6zM695.8 1003.5h4.6v4.6h-4.6zM805.2 1120.5h4.6v4.6h-4.6zM816.3 982.5h4.6v4.6h-4.6zM751.3 1104.5h4.6v4.6h-4.6zM913.2 1080.3h4.6v4.6h-4.6zM634.6 1063.3h4.6v4.6h-4.6zM725.9 890.6h4.6v4.6h-4.6zM771.3 967.3h4.6v4.6h-4.6zM684.9 918.4h4.6v4.6h-4.6zM917.9 1011.0h4.6v4.6h-4.6zM850.2 1059.0h4.6v4.6h-4.6zM941.4 1046.8h4.6v4.6h-4.6zM1035.5 1123.5h4.6v4.6h-4.6zM937.4 1041.9h4.6v4.6h-4.6zM627.8 840.9h4.6v4.6h-4.6zM864.3 1060.4h4.6v4.6h-4.6zM619.4 1100.1h4.6v4.6h-4.6zM945.4 1034.2h4.6v4.6h-4.6zM744.1 981.2h4.6v4.6h-4.6zM688.1 931.0h4.6v4.6h-4.6zM785.5 968.8h4.6v4.6h-4.6zM899.2 1113.9h4.6v4.6h-4.6zM717.2 867.6h4.6v4.6h-4.6zM689.6 939.7h4.6v4.6h-4.6zM606.7 916.4h4.6v4.6h-4.6zM881.2 1021.1h4.6v4.6h-4.6zM933.3 1125.5h4.6v4.6h-4.6zM703.5 877.8h4.6v4.6h-4.6zM889.4 1098.7h4.6v4.6h-4.6zM638.1 1122.1h4.6v4.6h-4.6zM617.8 884.7h4.6v4.6h-4.6zM603.6 909.3h4.6v4.6h-4.6zM716.1 1125.8h4.6v4.6h-4.6zM730.6 914.9h4.6v4.6h-4.6zM638.1 1046.4h4.6v4.6h-4.6zM903.5 1026.5h4.6v4.6h-4.6zM832.1 956.5h4.6v4.6h-4.6zM881.9 1093.2h4.6v4.6h-4.6zM869.5 1019.2h4.6v4.6h-4.6zM1005.8 1130.7h4.6v4.6h-4.6zM659.6 1075.5h4.6v4.6h-4.6zM789.3 1035.5h4.6v4.6h-4.6zM627.9 1099.9h4.6v4.6h-4.6zM855.1 1074.7h4.6v4.6h-4.6zM663.9 967.6h4.6v4.6h-4.6zM647.9 922.2h4.6v4.6h-4.6zM796.6 954.2h4.6v4.6h-4.6zM740.1 879.4h4.6v4.6h-4.6zM758.3 957.8h4.6v4.6h-4.6zM804.1 992.7h4.6v4.6h-4.6zM916.3 1083.6h4.6v4.6h-4.6zM630.5 983.0h4.6v4.6h-4.6zM917.8 1053.6h4.6v4.6h-4.6zM797.2 1095.3h4.6v4.6h-4.6zM619.7 876.3h4.6v4.6h-4.6zM662.3 855.9h4.6v4.6h-4.6zM624.6 951.5h4.6v4.6h-4.6zM716.4 963.9h4.6v4.6h-4.6zM890.8 989.5h4.6v4.6h-4.6zM715.0 984.3h4.6v4.6h-4.6zM740.2 994.5h4.6v4.6h-4.6zM732.6 1047.9h4.6v4.6h-4.6zM642.8 994.1h4.6v4.6h-4.6zM999.1 1104.1h4.6v4.6h-4.6zM633.0 984.2h4.6v4.6h-4.6zM717.5 962.6h4.6v4.6h-4.6zM794.3 1094.1h4.6v4.6h-4.6zM652.8 841.0h4.6v4.6h-4.6zM944.4 1068.5h4.6v4.6h-4.6zM737.7 1134.5h4.6v4.6h-4.6zM904.5 1043.3h4.6v4.6h-4.6zM622.3 1038.7h4.6v4.6h-4.6zM680.0 871.6h4.6v4.6h-4.6zM802.1 947.0h4.6v4.6h-4.6zM611.2 794.8h4.6v4.6h-4.6zM909.6 1048.2h4.6v4.6h-4.6zM894.2 1008.5h4.6v4.6h-4.6zM720.1 877.5h4.6v4.6h-4.6zM633.1 898.6h4.6v4.6h-4.6zM899.8 1101.8h4.6v4.6h-4.6zM881.4 1047.5h4.6v4.6h-4.6zM963.2 1062.6h4.6v4.6h-4.6zM683.9 861.0h4.6v4.6h-4.6zM721.7 1015.1h4.6v4.6h-4.6zM718.9 1093.2h4.6v4.6h-4.6zM866.5 1076.8h4.6v4.6h-4.6zM884.9 1137.8h4.6v4.6h-4.6zM682.3 948.2h4.6v4.6h-4.6zM611.6 843.7h4.6v4.6h-4.6zM988.7 1116.7h4.6v4.6h-4.6zM729.1 881.2h4.6v4.6h-4.6zM649.7 1006.6h4.6v4.6h-4.6zM798.0 1062.1h4.6v4.6h-4.6zM747.5 952.8h4.6v4.6h-4.6zM719.3 1078.3h4.6v4.6h-4.6zM1034.9 1116.9h4.6v4.6h-4.6zM726.6 888.4h4.6v4.6h-4.6zM653.8 983.8h4.6v4.6h-4.6zM780.0 936.3h4.6v4.6h-4.6zM918.5 1090.8h4.6v4.6h-4.6zM614.9 920.0h4.6v4.6h-4.6zM976.5 1108.7h4.6v4.6h-4.6zM845.4 1088.6h4.6v4.6h-4.6zM879.1 1053.1h4.6v4.6h-4.6zM636.6 803.7h4.6v4.6h-4.6zM1057.4 1122.0h4.6v4.6h-4.6zM737.3 944.1h4.6v4.6h-4.6zM755.3 1038.2h4.6v4.6h-4.6zM720.8 1112.4h4.6v4.6h-4.6zM885.6 1036.7h4.6v4.6h-4.6zM760.9 1066.9h4.6v4.6h-4.6zM667.0 990.5h4.6v4.6h-4.6zM627.1 885.4h4.6v4.6h-4.6zM899.9 1020.1h4.6v4.6h-4.6zM819.4 1057.3h4.6v4.6h-4.6zM796.7 987.5h4.6v4.6h-4.6zM658.1 1031.5h4.6v4.6h-4.6zM784.1 986.8h4.6v4.6h-4.6zM640.6 1061.7h4.6v4.6h-4.6zM874.6 1069.5h4.6v4.6h-4.6zM628.1 1014.0h4.6v4.6h-4.6zM863.4 1131.4h4.6v4.6h-4.6zM757.2 1069.4h4.6v4.6h-4.6zM970.0 1118.4h4.6v4.6h-4.6zM960.8 1125.4h4.6v4.6h-4.6zM656.0 829.5h4.6v4.6h-4.6zM752.1 976.8h4.6v4.6h-4.6zM612.6 1004.9h4.6v4.6h-4.6zM656.3 963.1h4.6v4.6h-4.6zM671.9 849.8h4.6v4.6h-4.6zM624.6 1039.9h4.6v4.6h-4.6zM646.5 1011.4h4.6v4.6h-4.6zM616.3 795.3h4.6v4.6h-4.6zM935.4 1082.2h4.6v4.6h-4.6zM823.5 1111.9h4.6v4.6h-4.6zM989.5 1068.6h4.6v4.6h-4.6zM681.6 849.6h4.6v4.6h-4.6zM831.3 1015.8h4.6v4.6h-4.6zM968.6 1091.3h4.6v4.6h-4.6zM616.8 955.9h4.6v4.6h-4.6zM842.0 955.6h4.6v4.6h-4.6zM648.7 839.0h4.6v4.6h-4.6zM725.5 959.5h4.6v4.6h-4.6zM693.1 915.9h4.6v4.6h-4.6zM661.8 1064.3h4.6v4.6h-4.6zM716.5 1054.1h4.6v4.6h-4.6zM847.6 1069.9h4.6v4.6h-4.6zM777.3 929.0h4.6v4.6h-4.6zM715.0 1002.1h4.6v4.6h-4.6zM696.3 1112.7h4.6v4.6h-4.6zM712.7 882.6h4.6v4.6h-4.6zM645.1 963.0h4.6v4.6h-4.6zM634.3 1055.5h4.6v4.6h-4.6zM662.3 1092.2h4.6v4.6h-4.6zM1006.5 1090.7h4.6v4.6h-4.6zM697.3 925.5h4.6v4.6h-4.6zM750.7 1102.7h4.6v4.6h-4.6zM869.0 1000.9h4.6v4.6h-4.6zM605.4 1034.2h4.6v4.6h-4.6zM615.0 880.7h4.6v4.6h-4.6zM673.7 1081.8h4.6v4.6h-4.6zM658.4 1115.1h4.6v4.6h-4.6zM634.3 807.3h4.6v4.6h-4.6zM787.1 946.4h4.6v4.6h-4.6zM826.0 1083.1h4.6v4.6h-4.6z" fill="#60b860" opacity="0.28"/><path d="M454.7 1155.6L458.1 1153.9L460.9 1157.9L458.1 1159.6Z" fill="#a0a0a0" opacity="0.6"/></g><line x1="920.4" y1="1012" x2="1076.4" y2="1031.1" stroke="#c8d0ff" stroke-width="2"/><g transform="translate(590.50,590.50)">
<g stroke="#000" stroke-width="1.05" fill="none" stroke-dasharray="3.3 4.97"><line x1="12.68" y1="50.35" x2="486.3" y2="50.35"/><line x1="12.68" y1="134.90" x2="486.3" y2="134.90"/><line x1="12.68" y1="219.45" x2="486.3" y2="219.45"/><line x1="12.68" y1="304.00" x2="486.3" y2="304.00"/><line x1="12.68" y1="388.55" x2="486.3" y2="388.55"/><line x1="12.68" y1="473.10" x2="486.3" y2="473.10"/></g><g stroke="#000" stroke-width="1.35" fill="none" stroke-dasharray="2.9 5.39"><line x1="37.80" y1="40.87" x2="37.80" y2="548.4"/><line x1="116.54" y1="40.87" x2="116.54" y2="548.4"/><line x1="195.28" y1="40.87" x2="195.28" y2="548.4"/><line x1="274.02" y1="40.87" x2="274.02" y2="548.4"/><line x1="352.76" y1="40.87" x2="352.76" y2="548.4"/><line x1="431.50" y1="40.87" x2="431.50" y2="548.4"/></g><text x="37.50" y="283" class="gl" text-anchor="middle">-126</text><text x="116.24" y="283" class="gl" text-anchor="middle">-124</text><text x="194.98" y="283" class="gl" text-anchor="middle">-122</text><text x="273.72" y="283" class="gl" text-anchor="middle">-120</text><text x="352.46" y="283" class="gl" text-anchor="middle">-118</text><text x="431.20" y="283" class="gl" text-anchor="middle">-116</text><text x="254.2" y="49.80" class="gl" text-anchor="middle">22</text><text x="254.2" y="134.35" class="gl" text-anchor="middle">20</text><text x="254.2" y="218.90" class="gl" text-anchor="middle">18</text><text x="254.2" y="303.45" class="gl" text-anchor="middle">16</text><text x="254.2" y="388.00" class="gl" text-anchor="middle">14</text><text x="254.2" y="472.55" class="gl" text-anchor="middle">12</text><g stroke="#000" stroke-width="1.15" fill="none" stroke-dasharray="12.2 11.4"><path d="M12.65 331.9Q157.7 436.3 302.7 548.3"/><path d="M12.65 444.5Q82.7 495.3 152.7 548.3"/></g><path d="M242.95 294.5H255.95M249.45 288.05V300.95" stroke="#000" stroke-width="4.55" fill="none"/><text x="44" y="65.6" class="tt">37GHz PCT (K)</text><text x="438.3" y="522.8" class="pl">(e)</text><rect x="495.0" y="531.48" width="8.9" height="8.81" fill="#f8f8f8"/><rect x="495.0" y="523.02" width="8.9" height="8.81" fill="#f0f0f0"/><rect x="495.0" y="514.56" width="8.9" height="8.81" fill="#e9e9e9"/><rect x="495.0" y="506.10" width="8.9" height="8.81" fill="#e1e1e1"/><rect x="495.0" y="497.64" width="8.9" height="8.81" fill="#dadada"/><rect x="495.0" y="489.18" width="8.9" height="8.81" fill="#d2d2d2"/><rect x="495.0" y="480.72" width="8.9" height="8.81" fill="#cbcbcb"/><rect x="495.0" y="472.26" width="8.9" height="8.81" fill="#c3c3c3"/><rect x="495.0" y="463.80" width="8.9" height="8.81" fill="#bcbcbc"/><rect x="495.0" y="455.34" width="8.9" height="8.81" fill="#b4b4b4"/><rect x="495.0" y="446.88" width="8.9" height="8.81" fill="#adadad"/><rect x="495.0" y="438.42" width="8.9" height="8.81" fill="#a5a5a5"/><rect x="495.0" y="429.96" width="8.9" height="8.81" fill="#9e9e9e"/><rect x="495.0" y="421.50" width="8.9" height="8.81" fill="#969696"/><rect x="495.0" y="413.04" width="8.9" height="8.81" fill="#8be88b"/><rect x="495.0" y="404.58" width="8.9" height="8.81" fill="#83dd83"/><rect x="495.0" y="396.12" width="8.9" height="8.81" fill="#7bd27b"/><rect x="495.0" y="387.66" width="8.9" height="8.81" fill="#73c873"/><rect x="495.0" y="379.20" width="8.9" height="8.81" fill="#6bbd6b"/><rect x="495.0" y="370.74" width="8.9" height="8.81" fill="#d0d8ff"/><rect x="495.0" y="362.28" width="8.9" height="8.81" fill="#b8d0ff"/><rect x="495.0" y="353.82" width="8.9" height="8.81" fill="#a0c6ff"/><rect x="495.0" y="345.36" width="8.9" height="8.81" fill="#88c0ff"/><rect x="495.0" y="336.90" width="8.9" height="8.81" fill="#70b8ff"/><rect x="495.0" y="328.44" width="8.9" height="8.81" fill="#50b0ff"/><rect x="495.0" y="319.98" width="8.9" height="8.81" fill="#488cff"/><rect x="495.0" y="311.52" width="8.9" height="8.81" fill="#4070ff"/><rect x="495.0" y="303.06" width="8.9" height="8.81" fill="#3c50ff"/><rect x="495.0" y="294.60" width="8.9" height="8.81" fill="#3030ff"/><rect x="495.0" y="286.14" width="8.9" height="8.81" fill="#0000ff"/><rect x="495.0" y="277.68" width="8.9" height="8.81" fill="#0000ef"/><rect x="495.0" y="269.22" width="8.9" height="8.81" fill="#0000de"/><rect x="495.0" y="260.76" width="8.9" height="8.81" fill="#0000ce"/><rect x="495.0" y="252.30" width="8.9" height="8.81" fill="#0000be"/><rect x="495.0" y="243.84" width="8.9" height="8.81" fill="#ffff00"/><rect x="495.0" y="235.38" width="8.9" height="8.81" fill="#fff200"/><rect x="495.0" y="226.92" width="8.9" height="8.81" fill="#ffe600"/><rect x="495.0" y="218.46" width="8.9" height="8.81" fill="#ffd900"/><rect x="495.0" y="210.00" width="8.9" height="8.81" fill="#ffcc00"/><rect x="495.0" y="201.54" width="8.9" height="8.81" fill="#ff9000"/><rect x="495.0" y="193.08" width="8.9" height="8.81" fill="#ff8800"/><rect x="495.0" y="184.62" width="8.9" height="8.81" fill="#ff8000"/><rect x="495.0" y="176.16" width="8.9" height="8.81" fill="#ff7800"/><rect x="495.0" y="167.70" width="8.9" height="8.81" fill="#ff7000"/><rect x="495.0" y="159.24" width="8.9" height="8.81" fill="#ff4000"/><rect x="495.0" y="150.78" width="8.9" height="8.81" fill="#ff3500"/><rect x="495.0" y="142.32" width="8.9" height="8.81" fill="#ff2a00"/><rect x="495.0" y="133.86" width="8.9" height="8.81" fill="#ff1f00"/><rect x="495.0" y="125.40" width="8.9" height="8.81" fill="#ff1400"/><rect x="495.0" y="116.94" width="8.9" height="8.81" fill="#c80000"/><rect x="495.0" y="108.48" width="8.9" height="8.81" fill="#be0401"/><rect x="495.0" y="100.02" width="8.9" height="8.81" fill="#b40702"/><rect x="495.0" y="91.56" width="8.9" height="8.81" fill="#aa0a03"/><rect x="495.0" y="83.10" width="8.9" height="8.81" fill="#a00e04"/><rect x="495.0" y="74.64" width="8.9" height="8.81" fill="#620c04"/><rect x="495.0" y="66.18" width="8.9" height="8.81" fill="#5e100a"/><rect x="495.0" y="57.72" width="8.9" height="8.81" fill="#5b140f"/><rect x="495.0" y="49.26" width="8.9" height="8.81" fill="#581814"/><rect x="495.0" y="40.80" width="8.9" height="8.81" fill="#541c1a"/><line x1="503.59999999999997" y1="91.56" x2="506.09999999999997" y2="91.56" stroke="#000" stroke-width="1"/><text x="524.2" y="99.86" class="cb" text-anchor="middle">234</text><line x1="503.59999999999997" y1="142.32" x2="506.09999999999997" y2="142.32" stroke="#000" stroke-width="1"/><text x="524.2" y="150.62" class="cb" text-anchor="middle">243</text><line x1="503.59999999999997" y1="193.08" x2="506.09999999999997" y2="193.08" stroke="#000" stroke-width="1"/><text x="524.2" y="201.38" class="cb" text-anchor="middle">252</text><line x1="503.59999999999997" y1="243.84" x2="506.09999999999997" y2="243.84" stroke="#000" stroke-width="1"/><text x="524.2" y="252.14" class="cb" text-anchor="middle">261</text><line x1="503.59999999999997" y1="294.60" x2="506.09999999999997" y2="294.60" stroke="#000" stroke-width="1"/><text x="524.2" y="302.90" class="cb" text-anchor="middle">270</text><line x1="503.59999999999997" y1="345.36" x2="506.09999999999997" y2="345.36" stroke="#000" stroke-width="1"/><text x="524.2" y="353.66" class="cb" text-anchor="middle">279</text><line x1="503.59999999999997" y1="396.12" x2="506.09999999999997" y2="396.12" stroke="#000" stroke-width="1"/><text x="524.2" y="404.42" class="cb" text-anchor="middle">288</text><line x1="503.59999999999997" y1="446.88" x2="506.09999999999997" y2="446.88" stroke="#000" stroke-width="1"/><text x="524.2" y="455.18" class="cb" text-anchor="middle">297</text><line x1="503.59999999999997" y1="497.64" x2="506.09999999999997" y2="497.64" stroke="#000" stroke-width="1"/><text x="524.2" y="505.94" class="cb" text-anchor="middle">306</text><line x1="503.59999999999997" y1="548.40" x2="506.09999999999997" y2="548.40" stroke="#000" stroke-width="1"/><text x="524.2" y="556.70" class="cb" text-anchor="middle">315</text></g>
<defs><clipPath id="clipf"><rect x="1193.6" y="631.5" width="474" height="507.4"/></clipPath></defs><g clip-path="url(#clipf)"><path d="M1190.0 1104.8L1201.7 1107.7L1204.7 1110.7L1209.1 1100.4L1217.9 1099.6L1220.8 1103.3L1225.2 1104.8L1232.6 1098.9L1234.0 1091.6L1239.9 1096.0L1242.9 1100.4L1248.7 1101.9L1260.5 1101.9L1266.3 1096.0L1269.3 1090.1L1278.1 1096.0L1284.0 1101.9L1289.8 1103.3L1295.7 1097.4L1303.0 1098.9L1308.9 1103.3L1314.8 1098.9L1320.7 1103.3L1327.3 1107.7L1319.2 1116.5L1322.1 1120.9L1325.1 1125.3L1317.7 1129.7L1308.9 1131.2L1301.6 1132.7L1292.8 1135.6L1284.0 1134.2L1275.1 1135.6L1266.3 1141.5L1190.0 1141.5Z" fill="#84dc84" stroke="#000" stroke-width="1.4" stroke-linejoin="round"/><path d="M1201.7 1135.9L1209.1 1133.4L1213.5 1135.6L1214.2 1141.5L1203.2 1141.5Z" fill="#fff" stroke="#000" stroke-width="1.3" stroke-linejoin="round"/><path d="M1212.0 1106.3L1218.6 1104.1L1220.8 1107.0L1217.2 1109.2Z" fill="#fff" stroke="#000" stroke-width="1.2" stroke-linejoin="round"/><path d="M1190.0 1068.1L1201.7 1066.6L1209.1 1066.6L1219.4 1063.7L1223.8 1060.7L1232.6 1062.2L1239.9 1065.1L1248.7 1062.2L1253.1 1057.8L1245.8 1048.3L1254.6 1049.0L1263.4 1048.3L1272.2 1046.8L1281.8 1047.5L1272.2 1050.5L1263.4 1051.9L1266.3 1062.2L1269.3 1066.6L1278.1 1069.6L1286.9 1071.0L1288.4 1062.2L1286.9 1059.3L1292.8 1056.3L1295.7 1049.0L1297.2 1043.1L1303.0 1044.6L1306.0 1050.5L1304.5 1056.3L1308.9 1060.7L1306.0 1068.1L1298.6 1072.5L1291.3 1076.9L1281.0 1081.3L1275.1 1081.3L1270.7 1084.2L1266.3 1090.1L1260.5 1094.5L1251.7 1093.0L1245.8 1094.5L1239.9 1088.6L1235.5 1093.0L1229.6 1088.6L1223.8 1082.8L1219.4 1076.9L1213.5 1074.0L1204.7 1081.3L1190.0 1088.6Z" fill="#84dc84" stroke="#000" stroke-width="1.4" stroke-linejoin="round"/><path d="M1222.3 1072.5L1232.6 1070.3L1245.8 1071.8L1254.6 1075.4L1261.9 1079.8L1260.5 1084.2L1253.1 1082.8L1247.3 1085.7L1238.4 1082.8L1228.2 1081.3Z" fill="#fff" stroke="#000" stroke-width="1.3" stroke-linejoin="round"/><path d="M1272.2 1082.8L1278.1 1079.8L1284.0 1081.3L1281.0 1085.7L1275.1 1087.9Z" fill="#fff" stroke="#000" stroke-width="1.2" stroke-linejoin="round"/><path d="M1235.5 1092.3L1238.4 1090.8L1240.6 1094.5L1237.7 1096.0Z" fill="#fff" stroke="#000" stroke-width="1.1" stroke-linejoin="round"/><path d="M1310.4 1036.5L1316.3 1032.9L1322.1 1031.4L1328.0 1032.1L1323.6 1037.3L1326.5 1043.1L1330.9 1044.6L1335.3 1038.7L1333.9 1031.4L1339.7 1029.9L1347.8 1029.2L1353.0 1031.4L1356.6 1035.8L1351.5 1038.7L1345.6 1041.7L1336.8 1043.1L1333.9 1049.0L1336.8 1051.9L1345.6 1052.7L1351.5 1056.3L1357.4 1057.8L1363.2 1062.2L1372.0 1059.3L1377.9 1054.9L1385.3 1059.3L1386.7 1066.6L1380.9 1071.0L1372.0 1069.6L1364.7 1066.6L1360.3 1071.0L1363.2 1079.8L1365.4 1085.0L1357.4 1082.8L1353.0 1075.4L1355.9 1068.1L1348.6 1066.6L1338.3 1068.1L1336.8 1075.4L1335.3 1081.3L1329.5 1084.2L1323.6 1081.3L1322.1 1074.0L1326.5 1071.0L1328.0 1063.7L1322.9 1054.9L1326.5 1049.0L1322.1 1038.7L1316.3 1038.0Z" fill="#84dc84" stroke="#000" stroke-width="1.4" stroke-linejoin="round"/><path d="M1314.1 1060.0L1322.1 1060.7L1330.9 1062.2L1335.3 1064.4L1329.5 1065.1L1320.7 1062.9Z" fill="#84dc84" stroke="#000" stroke-width="1.2" stroke-linejoin="round"/><path d="M1365.4 1035.8L1372.0 1032.9L1373.5 1025.5L1377.9 1018.9L1383.8 1020.4L1388.2 1025.5L1395.5 1029.9L1401.4 1031.4L1402.9 1025.5L1402.1 1033.6L1392.6 1034.6L1386.7 1029.9L1388.2 1038.7L1392.6 1046.1L1398.5 1050.5L1405.8 1051.9L1410.2 1047.5L1416.1 1046.1L1423.4 1043.1L1427.1 1043.1L1428.6 1049.0L1423.4 1053.4L1419.0 1059.3L1413.2 1066.6L1407.3 1065.1L1401.4 1066.6L1395.5 1065.1L1386.7 1062.2L1380.9 1056.3L1372.0 1053.4L1364.7 1046.1L1369.1 1041.7Z" fill="#84dc84" stroke="#000" stroke-width="1.4" stroke-linejoin="round"/><path d="M1375.0 1085.0L1380.9 1084.2L1386.7 1087.2L1389.7 1082.8L1398.5 1078.4L1405.8 1079.8L1413.2 1085.7L1414.6 1091.6L1423.4 1091.6L1423.4 1097.4L1414.6 1096.0L1408.7 1096.0L1401.4 1097.4L1394.1 1096.0L1386.7 1093.0L1383.8 1088.6L1375.7 1088.6Z" fill="#84dc84" stroke="#000" stroke-width="1.4" stroke-linejoin="round"/><path d="M1407.3 1022.6L1416.1 1021.1L1427.8 1019.6L1427.8 1023.3L1419.0 1025.5L1410.2 1027.0Z" fill="#84dc84" stroke="#000" stroke-width="1.3" stroke-linejoin="round"/><path d="M1427.1 1033.6L1430.8 1035.8L1431.5 1039.5L1428.6 1038.0Z" fill="#84dc84" stroke="#000" stroke-width="1.3" stroke-linejoin="round"/><path d="M1427.8 1062.2L1432.2 1061.5L1432.2 1066.6L1428.6 1066.6Z" fill="#84dc84" stroke="#000" stroke-width="1.3" stroke-linejoin="round"/><path d="M1433.7 1074.0L1442.5 1072.5L1443.2 1076.9L1438.1 1079.8L1434.4 1077.6Z" fill="#84dc84" stroke="#000" stroke-width="1.3" stroke-linejoin="round"/><path d="M1335.3 1103.3L1342.7 1104.8L1348.6 1101.9L1355.9 1100.4L1361.0 1103.3L1355.9 1105.5L1348.6 1104.8L1344.2 1109.9L1341.2 1106.3Z" fill="#84dc84" stroke="#000" stroke-width="1.3" stroke-linejoin="round"/><path d="M1303.0 1083.5L1308.9 1084.2L1306.7 1088.6Z" fill="#84dc84" stroke="#000" stroke-width="1.3" stroke-linejoin="round"/><path d="M1291.3 1082.8L1292.8 1082.0L1295.7 1086.4L1294.2 1087.2Z" fill="#000"/><path d="M1440.3 1005.0L1445.4 1005.7L1445.2 1007.9L1440.8 1007.2Z" fill="#000"/><path d="M1254.6 1113.6L1263.4 1109.2L1272.2 1107.7L1278.1 1115.1L1289.8 1112.1L1284.0 1120.9L1278.1 1126.8L1272.2 1132.7L1260.5 1134.2L1254.6 1126.8L1248.7 1122.4Z" fill="#b4ccff"/><path d="M1259.0 1116.5L1269.3 1112.1L1275.1 1119.5L1272.2 1128.3L1263.4 1131.2L1257.5 1125.3Z" fill="#6cb4ff"/><path d="M1195.9 1074.0L1206.1 1072.5L1206.9 1081.3L1197.3 1082.8Z" fill="#b4ccff"/><path d="M1251.7 1064.4L1260.5 1063.7L1269.3 1074.0L1266.3 1077.6L1256.1 1071.0Z" fill="#b4ccff"/><path d="M1296.4 1055.6L1303.8 1054.9L1304.5 1065.9L1297.9 1066.6Z" fill="#b4ccff"/><path d="M1339.7 1032.9L1349.3 1032.1L1350.0 1038.0L1341.2 1038.7Z" fill="#b4ccff"/><path d="M1339.7 1055.2L1349.7 1054.9L1350.0 1059.0L1340.5 1059.3Z" fill="#b4ccff"/><path d="M1386.7 1049.7L1394.8 1049.0L1395.5 1056.0L1387.5 1056.3Z" fill="#b4ccff"/><path d="M1194.4 1116.8L1203.2 1116.5L1203.5 1120.6L1194.7 1120.9Z" fill="#b4ccff"/><path d="M1212.0 1122.7L1229.3 1122.4L1229.6 1128.0L1212.3 1128.3Z" fill="#b4ccff"/><path d="M1245.8 1135.6L1251.7 1134.2L1253.1 1139.0L1245.8 1139.0Z" fill="#b4ccff"/><path d="M1378.5 948.0L1398.4 946.5L1398.4 949.5L1378.5 950.9Z" fill="#244" stroke="#000" stroke-width="1.0" stroke-linejoin="round"/><path d="M1405.0 959.0L1430.6 948.0L1431.7 950.5L1406.1 961.6Z" fill="#244" stroke="#000" stroke-width="1.0" stroke-linejoin="round"/><path d="M1406.4 930.4L1407.9 929.6L1411.6 933.6L1410.1 934.3Z" fill="#000"/><path d="M1415.2 938.4L1416.7 938.0L1419.3 940.6L1417.9 941.4Z" fill="#000"/><path d="M1439.5 1004.5L1446.1 1006.3L1445.6 1008.2L1439.0 1006.4Z" fill="#000"/><path d="M1474.7 1033.1L1481.3 1030.2L1485.0 1033.1L1481.3 1038.3Z" fill="#84dc84" stroke="#000" stroke-width="1.2" stroke-linejoin="round"/><path d="M1487.9 1032.1L1496.7 1030.6L1497.0 1033.1L1488.3 1034.6Z" fill="#000"/><path d="M1407.2 1022.9L1416.7 1020.7L1428.4 1019.2L1428.4 1024.3L1418.2 1026.5L1408.6 1028.0Z" fill="#84dc84" stroke="#000" stroke-width="1.3" stroke-linejoin="round"/><path d="M1426.2 1031.7L1429.2 1033.1L1432.1 1039.7L1429.2 1039.0Z" fill="#84dc84" stroke="#000" stroke-width="1.2" stroke-linejoin="round"/><path d="M1589.8 1072.0L1595.3 1074.8L1603.2 1081.1L1611.1 1089.0L1617.9 1094.2L1612.7 1092.6L1608.8 1094.5L1605.6 1098.5L1604.0 1103.2L1600.1 1108.0L1595.3 1110.4L1593.8 1113.9L1592.6 1108.8L1594.5 1102.5L1596.5 1098.5L1592.2 1093.8L1590.6 1088.2L1591.4 1081.1Z" fill="#84dc84"/><path d="M1595.3 1079.5L1601.7 1081.1L1607.2 1087.4L1609.6 1091.4L1604.8 1095.3L1601.7 1101.7L1598.5 1106.4L1596.1 1103.2L1598.5 1096.9L1594.5 1090.6L1593.8 1084.3Z" fill="#b4ccff"/><path d="M1596.9 1081.1L1602.5 1083.1L1606.4 1089.0L1603.2 1092.2L1598.5 1088.2Z" fill="#5c9cff"/><path d="M1617.9 1094.2L1612.7 1092.6L1608.8 1094.5L1605.6 1098.5L1604.0 1103.2L1600.1 1108.0L1595.3 1110.4L1593.8 1113.9L1592.6 1108.8L1594.5 1102.5L1596.5 1098.5L1592.2 1093.8L1590.6 1088.2L1591.4 1081.1L1589.8 1072.0" fill="none" stroke="#000" stroke-width="1.5" stroke-linejoin="round"/><path d="M1595.3 1122.2L1598.5 1118.7L1603.2 1120.6L1607.2 1120.2L1611.1 1119.8L1615.1 1123.0L1616.3 1127.0L1612.7 1129.3L1608.0 1130.9L1603.2 1129.3L1598.5 1126.2Z" fill="#84dc84" stroke="#000" stroke-width="1.5" stroke-linejoin="round"/><path d="M1623.0 1139.6L1626.2 1134.5L1630.9 1134.5L1636.8 1139.2Z" fill="#b4ccff" stroke="#000" stroke-width="1.4" stroke-linejoin="round"/><path d="M1569.2 1071.6L1570.8 1071.2L1574.8 1074.0L1573.2 1074.4Z" fill="#84dc84"/></g><text font-size="19.5" font-style="italic" text-anchor="middle" transform="translate(1212.0 1068.3) rotate(6) scale(0.82 1)">0</text><text font-size="19.5" font-style="italic" text-anchor="middle" transform="translate(1214.2 1083.0) rotate(6) scale(0.82 1)">0</text><text font-size="19.5" font-style="italic" text-anchor="middle" transform="translate(1245.8 1086.6) rotate(6) scale(0.82 1)">0</text><text font-size="19.5" font-style="italic" text-anchor="middle" transform="translate(1390.4 1070.8) rotate(6) scale(0.82 1)">0</text><text font-size="19.5" font-style="italic" text-anchor="middle" transform="translate(1399.2 1098.4) rotate(6) scale(0.82 1)">0</text><g transform="translate(1181.00,590.50)">
<g stroke="#000" stroke-width="1.05" fill="none" stroke-dasharray="3.3 4.97"><line x1="12.68" y1="50.35" x2="486.3" y2="50.35"/><line x1="12.68" y1="134.90" x2="486.3" y2="134.90"/><line x1="12.68" y1="219.45" x2="486.3" y2="219.45"/><line x1="12.68" y1="304.00" x2="486.3" y2="304.00"/><line x1="12.68" y1="388.55" x2="486.3" y2="388.55"/><line x1="12.68" y1="473.10" x2="486.3" y2="473.10"/></g><g stroke="#000" stroke-width="1.35" fill="none" stroke-dasharray="2.9 5.39"><line x1="37.80" y1="40.87" x2="37.80" y2="548.4"/><line x1="116.54" y1="40.87" x2="116.54" y2="548.4"/><line x1="195.28" y1="40.87" x2="195.28" y2="548.4"/><line x1="274.02" y1="40.87" x2="274.02" y2="548.4"/><line x1="352.76" y1="40.87" x2="352.76" y2="548.4"/><line x1="431.50" y1="40.87" x2="431.50" y2="548.4"/></g><text x="37.50" y="283" class="gl" text-anchor="middle">-126</text><text x="116.24" y="283" class="gl" text-anchor="middle">-124</text><text x="194.98" y="283" class="gl" text-anchor="middle">-122</text><text x="273.72" y="283" class="gl" text-anchor="middle">-120</text><text x="352.46" y="283" class="gl" text-anchor="middle">-118</text><text x="431.20" y="283" class="gl" text-anchor="middle">-116</text><text x="254.2" y="49.80" class="gl" text-anchor="middle">22</text><text x="254.2" y="134.35" class="gl" text-anchor="middle">20</text><text x="254.2" y="218.90" class="gl" text-anchor="middle">18</text><text x="254.2" y="303.45" class="gl" text-anchor="middle">16</text><text x="254.2" y="388.00" class="gl" text-anchor="middle">14</text><text x="254.2" y="472.55" class="gl" text-anchor="middle">12</text><g stroke="#000" stroke-width="1.15" fill="none" stroke-dasharray="12.2 11.4"><path d="M12.65 331.9Q157.7 436.3 302.7 548.3"/><path d="M12.65 444.5Q82.7 495.3 152.7 548.3"/></g><path d="M242.95 294.5H255.95M249.45 288.05V300.95" stroke="#000" stroke-width="4.55" fill="none"/><text x="37" y="65.6" class="tt">2A12 rainrate (mm/hr)</text><text x="438.3" y="522.8" class="pl">(f)</text><rect x="495.0" y="531.48" width="8.9" height="8.81" fill="#8be88b"/><rect x="495.0" y="523.02" width="8.9" height="8.81" fill="#86e186"/><rect x="495.0" y="514.56" width="8.9" height="8.81" fill="#80da80"/><rect x="495.0" y="506.10" width="8.9" height="8.81" fill="#7bd27b"/><rect x="495.0" y="497.64" width="8.9" height="8.81" fill="#76cb76"/><rect x="495.0" y="489.18" width="8.9" height="8.81" fill="#70c470"/><rect x="495.0" y="480.72" width="8.9" height="8.81" fill="#6bbd6b"/><rect x="495.0" y="472.26" width="8.9" height="8.81" fill="#d0d8ff"/><rect x="495.0" y="463.80" width="8.9" height="8.81" fill="#bed2ff"/><rect x="495.0" y="455.34" width="8.9" height="8.81" fill="#accbff"/><rect x="495.0" y="446.88" width="8.9" height="8.81" fill="#9ac4ff"/><rect x="495.0" y="438.42" width="8.9" height="8.81" fill="#88c0ff"/><rect x="495.0" y="429.96" width="8.9" height="8.81" fill="#76baff"/><rect x="495.0" y="421.50" width="8.9" height="8.81" fill="#60b4ff"/><rect x="495.0" y="413.04" width="8.9" height="8.81" fill="#4ea7ff"/><rect x="495.0" y="404.58" width="8.9" height="8.81" fill="#488cff"/><rect x="495.0" y="396.12" width="8.9" height="8.81" fill="#4277ff"/><rect x="495.0" y="387.66" width="8.9" height="8.81" fill="#3e60ff"/><rect x="495.0" y="379.20" width="8.9" height="8.81" fill="#3948ff"/><rect x="495.0" y="370.74" width="8.9" height="8.81" fill="#3030ff"/><rect x="495.0" y="362.28" width="8.9" height="8.81" fill="#0000ff"/><rect x="495.0" y="353.82" width="8.9" height="8.81" fill="#0000f4"/><rect x="495.0" y="345.36" width="8.9" height="8.81" fill="#0000e9"/><rect x="495.0" y="336.90" width="8.9" height="8.81" fill="#0000de"/><rect x="495.0" y="328.44" width="8.9" height="8.81" fill="#0000d4"/><rect x="495.0" y="319.98" width="8.9" height="8.81" fill="#0000c9"/><rect x="495.0" y="311.52" width="8.9" height="8.81" fill="#0000be"/><rect x="495.0" y="303.06" width="8.9" height="8.81" fill="#ffff00"/><rect x="495.0" y="294.60" width="8.9" height="8.81" fill="#fff600"/><rect x="495.0" y="286.14" width="8.9" height="8.81" fill="#ffee00"/><rect x="495.0" y="277.68" width="8.9" height="8.81" fill="#ffe600"/><rect x="495.0" y="269.22" width="8.9" height="8.81" fill="#ffdd00"/><rect x="495.0" y="260.76" width="8.9" height="8.81" fill="#ffd400"/><rect x="495.0" y="252.30" width="8.9" height="8.81" fill="#ffcc00"/><rect x="495.0" y="243.84" width="8.9" height="8.81" fill="#ff9000"/><rect x="495.0" y="235.38" width="8.9" height="8.81" fill="#ff8a00"/><rect x="495.0" y="226.92" width="8.9" height="8.81" fill="#ff8300"/><rect x="495.0" y="218.46" width="8.9" height="8.81" fill="#ff7d00"/><rect x="495.0" y="210.00" width="8.9" height="8.81" fill="#ff7600"/><rect x="495.0" y="201.54" width="8.9" height="8.81" fill="#ff7000"/><rect x="495.0" y="193.08" width="8.9" height="8.81" fill="#ff4000"/><rect x="495.0" y="184.62" width="8.9" height="8.81" fill="#ff3900"/><rect x="495.0" y="176.16" width="8.9" height="8.81" fill="#ff3100"/><rect x="495.0" y="167.70" width="8.9" height="8.81" fill="#ff2a00"/><rect x="495.0" y="159.24" width="8.9" height="8.81" fill="#ff2300"/><rect x="495.0" y="150.78" width="8.9" height="8.81" fill="#ff1b00"/><rect x="495.0" y="142.32" width="8.9" height="8.81" fill="#ff1400"/><rect x="495.0" y="133.86" width="8.9" height="8.81" fill="#c80000"/><rect x="495.0" y="125.40" width="8.9" height="8.81" fill="#c10201"/><rect x="495.0" y="116.94" width="8.9" height="8.81" fill="#bb0501"/><rect x="495.0" y="108.48" width="8.9" height="8.81" fill="#b40702"/><rect x="495.0" y="100.02" width="8.9" height="8.81" fill="#ad0903"/><rect x="495.0" y="91.56" width="8.9" height="8.81" fill="#a70c03"/><rect x="495.0" y="83.10" width="8.9" height="8.81" fill="#a00e04"/><rect x="495.0" y="74.64" width="8.9" height="8.81" fill="#620c04"/><rect x="495.0" y="66.18" width="8.9" height="8.81" fill="#5e100a"/><rect x="495.0" y="57.72" width="8.9" height="8.81" fill="#5b140f"/><rect x="495.0" y="49.26" width="8.9" height="8.81" fill="#581814"/><rect x="495.0" y="40.80" width="8.9" height="8.81" fill="#541c1a"/><line x1="503.59999999999997" y1="91.56" x2="506.09999999999997" y2="91.56" stroke="#000" stroke-width="1"/><text x="524.2" y="99.86" class="cb" text-anchor="middle">54</text><line x1="503.59999999999997" y1="142.32" x2="506.09999999999997" y2="142.32" stroke="#000" stroke-width="1"/><text x="524.2" y="150.62" class="cb" text-anchor="middle">48</text><line x1="503.59999999999997" y1="193.08" x2="506.09999999999997" y2="193.08" stroke="#000" stroke-width="1"/><text x="524.2" y="201.38" class="cb" text-anchor="middle">42</text><line x1="503.59999999999997" y1="243.84" x2="506.09999999999997" y2="243.84" stroke="#000" stroke-width="1"/><text x="524.2" y="252.14" class="cb" text-anchor="middle">36</text><line x1="503.59999999999997" y1="294.60" x2="506.09999999999997" y2="294.60" stroke="#000" stroke-width="1"/><text x="524.2" y="302.90" class="cb" text-anchor="middle">30</text><line x1="503.59999999999997" y1="345.36" x2="506.09999999999997" y2="345.36" stroke="#000" stroke-width="1"/><text x="524.2" y="353.66" class="cb" text-anchor="middle">24</text><line x1="503.59999999999997" y1="396.12" x2="506.09999999999997" y2="396.12" stroke="#000" stroke-width="1"/><text x="524.2" y="404.42" class="cb" text-anchor="middle">18</text><line x1="503.59999999999997" y1="446.88" x2="506.09999999999997" y2="446.88" stroke="#000" stroke-width="1"/><text x="524.2" y="455.18" class="cb" text-anchor="middle">12</text><line x1="503.59999999999997" y1="497.64" x2="506.09999999999997" y2="497.64" stroke="#000" stroke-width="1"/><text x="524.2" y="505.94" class="cb" text-anchor="middle">6</text><line x1="503.59999999999997" y1="548.40" x2="506.09999999999997" y2="548.40" stroke="#000" stroke-width="1"/><text x="524.2" y="556.70" class="cb" text-anchor="middle">0</text></g>
<defs><clipPath id="clipg"><path d="M12.7 1380.4L200 1516L330 1614L450 1705L476.3 1729.7H12.7Z"/></clipPath><linearGradient id="gg" gradientUnits="userSpaceOnUse" x1="100" y1="1420" x2="180" y2="1730"><stop offset="0" stop-color="#d6d6d6"/><stop offset="0.45" stop-color="#cfcfcf"/><stop offset="0.7" stop-color="#dedede"/><stop offset="1" stop-color="#e4e4e4"/></linearGradient></defs><g clip-path="url(#clipg)"><rect x="12" y="1375" width="470" height="356" fill="url(#gg)"/><g filter="url(#bl6)"><ellipse cx="85.0" cy="1520.0" rx="32.0" ry="40.0" fill="#c8c8c8" transform="rotate(-35 85.0 1520.0)"/><ellipse cx="40.0" cy="1600.0" rx="30.0" ry="25.0" fill="#dedede"/><ellipse cx="170.0" cy="1590.0" rx="50.0" ry="15.0" fill="#e6e6e6" transform="rotate(10 170.0 1590.0)"/><ellipse cx="300.0" cy="1700.0" rx="60.0" ry="25.0" fill="#e2e2e2"/><ellipse cx="60.0" cy="1470.0" rx="20.0" ry="50.0" fill="#dcdcdc" transform="rotate(-30 60.0 1470.0)"/></g><path d="M115.2 1472.2L121.4 1482.9L132.7 1497.0L141.2 1514.0L146.8 1528.1L158.1 1539.4L169.4 1550.7L180.7 1559.2L197.6 1567.6L214.6 1571.9L231.5 1576.1L245.6 1580.3L248.4 1573.8L262.6 1567.6L272.4 1569.3L282.3 1567.6L146.8 1466.0Z" fill="#9ccff0"/><path d="M118.0 1475.0L125.6 1478.7L135.5 1494.2L145.4 1512.6L152.5 1528.1L162.3 1538.8L173.6 1548.4L184.9 1556.3L199.0 1564.2L216.0 1568.5L232.1 1572.7L245.1 1576.1L247.9 1571.0L262.6 1564.8L282.3 1567.6L149.6 1468.8L141.2 1477.3L132.7 1482.9Z" fill="#8cb8ff"/><path d="M132.7 1494.2L146.8 1511.2L155.3 1526.7L166.6 1537.1L177.9 1545.6L189.2 1552.9L201.9 1559.7L217.4 1564.8L232.9 1568.5L248.4 1567.6L282.3 1567.6L158.1 1477.3L146.8 1488.6Z" fill="#3c68f4"/><path d="M145.4 1497.0L158.1 1494.2L169.4 1501.3L180.7 1502.7L186.3 1512.6L197.6 1519.6L208.9 1526.7L220.2 1531.5L231.5 1536.6L242.8 1542.8L251.3 1549.3L250.7 1553.5L231.5 1544.5L220.2 1540.0L211.7 1542.8L200.5 1537.1L189.2 1531.5L177.9 1523.0L166.6 1516.0L160.9 1507.5L146.8 1506.1Z" fill="#1430e4"/><path d="M209.9 1534.7h.01M201.5 1550.4h.01M189.8 1544.5h.01M221.3 1529.8h.01M153.6 1497.6h.01M158.2 1521.2h.01M146.4 1509.6h.01M170.2 1533.1h.01M215.4 1530.0h.01" stroke="#2448ec" stroke-width="2.5" stroke-linecap="square" fill="none"/><path d="M161.0 1498.2h.01M155.0 1494.5h.01M219.0 1564.6h.01M170.0 1507.3h.01M251.2 1558.3h.01M262.0 1561.3h.01M217.8 1538.7h.01M161.1 1495.5h.01" stroke="#1430e4" stroke-width="3.0" stroke-linecap="square" fill="none"/><path d="M229.1 1559.9h.01M149.3 1508.4h.01M238.4 1562.0h.01M225.3 1558.9h.01M155.4 1513.3h.01M173.5 1525.6h.01M188.9 1542.8h.01M193.9 1553.6h.01M140.5 1491.8h.01M218.3 1561.5h.01" stroke="#6ca0ff" stroke-width="2.5" stroke-linecap="square" fill="none"/><path d="M235.5 1555.4h.01M147.8 1499.3h.01M210.3 1540.4h.01M251.1 1565.1h.01M262.6 1562.5h.01M223.8 1563.7h.01M149.4 1508.2h.01M176.6 1527.2h.01M143.2 1495.6h.01M224.2 1562.4h.01M196.0 1548.8h.01M213.7 1524.9h.01M213.7 1530.4h.01" stroke="#1430e4" stroke-width="2.5" stroke-linecap="square" fill="none"/><path d="M247.2 1561.2h.01M170.3 1536.0h.01M241.3 1551.7h.01M220.3 1553.3h.01M229.8 1539.2h.01M228.2 1557.4h.01" stroke="#6ca0ff" stroke-width="3.0" stroke-linecap="square" fill="none"/><path d="M181.3 1527.6h.01M212.5 1545.2h.01M185.9 1521.5h.01M215.0 1563.8h.01M194.7 1514.9h.01M179.5 1505.3h.01M187.5 1533.2h.01M235.0 1548.2h.01M140.5 1495.4h.01M202.9 1516.4h.01M161.3 1491.0h.01M144.6 1501.7h.01M152.9 1507.2h.01M239.0 1548.7h.01" stroke="#c4d6ff" stroke-width="2.5" stroke-linecap="square" fill="none"/><path d="M163.0 1522.6h.01M253.8 1554.9h.01M144.7 1497.9h.01M178.3 1523.0h.01M260.6 1567.5h.01M152.7 1487.9h.01M188.5 1538.9h.01M209.9 1553.5h.01M162.5 1517.0h.01" stroke="#86d886" stroke-width="2.0" stroke-linecap="square" fill="none"/><path d="M220.2 1546.4h.01M214.1 1525.8h.01M164.2 1487.6h.01M148.4 1503.4h.01M153.3 1484.8h.01M161.1 1487.0h.01M171.4 1493.1h.01M141.0 1498.9h.01M150.9 1494.0h.01M156.1 1501.0h.01" stroke="#c4d6ff" stroke-width="2.0" stroke-linecap="square" fill="none"/><path d="M197.9 1541.7h.01M223.6 1533.5h.01M178.0 1533.9h.01M220.9 1554.1h.01M155.0 1517.8h.01M177.0 1544.9h.01M171.7 1496.6h.01M167.7 1516.5h.01M244.6 1553.2h.01M193.1 1540.3h.01M220.1 1553.5h.01M202.3 1545.8h.01M260.4 1567.3h.01" stroke="#1430e4" stroke-width="2.0" stroke-linecap="square" fill="none"/><path d="M197.2 1556.7h.01M195.3 1520.7h.01" stroke="#c4d6ff" stroke-width="1.5" stroke-linecap="square" fill="none"/><path d="M165.0 1525.1h.01M173.5 1505.5h.01M205.3 1518.2h.01M209.6 1559.9h.01M234.9 1553.2h.01M248.4 1563.9h.01M191.4 1547.9h.01M204.0 1533.7h.01" stroke="#c4d6ff" stroke-width="3.0" stroke-linecap="square" fill="none"/><path d="M159.5 1506.0h.01M211.2 1545.6h.01M242.9 1563.1h.01M208.7 1558.9h.01M159.4 1503.4h.01M226.9 1542.4h.01M217.8 1558.2h.01M234.3 1548.4h.01M232.3 1565.2h.01" stroke="#a8c8ff" stroke-width="2.5" stroke-linecap="square" fill="none"/><path d="M236.3 1549.4h.01M207.1 1557.3h.01M176.9 1517.2h.01M228.2 1550.2h.01M173.6 1508.8h.01M195.6 1516.4h.01M234.5 1546.3h.01M157.7 1486.9h.01M254.9 1561.3h.01M181.3 1547.6h.01" stroke="#6ca0ff" stroke-width="2.0" stroke-linecap="square" fill="none"/><path d="M152.8 1512.8h.01M209.7 1549.1h.01M231.2 1553.3h.01M146.8 1495.7h.01M166.1 1514.6h.01" stroke="#86d886" stroke-width="1.5" stroke-linecap="square" fill="none"/><path d="M174.3 1512.8h.01M181.2 1508.0h.01M146.0 1496.1h.01M252.0 1564.0h.01M179.7 1508.4h.01M221.5 1562.6h.01M141.9 1503.9h.01M212.9 1562.1h.01M169.2 1517.9h.01M173.4 1521.9h.01M177.4 1505.0h.01M203.8 1556.3h.01M160.7 1517.6h.01M226.8 1537.7h.01M181.2 1515.6h.01M150.0 1502.2h.01" stroke="#86d886" stroke-width="2.5" stroke-linecap="square" fill="none"/><path d="M202.0 1549.8h.01M152.9 1520.3h.01M231.0 1566.7h.01M251.6 1560.4h.01M216.6 1559.7h.01M162.0 1530.1h.01M180.9 1537.0h.01M171.6 1538.1h.01M163.8 1534.0h.01M167.2 1534.1h.01M154.5 1515.3h.01M210.9 1560.2h.01" stroke="#2448ec" stroke-width="2.0" stroke-linecap="square" fill="none"/><path d="M199.1 1540.8h.01M200.0 1549.4h.01M168.3 1495.3h.01M190.2 1551.3h.01M211.6 1553.4h.01M143.8 1495.2h.01M222.2 1531.5h.01M143.3 1498.8h.01M179.7 1540.2h.01M191.6 1544.3h.01M256.1 1563.7h.01" stroke="#a8c8ff" stroke-width="2.0" stroke-linecap="square" fill="none"/><path d="M193.8 1530.9h.01M161.6 1508.3h.01" stroke="#6ca0ff" stroke-width="1.5" stroke-linecap="square" fill="none"/><path d="M151.5 1513.5h.01M191.2 1551.9h.01M185.7 1513.5h.01M155.4 1497.1h.01M154.7 1510.1h.01" stroke="#2448ec" stroke-width="1.5" stroke-linecap="square" fill="none"/><path d="M170.7 1492.7h.01M199.9 1519.0h.01M229.5 1538.6h.01M214.7 1561.6h.01M204.8 1536.7h.01M200.5 1540.6h.01" stroke="#86d886" stroke-width="3.0" stroke-linecap="square" fill="none"/><path d="M151.8 1487.3h.01M175.9 1523.0h.01" stroke="#1430e4" stroke-width="1.5" stroke-linecap="square" fill="none"/><path d="M146.1 1507.7h.01M188.4 1535.8h.01" stroke="#a8c8ff" stroke-width="1.5" stroke-linecap="square" fill="none"/><path d="M198.5 1541.6h.01M155.1 1514.8h.01M157.2 1514.3h.01M170.9 1511.8h.01M171.8 1513.9h.01M185.8 1533.8h.01M196.6 1515.2h.01M183.9 1523.6h.01" stroke="#a8c8ff" stroke-width="3.0" stroke-linecap="square" fill="none"/><path d="M146.8 1505.5L160.9 1506.9L166.6 1515.4L177.9 1522.5L189.2 1530.9L200.5 1536.6L211.7 1542.2L220.2 1539.4L231.5 1543.6L250.7 1552.9L251.3 1558.6L240.0 1558.6L225.9 1561.1L211.7 1556.9L197.6 1551.3L183.5 1544.2L172.2 1538.5L163.7 1530.1L155.3 1523.0L148.2 1513.1Z" fill="#ffe400" stroke="#000" stroke-width="1.2" stroke-linejoin="round"/><path d="M153.9 1510.3L161.5 1512.6L169.4 1523.9L183.5 1533.7L197.6 1541.4L211.7 1547.9L225.9 1550.7L245.6 1554.9L240.0 1556.3L225.9 1557.7L211.7 1553.5L197.6 1547.9L183.5 1540.8L172.2 1533.7L162.3 1525.3L155.3 1518.2Z" fill="#ff9410"/><path d="M200.5 1545.0L211.7 1549.8L225.9 1553.5L240.0 1555.5L225.9 1555.8L211.7 1552.9Z" fill="#ff6a08"/><path d="M179.3 1501.3L183.5 1511.2L194.8 1519.6L206.1 1525.3L217.4 1530.9L228.7 1536.6L240.0 1542.2L251.3 1548.4L271.0 1564.8L180.7 1494.2Z" fill="#ffe400"/><path d="M179.3 1501.3L183.5 1511.2L194.8 1519.6L206.1 1525.3L217.4 1530.9L228.7 1536.6L240.0 1542.2L251.3 1548.4" fill="none" stroke="#000" stroke-width="1.2" stroke-linejoin="round"/><path d="M184.9 1505.5L197.6 1516.8L211.7 1523.9L225.9 1532.3L240.0 1539.4L251.3 1546.5L271.0 1564.8L180.7 1494.2Z" fill="#ff9410"/><path d="M197.6 1514.0L214.6 1523.0L232.9 1533.7L251.3 1545.0L271.0 1564.8L192.0 1502.7Z" fill="#ff6a08"/><path d="M231.5 1563.4L240.0 1562.0L245.6 1565.4L240.0 1569.0L232.9 1567.6Z" fill="#ffd000" stroke="#000" stroke-width="1.1" stroke-linejoin="round"/><path d="M115.2 1472.2L121.4 1482.9L132.7 1497.0L141.2 1514.0L146.8 1528.1L158.1 1539.4L169.4 1550.7L180.7 1559.2L197.6 1567.6L214.6 1571.9L231.5 1576.1L245.6 1580.3L248.4 1573.8L262.6 1567.6L272.4 1569.3" fill="none" stroke="#000" stroke-width="1.2" stroke-linejoin="round"/><path d="M119.9 1472.3L118.2 1461.0L158.9 1482.4L149.9 1484.5L144.2 1489.2L141.4 1485.8L137.4 1484.1L134.1 1479.1L132.9 1486.4L131.2 1487.0L128.4 1483.0L125.0 1477.9L122.2 1474.5Z" fill="#cbcbcb"/><path d="M149.9 1484.5L144.2 1489.2L141.4 1485.8L137.4 1484.1L134.1 1479.1L132.9 1486.4L131.2 1487.0L128.4 1483.0L125.0 1477.9L122.2 1474.5L119.9 1472.3" fill="none" stroke="#000" stroke-width="1.2" stroke-linejoin="round"/><path d="M132.9 1486.4L134.1 1479.1L137.4 1484.1L141.4 1485.8L144.2 1489.2L149.9 1484.1L158.9 1485.8L149.9 1489.2L142.0 1493.7L135.2 1490.3Z" fill="#86d886"/><path d="M123.3 1467.8L125.6 1466.1L127.8 1470.6L124.5 1471.1Z" fill="#86d886" stroke="#000" stroke-width="1.1" stroke-linejoin="round"/><path d="M141.4 1520.8L143.7 1519.7L147.6 1524.2L151.0 1527.6L148.7 1528.7L144.2 1525.9Z" fill="#86d886" stroke="#000" stroke-width="1.0" stroke-linejoin="round"/><path d="M264.9 1597.2L267.8 1581.6L270.6 1576.0L276.2 1577.4L279.1 1578.8L290.3 1585.9L298.8 1591.5L296.0 1597.2L284.7 1600.0L273.4 1601.4Z" fill="#8cb8ff" stroke="#000" stroke-width="1.2" stroke-linejoin="round"/><path d="M274.8 1584.5L283.3 1583.0L293.2 1590.1L287.5 1595.8L276.2 1597.2Z" fill="#3c68f4"/><path d="M279.1 1590.1L283.3 1585.2L288.2 1584.5L288.9 1588.0L283.3 1592.9Z" fill="#ffd000"/><path d="M266.3 1571.8L273.4 1570.3L276.2 1576.0L270.6 1578.8L264.9 1577.4Z" fill="#86d886" stroke="#000" stroke-width="1.0" stroke-linejoin="round"/><path d="M252.9 1594.3L255.8 1591.5L258.6 1592.9L257.2 1597.2L253.6 1597.2Z" fill="#86d886" stroke="#000" stroke-width="1.0" stroke-linejoin="round"/><path d="M290.3 1615.5L301.6 1614.1L312.9 1609.9L317.2 1604.2L389.2 1659.3L390.6 1677.6L394.8 1688.9L387.7 1691.7L375.0 1690.3L369.4 1697.4L363.7 1708.7L355.3 1720.0L349.6 1711.5L341.2 1705.9L332.7 1717.2L335.5 1700.2L327.0 1691.7L318.6 1700.2L310.1 1708.7L304.5 1711.5L307.3 1700.2L301.6 1691.7L310.1 1686.1L301.6 1677.6L293.2 1673.4L279.1 1676.2L270.6 1677.6L267.8 1691.7L262.1 1703.0L253.6 1705.9L242.3 1708.7L233.9 1717.2L214.1 1720.0L200.0 1712.9L188.7 1705.9L188.7 1621.2L200.0 1615.5L208.5 1612.7L216.9 1621.2L228.2 1618.3L242.3 1615.5L246.6 1611.3L256.5 1608.5L262.1 1612.7L262.1 1621.2L270.6 1624.0L270.6 1635.3L276.2 1635.3L284.7 1629.6L287.5 1621.2Z" fill="#8cb8ff"/><path d="M290.3 1615.5L301.6 1614.1L312.9 1609.9L317.2 1604.2" fill="none" stroke="#000" stroke-width="1.2" stroke-linejoin="round"/><path d="M389.2 1659.3L390.6 1677.6L394.8 1688.9L387.7 1691.7L375.0 1690.3L369.4 1697.4L363.7 1708.7L355.3 1720.0L349.6 1711.5L341.2 1705.9L332.7 1717.2L335.5 1700.2L327.0 1691.7L318.6 1700.2L310.1 1708.7L304.5 1711.5L307.3 1700.2L301.6 1691.7L310.1 1686.1L301.6 1677.6L293.2 1673.4L279.1 1676.2L270.6 1677.6L267.8 1691.7L262.1 1703.0L253.6 1705.9L242.3 1708.7L233.9 1717.2L214.1 1720.0L200.0 1712.9" fill="none" stroke="#000" stroke-width="1.2" stroke-linejoin="round"/><path d="M200.0 1615.5L208.5 1612.7L216.9 1621.2L228.2 1618.3L242.3 1615.5L246.6 1611.3L256.5 1608.5L262.1 1612.7L262.1 1621.2L270.6 1624.0L270.6 1635.3L276.2 1635.3L284.7 1629.6L287.5 1621.2L290.3 1615.5" fill="none" stroke="#000" stroke-width="1.2" stroke-linejoin="round"/><path d="M298.8 1621.2L312.9 1615.5L327.0 1621.2L341.2 1632.5L355.3 1643.7L369.4 1656.5L383.5 1667.7L386.3 1683.3L375.0 1684.7L363.7 1691.7L355.3 1705.9L346.8 1700.2L335.5 1691.7L324.2 1686.1L312.9 1691.7L304.5 1683.3L298.8 1669.2L301.6 1655.0L307.3 1643.7L298.8 1635.3Z" fill="#3c68f4" opacity="0.42"/><path d="M190.3 1693.6h.01M285.8 1632.3h.01M296.0 1625.6h.01M207.3 1669.0h.01M369.6 1673.8h.01M246.4 1630.0h.01M214.9 1677.0h.01M272.4 1636.1h.01M211.7 1655.9h.01M265.4 1686.2h.01M221.1 1622.8h.01M229.7 1705.8h.01M314.1 1620.2h.01M223.6 1693.4h.01M316.8 1684.0h.01M252.9 1630.8h.01M351.8 1641.3h.01M250.7 1651.0h.01M319.2 1640.3h.01M300.7 1672.6h.01M309.3 1680.8h.01M260.6 1613.7h.01M267.2 1672.5h.01M365.1 1678.2h.01M317.4 1671.8h.01M320.3 1654.3h.01M253.4 1668.6h.01M288.8 1667.1h.01M368.1 1692.2h.01M214.5 1675.4h.01M277.4 1671.6h.01" stroke="#c4d6ff" stroke-width="3.0" stroke-linecap="square" fill="none"/><path d="M222.6 1655.4h.01M299.7 1661.5h.01M238.9 1675.5h.01M277.0 1643.8h.01M221.9 1626.4h.01M318.8 1666.6h.01M231.5 1666.0h.01M212.3 1661.3h.01M219.6 1661.6h.01M367.2 1677.7h.01M349.5 1687.8h.01M341.2 1648.7h.01M331.5 1679.7h.01M389.8 1686.1h.01M321.5 1644.3h.01M287.4 1629.8h.01M305.5 1691.2h.01M251.3 1680.5h.01M289.2 1660.3h.01M255.6 1674.7h.01M294.1 1639.8h.01M387.8 1664.5h.01M220.5 1678.9h.01M256.5 1665.2h.01M232.0 1701.7h.01M260.4 1686.5h.01M226.8 1635.3h.01M234.2 1694.8h.01M256.5 1675.7h.01M383.1 1660.6h.01M294.3 1618.7h.01M339.4 1635.1h.01M369.9 1646.3h.01M218.7 1671.8h.01" stroke="#a8c8ff" stroke-width="3.0" stroke-linecap="square" fill="none"/><path d="M296.9 1647.1h.01M199.6 1672.3h.01M194.6 1625.7h.01M270.1 1652.6h.01M292.2 1622.8h.01M306.7 1628.6h.01M190.2 1701.8h.01M339.0 1635.4h.01M310.0 1652.6h.01M205.2 1615.8h.01M282.2 1673.6h.01M297.4 1674.1h.01M342.2 1678.1h.01M343.0 1639.5h.01M238.5 1625.1h.01M255.9 1698.1h.01" stroke="#a8c8ff" stroke-width="1.5" stroke-linecap="square" fill="none"/><path d="M205.1 1619.2h.01M199.5 1625.5h.01M362.5 1688.6h.01M370.2 1665.5h.01M342.2 1667.3h.01M329.1 1624.8h.01M314.6 1641.9h.01M258.8 1701.6h.01M253.2 1636.3h.01M294.9 1629.1h.01M228.1 1654.8h.01M238.7 1649.3h.01M241.8 1618.5h.01M229.9 1683.8h.01M263.5 1638.1h.01M233.6 1702.4h.01M236.6 1713.3h.01M274.8 1642.0h.01M336.7 1678.6h.01M299.7 1651.6h.01M203.1 1700.5h.01M286.8 1630.8h.01M256.9 1687.2h.01M311.4 1664.2h.01M220.0 1696.2h.01M290.3 1627.2h.01M309.2 1615.0h.01M239.9 1691.1h.01M203.5 1652.0h.01M217.3 1696.2h.01M340.5 1682.8h.01M214.9 1713.9h.01M310.0 1676.2h.01M301.5 1614.4h.01M369.1 1685.8h.01M279.4 1652.3h.01M221.1 1627.9h.01M224.5 1671.2h.01" stroke="#1430e4" stroke-width="2.0" stroke-linecap="square" fill="none"/><path d="M245.8 1656.1h.01M193.5 1705.8h.01M264.0 1688.9h.01M235.3 1632.7h.01M218.4 1671.6h.01M304.7 1651.5h.01M224.4 1698.3h.01M242.8 1631.6h.01M277.7 1672.9h.01M231.2 1639.2h.01M329.1 1625.3h.01M245.6 1684.3h.01M314.8 1692.7h.01M322.9 1612.1h.01M240.1 1687.8h.01M382.8 1672.1h.01M238.4 1639.4h.01M270.7 1639.4h.01M313.2 1669.8h.01M381.6 1656.2h.01M215.0 1708.1h.01M357.9 1704.1h.01M335.5 1704.5h.01M225.8 1645.5h.01M285.4 1655.6h.01M296.4 1639.0h.01M263.9 1697.5h.01M231.2 1668.1h.01M208.3 1633.2h.01M307.5 1615.7h.01M296.4 1645.0h.01M257.3 1694.2h.01M200.8 1630.4h.01M289.1 1629.2h.01M234.8 1635.7h.01M219.0 1645.8h.01" stroke="#a8c8ff" stroke-width="2.5" stroke-linecap="square" fill="none"/><path d="M299.2 1660.8h.01M276.5 1667.4h.01M288.5 1626.9h.01M221.3 1623.7h.01M313.3 1639.2h.01M316.9 1631.2h.01M221.7 1683.4h.01M333.4 1658.9h.01M362.6 1658.8h.01M354.3 1645.3h.01M345.0 1691.6h.01M262.5 1695.0h.01M383.9 1688.1h.01M229.0 1642.7h.01M344.9 1664.8h.01M343.6 1635.2h.01M341.2 1623.2h.01M337.9 1687.8h.01M243.5 1644.8h.01M241.1 1620.4h.01M340.3 1651.1h.01M321.0 1669.2h.01M327.5 1638.0h.01M349.3 1651.2h.01M212.4 1620.1h.01M189.7 1695.6h.01M229.6 1630.3h.01M241.0 1667.3h.01M254.6 1656.5h.01M231.7 1620.7h.01M304.9 1652.6h.01M336.6 1666.0h.01M243.9 1679.1h.01M221.2 1657.2h.01M299.2 1633.7h.01M292.1 1637.6h.01M247.9 1648.7h.01M322.5 1645.7h.01M373.2 1685.3h.01M285.0 1656.1h.01M349.4 1640.8h.01M386.4 1675.0h.01M366.6 1697.4h.01M335.5 1695.9h.01M226.2 1699.4h.01M318.3 1673.8h.01M232.0 1686.0h.01M351.1 1656.3h.01M325.5 1611.3h.01M279.8 1668.6h.01M192.5 1706.1h.01M210.9 1699.3h.01M286.6 1661.4h.01M235.1 1676.7h.01M331.4 1696.0h.01M240.3 1645.1h.01M331.8 1665.6h.01M264.5 1653.8h.01M278.6 1657.1h.01" stroke="#86d886" stroke-width="2.0" stroke-linecap="square" fill="none"/><path d="M322.4 1643.4h.01M285.2 1632.1h.01M305.3 1661.6h.01M334.0 1627.8h.01M353.7 1646.1h.01M323.2 1613.2h.01M339.9 1639.2h.01M337.7 1621.6h.01M252.9 1627.8h.01M255.4 1640.8h.01M309.7 1639.8h.01M244.1 1661.2h.01M248.3 1679.5h.01M351.3 1650.0h.01M259.7 1691.8h.01M368.9 1676.1h.01M313.3 1626.7h.01M270.5 1626.8h.01M232.8 1657.2h.01M303.5 1634.0h.01M341.1 1638.5h.01M298.8 1651.3h.01M249.0 1629.5h.01M269.2 1680.0h.01M269.6 1672.2h.01M250.2 1639.9h.01M230.7 1633.3h.01M245.9 1632.1h.01M196.9 1680.2h.01M219.8 1624.6h.01M229.4 1651.3h.01M346.4 1677.8h.01M325.3 1648.1h.01M194.7 1638.6h.01M353.0 1657.6h.01M198.9 1643.8h.01M309.4 1685.1h.01M330.1 1642.0h.01M220.5 1697.2h.01M243.2 1638.3h.01M314.1 1621.1h.01M313.5 1683.2h.01M233.3 1657.6h.01M327.2 1666.2h.01M313.2 1676.3h.01M345.8 1661.1h.01" stroke="#c4d6ff" stroke-width="2.5" stroke-linecap="square" fill="none"/><path d="M251.1 1618.3h.01M201.0 1684.8h.01M217.1 1622.4h.01M327.8 1643.9h.01M270.4 1674.5h.01M205.1 1705.1h.01M227.1 1623.0h.01M251.2 1656.9h.01M285.7 1636.7h.01M241.3 1619.3h.01M198.7 1667.1h.01M255.8 1690.5h.01M199.5 1700.7h.01M361.1 1660.1h.01M308.6 1653.0h.01M249.0 1618.7h.01" stroke="#1430e4" stroke-width="3.5" stroke-linecap="square" fill="none"/><path d="M272.3 1671.1h.01M200.0 1648.6h.01M335.5 1651.4h.01M283.6 1667.0h.01M206.8 1690.2h.01M354.7 1659.9h.01M316.3 1640.1h.01M320.2 1606.6h.01M269.3 1678.9h.01M232.2 1635.0h.01M192.1 1659.4h.01M337.5 1659.1h.01M336.9 1692.5h.01M289.5 1636.7h.01M383.7 1672.8h.01M236.1 1678.2h.01M352.2 1692.9h.01M326.9 1676.1h.01M232.7 1688.4h.01M212.8 1712.3h.01M212.3 1699.7h.01M214.7 1648.1h.01M264.6 1651.8h.01M301.5 1630.1h.01M242.6 1703.3h.01M233.9 1714.9h.01M198.7 1706.9h.01M382.0 1658.4h.01M363.8 1644.9h.01M318.4 1671.7h.01M228.8 1679.5h.01M369.7 1649.9h.01M235.5 1634.0h.01M307.1 1677.6h.01M253.0 1680.5h.01M332.4 1675.6h.01M383.6 1689.1h.01M189.9 1633.1h.01M210.5 1671.0h.01M188.8 1696.6h.01M251.5 1685.7h.01M264.8 1666.9h.01M373.8 1649.5h.01M241.2 1658.1h.01M240.3 1641.3h.01M242.0 1625.2h.01M224.7 1702.2h.01M246.2 1671.9h.01M362.7 1678.8h.01M345.9 1680.4h.01M210.2 1674.5h.01M258.1 1664.1h.01M278.8 1634.3h.01" stroke="#c4d6ff" stroke-width="2.0" stroke-linecap="square" fill="none"/><path d="M231.9 1647.2h.01M221.8 1653.9h.01M368.9 1664.8h.01M339.5 1693.5h.01M207.9 1674.9h.01M293.9 1619.4h.01M361.4 1648.8h.01M337.8 1681.8h.01M315.3 1643.7h.01M380.0 1680.5h.01" stroke="#a8c8ff" stroke-width="3.5" stroke-linecap="square" fill="none"/><path d="M234.5 1621.8h.01M308.3 1668.7h.01M362.7 1709.1h.01M341.7 1682.6h.01M342.9 1643.8h.01M233.4 1703.0h.01M306.6 1652.9h.01M307.8 1639.4h.01M315.0 1697.7h.01M203.8 1679.0h.01M312.5 1669.9h.01M250.4 1705.0h.01M336.4 1676.6h.01M249.2 1633.4h.01M259.1 1677.9h.01M200.4 1670.4h.01M238.4 1661.6h.01M342.4 1625.1h.01M307.0 1647.2h.01M369.5 1647.2h.01M318.2 1646.1h.01M303.6 1647.0h.01M195.1 1686.6h.01M299.9 1664.6h.01M328.4 1656.4h.01M356.8 1671.7h.01M263.5 1656.1h.01M353.0 1716.4h.01M372.2 1685.0h.01M352.1 1665.6h.01M340.9 1684.1h.01M249.5 1633.4h.01M293.0 1670.3h.01M257.0 1622.0h.01M262.5 1656.8h.01M209.3 1691.5h.01M263.2 1691.6h.01M309.3 1699.7h.01M359.3 1713.1h.01M233.9 1638.1h.01M207.3 1686.6h.01M207.2 1632.6h.01" stroke="#1430e4" stroke-width="3.0" stroke-linecap="square" fill="none"/><path d="M322.8 1630.8h.01M381.7 1667.2h.01M304.8 1675.8h.01M214.9 1679.2h.01M210.4 1615.0h.01M234.7 1710.3h.01M244.9 1614.2h.01M241.0 1632.1h.01M384.9 1688.0h.01M373.0 1656.1h.01M289.3 1628.1h.01M197.3 1706.5h.01M249.6 1662.5h.01M315.7 1638.9h.01M299.2 1618.3h.01M219.9 1663.1h.01M310.6 1625.8h.01M233.6 1709.9h.01M268.2 1659.4h.01M240.2 1620.0h.01M200.9 1697.9h.01M322.8 1681.9h.01M354.7 1661.3h.01M270.8 1661.9h.01M275.2 1654.6h.01M293.9 1644.3h.01M252.5 1637.8h.01M199.1 1635.2h.01M195.5 1674.5h.01M350.0 1693.9h.01M221.5 1666.3h.01M318.7 1617.0h.01M236.6 1649.6h.01M246.3 1694.4h.01M358.9 1664.4h.01M200.0 1677.4h.01M266.1 1649.4h.01" stroke="#a8c8ff" stroke-width="2.0" stroke-linecap="square" fill="none"/><path d="M231.2 1684.8h.01M342.3 1659.6h.01M194.2 1650.6h.01M353.5 1683.3h.01M362.9 1668.8h.01M204.1 1682.3h.01M196.5 1647.5h.01M226.8 1671.7h.01M344.4 1658.0h.01M211.7 1616.5h.01M364.1 1662.2h.01M328.3 1632.1h.01M312.4 1636.2h.01M292.6 1646.5h.01M239.7 1661.4h.01M275.4 1661.8h.01M267.1 1659.7h.01M268.8 1628.9h.01M299.7 1661.6h.01M327.4 1671.6h.01M219.8 1697.9h.01M376.1 1683.8h.01M292.1 1627.2h.01M255.1 1627.8h.01M196.6 1619.3h.01M334.8 1628.6h.01M303.1 1617.6h.01M295.9 1671.0h.01M189.0 1626.8h.01M194.7 1629.9h.01M197.4 1647.6h.01M248.5 1650.2h.01M285.7 1648.2h.01M193.5 1670.0h.01M189.1 1677.3h.01M230.1 1658.9h.01M350.3 1688.9h.01M204.6 1629.3h.01M345.9 1672.5h.01M252.1 1694.2h.01M269.8 1675.4h.01M245.1 1704.2h.01M200.9 1659.4h.01M292.5 1632.3h.01M299.9 1663.5h.01M337.1 1658.5h.01M389.2 1678.6h.01" stroke="#86d886" stroke-width="2.5" stroke-linecap="square" fill="none"/><path d="M207.2 1619.7h.01M376.6 1650.8h.01M353.5 1683.0h.01M309.2 1677.4h.01M333.6 1696.7h.01M218.5 1624.6h.01M267.6 1672.5h.01M210.1 1655.7h.01M338.3 1677.5h.01M385.0 1659.9h.01M241.0 1663.3h.01M371.2 1656.7h.01M239.3 1669.9h.01M217.2 1663.4h.01M372.5 1664.6h.01M234.7 1651.3h.01M300.3 1631.2h.01M298.6 1653.2h.01M227.9 1672.8h.01M206.9 1658.2h.01M211.7 1641.1h.01M251.2 1622.8h.01M318.1 1694.5h.01M201.3 1674.6h.01M322.6 1641.9h.01M325.5 1656.9h.01M208.0 1621.0h.01M341.1 1669.0h.01M285.7 1628.8h.01M198.7 1708.1h.01M236.2 1708.0h.01M294.7 1644.2h.01M269.0 1658.7h.01M255.5 1653.8h.01M205.7 1672.1h.01M219.9 1651.9h.01M230.0 1619.9h.01" stroke="#1430e4" stroke-width="2.5" stroke-linecap="square" fill="none"/><path d="M209.0 1658.1h.01M387.5 1663.4h.01M374.0 1667.5h.01M225.3 1670.0h.01M243.9 1664.7h.01M353.8 1695.6h.01M246.0 1657.1h.01M226.2 1647.6h.01M366.4 1690.3h.01M364.8 1683.4h.01M197.9 1671.3h.01M227.8 1687.3h.01M275.2 1676.0h.01M319.5 1687.5h.01M376.4 1687.9h.01M198.9 1678.3h.01M317.3 1666.8h.01M316.0 1674.3h.01M216.5 1638.0h.01M198.5 1666.8h.01M238.7 1650.6h.01M238.1 1670.1h.01M210.2 1714.6h.01M295.5 1662.3h.01M366.5 1657.8h.01M289.3 1674.0h.01M260.2 1697.3h.01M251.5 1653.1h.01M389.7 1680.6h.01M352.5 1681.8h.01" stroke="#2448ec" stroke-width="2.5" stroke-linecap="square" fill="none"/><path d="M242.5 1632.0h.01M336.1 1621.1h.01M365.5 1675.0h.01M290.9 1661.7h.01M200.4 1656.8h.01M254.0 1661.9h.01M218.9 1647.2h.01M238.4 1678.5h.01M345.0 1686.5h.01M349.4 1651.5h.01M191.4 1705.5h.01M210.6 1691.4h.01M390.6 1688.8h.01M191.9 1707.3h.01M307.3 1678.6h.01" stroke="#86d886" stroke-width="1.5" stroke-linecap="square" fill="none"/><path d="M246.5 1657.3h.01M275.4 1643.0h.01M375.6 1665.9h.01M265.0 1647.0h.01M315.2 1625.7h.01" stroke="#6ca0ff" stroke-width="3.5" stroke-linecap="square" fill="none"/><path d="M213.5 1698.2h.01M225.5 1692.7h.01M322.7 1624.2h.01M358.8 1636.1h.01M369.2 1691.2h.01M216.7 1640.3h.01M305.4 1629.4h.01M262.9 1648.7h.01M389.7 1675.0h.01M341.2 1650.1h.01" stroke="#86d886" stroke-width="3.5" stroke-linecap="square" fill="none"/><path d="M320.5 1637.4h.01M226.5 1655.2h.01M321.1 1661.1h.01M233.2 1643.6h.01M374.2 1666.0h.01M322.5 1619.4h.01M311.8 1668.9h.01M227.6 1703.7h.01M294.2 1669.4h.01M279.0 1664.4h.01M346.1 1679.9h.01M269.6 1637.8h.01M217.1 1674.7h.01M339.4 1654.1h.01M235.4 1665.1h.01M341.3 1656.1h.01M213.5 1691.8h.01M207.3 1684.3h.01M248.6 1619.7h.01M219.4 1669.2h.01" stroke="#2448ec" stroke-width="3.0" stroke-linecap="square" fill="none"/><path d="M328.5 1690.0h.01M338.8 1698.7h.01M200.0 1705.4h.01M190.2 1646.4h.01M356.3 1658.3h.01M217.3 1642.8h.01M210.1 1620.2h.01M238.4 1629.8h.01M363.4 1644.7h.01M309.8 1642.2h.01M231.7 1663.3h.01M243.2 1654.1h.01M355.0 1711.4h.01M241.4 1692.5h.01M273.3 1667.3h.01M188.9 1697.8h.01M316.1 1630.6h.01M222.7 1691.7h.01" stroke="#6ca0ff" stroke-width="2.5" stroke-linecap="square" fill="none"/><path d="M243.9 1660.9h.01M324.0 1669.6h.01M319.1 1689.7h.01M225.5 1671.2h.01M224.6 1712.3h.01M225.1 1647.9h.01M203.4 1643.4h.01M244.5 1649.9h.01M264.2 1654.6h.01M235.3 1620.8h.01M205.8 1710.7h.01M261.5 1622.2h.01M209.7 1621.3h.01M372.3 1686.5h.01M257.3 1647.8h.01M247.1 1706.5h.01M352.3 1636.8h.01M205.0 1683.4h.01M308.4 1667.2h.01M350.9 1686.4h.01M275.5 1643.7h.01M326.4 1629.8h.01M191.0 1660.9h.01M192.8 1705.0h.01M277.3 1674.5h.01" stroke="#2448ec" stroke-width="2.0" stroke-linecap="square" fill="none"/><path d="M308.6 1645.4h.01M195.2 1677.9h.01M329.6 1658.5h.01M346.3 1650.2h.01M315.7 1637.6h.01M251.0 1668.3h.01M199.0 1672.1h.01M308.1 1667.5h.01M284.6 1645.8h.01M271.0 1645.5h.01" stroke="#c4d6ff" stroke-width="3.5" stroke-linecap="square" fill="none"/><path d="M233.1 1647.9h.01M321.3 1639.2h.01M266.4 1683.1h.01M302.7 1667.4h.01M266.6 1652.4h.01M210.1 1652.5h.01M250.3 1610.5h.01M220.6 1677.9h.01M197.3 1622.4h.01M306.2 1662.2h.01M233.2 1645.1h.01M364.6 1658.6h.01M317.2 1657.1h.01M203.2 1651.0h.01M242.3 1618.1h.01M312.9 1666.4h.01M316.7 1630.9h.01M380.8 1685.1h.01M192.5 1665.1h.01M328.8 1620.3h.01M233.2 1677.1h.01M226.4 1693.8h.01M348.7 1683.8h.01M203.8 1623.1h.01M242.0 1637.2h.01" stroke="#6ca0ff" stroke-width="3.0" stroke-linecap="square" fill="none"/><path d="M227.9 1695.6h.01M211.8 1635.8h.01M356.7 1690.5h.01M289.8 1647.5h.01M366.2 1669.3h.01M331.6 1650.6h.01M267.0 1690.8h.01M271.1 1641.1h.01M196.8 1637.1h.01M196.4 1679.5h.01M338.4 1705.5h.01M220.5 1708.9h.01M228.4 1623.7h.01M337.2 1627.3h.01M224.7 1712.7h.01M355.7 1658.5h.01M312.2 1620.1h.01M386.0 1688.1h.01M198.6 1639.7h.01" stroke="#6ca0ff" stroke-width="2.0" stroke-linecap="square" fill="none"/><path d="M255.0 1691.8h.01M355.6 1649.1h.01M364.8 1700.9h.01M337.9 1668.1h.01M335.0 1658.6h.01M266.4 1694.1h.01M205.9 1645.8h.01M189.4 1664.1h.01M235.1 1694.2h.01M250.9 1612.5h.01M293.8 1640.4h.01M207.5 1618.5h.01M209.9 1717.2h.01M324.3 1614.4h.01M328.9 1622.9h.01M310.5 1671.1h.01M210.6 1677.3h.01M246.9 1702.3h.01M277.1 1676.5h.01M267.3 1629.7h.01M304.7 1652.2h.01M366.8 1682.7h.01M298.9 1620.9h.01M290.2 1634.8h.01M222.7 1635.1h.01M330.8 1675.5h.01M197.8 1702.9h.01M286.7 1641.4h.01M325.9 1692.8h.01M286.6 1649.2h.01M239.0 1675.9h.01M237.5 1640.9h.01M196.7 1697.7h.01M211.6 1663.3h.01M203.3 1615.7h.01M349.4 1632.0h.01M347.2 1630.8h.01M336.0 1700.6h.01M244.1 1617.5h.01M260.7 1673.2h.01" stroke="#86d886" stroke-width="3.0" stroke-linecap="square" fill="none"/><path d="M236.4 1619.5h.01M234.3 1671.2h.01M231.6 1627.8h.01M205.7 1627.1h.01M329.8 1650.2h.01M204.8 1674.0h.01M318.3 1625.0h.01M372.7 1681.4h.01M287.0 1623.6h.01M329.6 1629.3h.01M221.4 1662.2h.01M374.2 1690.9h.01" stroke="#1430e4" stroke-width="1.5" stroke-linecap="square" fill="none"/><path d="M218.1 1626.9h.01M211.8 1679.7h.01M301.4 1616.8h.01M337.4 1654.0h.01M349.7 1696.3h.01M222.9 1622.9h.01M295.1 1643.6h.01M385.7 1668.0h.01M206.5 1702.3h.01M227.6 1662.5h.01M295.7 1670.4h.01" stroke="#2448ec" stroke-width="1.5" stroke-linecap="square" fill="none"/><path d="M203.3 1695.8h.01M323.9 1617.9h.01M222.9 1677.7h.01M361.2 1705.6h.01" stroke="#2448ec" stroke-width="3.5" stroke-linecap="square" fill="none"/><path d="M317.3 1686.6h.01M254.3 1701.2h.01M355.3 1680.6h.01M344.2 1644.3h.01M262.5 1630.0h.01M210.9 1715.3h.01M343.7 1663.0h.01" stroke="#6ca0ff" stroke-width="1.5" stroke-linecap="square" fill="none"/><path d="M362.4 1704.7h.01M349.1 1709.0h.01M335.3 1657.5h.01M335.3 1655.3h.01M253.1 1690.9h.01M333.6 1648.8h.01M363.2 1680.6h.01" stroke="#c4d6ff" stroke-width="1.5" stroke-linecap="square" fill="none"/><path d="M312.9 1688.9L327.0 1686.1L335.5 1691.7L327.0 1700.2L315.8 1705.9L307.3 1700.2Z" fill="#1430e4"/><path d="M284.7 1646.6L298.8 1643.7L304.5 1649.4L290.3 1653.6Z" fill="#1430e4"/><path d="M341.2 1660.7L349.6 1659.3L355.3 1677.6L360.9 1691.7L369.4 1694.6L363.7 1705.9L355.3 1700.2L346.8 1684.7Z" fill="#1430e4" opacity="0.85"/><path d="M279.1 1632.5L290.3 1629.6L298.8 1635.3L307.3 1643.7L298.8 1656.5L290.3 1667.7L279.1 1669.2L273.4 1657.9L276.2 1643.7Z" fill="#86d886" opacity="0.8"/><path d="M345.4 1642.3L352.5 1640.9L353.9 1656.5L346.8 1657.9Z" fill="#86d886"/><path d="M324.2 1624.0L335.5 1621.2L341.2 1629.6L332.7 1635.3Z" fill="#86d886" opacity="0.8"/><path d="M200.0 1621.2L216.9 1626.8L236.7 1622.6L259.3 1618.3L267.8 1629.6L262.1 1635.3L242.3 1632.5L228.2 1636.7L211.3 1639.5L200.0 1638.1Z" fill="#3c68f4" opacity="0.7"/><path d="M200.0 1666.3L216.9 1667.7L236.7 1669.2L253.6 1663.5L264.9 1669.2L259.3 1683.3L248.0 1697.4L233.9 1705.9L216.9 1711.5L200.0 1705.9L191.5 1684.7Z" fill="#3c68f4"/><path d="M225.4 1669.2L242.3 1670.6L248.0 1677.6L236.7 1680.5L226.8 1676.2Z" fill="#1430e4"/><path d="M194.4 1667.7L205.6 1669.2L208.5 1677.6L200.0 1683.3L191.5 1680.5Z" fill="#1430e4"/><path d="M315.8 1646.6L322.8 1629.6L329.9 1626.8L334.1 1635.3L327.0 1643.7L325.6 1653.6L320.0 1657.9Z" fill="#c4c4c4" stroke="#000" stroke-width="1.1" stroke-linejoin="round"/><path d="M352.5 1639.5L358.1 1638.1L363.7 1649.4L362.3 1662.1L355.3 1660.7Z" fill="#c4c4c4" stroke="#000" stroke-width="1.1" stroke-linejoin="round"/><path d="M368.0 1645.2L373.6 1646.6L377.9 1656.5L373.6 1657.9Z" fill="#c4c4c4" stroke="#000" stroke-width="1.1" stroke-linejoin="round"/><path d="M296.0 1662.1L304.5 1660.7L307.3 1669.2L301.6 1674.8L294.6 1670.6Z" fill="#c4c4c4" stroke="#000" stroke-width="1.1" stroke-linejoin="round"/><path d="M307.3 1674.8L315.8 1667.7L324.2 1670.6L329.9 1674.8L327.0 1683.3L318.6 1687.5L311.5 1684.7Z" fill="#c4c4c4" stroke="#000" stroke-width="1.1" stroke-linejoin="round"/><path d="M338.3 1673.4L342.6 1674.8L344.0 1683.3L339.8 1681.9Z" fill="#c4c4c4" stroke="#000" stroke-width="1.1" stroke-linejoin="round"/><path d="M355.3 1670.6L366.6 1672.0L368.0 1679.0L358.1 1680.5Z" fill="#c4c4c4" stroke="#000" stroke-width="1.1" stroke-linejoin="round"/><path d="M372.2 1677.6L382.1 1679.0L380.7 1686.1L373.6 1684.7Z" fill="#c4c4c4" stroke="#000" stroke-width="1.1" stroke-linejoin="round"/><path d="M242.3 1659.3L252.2 1655.0L257.9 1660.7L253.6 1666.3L245.2 1666.3Z" fill="#c4c4c4" stroke="#000" stroke-width="1.1" stroke-linejoin="round"/><path d="M272.0 1642.3L280.5 1640.9L281.9 1648.0L274.8 1649.4Z" fill="#c4c4c4" stroke="#000" stroke-width="1.1" stroke-linejoin="round"/><path d="M205.6 1626.8L228.2 1622.6L246.6 1624.0L242.3 1629.6L222.6 1632.5L208.5 1633.9Z" fill="#c4c4c4" stroke="#000" stroke-width="1.1" stroke-linejoin="round"/><path d="M235.3 1687.5L246.6 1686.1L248.0 1693.2L238.1 1694.6Z" fill="#c4c4c4" stroke="#000" stroke-width="1.1" stroke-linejoin="round"/><path d="M205.6 1669.2L209.9 1667.7L212.7 1673.4L207.1 1674.8Z" fill="#c4c4c4" stroke="#000" stroke-width="1.1" stroke-linejoin="round"/><path d="M194.4 1653.6L200.0 1652.2L208.5 1648.0L216.9 1645.2L228.2 1646.6L236.7 1642.3L248.0 1640.9L249.4 1648.0L242.3 1653.6L233.9 1657.9L222.6 1663.5L208.5 1663.5L200.0 1660.7L194.4 1662.1Z" fill="#ffc000"/><path d="M194.4 1653.6L200.0 1652.2L208.5 1648.0L216.9 1645.2L228.2 1646.6L236.7 1642.3L248.0 1640.9L249.4 1648.0L242.3 1653.6L233.9 1657.9L222.6 1663.5L208.5 1663.5L200.0 1660.7L194.4 1662.1" fill="none" stroke="#000" stroke-width="1.2" stroke-linejoin="round"/><path d="M200.0 1653.6L211.3 1649.4L228.2 1648.7L246.6 1643.7L242.3 1651.5L228.2 1656.5L214.1 1661.4L200.0 1659.3Z" fill="#ff6a08"/><path d="M207.1 1654.3L212.7 1652.2L218.4 1655.7L214.1 1658.1L208.5 1657.6Z" fill="#e02410" stroke="#000" stroke-width="1.0" stroke-linejoin="round"/><path d="M240.9 1638.1L250.8 1633.9L262.1 1635.3L263.5 1638.1L253.6 1640.9L245.2 1642.3Z" fill="#ffd800" stroke="#000" stroke-width="1.0" stroke-linejoin="round"/><path d="M209.9 1680.5L215.5 1676.2L224.0 1676.2L225.4 1680.5L219.8 1684.7L212.7 1686.1Z" fill="#e02410" stroke="#000" stroke-width="1.1" stroke-linejoin="round"/><path d="M202.8 1700.2L208.5 1696.0L216.9 1700.2L225.4 1701.6L226.8 1708.7L218.4 1711.5L208.5 1707.3Z" fill="#ffd000" stroke="#000" stroke-width="1.1" stroke-linejoin="round"/><path d="M207.1 1700.2L215.5 1703.0L222.6 1705.9L216.9 1708.7L209.9 1705.2Z" fill="#ff9410"/><path d="M255.1 1669.9L260.0 1669.2L260.7 1676.9L255.8 1677.6Z" fill="#ffd000" stroke="#000" stroke-width="1.0" stroke-linejoin="round"/><path d="M290.3 1645.2L294.6 1643.7L295.3 1646.6L291.1 1647.7Z" fill="#ffd000"/><path d="M389.0 1660.5L387.6 1667.2L389.5 1674.9L392.4 1682.6L397.2 1686.4L401.0 1692.2L403.0 1699.8L406.8 1705.6L410.6 1711.3L416.4 1712.3L422.2 1714.2L426.0 1710.4L429.8 1705.6L430.8 1696.0L433.2 1693.6Z" fill="#ffe800" stroke="#000" stroke-width="1.3" stroke-linejoin="round"/><path d="M397.2 1667.2L396.2 1674.9L401.0 1684.5L405.8 1696.0L409.7 1703.7L416.4 1706.5L423.1 1704.6L427.9 1697.0L431.8 1693.6Z" fill="#ff9410"/><path d="M401.0 1671.0L403.0 1680.6L406.8 1689.3L411.6 1698.9L419.3 1701.8L426.0 1696.0L430.8 1693.6Z" fill="#ff6a08"/><path d="M403.0 1680.6L406.8 1675.8L413.5 1679.7L420.2 1686.4L425.0 1691.2L423.1 1696.0L416.4 1697.0L411.6 1692.2L405.8 1686.4Z" fill="#e02410" stroke="#000" stroke-width="1.2" stroke-linejoin="round"/><path d="M393.4 1666.2L396.2 1666.2L397.2 1675.8L394.3 1676.8Z" fill="#1430e4" stroke="#000" stroke-width="1.0" stroke-linejoin="round"/><path d="M426.0 1710.4L427.9 1718.1L424.1 1723.8L422.2 1730.5L464.4 1730.5L458.6 1720.0L453.8 1714.7L445.2 1714.2L435.6 1709.4Z" fill="#ffa010" stroke="#000" stroke-width="1.3" stroke-linejoin="round"/><path d="M426.0 1712.3L429.8 1710.4L431.8 1718.1L427.0 1724.8L424.6 1723.8L427.9 1718.1Z" fill="#ffe000"/><path d="M431.8 1719.0L435.6 1717.1L440.4 1720.9L447.1 1718.1L454.8 1717.1L458.6 1720.9L461.5 1730.5L433.7 1730.5L431.8 1724.8Z" fill="#e02410" stroke="#000" stroke-width="1.2" stroke-linejoin="round"/><path d="M444.2 1720.9L449.0 1718.5L455.7 1719.0L458.6 1730.5L446.1 1730.5Z" fill="#b41810"/><path d="M463.4 1720.0L475.9 1730.5L464.4 1730.5L459.6 1720.9Z" fill="#8cb8ff"/><path d="M432.7 1694.6L430.8 1697.0L429.8 1705.6L435.6 1708.9L445.2 1713.7L453.8 1714.7Z" fill="#c8c8c8"/><path d="M391.4 1692.2L397.2 1696.0L403.0 1703.7L406.8 1709.4L410.6 1715.2L416.4 1718.1L422.2 1719.0L420.2 1724.8L416.4 1729.6L408.7 1729.6L406.8 1722.9L403.0 1713.3L397.2 1705.6L391.4 1699.8Z" fill="#3c68f4" stroke="#000" stroke-width="1.1" stroke-linejoin="round"/><path d="M408.7 1715.2L416.4 1720.0L419.3 1723.8L414.5 1727.7L410.6 1724.8Z" fill="#8cb8ff"/><path d="M393.4 1690.2L399.1 1692.2L403.0 1696.0L397.2 1697.0Z" fill="#1430e4"/><path d="M372.2 1723.8L378.0 1719.0L385.7 1715.2L390.5 1716.1L387.6 1720.0L381.8 1722.9L378.0 1727.7L374.2 1727.7Z" fill="#3c68f4" stroke="#000" stroke-width="1.1" stroke-linejoin="round"/><path d="M350.2 1711.3L355.0 1705.6L361.7 1707.5L362.6 1715.2L358.8 1723.8L352.1 1724.8Z" fill="#3c68f4" stroke="#000" stroke-width="1.1" stroke-linejoin="round"/><path d="M354.0 1697.9L362.6 1697.0L364.6 1701.8L360.7 1705.6L355.0 1704.6Z" fill="#c4c4c4" stroke="#000" stroke-width="1.1" stroke-linejoin="round"/><path d="M368.4 1696.0L370.3 1697.0L369.8 1701.8L368.2 1700.8Z" fill="#ffe000" stroke="#000" stroke-width="0.9" stroke-linejoin="round"/><path d="M332.9 1721.9L336.7 1715.2L342.5 1713.3L347.3 1714.2L343.4 1719.0L338.6 1723.8L334.8 1727.7Z" fill="#8cb8ff" stroke="#000" stroke-width="1.1" stroke-linejoin="round"/><path d="M63.5 1631.6L76.2 1626.0L90.3 1620.3L107.3 1614.7L124.2 1610.5L135.5 1611.9L141.2 1620.3L149.6 1626.0L163.7 1627.4L176.5 1626.0L177.9 1631.6L169.4 1637.3L172.2 1645.8L183.5 1654.2L177.9 1657.0L166.6 1651.4L155.3 1642.9L141.2 1637.3L127.0 1634.5L121.4 1628.8L110.1 1633.0L98.8 1627.4L84.7 1628.8L73.4 1631.6Z" fill="#86d886" stroke="#000" stroke-width="1.2" stroke-linejoin="round"/><path d="M73.4 1629.5L90.3 1622.5L107.3 1616.8L124.2 1613.3L134.1 1614.7L138.3 1623.2L149.6 1628.8L163.7 1630.2L173.6 1628.8L168.0 1635.9L155.3 1640.1L141.2 1634.5L127.0 1631.6L121.4 1626.0L110.1 1630.2L98.8 1624.6L84.7 1626.7Z" fill="#3c68f4"/><path d="M79.1 1627.4L96.0 1621.8L107.3 1621.8L104.5 1626.0L90.3 1627.4Z" fill="#8cb8ff"/><path d="M11.3 1659.9L21.2 1654.2L35.3 1650.0L46.6 1642.9L59.3 1641.5L70.6 1642.9L84.7 1647.2L98.8 1652.8L110.1 1650.0L121.4 1642.9L127.0 1634.5L141.2 1637.3L155.3 1642.9L166.6 1651.4L177.9 1657.0L183.5 1654.2L197.6 1650.0L211.7 1642.9L225.9 1628.8L240.0 1620.3L250.0 1614.7L261.2 1620.3L268.2 1642.9L261.2 1671.2L268.2 1699.4L254.1 1713.5L237.2 1710.7L220.2 1713.5L203.3 1710.7L189.2 1713.5L175.0 1707.9L169.4 1717.7L166.6 1731.2L155.3 1731.2L156.7 1717.7L146.8 1709.3L135.5 1699.4L129.9 1688.1L129.9 1679.6L122.8 1675.4L112.9 1676.8L101.6 1669.8L93.2 1664.1L84.7 1665.5L76.2 1671.2L64.9 1669.8L56.5 1665.5L46.6 1671.2L36.7 1676.8L28.2 1671.2L21.2 1665.5L11.3 1664.1Z" fill="#8cb8ff"/><path d="M11.3 1659.9L21.2 1654.2L35.3 1650.0L46.6 1642.9L59.3 1641.5L70.6 1642.9L84.7 1647.2L98.8 1652.8L110.1 1650.0L121.4 1642.9L127.0 1634.5L141.2 1637.3L155.3 1642.9L166.6 1651.4L177.9 1657.0L183.5 1654.2L197.6 1650.0L211.7 1642.9L225.9 1628.8L240.0 1620.3L250.0 1614.7" fill="none" stroke="#000" stroke-width="1.2" stroke-linejoin="round"/><path d="M237.2 1710.7L220.2 1713.5L203.3 1710.7L189.2 1713.5L175.0 1707.9L169.4 1717.7L166.6 1731.2L155.3 1731.2L156.7 1717.7" fill="none" stroke="#000" stroke-width="1.2" stroke-linejoin="round"/><path d="M14.1 1661.3L35.3 1652.8L59.3 1644.3L84.7 1650.0L107.3 1654.2L127.0 1642.9L141.2 1641.5L155.3 1647.2L176.5 1659.9L197.6 1654.2L218.8 1642.9L240.0 1626.0L250.0 1621.8L265.4 1642.9L259.7 1671.2L265.4 1696.6L250.0 1706.5L225.9 1709.3L203.3 1706.5L183.5 1709.3L172.2 1703.6L163.7 1724.8L159.5 1717.7L149.6 1706.5L138.3 1696.6L132.7 1682.5L124.2 1672.6L112.9 1672.6L98.8 1665.5L84.7 1662.7L64.9 1665.5L46.6 1668.3L28.2 1666.9Z" fill="#3c68f4" opacity="0.8"/><path d="M215.6 1671.7h.01M181.7 1679.0h.01M220.6 1655.2h.01" stroke="#86d886" stroke-width="1.5" stroke-linecap="square" fill="none"/><path d="M164.5 1706.0h.01M186.9 1670.0h.01M251.4 1636.5h.01M248.0 1663.7h.01M131.9 1643.0h.01M259.9 1628.1h.01M126.6 1641.3h.01M39.9 1647.8h.01M136.3 1645.4h.01M100.9 1667.4h.01M156.7 1677.7h.01M63.2 1664.9h.01M142.1 1692.3h.01M70.5 1664.7h.01M265.0 1635.6h.01M237.5 1698.6h.01M14.1 1659.1h.01M194.9 1692.3h.01M149.2 1655.0h.01M82.4 1659.1h.01M255.7 1697.4h.01M165.8 1672.0h.01M187.1 1710.6h.01M230.9 1666.5h.01M250.0 1635.6h.01M225.6 1681.6h.01M202.9 1678.4h.01M57.4 1660.3h.01M196.9 1663.8h.01M215.0 1676.3h.01M260.7 1706.5h.01M65.6 1661.7h.01M198.5 1682.9h.01M61.4 1667.5h.01M246.0 1673.6h.01M35.6 1651.4h.01M198.1 1676.2h.01M225.8 1660.2h.01M80.6 1653.9h.01M187.9 1696.7h.01M233.9 1699.2h.01M234.1 1631.3h.01M170.1 1691.1h.01M190.1 1686.0h.01M124.6 1663.0h.01M247.6 1682.2h.01M162.4 1724.3h.01M232.1 1665.2h.01M173.7 1656.2h.01M241.6 1664.4h.01" stroke="#1430e4" stroke-width="3.0" stroke-linecap="square" fill="none"/><path d="M179.0 1676.7h.01M136.7 1687.8h.01M186.0 1679.1h.01M248.5 1630.9h.01M181.2 1657.4h.01M188.8 1667.8h.01M172.8 1657.6h.01M154.8 1691.9h.01M154.7 1659.1h.01M134.0 1659.5h.01M133.5 1665.6h.01M257.6 1629.4h.01M239.7 1704.8h.01M220.9 1685.8h.01M152.7 1689.3h.01M234.4 1656.6h.01M159.8 1714.7h.01M202.0 1700.9h.01M73.2 1654.2h.01M181.0 1668.0h.01M59.0 1653.5h.01M246.1 1632.6h.01M37.5 1674.8h.01M35.9 1666.4h.01M114.8 1666.5h.01M243.4 1696.7h.01M217.6 1701.7h.01M258.6 1698.9h.01M145.7 1708.0h.01M249.8 1666.3h.01M210.5 1685.7h.01M155.6 1652.3h.01M87.2 1661.9h.01M232.3 1645.6h.01M81.4 1651.2h.01M214.0 1658.6h.01M248.8 1617.1h.01M133.4 1639.2h.01M28.2 1655.6h.01M223.4 1660.4h.01M144.8 1666.2h.01M232.2 1648.5h.01M154.3 1696.6h.01M231.5 1641.5h.01M262.3 1677.9h.01" stroke="#1430e4" stroke-width="2.5" stroke-linecap="square" fill="none"/><path d="M209.2 1656.8h.01M192.6 1681.1h.01M156.5 1677.8h.01M187.5 1691.5h.01M223.2 1682.3h.01M130.0 1678.2h.01M238.6 1661.2h.01M245.3 1675.2h.01M233.8 1638.3h.01M82.0 1656.1h.01M213.8 1642.9h.01M58.0 1659.6h.01M147.0 1703.8h.01M117.5 1672.1h.01M185.1 1672.4h.01M116.3 1655.3h.01M154.2 1663.0h.01M161.4 1682.3h.01" stroke="#2448ec" stroke-width="2.0" stroke-linecap="square" fill="none"/><path d="M226.1 1650.7h.01M163.4 1705.9h.01M231.6 1645.5h.01M252.5 1619.3h.01M32.3 1651.7h.01M51.1 1663.4h.01M184.2 1704.2h.01M176.7 1664.9h.01M262.3 1626.4h.01M184.8 1654.8h.01M190.4 1699.4h.01M128.6 1637.7h.01M212.0 1678.9h.01M45.0 1655.4h.01" stroke="#1430e4" stroke-width="3.5" stroke-linecap="square" fill="none"/><path d="M258.0 1691.0h.01M165.4 1688.5h.01M61.7 1660.2h.01M157.2 1717.2h.01M204.0 1709.5h.01M178.2 1685.5h.01M129.0 1637.8h.01M220.5 1682.6h.01M242.0 1702.5h.01M148.6 1701.4h.01M210.1 1672.1h.01M238.1 1688.6h.01M173.1 1689.8h.01M241.3 1664.9h.01M187.4 1679.8h.01M195.8 1712.1h.01M22.7 1656.1h.01M163.5 1680.2h.01M64.0 1661.0h.01M100.6 1654.1h.01M220.8 1699.3h.01M127.6 1675.9h.01" stroke="#a8c8ff" stroke-width="2.5" stroke-linecap="square" fill="none"/><path d="M254.2 1669.5h.01M224.3 1695.0h.01M235.8 1652.0h.01M147.3 1696.9h.01M256.2 1688.6h.01M166.4 1663.8h.01M79.8 1661.8h.01M21.8 1655.5h.01M242.7 1691.9h.01M64.0 1648.7h.01M187.6 1656.4h.01M146.7 1704.0h.01M242.7 1650.5h.01M257.8 1699.4h.01M225.6 1640.5h.01M58.8 1659.3h.01M173.0 1688.2h.01M147.7 1696.9h.01M161.8 1705.8h.01M228.8 1674.2h.01M239.6 1670.1h.01M228.7 1670.6h.01M188.4 1695.1h.01M242.2 1704.8h.01M155.2 1654.0h.01M178.5 1666.3h.01M252.4 1710.7h.01M176.1 1661.8h.01M149.1 1647.1h.01" stroke="#a8c8ff" stroke-width="3.0" stroke-linecap="square" fill="none"/><path d="M188.1 1655.4h.01M185.1 1679.0h.01" stroke="#2448ec" stroke-width="1.5" stroke-linecap="square" fill="none"/><path d="M209.8 1669.5h.01M259.2 1686.4h.01M232.2 1680.0h.01M158.1 1661.0h.01M73.4 1654.8h.01M153.3 1659.4h.01M248.0 1676.6h.01M157.9 1662.1h.01M166.8 1721.9h.01M258.9 1649.8h.01M96.0 1656.4h.01M192.3 1707.2h.01M250.9 1623.7h.01M239.9 1672.0h.01M257.4 1686.0h.01M210.2 1708.5h.01M183.7 1697.8h.01" stroke="#86d886" stroke-width="2.0" stroke-linecap="square" fill="none"/><path d="M173.1 1701.9h.01M214.3 1640.4h.01M215.9 1676.9h.01M153.9 1671.4h.01M163.7 1664.7h.01M45.3 1662.6h.01M237.9 1710.6h.01M185.9 1656.5h.01M200.4 1650.4h.01M200.4 1698.7h.01M111.6 1655.7h.01M162.2 1684.4h.01M207.1 1691.1h.01M186.9 1669.6h.01M146.9 1696.6h.01" stroke="#86d886" stroke-width="3.0" stroke-linecap="square" fill="none"/><path d="M32.7 1673.0h.01M233.8 1687.6h.01M188.7 1708.7h.01M205.9 1652.9h.01M127.0 1637.1h.01" stroke="#c4d6ff" stroke-width="3.5" stroke-linecap="square" fill="none"/><path d="M57.1 1656.3h.01M192.4 1652.4h.01M180.2 1706.7h.01M216.1 1675.2h.01M150.8 1683.5h.01M216.8 1700.6h.01M194.6 1705.4h.01M161.7 1726.0h.01M254.4 1640.8h.01M192.8 1684.0h.01M159.9 1665.7h.01M15.7 1658.9h.01M164.0 1699.2h.01M145.8 1669.9h.01M230.1 1704.2h.01M133.7 1645.0h.01M45.4 1655.0h.01M144.5 1675.5h.01M114.3 1667.3h.01" stroke="#2448ec" stroke-width="3.0" stroke-linecap="square" fill="none"/><path d="M187.5 1708.4h.01M73.0 1647.9h.01M250.5 1620.0h.01M258.2 1663.4h.01M137.7 1646.7h.01M226.8 1633.2h.01M191.2 1681.3h.01M181.8 1708.5h.01M180.3 1674.3h.01M216.8 1645.9h.01M247.5 1688.0h.01" stroke="#1430e4" stroke-width="1.5" stroke-linecap="square" fill="none"/><path d="M79.9 1661.1h.01M169.1 1656.8h.01M169.2 1681.3h.01M215.6 1645.0h.01M254.5 1679.4h.01M141.5 1689.0h.01M185.3 1694.8h.01M216.5 1671.9h.01M98.3 1664.9h.01M86.8 1658.9h.01M49.8 1653.2h.01M154.2 1683.2h.01M204.2 1675.2h.01M206.4 1701.7h.01M158.8 1698.3h.01M201.8 1692.5h.01M258.0 1643.8h.01M173.0 1699.5h.01M252.8 1617.2h.01M184.9 1710.8h.01M239.8 1645.1h.01M164.9 1671.7h.01M102.2 1669.9h.01M37.6 1658.0h.01M211.0 1647.8h.01M261.2 1641.7h.01M61.0 1648.7h.01M143.0 1655.5h.01M248.2 1665.1h.01M155.1 1691.4h.01M120.6 1665.0h.01M26.5 1665.2h.01M59.7 1664.4h.01M122.9 1661.8h.01M154.1 1707.8h.01M135.7 1678.2h.01M248.4 1683.8h.01M250.7 1661.0h.01M216.4 1662.4h.01M106.9 1652.2h.01M253.7 1701.7h.01M216.7 1711.4h.01M111.0 1665.8h.01M249.7 1670.7h.01M63.5 1667.6h.01" stroke="#1430e4" stroke-width="2.0" stroke-linecap="square" fill="none"/><path d="M149.5 1700.1h.01M234.8 1656.7h.01M245.0 1638.4h.01M241.1 1662.0h.01M135.4 1649.5h.01M56.1 1648.8h.01M240.5 1651.0h.01M181.0 1702.0h.01M203.4 1673.0h.01M37.7 1673.6h.01M100.9 1668.6h.01M219.3 1689.2h.01M250.6 1663.3h.01M241.7 1651.6h.01M74.3 1659.3h.01M116.6 1662.7h.01" stroke="#6ca0ff" stroke-width="3.0" stroke-linecap="square" fill="none"/><path d="M117.9 1648.8h.01M144.9 1665.3h.01M144.5 1664.0h.01M258.7 1667.8h.01M195.0 1699.1h.01M152.3 1643.1h.01M133.6 1663.5h.01M256.8 1641.4h.01M253.8 1637.1h.01M237.7 1637.9h.01M190.5 1677.1h.01M157.9 1701.5h.01M147.9 1657.5h.01M265.8 1696.6h.01M18.3 1661.5h.01M166.2 1667.8h.01M145.6 1685.9h.01M41.3 1658.5h.01M206.7 1695.7h.01M203.4 1652.3h.01M167.3 1695.5h.01" stroke="#6ca0ff" stroke-width="2.0" stroke-linecap="square" fill="none"/><path d="M250.4 1624.5h.01M68.5 1655.8h.01M106.0 1651.3h.01M90.7 1658.1h.01M194.8 1701.4h.01M195.1 1700.7h.01M225.8 1638.4h.01M172.7 1699.2h.01M240.8 1666.4h.01M256.9 1653.3h.01M86.9 1654.7h.01M159.6 1666.6h.01M240.4 1674.3h.01M225.2 1676.4h.01M189.4 1688.7h.01M133.7 1683.4h.01M200.9 1700.7h.01M141.0 1643.3h.01M75.8 1664.5h.01M200.4 1661.2h.01" stroke="#c4d6ff" stroke-width="2.5" stroke-linecap="square" fill="none"/><path d="M235.1 1668.8h.01M133.5 1649.2h.01M126.5 1647.0h.01M231.1 1629.1h.01M162.8 1675.3h.01M194.9 1654.6h.01M168.5 1695.1h.01M229.8 1680.2h.01M188.6 1666.7h.01M261.1 1636.9h.01" stroke="#a8c8ff" stroke-width="3.5" stroke-linecap="square" fill="none"/><path d="M199.7 1698.3h.01M234.8 1640.1h.01M158.7 1710.2h.01M161.1 1685.7h.01M252.6 1659.4h.01M176.1 1660.6h.01M142.9 1686.7h.01M225.3 1668.4h.01M102.3 1659.8h.01M201.6 1678.2h.01M193.3 1651.6h.01M171.7 1697.9h.01M53.5 1651.6h.01M47.6 1663.8h.01M135.9 1641.5h.01M258.8 1694.5h.01M68.2 1655.9h.01M193.0 1682.8h.01M201.7 1655.1h.01M253.3 1699.8h.01M253.3 1681.6h.01M205.5 1653.1h.01M61.1 1656.0h.01M93.8 1663.9h.01M139.0 1671.9h.01M189.9 1657.8h.01M244.3 1706.8h.01M221.9 1649.0h.01M85.1 1651.0h.01" stroke="#6ca0ff" stroke-width="2.5" stroke-linecap="square" fill="none"/><path d="M81.3 1648.6h.01M138.4 1697.8h.01M154.4 1670.8h.01M30.7 1671.8h.01M198.6 1650.9h.01M160.8 1694.8h.01M143.0 1702.8h.01M140.0 1669.9h.01M149.0 1644.0h.01M109.8 1672.3h.01M236.1 1678.9h.01M261.9 1678.8h.01M260.2 1677.6h.01M201.4 1648.4h.01M231.0 1661.7h.01M164.9 1704.5h.01M170.0 1710.6h.01M221.6 1691.1h.01M160.0 1656.9h.01" stroke="#c4d6ff" stroke-width="2.0" stroke-linecap="square" fill="none"/><path d="M119.2 1658.8h.01M259.6 1658.4h.01M242.6 1687.6h.01M147.0 1702.9h.01M205.7 1700.0h.01M249.4 1695.4h.01M256.7 1652.1h.01M245.8 1707.3h.01M116.8 1646.2h.01M211.5 1695.4h.01M262.8 1661.0h.01M119.8 1674.3h.01M257.5 1678.8h.01M191.1 1676.6h.01M27.9 1657.0h.01M125.0 1671.0h.01M205.3 1697.0h.01M63.5 1657.4h.01M225.6 1688.5h.01M175.1 1678.6h.01M262.5 1700.3h.01M39.8 1648.3h.01" stroke="#a8c8ff" stroke-width="2.0" stroke-linecap="square" fill="none"/><path d="M215.5 1708.2h.01M169.8 1672.3h.01M208.6 1659.1h.01M207.6 1696.5h.01M178.4 1696.0h.01M196.8 1683.8h.01M192.2 1667.1h.01M174.4 1656.8h.01M64.7 1642.4h.01M168.3 1682.7h.01M232.6 1683.8h.01M245.2 1672.7h.01M253.8 1641.3h.01M84.0 1662.2h.01M37.9 1658.9h.01M60.9 1662.8h.01M223.0 1672.2h.01M166.9 1700.7h.01M126.1 1675.6h.01M246.4 1620.2h.01M128.7 1664.0h.01M158.0 1720.8h.01M249.4 1666.7h.01M43.4 1648.2h.01" stroke="#c4d6ff" stroke-width="3.0" stroke-linecap="square" fill="none"/><path d="M148.2 1642.9h.01M128.5 1645.6h.01M160.3 1700.4h.01M240.8 1663.9h.01" stroke="#6ca0ff" stroke-width="1.5" stroke-linecap="square" fill="none"/><path d="M219.5 1668.8h.01M18.1 1663.4h.01M259.3 1662.3h.01M239.4 1633.2h.01M201.6 1681.3h.01M175.7 1699.5h.01M139.0 1654.8h.01M158.1 1689.4h.01M244.1 1646.9h.01M165.6 1652.4h.01M114.3 1658.0h.01M187.0 1677.4h.01M222.0 1708.7h.01M191.3 1658.6h.01" stroke="#2448ec" stroke-width="2.5" stroke-linecap="square" fill="none"/><path d="M140.6 1661.9h.01M233.0 1638.7h.01M141.9 1653.5h.01M130.1 1639.5h.01M105.2 1660.0h.01M250.6 1633.4h.01M251.2 1657.1h.01" stroke="#a8c8ff" stroke-width="1.5" stroke-linecap="square" fill="none"/><path d="M112.0 1650.3h.01M151.6 1650.1h.01M106.9 1670.1h.01M208.7 1679.8h.01M235.3 1623.3h.01M189.2 1683.7h.01" stroke="#c4d6ff" stroke-width="1.5" stroke-linecap="square" fill="none"/><path d="M209.6 1657.8h.01M123.9 1669.9h.01M169.7 1657.1h.01M111.5 1662.8h.01M198.9 1679.3h.01M246.5 1641.1h.01M111.7 1663.7h.01M230.3 1633.0h.01M238.9 1665.3h.01M119.3 1663.6h.01M162.3 1727.8h.01M210.7 1674.9h.01M33.0 1664.9h.01M152.0 1708.5h.01M58.8 1660.2h.01M87.5 1651.9h.01M266.7 1695.4h.01M240.7 1623.3h.01" stroke="#86d886" stroke-width="2.5" stroke-linecap="square" fill="none"/><path d="M60.2 1642.0h.01M192.4 1690.8h.01M257.2 1636.2h.01M230.2 1673.5h.01M41.1 1666.7h.01M92.1 1663.7h.01M105.6 1657.7h.01M222.2 1694.3h.01" stroke="#6ca0ff" stroke-width="3.5" stroke-linecap="square" fill="none"/><path d="M80.1 1661.6h.01M259.1 1697.7h.01" stroke="#2448ec" stroke-width="3.5" stroke-linecap="square" fill="none"/><path d="M162.5 1709.0h.01M221.6 1684.5h.01M247.5 1670.5h.01M197.5 1666.3h.01M225.3 1697.6h.01" stroke="#86d886" stroke-width="3.5" stroke-linecap="square" fill="none"/><path d="M110.9 1614.4h.01M111.0 1616.4h.01M103.5 1616.3h.01M104.5 1626.0h.01M113.9 1614.5h.01" stroke="#1430e4" stroke-width="3.0" stroke-linecap="square" fill="none"/><path d="M160.8 1637.9h.01M158.4 1640.0h.01M103.5 1629.4h.01" stroke="#2448ec" stroke-width="3.0" stroke-linecap="square" fill="none"/><path d="M73.7 1629.0h.01M89.4 1624.1h.01M156.9 1637.5h.01M106.4 1624.4h.01M108.8 1614.8h.01" stroke="#1430e4" stroke-width="2.0" stroke-linecap="square" fill="none"/><path d="M133.2 1624.0h.01M68.2 1630.2h.01M164.0 1638.4h.01M77.6 1627.3h.01M119.3 1629.0h.01M159.9 1631.7h.01" stroke="#c4d6ff" stroke-width="2.5" stroke-linecap="square" fill="none"/><path d="M139.4 1630.7h.01M175.4 1629.4h.01M101.6 1623.5h.01" stroke="#a8c8ff" stroke-width="2.5" stroke-linecap="square" fill="none"/><path d="M125.0 1627.5h.01M153.1 1635.9h.01M169.3 1630.3h.01M136.3 1628.2h.01" stroke="#c4d6ff" stroke-width="3.0" stroke-linecap="square" fill="none"/><path d="M88.5 1625.0h.01M110.8 1618.8h.01M167.9 1637.1h.01M163.3 1629.3h.01" stroke="#1430e4" stroke-width="3.5" stroke-linecap="square" fill="none"/><path d="M164.9 1629.3h.01" stroke="#a8c8ff" stroke-width="1.5" stroke-linecap="square" fill="none"/><path d="M140.1 1628.8h.01" stroke="#2448ec" stroke-width="1.5" stroke-linecap="square" fill="none"/><path d="M162.2 1627.9h.01M132.3 1631.4h.01" stroke="#86d886" stroke-width="2.5" stroke-linecap="square" fill="none"/><path d="M99.3 1621.2h.01M126.0 1615.7h.01M168.7 1638.1h.01" stroke="#a8c8ff" stroke-width="3.0" stroke-linecap="square" fill="none"/><path d="M157.0 1633.1h.01M90.4 1622.7h.01M85.6 1624.3h.01M164.7 1633.9h.01" stroke="#a8c8ff" stroke-width="2.0" stroke-linecap="square" fill="none"/><path d="M169.7 1652.9h.01" stroke="#c4d6ff" stroke-width="1.5" stroke-linecap="square" fill="none"/><path d="M140.0 1630.9h.01M132.3 1631.6h.01M109.1 1616.6h.01" stroke="#6ca0ff" stroke-width="2.0" stroke-linecap="square" fill="none"/><path d="M176.4 1649.3h.01M153.0 1640.4h.01M141.2 1633.3h.01M119.1 1624.2h.01M138.8 1626.0h.01M129.3 1633.4h.01M107.7 1619.8h.01" stroke="#1430e4" stroke-width="2.5" stroke-linecap="square" fill="none"/><path d="M99.6 1626.1h.01M101.1 1619.7h.01" stroke="#6ca0ff" stroke-width="2.5" stroke-linecap="square" fill="none"/><path d="M154.3 1636.5h.01" stroke="#86d886" stroke-width="3.5" stroke-linecap="square" fill="none"/><path d="M149.6 1630.2h.01" stroke="#6ca0ff" stroke-width="3.5" stroke-linecap="square" fill="none"/><path d="M156.8 1638.9h.01M129.6 1612.9h.01" stroke="#86d886" stroke-width="2.0" stroke-linecap="square" fill="none"/><path d="M97.5 1625.3h.01" stroke="#a8c8ff" stroke-width="3.5" stroke-linecap="square" fill="none"/><path d="M107.9 1620.2h.01M170.5 1634.2h.01" stroke="#c4d6ff" stroke-width="2.0" stroke-linecap="square" fill="none"/><path d="M88.6 1624.8h.01M175.1 1648.1h.01M175.1 1653.8h.01M129.7 1625.9h.01" stroke="#6ca0ff" stroke-width="3.0" stroke-linecap="square" fill="none"/><path d="M171.0 1628.0h.01" stroke="#2448ec" stroke-width="2.5" stroke-linecap="square" fill="none"/><path d="M134.5 1613.7h.01" stroke="#2448ec" stroke-width="2.0" stroke-linecap="square" fill="none"/><path d="M156.6 1636.6h.01M116.5 1624.2h.01" stroke="#86d886" stroke-width="3.0" stroke-linecap="square" fill="none"/><path d="M178.2 1656.3h.01" stroke="#86d886" stroke-width="1.5" stroke-linecap="square" fill="none"/><path d="M132.7 1689.5L141.2 1688.1L155.3 1696.6L163.7 1707.9L160.9 1719.2L149.6 1705.0L138.3 1696.6Z" fill="#1430e4"/><path d="M177.9 1671.2L189.2 1665.5L200.5 1671.2L206.1 1682.5L197.6 1685.3L183.5 1679.6Z" fill="#1430e4"/><path d="M28.2 1654.2L46.6 1647.2L59.3 1647.2L79.1 1657.0L67.8 1662.7L46.6 1659.9L32.5 1661.3Z" fill="#1430e4" opacity="0.8"/><path d="M149.6 1647.2L158.1 1648.6L163.7 1657.0L155.3 1665.5L146.8 1657.0Z" fill="#86d886" opacity="0.85"/><path d="M11.3 1664.1L21.2 1665.5L28.2 1671.2L36.7 1676.8L46.6 1671.2L56.5 1665.5L64.9 1669.8L76.2 1671.2L84.7 1665.5L93.2 1664.1L101.6 1669.8L112.9 1676.8L122.8 1675.4L129.9 1679.6L129.9 1688.1L135.5 1699.4L146.8 1709.3L156.7 1717.7L155.3 1731.2L11.3 1731.2Z" fill="#ffe000"/><path d="M11.3 1664.1L21.2 1665.5L28.2 1671.2L36.7 1676.8L46.6 1671.2L56.5 1665.5L64.9 1669.8L76.2 1671.2L84.7 1665.5L93.2 1664.1L101.6 1669.8L112.9 1676.8L122.8 1675.4L129.9 1679.6L129.9 1688.1L135.5 1699.4L146.8 1709.3L156.7 1717.7" fill="none" stroke="#000" stroke-width="1.2" stroke-linejoin="round"/><path d="M11.3 1672.6L25.4 1676.8L39.5 1682.5L56.5 1672.6L73.4 1676.8L90.3 1671.2L104.5 1676.8L121.4 1682.5L127.0 1693.7L135.5 1705.0L149.6 1716.3L149.6 1731.2L11.3 1731.2Z" fill="#ff9410"/><path d="M11.3 1699.4L28.2 1693.7L56.5 1689.5L84.7 1686.7L107.3 1689.5L124.2 1699.4L135.5 1712.1L141.2 1731.2L11.3 1731.2Z" fill="#ff8408"/><path d="M11.3 1713.5L28.2 1707.9L50.8 1703.6L62.1 1696.6L87.5 1695.2L110.1 1703.6L127.0 1717.7L132.7 1731.2L11.3 1731.2Z" fill="#ff6a08"/><path d="M79.8 1725.1h.01M62.9 1669.6h.01M111.2 1710.9h.01M111.5 1705.8h.01M16.9 1712.7h.01M24.1 1704.7h.01M82.1 1676.3h.01" stroke="#ffb000" stroke-width="2.0" stroke-linecap="square" fill="none"/><path d="M53.8 1707.6h.01M17.4 1720.9h.01M40.8 1722.9h.01M82.9 1680.8h.01M21.3 1693.6h.01M66.6 1696.3h.01M76.9 1699.2h.01M125.4 1684.2h.01M44.9 1704.3h.01M18.4 1698.9h.01M51.0 1716.0h.01M62.1 1675.7h.01M102.5 1688.5h.01M35.0 1703.3h.01M128.3 1692.2h.01M90.1 1727.8h.01M105.4 1676.1h.01M88.4 1710.1h.01M142.3 1727.6h.01M51.7 1724.6h.01M25.8 1677.7h.01M86.3 1690.3h.01" stroke="#ffc800" stroke-width="2.5" stroke-linecap="square" fill="none"/><path d="M133.8 1718.3h.01M83.7 1686.5h.01M48.6 1730.2h.01M120.3 1689.1h.01M94.7 1690.7h.01M78.1 1689.0h.01M23.4 1695.3h.01M98.8 1684.6h.01M27.8 1724.9h.01M81.4 1668.5h.01M61.1 1671.8h.01M66.9 1676.6h.01M139.1 1710.2h.01M59.5 1711.3h.01M121.2 1704.1h.01M105.3 1713.3h.01M22.2 1691.6h.01M100.2 1722.6h.01M88.0 1718.1h.01M152.1 1726.4h.01M118.4 1700.2h.01" stroke="#ff7008" stroke-width="3.5" stroke-linecap="square" fill="none"/><path d="M68.8 1718.0h.01M37.8 1683.2h.01M82.8 1680.9h.01M49.4 1707.8h.01M97.2 1704.6h.01M58.2 1693.6h.01M45.7 1672.2h.01M97.8 1705.9h.01M25.0 1702.9h.01M135.5 1727.2h.01M20.2 1673.3h.01M107.3 1715.5h.01M15.0 1682.5h.01M101.3 1712.5h.01M90.5 1716.9h.01M78.4 1702.5h.01M86.3 1675.0h.01M118.8 1699.7h.01M63.9 1705.9h.01M22.0 1668.6h.01M115.4 1691.6h.01" stroke="#ffb000" stroke-width="3.5" stroke-linecap="square" fill="none"/><path d="M121.0 1730.8h.01M137.7 1720.1h.01M126.7 1707.4h.01M90.1 1727.5h.01M112.6 1702.3h.01M63.7 1674.6h.01M18.4 1708.5h.01M72.6 1717.5h.01M62.0 1676.6h.01M21.8 1681.5h.01M70.7 1682.4h.01M104.0 1674.6h.01M62.9 1716.1h.01" stroke="#ffd000" stroke-width="2.5" stroke-linecap="square" fill="none"/><path d="M27.1 1679.4h.01M88.6 1717.7h.01M14.9 1697.3h.01M114.4 1719.4h.01M121.7 1704.0h.01M61.2 1697.9h.01M80.7 1677.2h.01M69.3 1688.7h.01M51.6 1721.6h.01M61.4 1729.5h.01M148.3 1722.0h.01M54.8 1719.3h.01M134.2 1709.4h.01M94.8 1677.8h.01M93.6 1669.7h.01M31.6 1694.7h.01M65.5 1697.0h.01M50.8 1690.1h.01M117.9 1696.9h.01M87.4 1716.3h.01M57.8 1721.7h.01M146.9 1724.3h.01M16.8 1695.6h.01" stroke="#ffe000" stroke-width="3.0" stroke-linecap="square" fill="none"/><path d="M88.1 1720.2h.01M102.2 1714.7h.01M72.1 1726.5h.01M87.5 1677.6h.01M110.0 1711.6h.01M107.3 1697.5h.01M27.0 1704.7h.01M22.4 1693.3h.01M95.8 1680.0h.01M139.8 1728.6h.01M133.7 1697.1h.01M97.6 1687.5h.01M119.0 1697.1h.01M132.4 1727.2h.01M37.9 1677.7h.01M73.5 1680.3h.01M106.7 1719.9h.01" stroke="#ffe000" stroke-width="2.5" stroke-linecap="square" fill="none"/><path d="M15.5 1718.2h.01M84.4 1712.3h.01M126.0 1695.3h.01M120.1 1712.3h.01M13.0 1711.7h.01M107.8 1690.6h.01M68.4 1730.7h.01M77.2 1722.8h.01M36.3 1715.1h.01M83.1 1688.3h.01M126.3 1701.2h.01M46.6 1703.3h.01M137.8 1709.9h.01M91.7 1668.9h.01M86.6 1666.3h.01M19.8 1719.9h.01M29.1 1700.3h.01M97.6 1676.6h.01M16.2 1708.4h.01M86.0 1671.2h.01M91.4 1709.0h.01M84.3 1728.7h.01M48.6 1715.8h.01" stroke="#ff7008" stroke-width="2.5" stroke-linecap="square" fill="none"/><path d="M134.8 1728.7h.01M77.6 1699.2h.01M127.6 1726.6h.01M17.7 1722.8h.01M81.1 1680.9h.01M129.1 1687.7h.01M85.2 1683.4h.01M96.9 1675.6h.01M71.9 1713.6h.01M92.0 1701.9h.01M116.0 1720.5h.01M56.1 1688.1h.01M46.8 1679.7h.01M59.5 1682.7h.01M14.4 1683.7h.01M64.1 1704.8h.01" stroke="#ffb000" stroke-width="2.5" stroke-linecap="square" fill="none"/><path d="M68.7 1687.6h.01M108.1 1708.9h.01M102.8 1692.3h.01M101.1 1673.7h.01M74.9 1674.6h.01M23.1 1683.0h.01M96.9 1729.8h.01M108.9 1701.4h.01M21.0 1716.4h.01M109.2 1715.1h.01M127.8 1702.8h.01M65.9 1704.1h.01M106.8 1702.5h.01M44.8 1728.1h.01M20.9 1707.3h.01M81.2 1725.5h.01M144.4 1707.6h.01M36.2 1689.5h.01M84.3 1720.0h.01M27.7 1700.6h.01M94.3 1704.5h.01M80.3 1728.6h.01" stroke="#ffd000" stroke-width="3.5" stroke-linecap="square" fill="none"/><path d="M67.5 1717.8h.01M117.6 1678.8h.01M33.9 1705.6h.01M42.6 1708.4h.01M82.2 1685.3h.01M17.3 1725.6h.01M12.5 1713.7h.01M36.6 1696.3h.01M63.2 1696.6h.01M62.8 1701.3h.01M51.0 1685.6h.01M111.7 1711.6h.01M147.2 1725.8h.01M92.5 1685.4h.01M126.5 1688.3h.01M123.6 1695.9h.01M54.9 1695.5h.01M91.8 1703.2h.01M113.7 1713.3h.01M99.3 1703.5h.01M69.5 1684.7h.01M109.8 1717.7h.01M118.2 1728.1h.01" stroke="#ffb000" stroke-width="3.0" stroke-linecap="square" fill="none"/><path d="M121.6 1689.5h.01M66.4 1679.7h.01M37.3 1723.2h.01M90.0 1718.6h.01M89.4 1717.8h.01M79.5 1678.1h.01M86.9 1707.7h.01M49.2 1700.7h.01" stroke="#ffc800" stroke-width="3.5" stroke-linecap="square" fill="none"/><path d="M154.0 1720.0h.01M18.4 1697.5h.01M121.4 1729.0h.01M48.5 1705.1h.01M73.0 1680.5h.01M121.3 1695.6h.01M27.4 1699.0h.01M95.8 1669.6h.01M15.9 1684.7h.01M95.7 1689.8h.01M46.2 1715.1h.01M45.2 1724.3h.01M107.0 1687.8h.01M93.7 1687.3h.01M13.6 1710.6h.01M87.2 1694.0h.01M91.7 1717.3h.01M17.3 1699.1h.01M127.9 1688.3h.01M80.9 1723.6h.01" stroke="#ffe000" stroke-width="3.5" stroke-linecap="square" fill="none"/><path d="M121.8 1713.4h.01M36.9 1731.1h.01M16.0 1693.2h.01M66.3 1679.3h.01M74.1 1696.9h.01M67.6 1692.2h.01M79.0 1711.7h.01M61.3 1702.3h.01M109.4 1698.8h.01M113.1 1698.9h.01M88.3 1695.1h.01M66.3 1721.0h.01" stroke="#ffe000" stroke-width="4.0" stroke-linecap="square" fill="none"/><path d="M30.6 1674.6h.01M120.4 1722.8h.01M94.9 1669.5h.01M96.2 1716.5h.01M92.2 1723.2h.01M34.5 1714.3h.01M110.2 1679.8h.01M34.2 1714.1h.01M104.9 1674.6h.01M90.9 1684.9h.01M125.6 1705.7h.01M34.2 1708.6h.01M95.3 1680.1h.01" stroke="#ff7008" stroke-width="2.0" stroke-linecap="square" fill="none"/><path d="M34.8 1679.5h.01M57.7 1719.2h.01M38.7 1717.3h.01M30.0 1730.9h.01M62.8 1706.7h.01M52.2 1678.0h.01M63.4 1686.0h.01M56.1 1723.2h.01M124.4 1679.5h.01M36.4 1701.0h.01M93.4 1678.1h.01M103.1 1689.4h.01M132.6 1704.9h.01M89.7 1714.3h.01M124.0 1700.7h.01M111.8 1718.4h.01M55.8 1708.9h.01M130.8 1723.5h.01M100.6 1716.6h.01M127.6 1727.1h.01M60.6 1726.7h.01M67.7 1698.8h.01M74.0 1698.6h.01" stroke="#ffc800" stroke-width="3.0" stroke-linecap="square" fill="none"/><path d="M125.4 1693.5h.01M73.1 1705.9h.01M58.3 1695.0h.01M51.4 1710.3h.01M45.9 1675.4h.01M64.6 1728.0h.01M55.0 1681.1h.01M41.0 1728.9h.01M118.7 1693.3h.01M60.7 1674.6h.01M134.8 1718.9h.01M119.4 1699.5h.01" stroke="#ffd000" stroke-width="4.0" stroke-linecap="square" fill="none"/><path d="M52.7 1711.2h.01M102.7 1678.6h.01M87.7 1722.1h.01M92.4 1711.1h.01M70.6 1673.5h.01M73.7 1684.9h.01M82.3 1715.4h.01M72.9 1723.9h.01M94.8 1690.5h.01M97.8 1720.3h.01" stroke="#ffe000" stroke-width="2.0" stroke-linecap="square" fill="none"/><path d="M51.6 1718.3h.01M15.9 1689.6h.01M103.2 1726.9h.01M54.8 1683.8h.01M105.6 1673.3h.01M107.8 1696.1h.01M56.1 1688.6h.01M119.9 1712.1h.01M94.2 1709.7h.01" stroke="#ffc800" stroke-width="4.0" stroke-linecap="square" fill="none"/><path d="M27.4 1729.2h.01M66.6 1679.4h.01M103.5 1707.1h.01M106.6 1689.3h.01M57.9 1693.1h.01M90.8 1679.7h.01M71.6 1711.7h.01M124.0 1692.2h.01M115.9 1706.7h.01M114.6 1722.9h.01M26.5 1719.1h.01M60.0 1686.2h.01M59.7 1716.1h.01M72.9 1694.9h.01M128.4 1707.3h.01M115.2 1728.9h.01M49.3 1715.4h.01M90.7 1671.0h.01" stroke="#ffd000" stroke-width="3.0" stroke-linecap="square" fill="none"/><path d="M33.9 1718.7h.01M26.2 1723.2h.01M52.6 1675.7h.01M108.9 1691.6h.01M84.4 1699.7h.01M49.8 1694.4h.01M14.1 1695.7h.01" stroke="#ffb000" stroke-width="4.0" stroke-linecap="square" fill="none"/><path d="M110.0 1715.2h.01M13.0 1720.3h.01M69.5 1714.1h.01M11.8 1699.1h.01M57.3 1697.1h.01M88.3 1728.1h.01M29.9 1676.4h.01M30.4 1719.0h.01M85.2 1692.7h.01M49.5 1701.3h.01M128.5 1688.8h.01M149.6 1730.6h.01" stroke="#ffc800" stroke-width="2.0" stroke-linecap="square" fill="none"/><path d="M15.6 1667.5h.01M133.5 1727.3h.01M21.2 1675.5h.01M41.0 1690.2h.01M46.2 1707.4h.01M88.5 1719.3h.01M113.5 1683.3h.01M120.0 1678.3h.01M133.4 1721.9h.01M110.6 1693.7h.01" stroke="#ffd000" stroke-width="2.0" stroke-linecap="square" fill="none"/><path d="M37.6 1690.3h.01M82.6 1720.7h.01M117.9 1702.0h.01M92.0 1703.2h.01M31.8 1719.5h.01M105.1 1714.0h.01M47.8 1697.0h.01M29.9 1679.8h.01M140.3 1716.0h.01M23.1 1706.3h.01M50.4 1722.1h.01M138.0 1722.9h.01M108.0 1713.5h.01M82.5 1703.0h.01" stroke="#ff7008" stroke-width="3.0" stroke-linecap="square" fill="none"/><path d="M110.1 1699.1h.01M88.9 1720.5h.01M117.1 1694.1h.01M84.7 1724.0h.01" stroke="#ff7008" stroke-width="4.0" stroke-linecap="square" fill="none"/><path d="M11.3 1671.2L21.2 1669.8L32.5 1674.0L42.3 1671.2L49.4 1675.4L42.3 1682.5L32.5 1679.6L28.2 1686.7L19.8 1692.3L11.3 1693.7Z" fill="#3c68f4" stroke="#000" stroke-width="1.1" stroke-linejoin="round"/><path d="M31.1 1672.6L42.3 1669.0L48.0 1672.6L39.5 1676.8Z" fill="#1430e4"/><path d="M79.1 1671.2L84.7 1669.8L90.3 1685.3L87.5 1686.7Z" fill="#3c68f4" stroke="#000" stroke-width="1.0" stroke-linejoin="round"/><path d="M155.3 1717.7L160.9 1719.2L165.2 1731.2L155.3 1731.2Z" fill="#1430e4"/><path d="M156.7 1720.6L160.2 1719.2L162.3 1727.6L158.8 1726.2Z" fill="#ffe000"/><path d="M53.6 1712.1L62.1 1700.8L73.4 1696.6L84.7 1702.2L96.0 1707.9L104.5 1712.1L115.8 1716.3L121.4 1726.2L117.2 1731.2L67.8 1731.2L56.5 1723.4L49.4 1717.7Z" fill="#e02410" stroke="#000" stroke-width="1.3" stroke-linejoin="round"/><path d="M56.5 1713.5L66.3 1703.6L76.2 1700.8L90.3 1707.9L98.8 1713.5L103.0 1731.2L70.6 1731.2L59.3 1722.0Z" fill="#b41810"/><path d="M26.1 1719.2L32.5 1714.9L42.3 1713.5L48.0 1717.7L42.3 1724.8L33.9 1726.9L27.5 1724.8Z" fill="#b41810" stroke="#000" stroke-width="1.3" stroke-linejoin="round"/><path d="M111.5 1650.0L117.2 1647.9L125.6 1652.8L126.3 1659.9L120.0 1662.0L114.3 1657.0Z" fill="#ff9410" stroke="#000" stroke-width="1.1" stroke-linejoin="round"/><path d="M115.0 1652.8L120.0 1652.1L124.2 1656.3L120.0 1659.2L116.5 1657.0Z" fill="#e02410" stroke="#000" stroke-width="1.0" stroke-linejoin="round"/><path d="M159.5 1665.5L169.4 1664.1L175.0 1659.9L186.3 1664.1L180.7 1671.2L182.1 1682.5L175.0 1685.3L166.6 1679.6L160.9 1674.0Z" fill="#ffc400" stroke="#000" stroke-width="1.1" stroke-linejoin="round"/><path d="M186.3 1685.3L194.8 1683.9L197.6 1692.3L196.2 1699.4L189.2 1698.0Z" fill="#ffb000" stroke="#000" stroke-width="1.1" stroke-linejoin="round"/><path d="M203.3 1696.6L214.6 1695.2L225.9 1702.2L224.4 1710.7L211.7 1712.1L204.7 1705.0Z" fill="#ffc800" stroke="#000" stroke-width="1.1" stroke-linejoin="round"/><path d="M197.6 1655.6L207.5 1650.0L217.4 1645.8L228.7 1648.6L240.0 1642.9L250.0 1640.1L254.1 1657.0L240.0 1659.9L225.9 1662.7L211.7 1659.9L201.9 1658.5Z" fill="#ffb400"/><path d="M250.0 1640.1L240.0 1642.9L228.7 1648.6L217.4 1645.8L207.5 1650.0L197.6 1655.6L201.9 1658.5L211.7 1659.9L225.9 1662.7L240.0 1659.9L254.1 1657.0" fill="none" stroke="#000" stroke-width="1.2" stroke-linejoin="round"/><path d="M204.7 1654.2L217.4 1649.3L231.5 1651.4L250.0 1644.3L250.0 1654.2L231.5 1659.2L214.6 1657.8Z" fill="#ff6a08"/><path d="M207.5 1653.5L214.6 1652.1L218.8 1655.6L213.2 1658.5L208.2 1657.0Z" fill="#e02410" stroke="#000" stroke-width="1.0" stroke-linejoin="round"/><path d="M210.3 1682.5L216.0 1675.4L224.4 1675.4L225.9 1681.0L218.8 1685.3Z" fill="#e02410" stroke="#000" stroke-width="1.1" stroke-linejoin="round"/><path d="M76.9 1654.2L81.9 1652.8L84.7 1661.3L79.1 1664.1Z" fill="#ffc400" stroke="#000" stroke-width="1.0" stroke-linejoin="round"/><path d="M145.4 1671.2L151.0 1671.2L151.0 1675.4L145.4 1675.4Z" fill="#ffc400" stroke="#000" stroke-width="1.0" stroke-linejoin="round"/><path d="M156.7 1637.3L162.3 1636.6L163.7 1641.5L158.1 1641.5Z" fill="#ffe000"/><path d="M129.9 1659.9L141.2 1657.0L145.4 1664.1L141.2 1671.2L132.7 1669.8Z" fill="#c4c4c4" stroke="#000" stroke-width="1.0" stroke-linejoin="round"/><path d="M153.9 1682.5L162.3 1681.8L163.7 1687.4L155.3 1688.1Z" fill="#c4c4c4" stroke="#000" stroke-width="1.0" stroke-linejoin="round"/><path d="M160.9 1655.6L168.0 1654.9L169.4 1660.6L162.3 1661.3Z" fill="#c4c4c4" stroke="#000" stroke-width="1.0" stroke-linejoin="round"/><path d="M127.0 1641.5L134.1 1640.1L135.5 1648.6L128.5 1650.0Z" fill="#c4c4c4" stroke="#000" stroke-width="1.0" stroke-linejoin="round"/><path d="M242.8 1657.0L250.0 1655.6L250.0 1668.3L244.2 1667.6Z" fill="#c4c4c4" stroke="#000" stroke-width="1.0" stroke-linejoin="round"/><path d="M237.2 1685.3L247.0 1684.6L248.4 1694.5L238.6 1695.2Z" fill="#c4c4c4" stroke="#000" stroke-width="1.0" stroke-linejoin="round"/><path d="M70.6 1655.6L76.2 1654.9L76.9 1659.9L71.3 1660.6Z" fill="#c4c4c4" stroke="#000" stroke-width="1.0" stroke-linejoin="round"/><path d="M166.6 1688.1L173.6 1687.4L174.3 1693.7L167.3 1694.5Z" fill="#c4c4c4" stroke="#000" stroke-width="1.0" stroke-linejoin="round"/><path d="M59.3 1642.9L76.2 1638.7L98.8 1630.9L110.1 1635.2L121.4 1643.6L108.7 1647.9L98.8 1651.7L84.7 1646.0L70.6 1643.2Z" fill="#c4c4c4" stroke="#000" stroke-width="1.0" stroke-linejoin="round"/><path d="M91.8 1594.9L108.7 1592.1L111.5 1596.3L104.5 1600.6L94.6 1602.7Z" fill="#86d886" stroke="#000" stroke-width="1.2" stroke-linejoin="round"/><path d="M97.4 1597.1L104.5 1595.6L105.2 1598.5L98.8 1599.9Z" fill="#8cb8ff"/><path d="M73.4 1598.5L79.1 1597.1L81.9 1600.6L76.9 1602.3Z" fill="#86d886" stroke="#000" stroke-width="1.1" stroke-linejoin="round"/><path d="M187.7 1630.2L194.8 1616.1L208.9 1614.7L211.7 1620.3L203.3 1628.8L200.5 1640.1L192.0 1640.1Z" fill="#8cb8ff" stroke="#000" stroke-width="1.1" stroke-linejoin="round"/><path d="M208.9 1628.8L225.9 1620.3L240.0 1616.1L250.0 1611.9L254.1 1628.8L240.0 1627.4L225.9 1631.6L211.7 1637.3Z" fill="#8cb8ff"/><path d="M250.0 1611.9L240.0 1616.1L225.9 1620.3L208.9 1628.8L211.7 1637.3L225.9 1631.6L240.0 1627.4L254.1 1628.8" fill="none" stroke="#000" stroke-width="1.1" stroke-linejoin="round"/><path d="M193.4 1635.2L200.5 1633.8L201.2 1635.9L194.1 1637.3Z" fill="#ffb000"/><path d="M173.6 1713.5L183.5 1716.3L189.2 1724.8L183.5 1730.5L175.0 1727.6Z" fill="none" stroke="#000" stroke-width="1.0" stroke-linejoin="round"/><path d="M189.2 1717.7L197.6 1716.3L200.5 1720.6L192.0 1722.0Z" fill="#86d886" stroke="#000" stroke-width="1.0" stroke-linejoin="round"/><circle cx="76.9" cy="1635.6" r="1.5" fill="#000"/><circle cx="106.6" cy="1606.9" r="1.5" fill="#000"/><circle cx="151.8" cy="1620.3" r="1.5" fill="#000"/><circle cx="172.2" cy="1609.8" r="1.5" fill="#000"/><circle cx="64.9" cy="1688.1" r="1.5" fill="#000"/><circle cx="184.2" cy="1650.0" r="1.5" fill="#000"/><circle cx="96.7" cy="1639.4" r="1.5" fill="#000"/></g><line x1="12.7" y1="1360.8" x2="486.3" y2="1436.6" stroke="#d6d6d6" stroke-width="1.9"/><g transform="translate(0.00,1181.00)">
<g stroke="#000" stroke-width="1.05" fill="none" stroke-dasharray="3.3 4.97"><line x1="12.68" y1="50.35" x2="486.3" y2="50.35"/><line x1="12.68" y1="134.90" x2="486.3" y2="134.90"/><line x1="12.68" y1="219.45" x2="486.3" y2="219.45"/><line x1="12.68" y1="304.00" x2="486.3" y2="304.00"/><line x1="12.68" y1="388.55" x2="486.3" y2="388.55"/><line x1="12.68" y1="473.10" x2="486.3" y2="473.10"/></g><g stroke="#000" stroke-width="1.35" fill="none" stroke-dasharray="2.9 5.39"><line x1="37.80" y1="40.87" x2="37.80" y2="548.4"/><line x1="116.54" y1="40.87" x2="116.54" y2="548.4"/><line x1="195.28" y1="40.87" x2="195.28" y2="548.4"/><line x1="274.02" y1="40.87" x2="274.02" y2="548.4"/><line x1="352.76" y1="40.87" x2="352.76" y2="548.4"/><line x1="431.50" y1="40.87" x2="431.50" y2="548.4"/></g><text x="37.50" y="283" class="gl" text-anchor="middle">-126</text><text x="116.24" y="283" class="gl" text-anchor="middle">-124</text><text x="194.98" y="283" class="gl" text-anchor="middle">-122</text><text x="273.72" y="283" class="gl" text-anchor="middle">-120</text><text x="352.46" y="283" class="gl" text-anchor="middle">-118</text><text x="431.20" y="283" class="gl" text-anchor="middle">-116</text><text x="254.2" y="49.80" class="gl" text-anchor="middle">22</text><text x="254.2" y="134.35" class="gl" text-anchor="middle">20</text><text x="254.2" y="218.90" class="gl" text-anchor="middle">18</text><text x="254.2" y="303.45" class="gl" text-anchor="middle">16</text><text x="254.2" y="388.00" class="gl" text-anchor="middle">14</text><text x="254.2" y="472.55" class="gl" text-anchor="middle">12</text><g stroke="#000" stroke-width="1.15" fill="none" stroke-dasharray="12.2 11.4"><path d="M12.65 331.9Q157.7 436.3 302.7 548.3"/><path d="M12.65 444.5Q82.7 495.3 152.7 548.3"/></g><path d="M242.95 294.5H255.95M249.45 288.05V300.95" stroke="#000" stroke-width="4.55" fill="none"/><text x="37" y="65.6" class="tt">VIRS T<tspan dy="7" font-size="15.5">B11</tspan><tspan dy="-7"> (K)</tspan></text><text x="438.3" y="522.8" class="pl">(g)</text><rect x="495.0" y="531.48" width="8.9" height="8.81" fill="#f8f8f8"/><rect x="495.0" y="523.02" width="8.9" height="8.81" fill="#f0f0f0"/><rect x="495.0" y="514.56" width="8.9" height="8.81" fill="#e9e9e9"/><rect x="495.0" y="506.10" width="8.9" height="8.81" fill="#e1e1e1"/><rect x="495.0" y="497.64" width="8.9" height="8.81" fill="#dadada"/><rect x="495.0" y="489.18" width="8.9" height="8.81" fill="#d2d2d2"/><rect x="495.0" y="480.72" width="8.9" height="8.81" fill="#cbcbcb"/><rect x="495.0" y="472.26" width="8.9" height="8.81" fill="#c3c3c3"/><rect x="495.0" y="463.80" width="8.9" height="8.81" fill="#bcbcbc"/><rect x="495.0" y="455.34" width="8.9" height="8.81" fill="#b4b4b4"/><rect x="495.0" y="446.88" width="8.9" height="8.81" fill="#adadad"/><rect x="495.0" y="438.42" width="8.9" height="8.81" fill="#a5a5a5"/><rect x="495.0" y="429.96" width="8.9" height="8.81" fill="#9e9e9e"/><rect x="495.0" y="421.50" width="8.9" height="8.81" fill="#969696"/><rect x="495.0" y="413.04" width="8.9" height="8.81" fill="#8be88b"/><rect x="495.0" y="404.58" width="8.9" height="8.81" fill="#83dd83"/><rect x="495.0" y="396.12" width="8.9" height="8.81" fill="#7bd27b"/><rect x="495.0" y="387.66" width="8.9" height="8.81" fill="#73c873"/><rect x="495.0" y="379.20" width="8.9" height="8.81" fill="#6bbd6b"/><rect x="495.0" y="370.74" width="8.9" height="8.81" fill="#d0d8ff"/><rect x="495.0" y="362.28" width="8.9" height="8.81" fill="#b8d0ff"/><rect x="495.0" y="353.82" width="8.9" height="8.81" fill="#a0c6ff"/><rect x="495.0" y="345.36" width="8.9" height="8.81" fill="#88c0ff"/><rect x="495.0" y="336.90" width="8.9" height="8.81" fill="#70b8ff"/><rect x="495.0" y="328.44" width="8.9" height="8.81" fill="#50b0ff"/><rect x="495.0" y="319.98" width="8.9" height="8.81" fill="#488cff"/><rect x="495.0" y="311.52" width="8.9" height="8.81" fill="#4070ff"/><rect x="495.0" y="303.06" width="8.9" height="8.81" fill="#3c50ff"/><rect x="495.0" y="294.60" width="8.9" height="8.81" fill="#3030ff"/><rect x="495.0" y="286.14" width="8.9" height="8.81" fill="#0000ff"/><rect x="495.0" y="277.68" width="8.9" height="8.81" fill="#0000ef"/><rect x="495.0" y="269.22" width="8.9" height="8.81" fill="#0000de"/><rect x="495.0" y="260.76" width="8.9" height="8.81" fill="#0000ce"/><rect x="495.0" y="252.30" width="8.9" height="8.81" fill="#0000be"/><rect x="495.0" y="243.84" width="8.9" height="8.81" fill="#ffff00"/><rect x="495.0" y="235.38" width="8.9" height="8.81" fill="#fff200"/><rect x="495.0" y="226.92" width="8.9" height="8.81" fill="#ffe600"/><rect x="495.0" y="218.46" width="8.9" height="8.81" fill="#ffd900"/><rect x="495.0" y="210.00" width="8.9" height="8.81" fill="#ffcc00"/><rect x="495.0" y="201.54" width="8.9" height="8.81" fill="#ff9000"/><rect x="495.0" y="193.08" width="8.9" height="8.81" fill="#ff8800"/><rect x="495.0" y="184.62" width="8.9" height="8.81" fill="#ff8000"/><rect x="495.0" y="176.16" width="8.9" height="8.81" fill="#ff7800"/><rect x="495.0" y="167.70" width="8.9" height="8.81" fill="#ff7000"/><rect x="495.0" y="159.24" width="8.9" height="8.81" fill="#ff4000"/><rect x="495.0" y="150.78" width="8.9" height="8.81" fill="#ff3500"/><rect x="495.0" y="142.32" width="8.9" height="8.81" fill="#ff2a00"/><rect x="495.0" y="133.86" width="8.9" height="8.81" fill="#ff1f00"/><rect x="495.0" y="125.40" width="8.9" height="8.81" fill="#ff1400"/><rect x="495.0" y="116.94" width="8.9" height="8.81" fill="#c80000"/><rect x="495.0" y="108.48" width="8.9" height="8.81" fill="#be0401"/><rect x="495.0" y="100.02" width="8.9" height="8.81" fill="#b40702"/><rect x="495.0" y="91.56" width="8.9" height="8.81" fill="#aa0a03"/><rect x="495.0" y="83.10" width="8.9" height="8.81" fill="#a00e04"/><rect x="495.0" y="74.64" width="8.9" height="8.81" fill="#620c04"/><rect x="495.0" y="66.18" width="8.9" height="8.81" fill="#5e100a"/><rect x="495.0" y="57.72" width="8.9" height="8.81" fill="#5b140f"/><rect x="495.0" y="49.26" width="8.9" height="8.81" fill="#581814"/><rect x="495.0" y="40.80" width="8.9" height="8.81" fill="#541c1a"/><line x1="503.59999999999997" y1="91.56" x2="506.09999999999997" y2="91.56" stroke="#000" stroke-width="1"/><text x="524.2" y="99.86" class="cb" text-anchor="middle">196</text><line x1="503.59999999999997" y1="142.32" x2="506.09999999999997" y2="142.32" stroke="#000" stroke-width="1"/><text x="524.2" y="150.62" class="cb" text-anchor="middle">208</text><line x1="503.59999999999997" y1="193.08" x2="506.09999999999997" y2="193.08" stroke="#000" stroke-width="1"/><text x="524.2" y="201.38" class="cb" text-anchor="middle">220</text><line x1="503.59999999999997" y1="243.84" x2="506.09999999999997" y2="243.84" stroke="#000" stroke-width="1"/><text x="524.2" y="252.14" class="cb" text-anchor="middle">232</text><line x1="503.59999999999997" y1="294.60" x2="506.09999999999997" y2="294.60" stroke="#000" stroke-width="1"/><text x="524.2" y="302.90" class="cb" text-anchor="middle">244</text><line x1="503.59999999999997" y1="345.36" x2="506.09999999999997" y2="345.36" stroke="#000" stroke-width="1"/><text x="524.2" y="353.66" class="cb" text-anchor="middle">256</text><line x1="503.59999999999997" y1="396.12" x2="506.09999999999997" y2="396.12" stroke="#000" stroke-width="1"/><text x="524.2" y="404.42" class="cb" text-anchor="middle">268</text><line x1="503.59999999999997" y1="446.88" x2="506.09999999999997" y2="446.88" stroke="#000" stroke-width="1"/><text x="524.2" y="455.18" class="cb" text-anchor="middle">280</text><line x1="503.59999999999997" y1="497.64" x2="506.09999999999997" y2="497.64" stroke="#000" stroke-width="1"/><text x="524.2" y="505.94" class="cb" text-anchor="middle">292</text><line x1="503.59999999999997" y1="548.40" x2="506.09999999999997" y2="548.40" stroke="#000" stroke-width="1"/><text x="524.2" y="556.70" class="cb" text-anchor="middle">304</text></g>
<path d="M727.6 1703.5h.01M722.8 1696.7h.01M731.3 1704.8h.01M728.7 1700.8h.01M727.9 1704.3h.01M711.5 1692.2h.01M732.8 1707.4h.01M730.6 1717.4h.01M709.6 1704.9h.01M710.6 1706.7h.01M725.7 1697.0h.01M723.9 1702.5h.01M731.0 1704.8h.01M716.2 1700.9h.01M720.2 1708.1h.01M726.1 1698.2h.01M714.2 1704.2h.01M724.2 1713.0h.01M736.8 1707.1h.01M738.9 1701.5h.01M716.0 1699.0h.01M734.8 1706.8h.01M727.6 1704.4h.01M734.0 1698.8h.01M720.9 1711.5h.01M730.7 1697.2h.01M723.9 1714.1h.01M715.0 1704.7h.01M735.6 1705.1h.01M739.0 1701.9h.01M713.7 1703.8h.01M732.1 1707.7h.01M734.6 1709.0h.01M729.3 1705.8h.01M728.8 1705.5h.01M728.7 1705.4h.01M711.2 1703.9h.01M729.2 1699.8h.01M719.3 1710.9h.01M716.3 1701.3h.01M734.9 1699.1h.01M718.7 1709.5h.01M727.6 1709.4h.01M734.2 1702.1h.01M712.0 1701.5h.01M734.5 1707.7h.01M733.6 1717.9h.01M724.2 1702.2h.01M717.7 1702.5h.01M725.2 1698.9h.01M732.8 1705.3h.01M734.3 1703.4h.01M732.3 1716.6h.01M713.6 1700.4h.01M727.4 1702.8h.01M734.3 1711.5h.01M729.3 1697.9h.01M732.0 1714.3h.01M721.5 1699.9h.01M712.4 1695.4h.01M720.0 1709.0h.01M729.1 1719.0h.01M733.8 1716.7h.01M724.9 1711.2h.01M723.7 1698.5h.01M732.2 1716.7h.01M728.9 1703.8h.01M734.5 1698.3h.01M715.5 1695.8h.01M721.9 1701.5h.01M736.8 1698.6h.01M725.6 1707.4h.01M727.4 1717.7h.01M727.0 1712.9h.01M734.4 1717.4h.01M729.2 1700.1h.01M736.5 1703.9h.01M724.9 1697.0h.01M731.8 1719.8h.01M714.4 1707.3h.01M727.8 1707.8h.01M732.8 1717.0h.01M724.5 1712.3h.01M733.8 1718.6h.01M727.7 1705.7h.01M732.3 1715.2h.01M714.7 1707.2h.01M713.1 1700.2h.01M731.7 1704.6h.01M728.9 1703.1h.01M712.0 1699.2h.01M726.5 1716.5h.01M713.3 1703.6h.01M715.4 1699.1h.01M725.3 1714.8h.01M731.2 1702.7h.01M729.6 1718.7h.01M735.5 1702.1h.01M722.8 1712.8h.01M725.1 1708.5h.01M722.0 1704.3h.01M710.2 1702.2h.01M715.8 1704.5h.01M731.1 1716.1h.01M734.8 1702.3h.01M729.3 1704.0h.01M712.6 1699.2h.01M722.9 1700.1h.01M716.2 1707.5h.01M711.5 1698.8h.01M736.7 1701.0h.01M712.9 1704.1h.01M712.4 1702.9h.01M711.1 1701.4h.01M732.4 1701.2h.01M725.4 1697.1h.01M730.9 1706.5h.01M736.4 1718.8h.01M728.2 1702.5h.01M712.0 1692.3h.01M718.6 1699.8h.01M729.9 1715.5h.01M714.9 1701.7h.01M724.5 1711.7h.01M715.5 1705.2h.01M733.4 1718.1h.01M724.6 1709.2h.01M736.3 1702.4h.01M717.1 1698.3h.01M711.0 1690.8h.01M734.8 1707.7h.01M731.6 1714.9h.01M730.9 1695.8h.01M715.2 1696.7h.01M729.0 1700.3h.01M720.9 1702.4h.01M727.8 1695.9h.01M718.6 1699.6h.01M718.2 1708.9h.01M728.6 1697.0h.01M711.6 1692.0h.01M732.0 1717.3h.01M734.2 1709.9h.01M735.0 1698.1h.01M725.2 1705.4h.01M726.8 1710.4h.01M727.8 1701.5h.01M733.1 1719.4h.01M716.4 1699.5h.01M736.1 1706.1h.01M713.3 1699.1h.01M724.9 1700.1h.01M713.1 1692.1h.01M720.3 1700.5h.01M717.5 1698.5h.01M733.2 1719.2h.01M713.1 1695.9h.01M726.7 1713.9h.01M719.3 1697.5h.01M724.9 1715.9h.01M727.6 1702.3h.01M710.1 1695.5h.01M720.8 1712.9h.01M719.8 1708.7h.01M736.4 1720.1h.01M724.9 1697.7h.01M715.4 1706.6h.01M734.7 1704.8h.01M720.8 1703.3h.01M731.9 1718.0h.01M724.2 1702.0h.01M737.4 1708.8h.01M726.9 1696.9h.01M738.1 1700.2h.01M714.1 1699.3h.01M728.0 1697.1h.01M727.0 1696.9h.01M734.4 1699.0h.01M716.3 1707.0h.01M730.7 1698.2h.01M726.4 1705.7h.01M735.5 1719.4h.01M725.7 1703.0h.01M710.8 1696.2h.01M727.4 1717.0h.01M736.9 1707.6h.01M732.2 1716.0h.01M723.4 1698.4h.01M721.6 1703.8h.01M721.9 1711.9h.01M717.6 1695.0h.01M714.5 1694.7h.01M734.2 1719.1h.01M723.4 1695.8h.01M735.6 1701.6h.01M718.4 1699.8h.01M728.2 1699.2h.01M713.3 1706.3h.01M717.2 1707.6h.01M716.6 1704.8h.01M735.6 1720.3h.01M736.1 1702.8h.01M714.5 1695.1h.01M715.7 1703.5h.01M715.3 1702.1h.01M715.9 1699.8h.01M724.5 1702.1h.01M722.1 1710.8h.01M721.3 1703.4h.01M736.8 1705.5h.01M735.8 1705.7h.01M732.5 1713.1h.01M734.8 1702.6h.01M715.0 1705.6h.01M722.8 1712.5h.01M734.4 1700.0h.01M710.3 1703.0h.01M733.7 1707.9h.01M727.3 1711.7h.01M734.0 1702.8h.01M727.6 1702.7h.01M735.5 1720.7h.01M721.0 1710.4h.01M723.9 1705.8h.01M711.4 1693.0h.01M716.9 1700.1h.01M716.7 1707.6h.01M729.3 1717.8h.01M732.5 1716.4h.01M729.6 1705.2h.01M710.4 1695.3h.01M721.1 1710.7h.01M718.6 1708.8h.01M737.5 1702.7h.01M733.2 1702.2h.01M735.9 1711.8h.01M722.3 1698.2h.01M728.1 1703.5h.01M710.4 1695.8h.01M733.1 1716.8h.01M734.3 1712.5h.01M716.3 1701.1h.01M726.6 1701.5h.01M725.8 1697.0h.01M736.0 1720.9h.01M731.2 1701.7h.01M730.4 1703.6h.01M721.4 1712.1h.01M708.9 1693.9h.01M714.2 1704.3h.01M721.2 1708.6h.01M728.9 1718.1h.01M709.9 1703.8h.01M721.9 1712.4h.01M719.4 1711.9h.01M712.3 1703.9h.01M726.1 1704.3h.01M732.1 1707.9h.01M728.0 1716.5h.01M731.5 1696.3h.01M735.0 1706.8h.01M712.9 1706.6h.01M724.1 1715.6h.01M728.2 1696.3h.01M712.5 1697.5h.01M725.9 1700.5h.01M711.5 1693.2h.01M731.6 1717.7h.01M732.9 1697.7h.01M710.4 1691.7h.01M736.9 1701.4h.01M731.9 1718.6h.01M723.4 1704.5h.01M711.1 1701.2h.01M728.2 1704.9h.01M712.8 1693.8h.01M718.3 1696.5h.01M734.3 1702.2h.01M719.6 1712.7h.01M722.8 1711.4h.01M722.7 1710.2h.01M731.8 1718.8h.01M734.8 1709.1h.01M710.8 1698.9h.01M731.9 1701.3h.01M733.9 1702.8h.01M719.9 1709.9h.01" stroke="#0000ff" stroke-width="2.0" stroke-linecap="square" fill="none"/><path d="M754.8 1702.3h.01M756.6 1701.6h.01M749.5 1698.4h.01M753.2 1698.8h.01M753.8 1698.7h.01M752.9 1700.4h.01M756.4 1699.3h.01M751.3 1697.1h.01M764.9 1699.7h.01M748.9 1702.4h.01M756.8 1701.7h.01M750.9 1699.2h.01M753.3 1701.8h.01M753.6 1697.1h.01M758.8 1700.7h.01M756.1 1701.7h.01M754.4 1698.6h.01M748.5 1703.2h.01M760.1 1701.5h.01M757.2 1702.0h.01M756.1 1699.0h.01M762.6 1701.4h.01M752.3 1698.6h.01M750.2 1699.5h.01M748.7 1703.7h.01M752.0 1698.9h.01M755.3 1697.3h.01M761.5 1700.7h.01M750.5 1703.9h.01M753.1 1700.3h.01M754.3 1698.6h.01M750.0 1706.1h.01M751.2 1697.8h.01M758.2 1698.7h.01M754.2 1697.3h.01M756.5 1702.2h.01M752.4 1699.0h.01M748.4 1698.8h.01M749.9 1704.9h.01M750.6 1705.4h.01M761.3 1699.4h.01" stroke="#0000ff" stroke-width="2.0" stroke-linecap="square" fill="none"/><path d="M769.5 1698.2h.01M771.9 1698.1h.01M773.1 1695.0h.01M773.2 1697.8h.01M774.4 1696.7h.01M769.7 1698.3h.01M772.3 1697.1h.01M771.4 1699.3h.01" stroke="#0000ff" stroke-width="2.0" stroke-linecap="square" fill="none"/><path d="M732.9 1678.2h.01M732.0 1678.7h.01M732.2 1678.6h.01M735.1 1678.0h.01M734.3 1678.5h.01M731.7 1677.0h.01M733.9 1677.2h.01" stroke="#0000ff" stroke-width="2.0" stroke-linecap="square" fill="none"/><path d="M791.2 1680.4h.01M792.2 1681.9h.01M789.6 1683.4h.01M790.4 1683.3h.01M793.2 1679.5h.01M789.3 1682.2h.01M793.1 1680.1h.01M786.8 1680.9h.01M787.9 1682.2h.01M788.2 1682.1h.01M790.3 1680.3h.01" stroke="#0000ff" stroke-width="2.0" stroke-linecap="square" fill="none"/><path d="M694.0 1693.3h.01M692.5 1690.6h.01M693.5 1689.8h.01M692.6 1691.1h.01M692.7 1689.4h.01M698.7 1695.2h.01M698.9 1694.7h.01M695.3 1692.2h.01M696.1 1690.7h.01M692.7 1690.5h.01M695.4 1691.6h.01M690.3 1691.8h.01M693.5 1692.1h.01" stroke="#0000ff" stroke-width="2.0" stroke-linecap="square" fill="none"/><path d="M682.8 1644.8h.01M672.2 1643.5h.01M680.2 1645.4h.01M671.1 1643.5h.01M674.6 1644.3h.01M674.5 1645.5h.01M683.4 1644.7h.01M674.1 1644.7h.01M673.9 1645.4h.01M672.6 1643.5h.01M680.4 1646.0h.01M676.1 1645.2h.01M680.8 1644.9h.01M672.4 1644.8h.01M672.3 1645.5h.01M681.7 1644.2h.01M677.9 1647.0h.01M675.9 1643.8h.01M679.7 1646.0h.01M674.0 1645.2h.01M685.6 1644.0h.01" stroke="#0000ff" stroke-width="2.0" stroke-linecap="square" fill="none"/><path d="M688.6 1644.5h.01M691.0 1644.6h.01M692.6 1641.6h.01M691.8 1643.6h.01M689.9 1643.5h.01M689.0 1641.7h.01M692.1 1642.2h.01M689.6 1643.8h.01" stroke="#0000ff" stroke-width="2.0" stroke-linecap="square" fill="none"/><path d="M698.0 1641.5h.01M701.2 1642.5h.01M696.1 1639.9h.01M697.3 1643.7h.01M697.3 1641.8h.01M701.0 1643.6h.01M696.6 1640.5h.01M697.0 1641.1h.01" stroke="#0000ff" stroke-width="2.0" stroke-linecap="square" fill="none"/><path d="M731.2 1628.8h.01M725.6 1634.2h.01M726.3 1633.6h.01M728.4 1633.6h.01M737.4 1631.1h.01M735.3 1630.5h.01M736.3 1628.6h.01M735.3 1634.2h.01M724.5 1632.2h.01M733.2 1634.3h.01M733.5 1631.7h.01M731.0 1631.5h.01M734.5 1632.8h.01M725.8 1631.6h.01M733.8 1631.9h.01M734.3 1633.0h.01M730.1 1631.7h.01M734.4 1631.5h.01M734.6 1627.7h.01M727.8 1629.8h.01M736.0 1627.9h.01M726.8 1632.0h.01M729.5 1631.6h.01M730.7 1632.4h.01M736.2 1630.3h.01M730.9 1628.0h.01M724.0 1632.0h.01M727.8 1629.7h.01M731.7 1632.3h.01M736.3 1629.4h.01" stroke="#0000ff" stroke-width="2.0" stroke-linecap="square" fill="none"/><path d="M731.5 1655.7h.01M733.7 1654.9h.01M733.5 1655.5h.01M731.9 1654.5h.01M730.7 1655.4h.01M732.9 1654.6h.01M732.9 1656.9h.01M731.6 1654.4h.01M730.7 1655.3h.01M730.5 1654.4h.01M730.5 1656.8h.01M731.7 1653.8h.01M734.1 1654.5h.01" stroke="#0000ff" stroke-width="2.0" stroke-linecap="square" fill="none"/><path d="M742.0 1642.2h.01M742.0 1643.6h.01M739.6 1641.5h.01M741.1 1644.5h.01M741.1 1642.9h.01M742.1 1641.1h.01M742.2 1642.0h.01M740.9 1641.4h.01" stroke="#0000ff" stroke-width="2.0" stroke-linecap="square" fill="none"/><path d="M775.4 1669.7h.01M774.9 1663.3h.01M774.2 1663.9h.01M773.9 1662.0h.01M774.4 1662.7h.01M773.4 1675.6h.01M776.7 1677.0h.01M775.4 1679.2h.01M777.9 1677.3h.01M769.0 1677.2h.01M772.7 1669.9h.01M772.3 1658.7h.01M778.7 1666.4h.01M769.6 1677.8h.01M776.4 1673.4h.01M775.3 1672.7h.01M769.9 1672.1h.01M773.2 1659.2h.01M770.4 1671.1h.01M776.9 1678.7h.01M772.3 1672.4h.01M774.9 1668.7h.01M774.0 1656.2h.01M773.4 1656.8h.01M774.8 1665.2h.01M774.8 1677.7h.01M772.7 1656.3h.01M770.5 1667.7h.01M773.5 1664.4h.01M774.2 1675.1h.01M773.5 1661.7h.01M771.8 1675.1h.01M771.5 1675.6h.01M779.2 1676.5h.01M774.1 1660.9h.01M774.4 1668.6h.01M772.9 1657.5h.01M774.7 1677.2h.01M778.9 1667.9h.01M776.2 1667.9h.01M773.4 1664.4h.01M774.4 1666.3h.01M773.8 1667.3h.01M771.7 1662.0h.01M776.4 1662.7h.01M775.9 1679.3h.01M777.6 1677.1h.01M773.2 1675.6h.01M773.7 1660.2h.01M774.4 1672.9h.01M774.0 1657.0h.01M777.9 1664.0h.01M773.2 1660.2h.01M777.1 1672.7h.01M772.4 1670.2h.01M770.6 1658.0h.01M777.5 1677.8h.01M774.9 1664.4h.01M775.5 1674.4h.01M777.3 1671.4h.01M775.0 1663.6h.01M777.9 1677.2h.01M771.9 1670.0h.01M773.1 1663.3h.01M774.4 1668.5h.01M776.2 1669.7h.01M773.9 1676.3h.01M771.1 1672.1h.01M772.3 1670.0h.01M771.3 1669.2h.01M772.7 1665.0h.01M773.0 1654.5h.01M771.1 1677.2h.01M776.7 1674.4h.01M776.8 1666.5h.01M773.7 1660.6h.01M774.7 1674.0h.01M770.0 1676.1h.01M770.7 1678.3h.01M771.9 1668.7h.01M772.5 1668.4h.01M775.9 1676.4h.01M771.8 1677.1h.01M774.2 1677.2h.01M775.6 1671.6h.01M772.3 1659.3h.01M776.1 1672.7h.01M777.6 1664.7h.01" stroke="#0000ff" stroke-width="2.0" stroke-linecap="square" fill="none"/><path d="M670.0 1650.8h.01M670.3 1650.5h.01M669.8 1649.8h.01M667.9 1651.2h.01M667.6 1650.7h.01M670.7 1650.1h.01M673.6 1650.7h.01M668.3 1652.2h.01M670.2 1651.2h.01" stroke="#0000ff" stroke-width="2.0" stroke-linecap="square" fill="none"/><path d="M695.1 1678.6h.01M696.3 1680.9h.01M696.7 1679.7h.01M697.3 1680.2h.01M696.0 1680.4h.01M696.5 1679.8h.01M695.9 1681.0h.01M697.5 1678.6h.01" stroke="#0000ff" stroke-width="2.0" stroke-linecap="square" fill="none"/><path d="M720.8 1682.1h.01M721.3 1682.1h.01M720.7 1680.2h.01M722.6 1681.1h.01M720.3 1680.4h.01M719.0 1680.3h.01M722.4 1679.8h.01" stroke="#0000ff" stroke-width="2.0" stroke-linecap="square" fill="none"/><path d="M668.7 1658.3h.01M667.4 1665.7h.01M667.1 1665.2h.01M664.7 1662.3h.01M677.6 1656.1h.01M677.0 1657.8h.01M657.5 1662.3h.01M674.6 1658.3h.01M678.2 1656.0h.01M666.2 1663.3h.01M679.2 1653.7h.01M669.1 1665.6h.01M675.3 1662.0h.01M663.5 1661.6h.01M659.4 1666.3h.01M673.7 1653.1h.01M673.1 1653.8h.01M658.7 1665.1h.01M671.2 1654.8h.01M669.1 1656.5h.01M673.1 1662.1h.01M668.6 1663.1h.01M659.1 1662.9h.01M672.2 1656.7h.01M674.0 1662.0h.01M672.3 1661.9h.01M675.1 1658.3h.01M669.5 1657.2h.01M661.9 1664.7h.01M662.0 1663.9h.01M665.8 1663.3h.01M671.9 1659.6h.01M675.4 1660.1h.01M670.3 1657.7h.01M675.9 1660.8h.01M669.1 1662.8h.01M667.5 1662.1h.01M675.3 1654.6h.01M679.7 1653.9h.01M668.3 1661.9h.01M674.4 1658.2h.01M670.7 1657.4h.01M672.9 1654.9h.01M665.5 1661.7h.01M663.0 1661.9h.01M671.5 1658.6h.01M673.8 1664.3h.01M670.7 1661.0h.01M675.1 1660.7h.01M668.7 1662.2h.01M671.1 1657.4h.01M675.6 1654.0h.01M673.3 1653.7h.01M675.9 1661.9h.01M675.4 1660.6h.01M665.9 1665.6h.01M669.5 1659.3h.01M670.4 1662.5h.01M677.9 1659.6h.01M676.0 1657.1h.01M660.7 1662.3h.01M662.5 1664.5h.01M674.5 1661.2h.01M671.7 1662.0h.01M678.8 1655.2h.01M668.2 1658.6h.01M679.0 1652.2h.01M669.3 1659.3h.01M677.6 1653.0h.01M668.2 1657.0h.01M667.6 1662.9h.01M665.8 1660.7h.01M675.2 1651.4h.01M665.6 1666.6h.01M675.4 1651.9h.01M675.3 1655.5h.01M677.9 1654.7h.01M672.6 1662.7h.01M671.1 1662.5h.01M673.0 1662.4h.01M673.0 1654.4h.01M677.7 1656.4h.01M668.0 1662.5h.01M678.9 1652.5h.01M675.5 1654.6h.01M667.0 1666.2h.01M668.0 1661.3h.01M679.0 1655.9h.01M675.1 1651.9h.01M673.0 1652.9h.01M674.8 1661.0h.01M665.7 1667.0h.01M675.4 1661.7h.01M671.2 1665.1h.01M670.9 1655.0h.01M673.9 1652.1h.01M676.2 1658.4h.01M659.8 1663.3h.01M661.0 1663.5h.01M671.7 1656.6h.01M671.9 1653.9h.01M662.2 1662.8h.01M669.4 1661.3h.01" stroke="#0000ff" stroke-width="2.0" stroke-linecap="square" fill="none"/><path d="M679.2 1677.0h.01M681.9 1662.8h.01M681.2 1662.7h.01M686.0 1669.6h.01M679.6 1663.4h.01M680.3 1670.7h.01M679.4 1664.6h.01M679.1 1671.8h.01M681.8 1664.9h.01M682.1 1667.9h.01M679.1 1672.9h.01M678.1 1666.0h.01M679.9 1668.8h.01M681.1 1668.5h.01M683.0 1673.2h.01M679.2 1671.4h.01M683.3 1670.9h.01M682.7 1676.5h.01M677.8 1672.4h.01M683.0 1663.1h.01M680.8 1665.0h.01M681.1 1677.1h.01M679.1 1664.4h.01M683.0 1676.2h.01M682.8 1674.8h.01M683.7 1674.6h.01M677.5 1670.4h.01M680.9 1662.3h.01M684.9 1671.2h.01M683.1 1673.3h.01M676.1 1670.4h.01M678.1 1672.7h.01M683.9 1668.8h.01M679.2 1666.0h.01M677.5 1667.6h.01M681.8 1672.4h.01M682.4 1665.2h.01M679.5 1669.3h.01M684.7 1669.7h.01M675.6 1671.0h.01M678.7 1670.3h.01M680.5 1670.8h.01M682.6 1666.8h.01M679.1 1674.3h.01M683.3 1673.6h.01M677.8 1667.7h.01M683.0 1663.3h.01M679.7 1669.6h.01M682.3 1671.2h.01M682.4 1671.8h.01M683.0 1663.3h.01M684.1 1669.3h.01M681.5 1673.5h.01M681.7 1668.4h.01M676.8 1668.5h.01M685.7 1671.1h.01M679.7 1672.7h.01M681.1 1669.0h.01M682.2 1672.4h.01M679.3 1674.0h.01M682.5 1672.4h.01" stroke="#0000ff" stroke-width="2.0" stroke-linecap="square" fill="none"/><path d="M697.7 1670.3h.01M709.1 1656.6h.01M721.3 1657.5h.01M709.2 1658.4h.01M691.1 1668.5h.01M708.2 1666.3h.01M699.4 1669.1h.01M703.9 1664.6h.01M713.5 1666.1h.01M715.0 1656.8h.01M706.1 1668.5h.01M692.7 1671.6h.01M710.0 1655.2h.01M701.8 1670.6h.01M719.4 1646.9h.01M721.0 1663.0h.01M703.6 1663.2h.01M706.5 1670.2h.01M714.3 1664.7h.01M716.3 1655.9h.01M721.1 1656.7h.01M707.0 1665.3h.01M700.5 1667.8h.01M713.9 1659.7h.01M701.4 1667.2h.01M693.9 1667.5h.01M711.6 1663.7h.01M696.7 1668.1h.01M697.2 1670.2h.01M715.6 1645.3h.01M708.1 1669.5h.01M720.2 1660.0h.01M711.0 1658.3h.01M722.3 1654.2h.01M720.5 1660.4h.01M707.8 1662.8h.01M711.9 1662.3h.01M713.2 1659.6h.01M714.9 1656.5h.01M718.4 1659.4h.01M713.1 1657.9h.01M710.4 1653.7h.01M712.3 1664.9h.01M708.7 1671.2h.01M720.6 1660.2h.01M700.3 1665.9h.01M703.1 1665.7h.01M718.2 1642.1h.01M709.4 1661.6h.01M711.3 1655.3h.01M694.5 1665.6h.01M697.6 1665.6h.01M695.2 1671.7h.01M709.6 1668.3h.01M703.2 1657.9h.01M704.1 1667.7h.01M720.2 1653.7h.01M707.1 1656.9h.01M716.3 1652.5h.01M716.9 1659.4h.01M700.6 1664.5h.01M716.4 1660.2h.01M723.8 1655.4h.01M714.5 1640.4h.01M718.7 1660.9h.01M710.4 1671.0h.01M699.4 1660.3h.01M723.9 1655.1h.01M694.4 1670.5h.01M715.7 1654.4h.01M713.9 1660.6h.01M709.2 1664.2h.01M701.0 1660.1h.01M721.4 1658.0h.01M713.8 1661.2h.01M705.5 1657.3h.01M710.4 1655.8h.01M713.3 1665.3h.01M715.6 1647.4h.01M708.0 1664.0h.01M714.2 1657.3h.01M702.3 1666.5h.01M695.0 1669.2h.01M690.9 1668.0h.01M718.3 1653.5h.01M709.7 1672.1h.01M714.7 1652.5h.01M708.0 1662.5h.01M708.4 1668.3h.01M702.3 1669.3h.01M716.9 1662.4h.01M710.6 1661.8h.01M707.7 1656.5h.01M693.0 1667.7h.01M712.6 1662.1h.01M717.4 1657.3h.01M698.8 1666.4h.01M703.4 1666.4h.01M722.9 1654.0h.01M717.0 1663.1h.01M717.7 1645.5h.01M710.7 1655.4h.01M692.7 1668.9h.01M705.3 1665.8h.01M706.3 1667.7h.01M716.4 1644.9h.01M708.7 1671.6h.01M692.2 1667.0h.01M707.9 1666.2h.01M717.2 1653.8h.01M709.5 1668.7h.01M716.9 1661.0h.01M714.0 1655.6h.01M718.4 1641.1h.01M695.1 1669.7h.01M718.9 1658.5h.01M716.6 1655.4h.01M716.3 1664.7h.01M702.9 1663.9h.01M715.9 1644.2h.01M695.9 1670.4h.01M706.8 1667.8h.01M715.6 1651.9h.01M706.6 1658.2h.01M692.6 1667.1h.01M719.4 1641.0h.01M712.6 1664.4h.01M711.5 1658.0h.01M711.1 1659.0h.01M695.5 1667.8h.01M712.9 1657.1h.01M717.5 1651.1h.01M705.4 1667.7h.01M710.3 1670.1h.01M708.7 1671.9h.01M717.8 1663.2h.01M710.3 1657.1h.01M713.3 1665.5h.01M719.7 1660.3h.01M706.6 1666.9h.01M718.5 1657.6h.01M717.4 1655.9h.01M722.4 1658.0h.01M707.2 1667.6h.01M695.3 1667.3h.01M716.9 1638.7h.01M713.6 1657.9h.01M692.0 1668.9h.01M714.7 1649.1h.01M713.7 1660.1h.01M695.2 1668.8h.01M695.8 1666.1h.01M696.6 1669.1h.01M710.4 1660.3h.01M697.8 1667.4h.01M717.9 1660.9h.01M718.1 1653.1h.01M705.8 1669.3h.01M717.5 1641.2h.01M704.8 1666.9h.01M694.8 1665.7h.01M722.6 1656.7h.01M717.9 1660.0h.01M711.6 1664.6h.01M706.9 1669.1h.01M705.5 1661.8h.01M698.7 1665.6h.01M695.3 1672.1h.01M720.8 1653.4h.01M702.1 1659.7h.01M719.9 1657.7h.01M710.2 1660.9h.01M721.8 1655.7h.01M703.9 1656.3h.01M708.8 1670.3h.01M716.9 1650.6h.01M706.6 1655.3h.01M712.5 1666.3h.01M712.8 1650.3h.01M706.9 1663.4h.01M719.8 1655.9h.01M708.5 1665.4h.01M697.8 1669.5h.01M688.0 1669.7h.01M714.4 1661.0h.01M695.5 1666.0h.01M719.6 1642.3h.01M718.4 1653.4h.01M708.4 1672.0h.01M710.5 1662.0h.01M706.8 1656.0h.01M703.2 1660.7h.01M709.6 1667.7h.01M701.2 1667.2h.01M717.1 1656.3h.01M702.2 1659.6h.01M706.5 1664.4h.01M716.0 1643.8h.01M722.5 1656.0h.01M692.5 1672.5h.01M711.8 1657.8h.01M699.2 1670.9h.01M705.8 1664.0h.01M719.9 1662.0h.01M705.9 1664.3h.01M710.4 1664.1h.01M707.5 1655.1h.01M695.7 1664.2h.01M699.6 1669.3h.01M709.2 1663.9h.01M716.0 1661.6h.01M711.2 1662.6h.01M718.0 1645.5h.01M714.0 1664.1h.01M702.8 1659.5h.01M719.7 1653.1h.01M704.3 1669.5h.01M713.0 1665.0h.01M697.1 1669.8h.01M698.7 1668.2h.01M716.1 1650.0h.01M690.3 1672.4h.01M713.1 1667.4h.01M709.4 1663.1h.01M711.2 1670.4h.01M695.9 1668.1h.01M707.6 1651.8h.01M710.0 1652.0h.01M705.9 1665.7h.01M704.9 1666.5h.01M713.5 1658.8h.01M720.1 1653.2h.01" stroke="#0000ff" stroke-width="2.0" stroke-linecap="square" fill="none"/><path d="M752.2 1635.3h.01M752.1 1632.9h.01M758.8 1628.2h.01M752.7 1632.8h.01M757.8 1630.4h.01M752.1 1633.7h.01M753.2 1629.5h.01M754.3 1628.5h.01M763.0 1632.8h.01M751.1 1632.4h.01M749.4 1632.5h.01M757.8 1629.4h.01M762.6 1634.0h.01M755.2 1632.2h.01M751.9 1632.1h.01M757.9 1628.8h.01M760.4 1629.9h.01M752.8 1632.1h.01M757.1 1627.7h.01M753.0 1629.8h.01M762.0 1630.9h.01M757.5 1629.9h.01M757.7 1630.2h.01M753.2 1630.0h.01M754.7 1630.8h.01M756.1 1630.4h.01M752.8 1631.1h.01M756.4 1628.9h.01M764.1 1631.6h.01M753.5 1634.6h.01M761.1 1635.1h.01M763.1 1633.6h.01M752.1 1632.8h.01M754.0 1631.2h.01M759.0 1631.3h.01M753.9 1632.3h.01M758.2 1632.7h.01M760.9 1633.7h.01M760.6 1631.1h.01M750.4 1635.9h.01M756.3 1628.5h.01M753.4 1629.6h.01" stroke="#0000ff" stroke-width="2.0" stroke-linecap="square" fill="none"/><path d="M738.7 1653.1h.01M759.1 1650.2h.01M738.0 1655.8h.01M764.2 1654.8h.01M738.7 1651.2h.01M766.0 1649.7h.01M743.3 1652.5h.01M763.2 1649.0h.01M756.9 1650.6h.01M763.5 1649.4h.01M759.1 1653.2h.01M740.7 1649.2h.01M753.9 1652.6h.01M740.5 1651.0h.01M758.8 1648.6h.01M748.1 1651.1h.01M765.3 1648.3h.01M741.3 1650.5h.01M761.9 1660.4h.01M760.3 1649.3h.01M766.0 1651.1h.01M753.4 1648.9h.01M742.4 1653.5h.01M760.6 1651.5h.01M747.5 1650.6h.01M745.3 1649.8h.01M742.6 1649.6h.01M758.1 1649.4h.01M756.8 1647.6h.01M740.0 1648.3h.01M747.6 1651.5h.01M752.4 1651.0h.01M766.0 1647.1h.01M740.2 1648.5h.01M741.3 1653.0h.01M760.7 1654.0h.01M762.9 1657.4h.01M763.0 1647.8h.01M749.5 1651.0h.01M742.4 1649.9h.01M756.1 1650.6h.01M759.2 1651.8h.01M738.3 1649.8h.01M748.9 1650.9h.01M758.0 1648.8h.01M761.6 1656.0h.01M752.2 1651.6h.01M761.6 1652.1h.01M739.7 1652.5h.01M761.3 1651.5h.01M741.9 1649.9h.01M748.4 1651.6h.01M761.6 1648.8h.01M760.3 1652.8h.01M740.5 1651.6h.01M765.4 1650.7h.01M764.9 1651.9h.01M740.5 1655.2h.01M757.3 1650.4h.01M764.8 1649.7h.01M764.6 1659.9h.01M762.6 1650.2h.01M745.1 1653.0h.01M738.9 1655.6h.01M760.7 1648.1h.01M740.2 1650.7h.01M762.1 1660.1h.01M744.8 1653.2h.01M741.7 1655.8h.01M761.5 1653.3h.01M742.2 1653.2h.01M750.0 1651.3h.01M762.0 1647.1h.01M750.1 1650.9h.01M746.6 1653.3h.01M746.2 1648.5h.01M762.9 1659.3h.01M763.3 1648.9h.01M764.4 1655.3h.01M761.1 1646.8h.01M764.8 1646.6h.01M762.9 1658.0h.01M756.8 1652.3h.01M739.5 1649.8h.01M762.6 1657.7h.01M761.8 1649.0h.01M756.5 1652.2h.01M762.4 1656.9h.01M738.8 1655.5h.01M762.9 1652.7h.01M738.8 1652.9h.01M747.7 1651.5h.01" stroke="#0000ff" stroke-width="2.0" stroke-linecap="square" fill="none"/><path d="M750.0 1672.9h.01M742.7 1678.6h.01M749.5 1672.5h.01M752.4 1670.9h.01M749.6 1666.0h.01M741.3 1673.0h.01M748.3 1674.3h.01M746.5 1676.0h.01M750.6 1676.2h.01M742.4 1669.8h.01M742.5 1674.8h.01M748.3 1676.0h.01M748.2 1677.7h.01M743.2 1673.1h.01M749.3 1676.7h.01M738.4 1669.6h.01M740.7 1670.0h.01M741.2 1678.5h.01M740.4 1677.4h.01M747.7 1676.1h.01M742.6 1671.0h.01M738.5 1666.6h.01M741.6 1669.5h.01M746.5 1673.0h.01M746.1 1675.5h.01M749.8 1675.7h.01M742.8 1677.7h.01M746.1 1674.6h.01M751.0 1671.2h.01M743.1 1674.2h.01M747.3 1671.3h.01M747.9 1675.9h.01M744.2 1675.0h.01M750.3 1664.2h.01M741.5 1675.1h.01M749.4 1671.3h.01M740.9 1676.2h.01M745.1 1672.9h.01M745.1 1674.1h.01M748.4 1673.7h.01M743.8 1670.0h.01M743.4 1672.2h.01M744.7 1677.6h.01M749.4 1675.9h.01M740.4 1671.5h.01M740.1 1671.7h.01M747.3 1672.3h.01M747.7 1676.4h.01M741.4 1672.8h.01M741.8 1673.7h.01M751.3 1674.7h.01M749.9 1675.4h.01M750.4 1673.2h.01M749.1 1672.0h.01M741.0 1669.0h.01M739.5 1673.0h.01M745.7 1671.1h.01M748.8 1670.4h.01M741.1 1670.3h.01M742.3 1667.9h.01M749.9 1671.4h.01M750.1 1665.9h.01M749.5 1667.7h.01M749.7 1670.9h.01M745.4 1672.4h.01M744.1 1676.2h.01M748.6 1672.4h.01M745.6 1670.9h.01M743.0 1670.8h.01M747.7 1673.1h.01M743.7 1672.8h.01M750.5 1671.1h.01" stroke="#0000ff" stroke-width="2.0" stroke-linecap="square" fill="none"/><path d="M789.6 1666.7h.01M797.1 1657.5h.01M798.1 1661.8h.01M797.2 1663.0h.01M788.4 1667.7h.01M792.5 1662.8h.01M796.3 1664.3h.01M796.5 1663.2h.01M797.4 1659.7h.01M797.1 1662.5h.01M794.2 1663.3h.01M800.0 1660.9h.01M797.4 1661.1h.01M792.6 1668.1h.01M798.4 1659.1h.01M787.6 1667.4h.01M798.7 1658.7h.01M798.0 1662.1h.01M790.6 1667.7h.01M789.7 1668.2h.01M794.6 1662.2h.01M798.9 1661.8h.01M789.3 1667.1h.01M795.8 1656.8h.01M794.1 1660.2h.01M791.1 1664.1h.01M796.6 1661.7h.01M793.1 1668.4h.01M790.9 1666.7h.01M792.8 1663.6h.01M796.7 1658.7h.01M791.7 1667.1h.01M795.1 1659.8h.01M797.9 1662.4h.01M791.4 1665.5h.01" stroke="#0000ff" stroke-width="2.0" stroke-linecap="square" fill="none"/><path d="M816.6 1675.4h.01M810.4 1685.1h.01M804.8 1685.3h.01M805.8 1685.2h.01M806.4 1688.7h.01M817.4 1676.1h.01M809.4 1682.1h.01M805.2 1686.6h.01M804.5 1687.6h.01M803.5 1687.0h.01M807.9 1686.6h.01M816.0 1675.8h.01M818.2 1672.4h.01M818.4 1675.6h.01M811.0 1678.5h.01M815.8 1676.8h.01M808.3 1678.3h.01M805.2 1687.5h.01M817.3 1676.6h.01M809.1 1679.0h.01M807.4 1684.2h.01M809.3 1679.3h.01M819.4 1674.4h.01M811.2 1683.3h.01M812.2 1682.1h.01M814.0 1681.1h.01M806.3 1687.0h.01M807.4 1678.5h.01M811.5 1682.6h.01M816.1 1676.3h.01M816.5 1677.7h.01M818.4 1675.1h.01M809.7 1677.7h.01M808.9 1685.8h.01M809.0 1681.0h.01M816.3 1675.1h.01M806.8 1686.7h.01M807.2 1685.1h.01M813.2 1677.3h.01M813.7 1680.7h.01M818.5 1673.4h.01M814.5 1681.2h.01M806.0 1686.7h.01M804.9 1688.2h.01M813.6 1676.6h.01M805.9 1687.1h.01M809.1 1678.3h.01M801.9 1688.5h.01M811.4 1679.7h.01M807.8 1677.7h.01M804.7 1687.0h.01M815.5 1678.3h.01M809.1 1684.9h.01M814.9 1677.8h.01M812.6 1676.4h.01M814.9 1675.6h.01" stroke="#0000ff" stroke-width="2.0" stroke-linecap="square" fill="none"/><path d="M824.6 1683.8h.01M814.8 1682.7h.01M816.7 1686.0h.01M819.4 1682.0h.01M825.4 1680.8h.01M821.7 1679.6h.01M816.6 1687.5h.01M816.0 1683.4h.01M817.9 1688.9h.01M822.2 1683.6h.01M816.2 1685.0h.01M818.1 1685.1h.01M824.7 1684.6h.01M820.3 1681.4h.01M823.1 1681.6h.01M820.6 1679.9h.01M816.1 1688.2h.01M818.6 1688.6h.01M818.2 1682.2h.01M816.0 1685.1h.01M822.8 1680.3h.01M823.3 1686.4h.01M822.9 1680.2h.01M819.2 1686.3h.01M822.4 1683.4h.01M824.5 1687.2h.01M818.1 1685.2h.01M815.9 1689.5h.01M816.8 1687.7h.01M822.1 1678.6h.01M815.5 1686.5h.01M815.6 1684.9h.01M815.7 1687.9h.01M823.9 1683.4h.01M818.2 1689.0h.01M815.9 1683.6h.01M813.5 1685.8h.01M821.3 1685.9h.01M815.8 1683.2h.01M815.6 1683.2h.01M822.5 1686.6h.01M818.3 1682.8h.01M824.7 1684.0h.01M822.0 1681.5h.01M818.8 1684.2h.01M824.9 1685.5h.01M814.6 1684.5h.01M821.7 1686.0h.01" stroke="#0000ff" stroke-width="2.0" stroke-linecap="square" fill="none"/><path d="M787.5 1657.4h.01M784.3 1657.3h.01M785.6 1656.9h.01M786.7 1655.9h.01M786.9 1658.1h.01M786.4 1654.9h.01M784.1 1657.5h.01M786.7 1657.8h.01" stroke="#0000ff" stroke-width="2.0" stroke-linecap="square" fill="none"/><path d="M714.3 1652.8h.01M712.2 1653.9h.01M713.0 1654.0h.01M712.3 1653.8h.01M714.9 1652.7h.01M712.9 1651.0h.01M712.3 1661.4h.01M711.8 1660.6h.01M710.6 1662.6h.01M710.7 1660.8h.01M713.3 1661.6h.01M713.9 1663.4h.01M709.5 1668.4h.01M706.9 1667.1h.01M707.1 1666.3h.01M709.4 1668.6h.01M707.0 1666.5h.01M709.1 1668.2h.01M668.1 1663.6h.01M667.7 1664.7h.01M667.5 1664.5h.01M669.6 1662.3h.01M668.7 1663.8h.01M667.1 1663.7h.01M673.2 1661.0h.01M673.2 1661.7h.01M672.3 1661.9h.01M673.2 1662.3h.01M673.5 1660.8h.01M672.3 1662.3h.01M681.9 1671.3h.01M679.4 1669.0h.01M680.1 1668.6h.01M678.5 1670.2h.01M678.7 1669.5h.01M678.5 1669.2h.01M684.3 1673.7h.01M682.0 1671.3h.01M685.3 1674.0h.01M685.3 1671.2h.01M682.3 1673.7h.01M684.0 1671.5h.01M759.5 1650.6h.01M757.8 1651.5h.01M760.6 1650.8h.01M760.0 1648.9h.01M757.8 1651.2h.01M758.7 1651.5h.01M762.5 1652.4h.01M762.1 1650.3h.01M762.1 1651.5h.01M762.5 1650.6h.01M762.6 1650.4h.01M763.5 1650.7h.01M742.0 1675.7h.01M740.8 1673.4h.01M743.0 1674.1h.01M742.9 1675.0h.01M742.2 1675.5h.01M742.5 1675.8h.01M745.9 1676.3h.01M746.8 1676.5h.01M747.0 1674.9h.01M748.8 1673.4h.01M748.9 1676.0h.01M747.8 1676.4h.01M769.7 1668.0h.01M772.8 1668.7h.01M770.7 1667.9h.01M771.6 1668.2h.01M772.7 1667.9h.01M770.6 1668.7h.01M812.5 1679.1h.01M809.4 1677.3h.01M809.3 1679.8h.01M809.7 1677.5h.01M810.3 1680.2h.01M812.4 1680.5h.01M819.7 1684.8h.01M819.1 1684.3h.01M819.2 1683.4h.01M821.0 1683.0h.01M819.9 1685.3h.01M818.4 1683.4h.01M759.1 1629.4h.01M756.1 1629.9h.01M759.0 1629.5h.01M757.4 1629.0h.01M758.3 1628.0h.01M760.4 1630.2h.01M715.0 1643.1h.01M715.9 1640.6h.01M717.1 1642.6h.01M718.8 1642.2h.01M716.6 1640.3h.01M718.7 1640.3h.01M771.4 1696.5h.01M771.2 1696.4h.01M768.3 1696.5h.01M771.3 1696.3h.01M771.6 1698.8h.01M767.9 1699.3h.01" stroke="#ff4500" stroke-width="2.0" stroke-linecap="square" fill="none"/><path d="M753.1 1657.6h.01M799.1 1696.9h.01M786.4 1648.7h.01M713.5 1664.0h.01M788.5 1652.5h.01M757.5 1642.8h.01" stroke="#ff4500" stroke-width="1.6" stroke-linecap="square" fill="none"/><path d="M806.8 1664.3h.01M689.8 1682.5h.01M714.8 1650.2h.01M695.5 1652.3h.01M722.9 1628.3h.01M774.1 1634.6h.01M788.3 1662.5h.01M709.3 1677.7h.01M801.7 1675.4h.01M752.5 1690.3h.01M708.2 1664.0h.01M685.1 1674.5h.01M712.4 1647.6h.01M770.2 1674.5h.01M709.1 1632.2h.01M768.9 1695.3h.01M742.9 1659.7h.01M705.4 1667.6h.01M748.2 1686.4h.01M754.1 1715.2h.01M734.4 1723.0h.01M816.6 1682.7h.01M735.5 1720.3h.01M783.6 1669.4h.01M693.6 1649.9h.01M811.8 1694.3h.01M720.7 1686.7h.01M743.3 1639.2h.01M703.6 1670.1h.01M790.5 1698.7h.01M802.5 1671.8h.01M708.9 1668.7h.01M701.8 1671.1h.01M737.8 1666.1h.01" stroke="#0000ff" stroke-width="1.6" stroke-linecap="square" fill="none"/><path d="M604.4 1585.2l1 1l-1 1l-1 -1z" fill="#ff4500"/><g transform="translate(590.50,1181.00)">
<g stroke="#000" stroke-width="1.05" fill="none" stroke-dasharray="3.3 4.97"><line x1="12.68" y1="50.35" x2="486.3" y2="50.35"/><line x1="12.68" y1="134.90" x2="486.3" y2="134.90"/><line x1="12.68" y1="219.45" x2="486.3" y2="219.45"/><line x1="12.68" y1="304.00" x2="486.3" y2="304.00"/><line x1="12.68" y1="388.55" x2="486.3" y2="388.55"/><line x1="12.68" y1="473.10" x2="486.3" y2="473.10"/></g><g stroke="#000" stroke-width="1.35" fill="none" stroke-dasharray="2.9 5.39"><line x1="37.80" y1="40.87" x2="37.80" y2="548.4"/><line x1="116.54" y1="40.87" x2="116.54" y2="548.4"/><line x1="195.28" y1="40.87" x2="195.28" y2="548.4"/><line x1="274.02" y1="40.87" x2="274.02" y2="548.4"/><line x1="352.76" y1="40.87" x2="352.76" y2="548.4"/><line x1="431.50" y1="40.87" x2="431.50" y2="548.4"/></g><text x="37.50" y="283" class="gl" text-anchor="middle">-126</text><text x="116.24" y="283" class="gl" text-anchor="middle">-124</text><text x="194.98" y="283" class="gl" text-anchor="middle">-122</text><text x="273.72" y="283" class="gl" text-anchor="middle">-120</text><text x="352.46" y="283" class="gl" text-anchor="middle">-118</text><text x="431.20" y="283" class="gl" text-anchor="middle">-116</text><text x="254.2" y="49.80" class="gl" text-anchor="middle">22</text><text x="254.2" y="134.35" class="gl" text-anchor="middle">20</text><text x="254.2" y="218.90" class="gl" text-anchor="middle">18</text><text x="254.2" y="303.45" class="gl" text-anchor="middle">16</text><text x="254.2" y="388.00" class="gl" text-anchor="middle">14</text><text x="254.2" y="472.55" class="gl" text-anchor="middle">12</text><g stroke="#000" stroke-width="1.15" fill="none" stroke-dasharray="12.2 11.4"><path d="M12.65 331.9Q157.7 436.3 302.7 548.3"/><path d="M12.65 444.5Q82.7 495.3 152.7 548.3"/></g><path d="M242.95 294.5H255.95M249.45 288.05V300.95" stroke="#000" stroke-width="4.55" fill="none"/><text x="37" y="65.6" class="tt">2A23 rain types</text><text x="438.3" y="522.8" class="pl">(h)</text><rect x="495.3" y="40.8" width="8.8" height="169.20" fill="#ff4500"/><rect x="495.3" y="210.00" width="8.8" height="169.20" fill="#0000ff"/><rect x="495.55" y="41.099999999999994" width="8.3" height="507.0" fill="none" stroke="#222" stroke-width="0.9"/><line x1="503.8" y1="41.00" x2="506.3" y2="41.00" stroke="#000" stroke-width="1"/><text x="506.7" y="49.30" style="font-size:20.8px">Conv</text><line x1="503.8" y1="210.20" x2="506.3" y2="210.20" stroke="#000" stroke-width="1"/><text x="506.7" y="218.50" style="font-size:20.8px">Strat</text><line x1="503.8" y1="379.40" x2="506.3" y2="379.40" stroke="#000" stroke-width="1"/><text x="506.7" y="387.70" style="font-size:20.8px">N/A</text></g>
<path d="M1319.7 1717.8h.01M1317.3 1710.1h.01M1321.7 1720.0h.01M1303.8 1707.1h.01M1317.1 1707.5h.01M1322.1 1719.2h.01M1306.7 1707.5h.01M1327.8 1719.2h.01M1301.9 1706.2h.01M1325.5 1721.3h.01M1317.5 1710.3h.01M1312.8 1699.3h.01M1326.8 1708.1h.01M1318.8 1699.0h.01M1301.6 1695.2h.01M1328.9 1701.9h.01M1325.2 1719.1h.01M1315.6 1704.3h.01M1320.8 1702.0h.01M1304.1 1704.0h.01M1326.7 1703.2h.01M1305.7 1706.1h.01M1319.0 1704.0h.01M1314.5 1712.4h.01M1315.9 1711.8h.01M1323.7 1698.1h.01M1326.8 1701.6h.01M1311.7 1701.3h.01M1313.4 1696.6h.01M1327.9 1700.4h.01M1327.0 1704.7h.01M1319.1 1703.8h.01M1326.2 1718.6h.01M1302.5 1697.8h.01M1307.3 1706.5h.01M1321.4 1704.6h.01M1306.6 1706.8h.01M1310.1 1698.5h.01M1320.4 1705.5h.01M1319.9 1700.8h.01M1301.0 1695.1h.01M1316.1 1701.3h.01M1308.9 1711.5h.01M1308.4 1710.1h.01M1309.1 1708.8h.01M1316.1 1710.8h.01M1324.1 1722.3h.01M1303.0 1696.4h.01M1312.1 1712.2h.01M1304.8 1696.2h.01M1304.0 1695.0h.01M1314.2 1699.1h.01M1302.7 1703.2h.01M1312.8 1714.0h.01M1316.8 1700.3h.01M1320.2 1719.0h.01M1322.1 1696.3h.01M1309.3 1699.8h.01M1316.5 1709.3h.01M1320.4 1704.0h.01M1327.7 1705.4h.01M1317.1 1708.5h.01M1320.0 1703.0h.01M1306.5 1696.1h.01M1301.5 1698.7h.01M1312.9 1702.5h.01M1319.3 1701.4h.01M1326.0 1720.4h.01M1322.3 1702.2h.01M1311.5 1699.8h.01M1315.1 1706.7h.01M1317.0 1697.3h.01M1301.3 1701.7h.01M1315.5 1699.0h.01M1303.9 1706.2h.01M1309.5 1709.4h.01M1307.9 1708.5h.01M1300.6 1702.8h.01M1306.9 1710.0h.01M1305.3 1697.0h.01M1320.1 1697.7h.01M1309.3 1711.5h.01M1319.1 1699.4h.01M1313.6 1705.5h.01M1302.5 1699.4h.01M1321.4 1717.7h.01M1324.5 1717.9h.01" stroke="#a8a8a8" stroke-width="2.0" stroke-linecap="square" fill="none"/><path d="M1318.1 1700.4h.01M1319.6 1699.8h.01M1307.1 1709.4h.01M1328.6 1702.9h.01M1321.1 1698.2h.01M1308.3 1699.0h.01M1315.8 1707.8h.01M1318.8 1703.2h.01M1307.6 1705.2h.01M1318.2 1699.9h.01M1319.7 1705.6h.01M1303.7 1703.9h.01M1316.7 1715.6h.01M1316.5 1706.3h.01M1326.7 1700.1h.01M1322.3 1704.9h.01M1314.0 1704.5h.01M1300.9 1695.0h.01M1324.1 1716.7h.01M1307.4 1704.1h.01M1312.7 1701.0h.01M1302.9 1699.5h.01M1315.4 1713.6h.01M1327.9 1708.3h.01M1310.4 1712.8h.01M1302.5 1694.7h.01M1311.7 1711.5h.01M1324.6 1720.8h.01M1303.2 1703.1h.01M1317.8 1714.3h.01M1315.5 1713.2h.01M1313.3 1700.9h.01M1309.6 1699.7h.01M1303.7 1703.3h.01M1303.7 1702.1h.01M1327.8 1707.2h.01M1318.5 1702.6h.01M1326.8 1711.0h.01M1324.0 1697.1h.01M1310.0 1696.5h.01M1327.9 1701.1h.01M1314.9 1695.6h.01M1321.8 1695.8h.01M1323.8 1712.3h.01M1326.6 1707.3h.01M1317.3 1696.7h.01M1327.8 1701.1h.01M1307.9 1705.9h.01M1321.2 1699.6h.01M1318.8 1706.8h.01M1304.7 1699.4h.01M1316.1 1712.0h.01M1323.0 1712.1h.01M1329.4 1703.4h.01M1328.9 1704.1h.01M1322.4 1704.3h.01M1313.6 1699.6h.01M1319.3 1705.7h.01M1323.8 1720.5h.01M1324.8 1701.2h.01M1316.2 1703.0h.01M1301.3 1697.0h.01M1307.2 1708.6h.01M1299.5 1690.8h.01M1324.3 1706.4h.01M1321.4 1696.3h.01M1320.9 1705.8h.01M1315.0 1696.4h.01M1317.1 1699.4h.01M1316.5 1696.9h.01M1322.9 1697.1h.01M1302.6 1705.0h.01M1314.2 1702.1h.01M1328.5 1705.4h.01M1324.3 1703.3h.01M1323.8 1706.8h.01M1306.4 1698.7h.01M1307.1 1700.3h.01M1319.8 1698.6h.01M1302.2 1702.5h.01M1322.9 1717.0h.01M1322.9 1697.0h.01M1327.7 1708.8h.01M1324.4 1702.7h.01M1323.8 1701.6h.01M1324.4 1704.5h.01M1312.0 1705.0h.01M1310.1 1708.0h.01M1300.6 1702.6h.01M1316.6 1696.1h.01M1328.6 1705.6h.01M1319.1 1704.8h.01M1302.2 1692.5h.01M1316.6 1704.3h.01M1321.8 1719.3h.01M1318.3 1697.3h.01" stroke="#7cd47c" stroke-width="2.0" stroke-linecap="square" fill="none"/><path d="M1301.5 1700.5h.01M1305.0 1704.5h.01M1310.5 1695.9h.01M1323.2 1696.8h.01M1304.2 1697.2h.01M1315.6 1699.6h.01M1300.5 1698.9h.01M1326.8 1699.6h.01M1308.5 1708.8h.01M1302.9 1697.8h.01M1316.3 1701.6h.01M1311.8 1700.3h.01M1303.8 1702.6h.01M1304.9 1703.7h.01M1311.6 1700.8h.01M1309.5 1710.0h.01M1306.0 1707.6h.01M1312.7 1712.7h.01M1324.4 1719.0h.01M1321.6 1721.0h.01M1324.7 1709.1h.01M1317.3 1696.7h.01M1314.8 1710.6h.01M1302.2 1694.7h.01M1327.5 1719.2h.01M1313.9 1698.1h.01M1301.9 1693.3h.01M1317.2 1713.9h.01M1316.1 1711.1h.01M1326.5 1700.7h.01M1330.7 1702.9h.01M1305.5 1704.6h.01M1325.3 1700.1h.01M1302.6 1694.9h.01M1305.6 1694.2h.01M1320.3 1700.8h.01M1308.2 1707.2h.01M1315.6 1716.1h.01M1312.5 1702.4h.01M1316.7 1699.8h.01M1318.3 1698.5h.01M1321.9 1695.4h.01M1321.1 1712.6h.01M1303.5 1701.7h.01M1300.6 1697.5h.01M1320.2 1700.3h.01M1315.2 1708.4h.01M1303.7 1705.4h.01M1330.6 1703.9h.01M1328.0 1707.3h.01M1319.0 1718.1h.01M1307.3 1702.6h.01" stroke="#c8c8c8" stroke-width="2.0" stroke-linecap="square" fill="none"/><path d="M1345.2 1699.0h.01M1345.4 1700.2h.01M1344.9 1700.9h.01M1341.7 1700.1h.01M1339.2 1705.3h.01M1339.8 1704.1h.01M1354.4 1698.1h.01M1345.1 1700.6h.01M1340.4 1700.6h.01" stroke="#a8a8a8" stroke-width="2.0" stroke-linecap="square" fill="none"/><path d="M1344.3 1700.4h.01M1344.3 1700.1h.01M1341.0 1697.0h.01M1344.3 1700.6h.01M1339.8 1700.7h.01M1343.6 1696.7h.01M1339.5 1704.6h.01M1342.3 1699.8h.01M1348.5 1703.0h.01M1346.9 1698.0h.01M1341.0 1700.0h.01M1347.8 1701.0h.01M1343.6 1699.1h.01M1354.2 1701.9h.01M1341.9 1703.2h.01M1347.8 1700.0h.01M1342.1 1696.7h.01M1342.5 1695.7h.01M1349.3 1700.3h.01M1347.2 1702.1h.01" stroke="#7cd47c" stroke-width="2.0" stroke-linecap="square" fill="none"/><path d="M1346.2 1701.3h.01M1344.6 1700.1h.01M1345.7 1702.1h.01M1355.0 1701.2h.01M1347.8 1699.8h.01" stroke="#c8c8c8" stroke-width="2.0" stroke-linecap="square" fill="none"/><path d="M1363.8 1697.4h.01M1361.7 1699.1h.01M1360.1 1696.6h.01" stroke="#7cd47c" stroke-width="2.0" stroke-linecap="square" fill="none"/><path d="M1361.9 1697.9h.01M1362.6 1697.5h.01" stroke="#a8a8a8" stroke-width="2.0" stroke-linecap="square" fill="none"/><path d="M1364.5 1697.2h.01M1361.1 1698.5h.01" stroke="#c8c8c8" stroke-width="2.0" stroke-linecap="square" fill="none"/><path d="M1322.6 1678.6h.01M1326.4 1676.7h.01M1325.3 1677.6h.01" stroke="#a8a8a8" stroke-width="2.0" stroke-linecap="square" fill="none"/><path d="M1322.5 1675.5h.01M1324.6 1676.3h.01M1324.6 1675.1h.01" stroke="#7cd47c" stroke-width="2.0" stroke-linecap="square" fill="none"/><path d="M1384.3 1681.4h.01M1383.8 1679.7h.01" stroke="#a8a8a8" stroke-width="2.0" stroke-linecap="square" fill="none"/><path d="M1381.3 1681.1h.01M1384.3 1680.9h.01M1383.2 1682.5h.01M1380.4 1682.5h.01M1379.9 1681.1h.01M1380.7 1682.6h.01M1381.4 1680.6h.01" stroke="#7cd47c" stroke-width="2.0" stroke-linecap="square" fill="none"/><path d="M1284.4 1692.3h.01M1286.7 1693.6h.01M1283.7 1690.8h.01M1284.3 1691.0h.01" stroke="#7cd47c" stroke-width="2.0" stroke-linecap="square" fill="none"/><path d="M1287.5 1695.6h.01M1283.9 1691.0h.01" stroke="#c8c8c8" stroke-width="2.0" stroke-linecap="square" fill="none"/><path d="M1282.3 1690.3h.01M1286.9 1695.3h.01M1284.4 1693.1h.01M1287.0 1691.8h.01M1281.8 1690.3h.01" stroke="#a8a8a8" stroke-width="2.0" stroke-linecap="square" fill="none"/><path d="M1264.1 1645.4h.01M1271.7 1646.2h.01M1271.6 1646.4h.01M1273.5 1644.3h.01M1271.7 1642.8h.01M1264.7 1645.4h.01M1268.7 1645.3h.01" stroke="#e0e0e0" stroke-width="2.0" stroke-linecap="square" fill="none"/><path d="M1273.5 1643.5h.01M1262.1 1644.0h.01M1268.8 1645.4h.01" stroke="#c8c8c8" stroke-width="2.0" stroke-linecap="square" fill="none"/><path d="M1272.6 1643.7h.01M1273.7 1645.7h.01M1270.8 1644.9h.01M1270.1 1646.5h.01" stroke="#a8a8a8" stroke-width="2.0" stroke-linecap="square" fill="none"/><path d="M1266.6 1643.7h.01M1271.7 1645.1h.01M1274.4 1646.1h.01" stroke="#7cd47c" stroke-width="2.0" stroke-linecap="square" fill="none"/><path d="M1279.6 1642.7h.01M1282.5 1641.3h.01M1279.8 1645.6h.01M1281.0 1642.8h.01" stroke="#a8a8a8" stroke-width="2.0" stroke-linecap="square" fill="none"/><path d="M1281.0 1642.4h.01M1280.9 1644.2h.01" stroke="#7cd47c" stroke-width="2.0" stroke-linecap="square" fill="none"/><path d="M1280.1 1642.4h.01" stroke="#c8c8c8" stroke-width="2.0" stroke-linecap="square" fill="none"/><path d="M1287.6 1639.7h.01M1289.0 1642.3h.01" stroke="#a8a8a8" stroke-width="2.0" stroke-linecap="square" fill="none"/><path d="M1289.0 1640.3h.01M1290.2 1644.5h.01" stroke="#c8c8c8" stroke-width="2.0" stroke-linecap="square" fill="none"/><path d="M1292.0 1642.2h.01M1289.2 1643.0h.01M1291.1 1643.9h.01" stroke="#e0e0e0" stroke-width="2.0" stroke-linecap="square" fill="none"/><path d="M1325.2 1629.5h.01M1317.9 1633.0h.01M1321.9 1631.5h.01M1317.7 1634.4h.01M1327.1 1629.4h.01M1324.7 1635.0h.01" stroke="#a8a8a8" stroke-width="2.0" stroke-linecap="square" fill="none"/><path d="M1323.7 1628.5h.01M1322.4 1631.6h.01M1326.3 1629.3h.01M1321.1 1631.3h.01" stroke="#7cd47c" stroke-width="2.0" stroke-linecap="square" fill="none"/><path d="M1321.0 1632.5h.01M1326.6 1627.6h.01M1324.2 1633.7h.01M1319.4 1629.7h.01M1323.1 1632.5h.01M1316.9 1634.1h.01" stroke="#c8c8c8" stroke-width="2.0" stroke-linecap="square" fill="none"/><path d="M1320.0 1631.6h.01M1326.9 1627.6h.01M1320.4 1628.1h.01M1315.8 1631.0h.01M1327.0 1630.3h.01M1326.7 1629.1h.01M1321.4 1630.6h.01M1322.5 1629.4h.01M1327.4 1629.9h.01" stroke="#e0e0e0" stroke-width="2.0" stroke-linecap="square" fill="none"/><path d="M1319.1 1653.3h.01M1320.6 1655.8h.01M1322.2 1655.5h.01" stroke="#c8c8c8" stroke-width="2.0" stroke-linecap="square" fill="none"/><path d="M1323.2 1657.6h.01M1321.0 1653.0h.01" stroke="#e0e0e0" stroke-width="2.0" stroke-linecap="square" fill="none"/><path d="M1323.3 1655.8h.01M1323.6 1656.1h.01M1325.2 1655.9h.01M1321.4 1655.3h.01M1319.3 1655.3h.01" stroke="#a8a8a8" stroke-width="2.0" stroke-linecap="square" fill="none"/><path d="M1322.6 1658.0h.01" stroke="#7cd47c" stroke-width="2.0" stroke-linecap="square" fill="none"/><path d="M1331.5 1644.0h.01M1333.1 1644.3h.01" stroke="#a8a8a8" stroke-width="2.0" stroke-linecap="square" fill="none"/><path d="M1333.3 1641.7h.01M1331.4 1640.7h.01M1333.9 1640.8h.01M1333.0 1641.2h.01" stroke="#c8c8c8" stroke-width="2.0" stroke-linecap="square" fill="none"/><path d="M1332.3 1644.6h.01" stroke="#e0e0e0" stroke-width="2.0" stroke-linecap="square" fill="none"/><path d="M1364.9 1675.1h.01M1362.6 1678.3h.01M1367.3 1668.7h.01M1361.9 1666.9h.01M1362.1 1675.0h.01M1363.2 1680.5h.01M1368.8 1663.2h.01M1362.1 1655.3h.01M1362.5 1655.3h.01" stroke="#e0e0e0" stroke-width="2.0" stroke-linecap="square" fill="none"/><path d="M1362.0 1653.7h.01M1369.0 1666.9h.01M1362.6 1678.5h.01M1366.2 1671.7h.01M1363.4 1655.0h.01M1366.0 1679.3h.01M1364.3 1655.8h.01M1366.7 1678.3h.01M1366.5 1677.9h.01M1365.5 1678.7h.01M1367.9 1667.7h.01M1367.8 1676.9h.01M1365.8 1679.1h.01M1367.3 1666.4h.01M1368.7 1669.2h.01M1367.5 1664.5h.01M1369.9 1666.7h.01M1367.3 1678.3h.01M1367.0 1667.2h.01M1368.4 1664.9h.01M1366.3 1676.0h.01M1365.6 1663.5h.01M1366.1 1674.1h.01M1364.4 1672.0h.01M1362.7 1660.8h.01M1365.6 1664.7h.01M1362.3 1676.8h.01M1361.9 1672.1h.01M1365.2 1659.6h.01M1364.4 1670.5h.01M1371.3 1668.8h.01M1366.6 1675.5h.01" stroke="#c8c8c8" stroke-width="2.0" stroke-linecap="square" fill="none"/><path d="M1359.6 1669.9h.01M1365.9 1677.7h.01M1364.1 1667.1h.01M1362.5 1669.0h.01M1363.4 1656.6h.01M1364.4 1660.8h.01M1359.5 1678.8h.01M1359.2 1670.8h.01M1363.2 1675.1h.01M1362.7 1677.5h.01M1362.5 1677.3h.01M1364.3 1665.2h.01M1362.5 1670.4h.01M1367.7 1676.7h.01M1364.7 1667.1h.01M1363.8 1656.6h.01M1365.3 1658.2h.01M1362.7 1653.5h.01M1361.1 1670.5h.01M1366.2 1665.7h.01M1363.7 1675.1h.01M1368.4 1669.8h.01M1361.9 1679.0h.01M1366.5 1664.9h.01M1367.7 1667.4h.01" stroke="#a8a8a8" stroke-width="2.0" stroke-linecap="square" fill="none"/><path d="M1363.2 1677.2h.01M1361.8 1658.4h.01M1367.5 1668.7h.01M1364.9 1672.4h.01M1369.6 1666.9h.01M1361.5 1651.3h.01M1364.3 1664.4h.01" stroke="#7cd47c" stroke-width="2.0" stroke-linecap="square" fill="none"/><path d="M1258.8 1652.2h.01M1259.5 1651.7h.01M1259.4 1651.7h.01" stroke="#c8c8c8" stroke-width="2.0" stroke-linecap="square" fill="none"/><path d="M1259.3 1651.4h.01M1263.7 1652.8h.01M1261.0 1652.4h.01" stroke="#a8a8a8" stroke-width="2.0" stroke-linecap="square" fill="none"/><path d="M1261.0 1649.8h.01" stroke="#e0e0e0" stroke-width="2.0" stroke-linecap="square" fill="none"/><path d="M1258.8 1651.9h.01" stroke="#7cd47c" stroke-width="2.0" stroke-linecap="square" fill="none"/><path d="M1287.2 1682.5h.01" stroke="#7cd47c" stroke-width="2.0" stroke-linecap="square" fill="none"/><path d="M1286.5 1681.4h.01M1289.0 1680.8h.01M1286.2 1682.2h.01" stroke="#a8a8a8" stroke-width="2.0" stroke-linecap="square" fill="none"/><path d="M1287.6 1681.3h.01M1287.8 1680.7h.01M1287.4 1683.6h.01" stroke="#c8c8c8" stroke-width="2.0" stroke-linecap="square" fill="none"/><path d="M1310.8 1680.7h.01M1310.2 1681.4h.01" stroke="#a8a8a8" stroke-width="2.0" stroke-linecap="square" fill="none"/><path d="M1311.2 1681.2h.01M1312.9 1680.2h.01M1311.6 1682.4h.01" stroke="#7cd47c" stroke-width="2.0" stroke-linecap="square" fill="none"/><path d="M1313.2 1681.5h.01" stroke="#c8c8c8" stroke-width="2.0" stroke-linecap="square" fill="none"/><path d="M1260.8 1663.4h.01M1254.8 1667.7h.01M1263.8 1661.2h.01M1268.0 1657.3h.01M1258.8 1658.8h.01" stroke="#78b4ff" stroke-width="2.0" stroke-linecap="square" fill="none"/><path d="M1257.6 1664.6h.01M1264.3 1663.4h.01M1267.1 1661.8h.01M1249.5 1661.2h.01M1265.7 1662.5h.01M1250.2 1666.4h.01M1267.3 1659.8h.01M1258.2 1663.5h.01M1249.0 1664.4h.01M1262.6 1657.4h.01M1259.7 1657.7h.01M1263.9 1660.7h.01M1263.7 1655.4h.01M1256.6 1663.4h.01M1262.7 1659.3h.01M1261.8 1655.8h.01M1257.8 1660.2h.01M1269.4 1655.3h.01M1269.0 1660.1h.01M1256.7 1660.8h.01M1263.0 1656.5h.01M1255.6 1664.2h.01M1261.6 1659.2h.01M1259.2 1659.3h.01M1261.8 1654.9h.01M1250.9 1665.8h.01M1254.4 1665.2h.01M1258.0 1661.2h.01" stroke="#7cd47c" stroke-width="2.0" stroke-linecap="square" fill="none"/><path d="M1254.4 1660.8h.01M1251.1 1662.6h.01M1260.5 1662.6h.01M1264.8 1655.6h.01M1252.8 1660.2h.01M1265.1 1657.0h.01M1267.6 1661.0h.01M1263.1 1653.7h.01M1266.3 1658.7h.01M1263.9 1652.0h.01M1260.4 1662.1h.01M1259.1 1661.6h.01M1265.8 1656.3h.01M1262.0 1656.3h.01M1257.2 1662.9h.01M1259.2 1660.3h.01M1265.5 1657.2h.01M1261.0 1662.4h.01M1259.2 1665.8h.01M1262.6 1658.5h.01M1261.6 1655.1h.01M1256.8 1659.0h.01M1269.0 1657.1h.01M1264.7 1660.4h.01M1263.4 1654.0h.01M1263.0 1659.3h.01M1252.7 1664.7h.01M1252.8 1665.0h.01M1264.2 1657.5h.01" stroke="#a8a8a8" stroke-width="2.0" stroke-linecap="square" fill="none"/><path d="M1267.0 1655.6h.01M1265.3 1654.5h.01M1261.9 1666.2h.01M1260.6 1660.2h.01M1270.3 1655.3h.01M1254.5 1662.9h.01M1271.5 1653.3h.01M1268.2 1662.0h.01M1262.2 1654.8h.01M1265.6 1656.4h.01" stroke="#e0e0e0" stroke-width="2.0" stroke-linecap="square" fill="none"/><path d="M1255.6 1665.4h.01M1269.1 1658.7h.01M1269.1 1652.4h.01M1252.6 1661.7h.01M1265.6 1662.1h.01M1257.4 1660.0h.01M1263.0 1660.1h.01M1259.0 1660.3h.01M1265.6 1652.1h.01M1258.5 1662.2h.01M1263.2 1658.6h.01M1262.0 1661.1h.01" stroke="#c8c8c8" stroke-width="2.0" stroke-linecap="square" fill="none"/><path d="M1274.3 1669.3h.01M1270.9 1668.8h.01M1277.2 1671.2h.01M1268.7 1669.1h.01M1273.5 1664.0h.01M1270.8 1673.2h.01M1269.1 1666.7h.01M1273.8 1676.5h.01M1267.3 1672.1h.01M1268.2 1666.8h.01M1275.0 1675.7h.01M1269.0 1673.7h.01" stroke="#7cd47c" stroke-width="2.0" stroke-linecap="square" fill="none"/><path d="M1274.2 1671.0h.01M1269.1 1674.9h.01M1266.3 1668.5h.01M1277.2 1671.1h.01M1275.9 1670.2h.01M1273.1 1672.3h.01M1274.6 1665.8h.01M1275.3 1672.0h.01M1267.8 1667.9h.01M1270.7 1667.9h.01M1274.7 1670.6h.01M1271.9 1675.6h.01M1272.6 1665.5h.01M1269.0 1669.7h.01" stroke="#a8a8a8" stroke-width="2.0" stroke-linecap="square" fill="none"/><path d="M1269.4 1672.3h.01M1271.2 1663.4h.01M1274.0 1663.3h.01M1268.5 1666.5h.01M1270.3 1671.5h.01M1269.7 1674.2h.01M1274.6 1675.8h.01M1273.3 1668.1h.01M1274.4 1667.2h.01M1273.2 1666.6h.01M1272.4 1673.7h.01" stroke="#c8c8c8" stroke-width="2.0" stroke-linecap="square" fill="none"/><path d="M1277.4 1670.4h.01M1271.0 1676.1h.01M1273.0 1674.9h.01M1274.0 1666.3h.01M1269.4 1666.9h.01M1273.6 1675.3h.01M1272.1 1663.3h.01" stroke="#e0e0e0" stroke-width="2.0" stroke-linecap="square" fill="none"/><path d="M1268.4 1665.9h.01M1272.6 1667.2h.01M1270.7 1669.1h.01M1269.7 1668.0h.01M1274.4 1672.3h.01M1271.3 1676.1h.01" stroke="#78b4ff" stroke-width="2.0" stroke-linecap="square" fill="none"/><path d="M1286.4 1666.2h.01M1288.8 1665.8h.01M1308.6 1656.4h.01M1313.0 1653.5h.01M1298.6 1664.3h.01M1300.6 1669.1h.01M1313.7 1654.4h.01M1307.8 1659.1h.01M1293.5 1666.9h.01M1289.6 1665.4h.01M1306.4 1658.8h.01M1311.7 1656.1h.01M1302.1 1662.3h.01M1308.8 1649.9h.01M1302.6 1665.0h.01M1300.9 1666.0h.01M1306.1 1650.0h.01" stroke="#e0e0e0" stroke-width="2.0" stroke-linecap="square" fill="none"/><path d="M1307.4 1638.8h.01M1294.1 1657.0h.01M1286.5 1670.9h.01M1308.0 1653.2h.01M1298.3 1667.3h.01M1297.7 1666.3h.01M1290.6 1666.1h.01M1279.6 1669.1h.01M1308.9 1651.3h.01M1299.2 1658.0h.01M1298.9 1667.5h.01M1307.0 1655.6h.01M1304.7 1665.1h.01M1285.8 1664.9h.01M1306.4 1652.3h.01M1283.3 1667.2h.01M1284.2 1666.8h.01M1295.7 1659.3h.01M1300.1 1654.1h.01M1294.3 1665.3h.01M1295.2 1657.6h.01M1291.1 1667.0h.01M1298.5 1658.1h.01M1306.8 1649.2h.01M1279.1 1669.2h.01M1280.6 1668.6h.01M1309.3 1653.9h.01M1303.8 1646.2h.01M1292.7 1666.0h.01M1310.6 1659.8h.01M1305.3 1652.4h.01M1309.1 1641.7h.01M1299.2 1661.3h.01M1292.0 1668.6h.01M1297.8 1663.1h.01M1305.7 1660.4h.01M1307.3 1662.0h.01M1296.1 1664.6h.01M1304.7 1653.3h.01M1308.3 1655.5h.01M1309.8 1651.4h.01M1284.4 1670.4h.01M1286.4 1669.8h.01M1301.1 1668.3h.01M1308.0 1660.0h.01M1306.6 1660.9h.01M1304.4 1662.5h.01M1302.2 1670.0h.01M1304.7 1661.1h.01M1304.0 1660.3h.01M1302.8 1652.0h.01M1306.6 1663.0h.01M1288.0 1668.7h.01M1309.8 1652.0h.01M1311.4 1653.6h.01M1299.2 1664.3h.01M1279.5 1668.3h.01M1280.9 1671.4h.01" stroke="#a8a8a8" stroke-width="2.0" stroke-linecap="square" fill="none"/><path d="M1303.1 1659.2h.01M1300.3 1668.9h.01M1307.0 1655.7h.01M1304.9 1662.6h.01M1307.0 1641.7h.01M1303.2 1665.8h.01M1289.4 1666.2h.01M1297.3 1655.2h.01M1298.8 1672.7h.01M1295.8 1670.7h.01M1297.9 1655.9h.01M1300.3 1658.4h.01M1298.3 1670.6h.01M1288.8 1666.9h.01M1299.8 1663.4h.01M1307.9 1642.3h.01M1301.1 1661.5h.01M1298.8 1654.9h.01M1306.4 1646.3h.01M1293.1 1665.7h.01M1305.4 1660.0h.01M1304.3 1662.5h.01M1289.1 1665.2h.01M1308.3 1657.8h.01M1289.1 1665.9h.01M1291.9 1659.4h.01M1280.2 1669.9h.01M1301.1 1661.0h.01M1309.8 1655.0h.01M1299.5 1671.0h.01M1312.1 1653.9h.01M1292.9 1668.1h.01M1297.0 1668.7h.01M1285.9 1669.9h.01M1298.6 1671.3h.01M1287.6 1666.9h.01M1285.3 1669.9h.01M1305.8 1660.5h.01M1304.8 1665.2h.01M1302.3 1666.1h.01M1306.9 1647.8h.01M1306.4 1664.7h.01M1278.9 1669.3h.01M1301.6 1658.7h.01M1306.1 1656.1h.01M1303.9 1664.8h.01" stroke="#c8c8c8" stroke-width="2.0" stroke-linecap="square" fill="none"/><path d="M1311.8 1656.1h.01M1290.9 1667.6h.01M1284.4 1667.3h.01M1285.2 1668.9h.01M1301.0 1662.5h.01M1296.3 1666.2h.01M1296.1 1658.2h.01M1307.8 1644.6h.01M1287.3 1669.8h.01M1312.5 1655.9h.01M1293.8 1657.3h.01M1305.8 1656.4h.01M1290.1 1658.7h.01M1285.7 1669.4h.01M1306.1 1646.8h.01M1299.3 1669.4h.01M1292.2 1664.5h.01M1293.1 1665.5h.01M1278.8 1668.0h.01M1296.2 1656.4h.01M1293.6 1667.3h.01M1293.3 1664.3h.01M1310.1 1656.5h.01M1303.2 1654.9h.01M1291.1 1667.7h.01M1290.3 1663.6h.01M1311.4 1659.6h.01M1306.7 1641.0h.01M1300.8 1663.4h.01M1306.1 1644.3h.01M1301.9 1658.7h.01M1287.1 1668.3h.01M1310.1 1658.7h.01M1305.1 1654.6h.01M1280.6 1672.2h.01M1307.1 1638.9h.01M1306.4 1644.8h.01M1302.7 1665.2h.01M1310.9 1663.1h.01M1298.2 1669.6h.01M1298.0 1666.4h.01M1286.0 1666.2h.01M1305.3 1645.4h.01M1307.8 1651.4h.01M1304.1 1652.3h.01M1299.2 1654.3h.01M1281.3 1667.7h.01M1309.2 1650.7h.01M1299.5 1665.3h.01M1294.9 1668.7h.01M1307.3 1642.8h.01M1284.7 1667.3h.01M1297.3 1657.4h.01M1310.8 1658.8h.01M1309.5 1646.5h.01" stroke="#7cd47c" stroke-width="2.0" stroke-linecap="square" fill="none"/><path d="M1304.3 1657.5h.01M1281.3 1669.3h.01M1307.4 1664.2h.01M1308.9 1655.6h.01M1290.5 1667.9h.01M1301.4 1667.8h.01M1309.7 1653.0h.01M1308.4 1662.1h.01M1307.8 1648.3h.01M1310.3 1660.9h.01M1306.4 1647.4h.01M1305.2 1659.5h.01M1296.1 1668.4h.01M1308.8 1658.8h.01" stroke="#78b4ff" stroke-width="2.0" stroke-linecap="square" fill="none"/><path d="M1352.4 1635.0h.01M1346.1 1629.8h.01M1346.3 1631.9h.01M1343.9 1632.7h.01M1344.6 1629.8h.01M1346.6 1629.2h.01M1341.3 1635.1h.01M1346.1 1630.1h.01M1349.0 1627.8h.01M1343.8 1634.7h.01" stroke="#7cd47c" stroke-width="2.0" stroke-linecap="square" fill="none"/><path d="M1344.9 1631.1h.01M1350.3 1633.4h.01M1350.5 1631.4h.01M1343.6 1633.6h.01M1352.3 1629.8h.01M1346.8 1627.7h.01M1350.8 1632.8h.01M1349.8 1631.3h.01" stroke="#78b4ff" stroke-width="2.0" stroke-linecap="square" fill="none"/><path d="M1342.3 1634.2h.01M1347.3 1631.5h.01M1343.8 1635.4h.01M1350.9 1633.4h.01M1352.4 1632.6h.01M1354.1 1633.7h.01M1343.0 1632.1h.01M1343.3 1633.7h.01M1341.7 1631.4h.01M1353.5 1634.9h.01M1341.1 1633.2h.01M1352.7 1632.1h.01M1341.6 1633.5h.01" stroke="#a8a8a8" stroke-width="2.0" stroke-linecap="square" fill="none"/><path d="M1345.5 1630.3h.01M1349.8 1630.9h.01" stroke="#e0e0e0" stroke-width="2.0" stroke-linecap="square" fill="none"/><path d="M1343.3 1628.7h.01M1349.8 1628.8h.01" stroke="#c8c8c8" stroke-width="2.0" stroke-linecap="square" fill="none"/><path d="M1331.7 1655.1h.01M1341.1 1650.9h.01M1354.9 1655.7h.01M1353.7 1660.5h.01M1334.5 1653.1h.01M1332.2 1652.9h.01M1354.1 1654.4h.01M1335.7 1653.2h.01M1329.2 1655.6h.01M1337.0 1653.1h.01M1333.5 1649.8h.01M1338.2 1652.1h.01M1349.8 1648.5h.01M1335.7 1649.1h.01M1344.2 1652.7h.01" stroke="#c8c8c8" stroke-width="2.0" stroke-linecap="square" fill="none"/><path d="M1345.0 1651.0h.01M1356.2 1651.4h.01M1347.4 1649.1h.01M1342.5 1651.3h.01M1333.0 1650.3h.01M1333.4 1649.7h.01M1338.7 1652.5h.01M1353.8 1656.3h.01M1350.7 1648.6h.01M1332.1 1654.8h.01M1353.8 1646.2h.01M1349.2 1650.0h.01M1341.7 1651.7h.01M1331.6 1651.7h.01M1342.5 1651.0h.01M1329.9 1653.5h.01M1349.9 1649.2h.01M1328.8 1650.5h.01M1350.7 1652.8h.01M1351.4 1647.2h.01M1355.8 1654.9h.01M1354.9 1662.1h.01M1332.2 1648.1h.01M1353.1 1654.6h.01M1345.5 1651.8h.01M1331.2 1652.6h.01M1355.1 1647.2h.01M1340.1 1650.7h.01" stroke="#7cd47c" stroke-width="2.0" stroke-linecap="square" fill="none"/><path d="M1330.6 1650.4h.01M1335.1 1651.5h.01M1346.4 1648.6h.01M1344.2 1652.1h.01M1351.1 1652.1h.01" stroke="#78b4ff" stroke-width="2.0" stroke-linecap="square" fill="none"/><path d="M1353.8 1662.1h.01M1336.6 1649.9h.01M1337.2 1650.2h.01M1346.2 1651.2h.01M1342.3 1653.4h.01M1339.4 1650.6h.01M1353.6 1652.8h.01M1343.7 1653.1h.01M1329.8 1649.7h.01M1329.7 1652.8h.01M1346.9 1653.1h.01M1345.9 1648.6h.01M1356.7 1651.0h.01M1346.6 1648.3h.01M1341.6 1649.1h.01M1342.5 1650.9h.01M1328.0 1652.1h.01M1333.5 1649.8h.01M1349.0 1651.2h.01" stroke="#a8a8a8" stroke-width="2.0" stroke-linecap="square" fill="none"/><path d="M1332.7 1651.3h.01M1350.7 1653.7h.01M1349.0 1652.0h.01M1354.2 1650.2h.01M1340.4 1651.3h.01M1328.3 1650.4h.01M1331.6 1651.0h.01M1355.9 1658.0h.01M1354.1 1656.9h.01" stroke="#e0e0e0" stroke-width="2.0" stroke-linecap="square" fill="none"/><path d="M1331.3 1671.9h.01M1331.5 1675.5h.01M1339.7 1668.5h.01M1331.4 1667.1h.01M1341.4 1672.5h.01M1338.9 1673.7h.01M1340.5 1671.3h.01M1333.0 1675.0h.01M1335.2 1670.7h.01M1342.0 1664.7h.01M1340.9 1669.2h.01M1333.9 1670.0h.01M1332.9 1673.9h.01M1331.1 1667.2h.01M1329.8 1668.2h.01M1331.4 1672.0h.01M1341.9 1671.5h.01" stroke="#a8a8a8" stroke-width="2.0" stroke-linecap="square" fill="none"/><path d="M1338.8 1673.9h.01M1340.5 1666.5h.01M1340.6 1674.1h.01M1338.6 1669.0h.01M1331.9 1668.5h.01M1342.2 1670.5h.01M1330.0 1674.8h.01M1339.6 1670.7h.01M1342.4 1672.1h.01M1339.1 1667.7h.01M1332.3 1670.6h.01M1330.3 1679.8h.01M1340.6 1669.7h.01" stroke="#c8c8c8" stroke-width="2.0" stroke-linecap="square" fill="none"/><path d="M1337.1 1669.9h.01M1339.3 1667.5h.01M1339.3 1673.3h.01M1332.2 1672.6h.01" stroke="#78b4ff" stroke-width="2.0" stroke-linecap="square" fill="none"/><path d="M1331.9 1669.0h.01M1339.1 1668.9h.01M1331.7 1669.3h.01M1332.3 1673.3h.01M1340.8 1667.9h.01M1333.7 1678.3h.01M1332.1 1676.4h.01M1331.6 1674.9h.01M1335.8 1675.6h.01M1333.5 1677.6h.01M1340.4 1674.5h.01M1334.9 1673.8h.01M1337.6 1675.2h.01M1336.3 1674.2h.01M1337.3 1675.4h.01M1333.1 1677.3h.01M1332.9 1668.1h.01M1331.3 1678.7h.01M1328.3 1667.0h.01" stroke="#7cd47c" stroke-width="2.0" stroke-linecap="square" fill="none"/><path d="M1333.2 1675.8h.01M1333.1 1673.9h.01M1340.3 1676.3h.01M1338.9 1674.2h.01M1340.8 1670.3h.01M1331.7 1677.7h.01" stroke="#e0e0e0" stroke-width="2.0" stroke-linecap="square" fill="none"/><path d="M1387.9 1657.3h.01M1389.3 1660.3h.01M1383.1 1663.4h.01M1388.9 1660.3h.01M1385.4 1661.9h.01" stroke="#c8c8c8" stroke-width="2.0" stroke-linecap="square" fill="none"/><path d="M1381.5 1664.5h.01M1380.7 1666.5h.01M1385.8 1665.8h.01M1383.7 1667.0h.01M1388.0 1662.4h.01M1387.7 1657.3h.01M1387.8 1663.1h.01M1378.5 1667.4h.01" stroke="#7cd47c" stroke-width="2.0" stroke-linecap="square" fill="none"/><path d="M1384.7 1662.8h.01M1386.6 1661.5h.01M1388.7 1658.4h.01M1379.2 1667.2h.01M1389.1 1660.2h.01" stroke="#78b4ff" stroke-width="2.0" stroke-linecap="square" fill="none"/><path d="M1383.4 1668.1h.01M1383.5 1664.4h.01M1382.8 1668.0h.01M1381.4 1667.1h.01M1385.8 1663.5h.01" stroke="#e0e0e0" stroke-width="2.0" stroke-linecap="square" fill="none"/><path d="M1387.0 1660.5h.01M1382.7 1664.4h.01M1386.0 1661.5h.01M1387.5 1656.7h.01M1384.5 1663.0h.01M1381.2 1664.8h.01" stroke="#a8a8a8" stroke-width="2.0" stroke-linecap="square" fill="none"/><path d="M1400.6 1679.8h.01M1394.6 1689.5h.01M1402.6 1682.7h.01M1395.6 1687.4h.01M1407.9 1677.5h.01M1405.6 1680.6h.01M1403.5 1679.5h.01M1398.7 1682.5h.01M1408.7 1676.1h.01M1405.2 1676.8h.01M1398.6 1687.2h.01M1399.6 1684.6h.01" stroke="#a8a8a8" stroke-width="2.0" stroke-linecap="square" fill="none"/><path d="M1409.1 1673.3h.01M1396.9 1682.8h.01M1399.0 1677.5h.01M1404.8 1679.0h.01M1407.7 1676.3h.01M1403.9 1679.9h.01M1406.9 1674.5h.01M1402.4 1680.6h.01" stroke="#78b4ff" stroke-width="2.0" stroke-linecap="square" fill="none"/><path d="M1400.3 1685.6h.01M1395.0 1685.9h.01M1393.2 1688.3h.01M1394.1 1688.0h.01M1398.1 1683.7h.01M1396.6 1688.5h.01M1402.6 1676.5h.01M1399.0 1680.5h.01M1398.1 1687.7h.01M1404.2 1674.7h.01M1398.9 1681.9h.01M1406.0 1679.5h.01M1400.5 1681.8h.01M1391.4 1686.7h.01M1404.1 1681.9h.01M1396.6 1677.3h.01M1393.4 1686.5h.01M1397.2 1687.0h.01M1400.9 1683.9h.01" stroke="#7cd47c" stroke-width="2.0" stroke-linecap="square" fill="none"/><path d="M1395.5 1686.4h.01M1407.2 1677.4h.01M1393.9 1687.5h.01M1407.0 1676.5h.01M1408.1 1675.1h.01" stroke="#e0e0e0" stroke-width="2.0" stroke-linecap="square" fill="none"/><path d="M1401.4 1676.7h.01M1400.1 1682.6h.01" stroke="#c8c8c8" stroke-width="2.0" stroke-linecap="square" fill="none"/><path d="M1413.6 1679.0h.01M1409.6 1683.8h.01M1414.1 1682.6h.01M1412.7 1683.9h.01M1412.1 1688.0h.01" stroke="#78b4ff" stroke-width="2.0" stroke-linecap="square" fill="none"/><path d="M1413.7 1684.3h.01M1406.0 1685.2h.01M1412.5 1683.4h.01M1410.7 1688.2h.01M1408.4 1689.5h.01" stroke="#e0e0e0" stroke-width="2.0" stroke-linecap="square" fill="none"/><path d="M1410.8 1685.9h.01M1409.0 1688.0h.01M1411.2 1687.2h.01M1409.8 1684.7h.01M1408.4 1682.5h.01M1410.2 1689.0h.01M1411.6 1686.6h.01M1408.3 1689.8h.01M1409.6 1680.9h.01M1409.2 1681.7h.01M1409.6 1688.5h.01M1412.1 1683.5h.01M1412.5 1684.7h.01" stroke="#a8a8a8" stroke-width="2.0" stroke-linecap="square" fill="none"/><path d="M1415.3 1683.8h.01M1410.8 1688.9h.01M1409.5 1685.6h.01M1413.4 1683.9h.01M1412.2 1680.1h.01M1412.4 1682.7h.01M1407.6 1687.4h.01M1410.1 1688.9h.01M1408.5 1688.0h.01M1415.8 1683.2h.01M1408.0 1686.2h.01M1407.2 1683.4h.01M1407.1 1684.8h.01" stroke="#7cd47c" stroke-width="2.0" stroke-linecap="square" fill="none"/><path d="M1407.0 1682.7h.01M1412.1 1683.2h.01M1410.7 1690.2h.01" stroke="#c8c8c8" stroke-width="2.0" stroke-linecap="square" fill="none"/><path d="M1376.9 1655.4h.01M1376.1 1656.5h.01" stroke="#a8a8a8" stroke-width="2.0" stroke-linecap="square" fill="none"/><path d="M1378.1 1658.5h.01M1377.8 1654.7h.01" stroke="#c8c8c8" stroke-width="2.0" stroke-linecap="square" fill="none"/><path d="M1377.7 1658.1h.01M1375.4 1658.8h.01" stroke="#7cd47c" stroke-width="2.0" stroke-linecap="square" fill="none"/><path d="M1378.2 1657.9h.01" stroke="#e0e0e0" stroke-width="2.0" stroke-linecap="square" fill="none"/><path d="M1366.7 1679.9h.01M1363.1 1664.6h.01M1265.1 1641.3h.01M1332.0 1668.0h.01M1285.0 1679.1h.01M1263.8 1647.8h.01M1287.6 1673.0h.01M1287.3 1648.1h.01M1300.8 1696.2h.01M1336.4 1661.5h.01M1311.3 1698.7h.01M1334.1 1647.2h.01M1278.9 1654.6h.01M1310.1 1638.1h.01M1341.1 1692.1h.01M1356.0 1648.4h.01M1310.3 1666.4h.01M1309.9 1710.7h.01M1368.6 1699.5h.01M1294.6 1697.6h.01M1269.7 1672.4h.01M1286.3 1689.9h.01M1301.3 1637.2h.01M1357.9 1631.1h.01M1307.1 1652.0h.01M1307.8 1665.9h.01M1290.7 1634.9h.01M1392.5 1698.8h.01" stroke="#c8c8c8" stroke-width="1.6" stroke-linecap="square" fill="none"/><path d="M1382.1 1690.5h.01M1377.9 1653.9h.01M1263.6 1646.5h.01M1340.0 1662.6h.01M1306.3 1665.6h.01M1362.5 1694.8h.01M1380.9 1665.1h.01M1338.7 1655.0h.01M1329.3 1708.1h.01M1380.7 1696.4h.01M1339.2 1701.4h.01M1307.0 1662.9h.01M1298.9 1676.0h.01M1315.8 1639.8h.01" stroke="#e0e0e0" stroke-width="1.6" stroke-linecap="square" fill="none"/><path d="M1283.4 1657.9h.01M1357.9 1658.5h.01M1402.1 1694.1h.01M1331.8 1646.7h.01M1374.9 1653.1h.01M1336.6 1717.0h.01M1306.9 1707.0h.01M1327.7 1707.1h.01" stroke="#a8a8a8" stroke-width="1.6" stroke-linecap="square" fill="none"/><path d="M1354.1 1675.2l1 1l-1 1l-1 -1z" fill="#3050ff"/><g transform="translate(1181.00,1181.00)">
<g stroke="#000" stroke-width="1.05" fill="none" stroke-dasharray="3.3 4.97"><line x1="12.68" y1="50.35" x2="486.3" y2="50.35"/><line x1="12.68" y1="134.90" x2="486.3" y2="134.90"/><line x1="12.68" y1="219.45" x2="486.3" y2="219.45"/><line x1="12.68" y1="304.00" x2="486.3" y2="304.00"/><line x1="12.68" y1="388.55" x2="486.3" y2="388.55"/><line x1="12.68" y1="473.10" x2="486.3" y2="473.10"/></g><g stroke="#000" stroke-width="1.35" fill="none" stroke-dasharray="2.9 5.39"><line x1="37.80" y1="40.87" x2="37.80" y2="548.4"/><line x1="116.54" y1="40.87" x2="116.54" y2="548.4"/><line x1="195.28" y1="40.87" x2="195.28" y2="548.4"/><line x1="274.02" y1="40.87" x2="274.02" y2="548.4"/><line x1="352.76" y1="40.87" x2="352.76" y2="548.4"/><line x1="431.50" y1="40.87" x2="431.50" y2="548.4"/></g><text x="37.50" y="283" class="gl" text-anchor="middle">-126</text><text x="116.24" y="283" class="gl" text-anchor="middle">-124</text><text x="194.98" y="283" class="gl" text-anchor="middle">-122</text><text x="273.72" y="283" class="gl" text-anchor="middle">-120</text><text x="352.46" y="283" class="gl" text-anchor="middle">-118</text><text x="431.20" y="283" class="gl" text-anchor="middle">-116</text><text x="254.2" y="49.80" class="gl" text-anchor="middle">22</text><text x="254.2" y="134.35" class="gl" text-anchor="middle">20</text><text x="254.2" y="218.90" class="gl" text-anchor="middle">18</text><text x="254.2" y="303.45" class="gl" text-anchor="middle">16</text><text x="254.2" y="388.00" class="gl" text-anchor="middle">14</text><text x="254.2" y="472.55" class="gl" text-anchor="middle">12</text><g stroke="#000" stroke-width="1.15" fill="none" stroke-dasharray="12.2 11.4"><path d="M12.65 331.9Q157.7 436.3 302.7 548.3"/><path d="M12.65 444.5Q82.7 495.3 152.7 548.3"/></g><path d="M242.95 294.5H255.95M249.45 288.05V300.95" stroke="#000" stroke-width="4.55" fill="none"/><text x="37" y="65.6" class="tt">2A23 storm height (km)</text><text x="438.3" y="522.8" class="pl">(i)</text><rect x="495.0" y="531.48" width="8.9" height="8.81" fill="#f8f8f8"/><rect x="495.0" y="523.02" width="8.9" height="8.81" fill="#f0f0f0"/><rect x="495.0" y="514.56" width="8.9" height="8.81" fill="#e9e9e9"/><rect x="495.0" y="506.10" width="8.9" height="8.81" fill="#e1e1e1"/><rect x="495.0" y="497.64" width="8.9" height="8.81" fill="#dadada"/><rect x="495.0" y="489.18" width="8.9" height="8.81" fill="#d2d2d2"/><rect x="495.0" y="480.72" width="8.9" height="8.81" fill="#cbcbcb"/><rect x="495.0" y="472.26" width="8.9" height="8.81" fill="#c3c3c3"/><rect x="495.0" y="463.80" width="8.9" height="8.81" fill="#bcbcbc"/><rect x="495.0" y="455.34" width="8.9" height="8.81" fill="#b4b4b4"/><rect x="495.0" y="446.88" width="8.9" height="8.81" fill="#adadad"/><rect x="495.0" y="438.42" width="8.9" height="8.81" fill="#a5a5a5"/><rect x="495.0" y="429.96" width="8.9" height="8.81" fill="#9e9e9e"/><rect x="495.0" y="421.50" width="8.9" height="8.81" fill="#969696"/><rect x="495.0" y="413.04" width="8.9" height="8.81" fill="#8be88b"/><rect x="495.0" y="404.58" width="8.9" height="8.81" fill="#83dd83"/><rect x="495.0" y="396.12" width="8.9" height="8.81" fill="#7bd27b"/><rect x="495.0" y="387.66" width="8.9" height="8.81" fill="#73c873"/><rect x="495.0" y="379.20" width="8.9" height="8.81" fill="#6bbd6b"/><rect x="495.0" y="370.74" width="8.9" height="8.81" fill="#d0d8ff"/><rect x="495.0" y="362.28" width="8.9" height="8.81" fill="#b8d0ff"/><rect x="495.0" y="353.82" width="8.9" height="8.81" fill="#a0c6ff"/><rect x="495.0" y="345.36" width="8.9" height="8.81" fill="#88c0ff"/><rect x="495.0" y="336.90" width="8.9" height="8.81" fill="#70b8ff"/><rect x="495.0" y="328.44" width="8.9" height="8.81" fill="#50b0ff"/><rect x="495.0" y="319.98" width="8.9" height="8.81" fill="#488cff"/><rect x="495.0" y="311.52" width="8.9" height="8.81" fill="#4070ff"/><rect x="495.0" y="303.06" width="8.9" height="8.81" fill="#3c50ff"/><rect x="495.0" y="294.60" width="8.9" height="8.81" fill="#3030ff"/><rect x="495.0" y="286.14" width="8.9" height="8.81" fill="#0000ff"/><rect x="495.0" y="277.68" width="8.9" height="8.81" fill="#0000ef"/><rect x="495.0" y="269.22" width="8.9" height="8.81" fill="#0000de"/><rect x="495.0" y="260.76" width="8.9" height="8.81" fill="#0000ce"/><rect x="495.0" y="252.30" width="8.9" height="8.81" fill="#0000be"/><rect x="495.0" y="243.84" width="8.9" height="8.81" fill="#ffff00"/><rect x="495.0" y="235.38" width="8.9" height="8.81" fill="#fff200"/><rect x="495.0" y="226.92" width="8.9" height="8.81" fill="#ffe600"/><rect x="495.0" y="218.46" width="8.9" height="8.81" fill="#ffd900"/><rect x="495.0" y="210.00" width="8.9" height="8.81" fill="#ffcc00"/><rect x="495.0" y="201.54" width="8.9" height="8.81" fill="#ff9000"/><rect x="495.0" y="193.08" width="8.9" height="8.81" fill="#ff8800"/><rect x="495.0" y="184.62" width="8.9" height="8.81" fill="#ff8000"/><rect x="495.0" y="176.16" width="8.9" height="8.81" fill="#ff7800"/><rect x="495.0" y="167.70" width="8.9" height="8.81" fill="#ff7000"/><rect x="495.0" y="159.24" width="8.9" height="8.81" fill="#ff4000"/><rect x="495.0" y="150.78" width="8.9" height="8.81" fill="#ff3500"/><rect x="495.0" y="142.32" width="8.9" height="8.81" fill="#ff2a00"/><rect x="495.0" y="133.86" width="8.9" height="8.81" fill="#ff1f00"/><rect x="495.0" y="125.40" width="8.9" height="8.81" fill="#ff1400"/><rect x="495.0" y="116.94" width="8.9" height="8.81" fill="#c80000"/><rect x="495.0" y="108.48" width="8.9" height="8.81" fill="#be0401"/><rect x="495.0" y="100.02" width="8.9" height="8.81" fill="#b40702"/><rect x="495.0" y="91.56" width="8.9" height="8.81" fill="#aa0a03"/><rect x="495.0" y="83.10" width="8.9" height="8.81" fill="#a00e04"/><rect x="495.0" y="74.64" width="8.9" height="8.81" fill="#620c04"/><rect x="495.0" y="66.18" width="8.9" height="8.81" fill="#5e100a"/><rect x="495.0" y="57.72" width="8.9" height="8.81" fill="#5b140f"/><rect x="495.0" y="49.26" width="8.9" height="8.81" fill="#581814"/><rect x="495.0" y="40.80" width="8.9" height="8.81" fill="#541c1a"/><line x1="503.59999999999997" y1="91.56" x2="506.09999999999997" y2="91.56" stroke="#000" stroke-width="1"/><text x="532.6" y="99.86" class="cb" text-anchor="middle">18.0</text><line x1="503.59999999999997" y1="142.32" x2="506.09999999999997" y2="142.32" stroke="#000" stroke-width="1"/><text x="532.6" y="150.62" class="cb" text-anchor="middle">16.0</text><line x1="503.59999999999997" y1="193.08" x2="506.09999999999997" y2="193.08" stroke="#000" stroke-width="1"/><text x="532.6" y="201.38" class="cb" text-anchor="middle">14.0</text><line x1="503.59999999999997" y1="243.84" x2="506.09999999999997" y2="243.84" stroke="#000" stroke-width="1"/><text x="532.6" y="252.14" class="cb" text-anchor="middle">12.0</text><line x1="503.59999999999997" y1="294.60" x2="506.09999999999997" y2="294.60" stroke="#000" stroke-width="1"/><text x="532.6" y="302.90" class="cb" text-anchor="middle">10.0</text><line x1="503.59999999999997" y1="345.36" x2="506.09999999999997" y2="345.36" stroke="#000" stroke-width="1"/><text x="532.6" y="353.66" class="cb" text-anchor="middle">8.0</text><line x1="503.59999999999997" y1="396.12" x2="506.09999999999997" y2="396.12" stroke="#000" stroke-width="1"/><text x="532.6" y="404.42" class="cb" text-anchor="middle">6.0</text><line x1="503.59999999999997" y1="446.88" x2="506.09999999999997" y2="446.88" stroke="#000" stroke-width="1"/><text x="532.6" y="455.18" class="cb" text-anchor="middle">4.0</text><line x1="503.59999999999997" y1="497.64" x2="506.09999999999997" y2="497.64" stroke="#000" stroke-width="1"/><text x="532.6" y="505.94" class="cb" text-anchor="middle">2.0</text><line x1="503.59999999999997" y1="548.40" x2="506.09999999999997" y2="548.40" stroke="#000" stroke-width="1"/><text x="532.6" y="556.70" class="cb" text-anchor="middle">0.0</text></g>
</g></svg>
</body></html>
